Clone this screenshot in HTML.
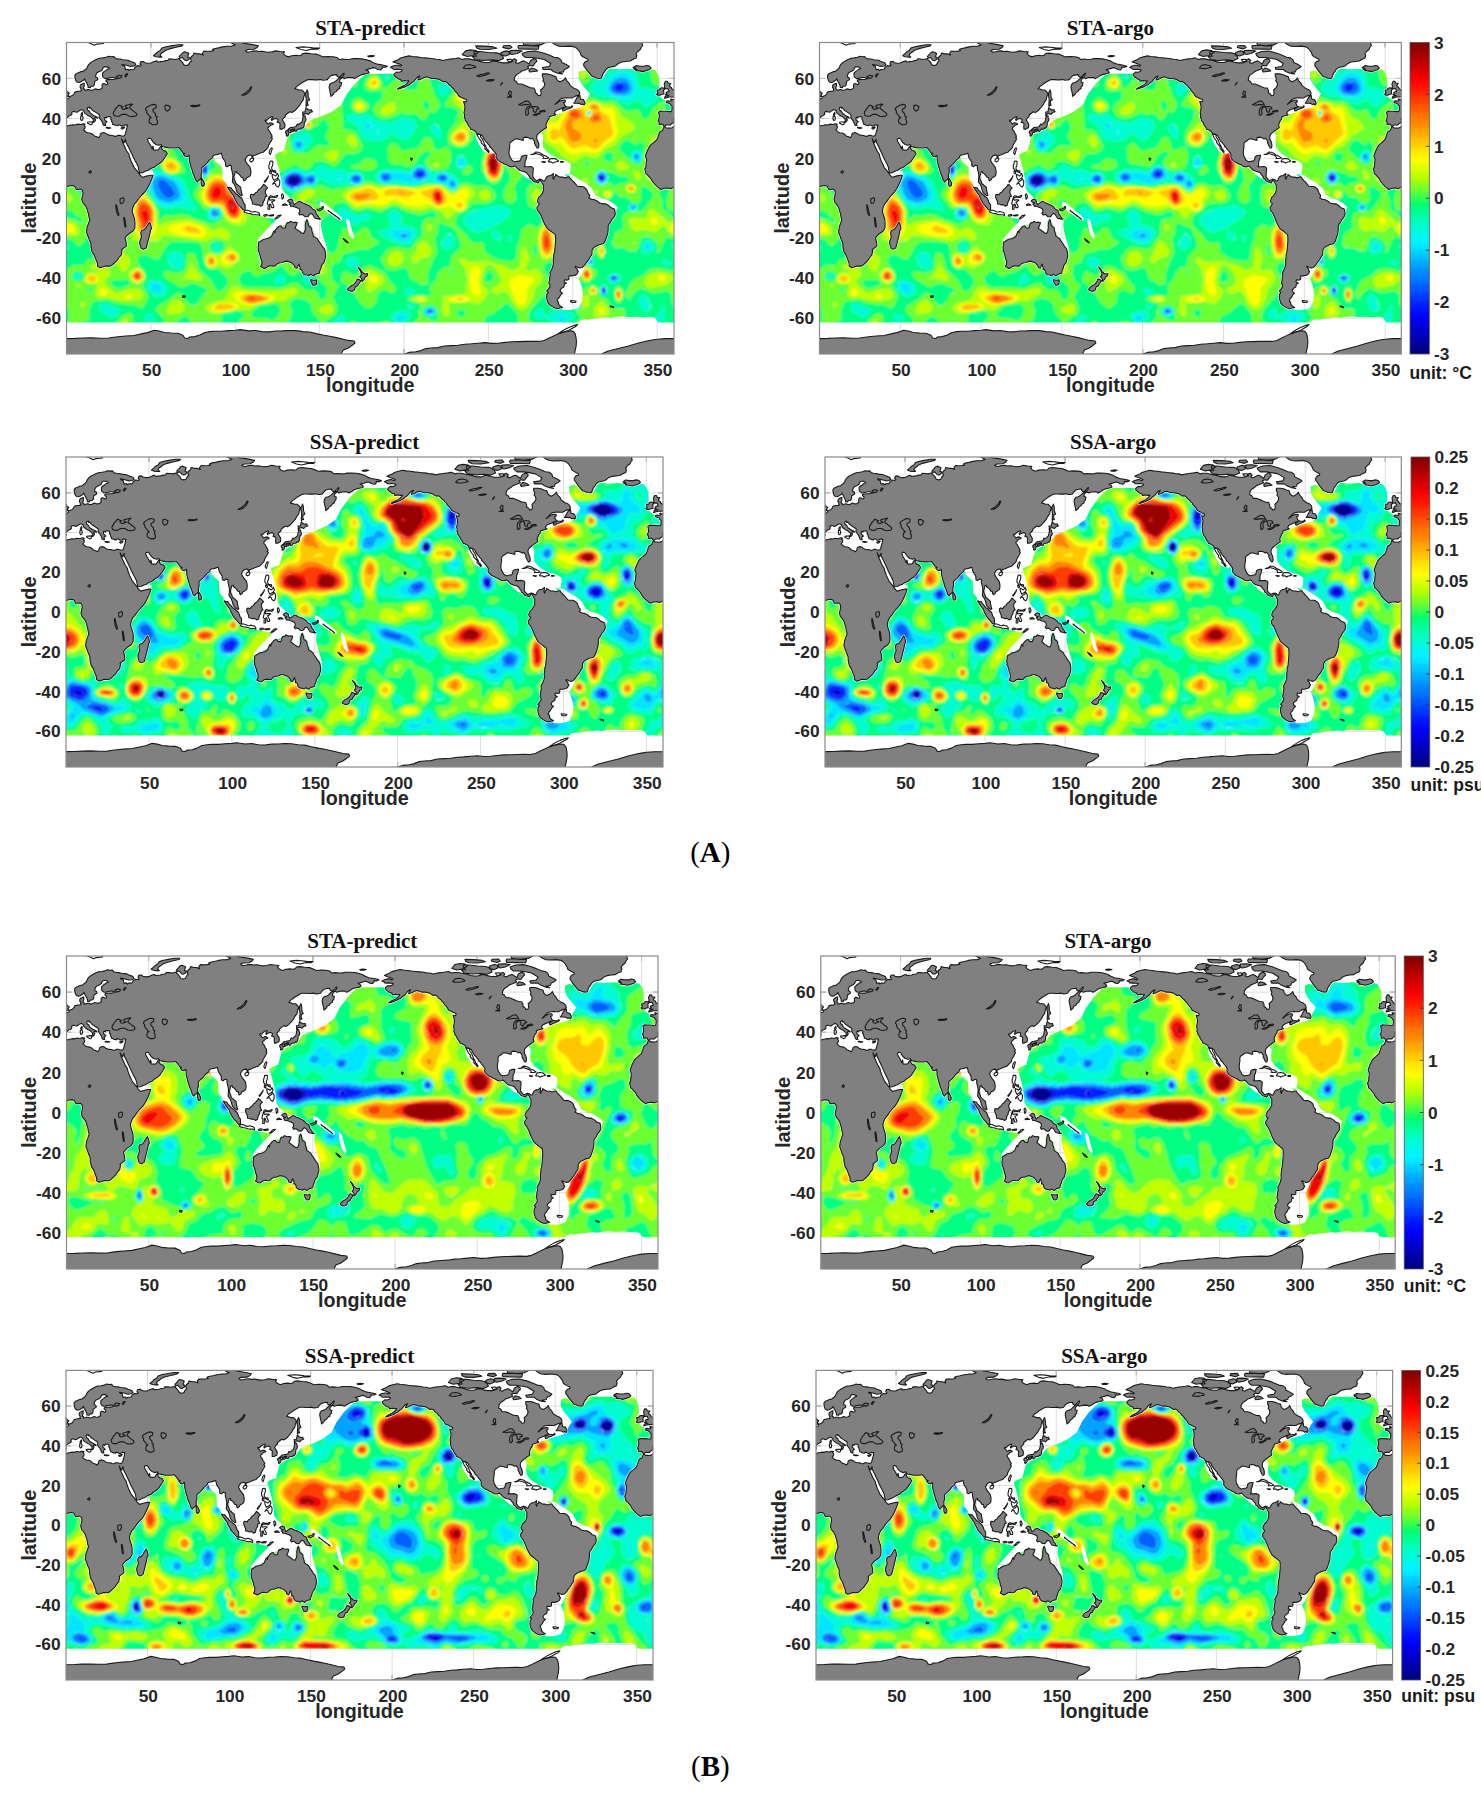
<!DOCTYPE html><html><head><meta charset="utf-8"><style>html,body{margin:0;padding:0;background:#fff;overflow:hidden;}svg{display:block}</style></head><body>
<svg width="1481" height="1800" viewBox="0 0 1481 1800">
<defs>
<clipPath id="cp"><rect x="0" y="-78" width="360" height="156"/></clipPath>
<path id="lp" vector-effect="non-scaling-stroke" d="M-5.9,-35.8L-6.8,-34L-8.5,-33.2L-9.6,-30.5L-10.2,-29.3L-12,-28L-13.5,-27L-14.5,-26L-15.8,-23.8L-16.5,-22.3L-17,-21L-16.2,-19.5L-16.5,-17.5L-16.7,-15.5L-17.4,-14.7L-16.8,-13.2L-16.7,-12.3L-15.5,-11.5L-14.7,-10.7L-13.5,-9.6L-12.8,-8.4L-11.3,-6.9L-9.8,-5.7L-7.7,-4.4L-5.8,-5L-3.5,-5.1L-2,-4.8L0,-5.6L1.6,-6.2L3.5,-6.4L4.8,-6L5.8,-4.4L7,-4.4L8.4,-4.6L9.5,-3.8L9.8,-2.5L9.4,-1L9,0.6L9.6,2.2L11.2,3.8L12,5L12.3,6L13,7.8L13.3,9.5L13.8,10.8L12.9,12.9L12.2,14.4L11.8,17L12.5,18.5L13.5,20.8L14.4,22.5L14.5,24.5L15.2,27L16.5,28.6L17.3,30.5L18.3,32.5L18.4,34L19.8,34.8L21.5,34.4L23,33.9L25.6,34L26.8,33.6L28.5,32.3L30,31.1L31,29.8L32.4,28.5L32.9,26.2L32.6,25.8L35.5,24L35.3,21.8L34.7,20L35.2,19.2L36.8,17.9L39.3,16.5L40.5,15L40.6,12.5L40.4,10.5L39.4,8L38.9,6.3L39.3,4.8L40.2,3L41.6,1.7L43,0L44.5,-1.5L46.5,-3.2L48,-5L49.5,-7.5L50.5,-9.5L51.3,-11.5L50,-11.5L48,-11.2L45,-10.5L43.5,-11.7L42.9,-12.6L41.5,-14L40,-15.5L39.2,-17L38.4,-18.3L37.4,-20.5L37,-22L35.6,-23.8L34.5,-25.8L33.5,-27.5L32.6,-29.8L33.3,-28.6L34.2,-27.8L34.5,-28.8L35,-29.5L35.2,-28L36.5,-26L37.5,-24.3L38.8,-22L39.3,-21L40.5,-19L41.5,-17.5L42.6,-15.6L42.8,-14.5L43.3,-12.7L45,-12.8L47,-13.6L48.5,-14L50,-14.9L52.2,-15.6L53.5,-16.6L55.3,-17.5L56.6,-18.4L57.8,-19.8L58.6,-20.8L59.8,-22.4L58.8,-23.6L57.5,-23.9L56.4,-24.8L56.3,-26.3L55.5,-25.6L54.5,-24.3L53,-24.1L51.6,-24.2L51.4,-25.5L51.2,-26.1L50.8,-24.8L50.2,-25.8L49.6,-26.8L48.5,-28.2L48,-29.5L48.6,-30L49.5,-30L50.3,-29.6L50.8,-28.7L51.5,-27.9L53,-26.9L54.6,-26.5L56,-26.9L57,-25.8L58.5,-25.6L61,-25.2L62.5,-25.2L64.5,-25.2L66.5,-25.4L67.3,-24.6L68.3,-23.6L68.8,-22.8L70,-22.5L69.2,-22.1L70.3,-21L71.5,-20.8L72.6,-21.5L72.8,-20.3L72.8,-18.9L73.3,-17.2L73.8,-15.6L74.4,-14.2L74.8,-12.8L75.6,-11.4L76.2,-10L76.6,-8.9L77.5,-8.1L78.2,-8.9L79,-9.3L79.9,-10.3L79.8,-11.8L80.3,-13.1L80.2,-15.3L81,-15.9L82.3,-16.8L83.5,-17.8L84.8,-19.2L86.5,-20.2L87,-21.4L88.2,-21.8L89,-21.8L90.5,-22.2L91.8,-22.5L92.2,-21.2L92.4,-20.3L93.3,-19.3L94.2,-18L94.3,-16.2L95.3,-15.8L96.5,-16.6L97.7,-16.3L97.7,-14.8L98.2,-13.2L98.6,-11.5L98.5,-10L98.3,-8.5L98.5,-7.9L99.6,-6.8L100.3,-5.2L100.7,-3.9L101.3,-2.8L102.5,-1.9L103.5,-1.3L104.2,-1.5L103.8,-2.6L103.4,-4.2L103.2,-5.5L102.2,-6.2L101.2,-6.9L100.4,-7.4L100,-8.5L99.3,-9.8L99.2,-10.8L99.6,-12L100,-13.3L100.9,-13.4L100.9,-12.7L102,-12.2L102.8,-11.5L103.6,-10.5L104.5,-10.4L104.8,-9.3L105.1,-8.7L106.2,-9.3L106.8,-10.3L107.8,-10.6L109,-11.4L109.3,-12.8L109.2,-14L108.8,-15.4L108,-16.3L107,-17.3L106.3,-18.3L105.8,-19.2L106.5,-20.4L107.5,-21.3L108.6,-21.6L109.7,-21.5L109.9,-20.5L110.4,-20.3L110.5,-21.2L111.5,-21.5L112.5,-21.8L113.5,-22.2L114.2,-22.4L115.5,-22.8L116.5,-23L117.5,-23.8L118.5,-24.6L119.4,-25.4L119.7,-26.5L120.3,-27.3L121,-28.3L121.6,-29.1L122,-30L121.3,-30.5L121.9,-31L121.5,-31.8L120.9,-32.5L120.4,-33.5L119.3,-34.6L119.4,-35.3L120.4,-36L121,-36.6L122.5,-37L122.3,-37.4L121.4,-37.7L120.5,-37.8L119.4,-37.2L118.9,-37.6L118.3,-38.3L117.6,-38.8L117.8,-39.2L118.8,-39.1L119.5,-39.8L120.8,-40.5L121.9,-40.9L122.2,-40.4L121.3,-39.5L121.6,-38.9L122.3,-39.4L123.3,-39.8L124.3,-39.9L125.2,-39.5L125.3,-38.7L124.8,-38.1L126,-37.8L126.6,-37.1L126.4,-36L126.5,-34.6L127.5,-34.6L128.5,-35L129.3,-35.3L129.5,-36.5L129.4,-37.2L128.6,-38.3L127.9,-39.3L128.5,-40L129.7,-40.9L129.7,-41.7L130.7,-42.3L131.5,-42.8L132.3,-43.3L133.5,-42.9L135.2,-43.8L136.8,-45.2L138.2,-46.6L139.1,-48L140.3,-49.3L140.6,-50.7L141.3,-52.4L140.6,-53.3L139.5,-54.2L137.6,-54.2L136.8,-54.6L135.3,-54.8L136.3,-55.9L137.9,-56.8L139.3,-57.7L141.2,-58.6L142.5,-59.2L143.5,-59.4L145.5,-59.4L147.2,-59.3L148.8,-59.3L150.5,-59.5L152,-59.1L153.3,-59.2L154.6,-59.4L155.2,-60.2L156.7,-61.4L158.5,-61.8L160.2,-61.9L160.3,-61.2L161.5,-60.4L163.2,-61.6L163.8,-62.3L164.6,-62.6L164.2,-61.5L163.5,-60.9L163.6,-60.5L162.6,-59.9L162,-59.3L161.8,-58.2L163.1,-57.8L162.8,-57.1L162.7,-56.3L161.8,-55.7L161.9,-55L160.5,-54.3L159.8,-53.4L158.6,-52.9L158.3,-52.2L156.7,-51L156.4,-52.5L156,-54L155.6,-55.5L155.9,-56.8L156.8,-57.7L158.3,-58L159.6,-58.7L161,-59.8L161.5,-60.1L162,-60.4L163.3,-60.7L164.5,-59.9L165.5,-60.2L166.5,-60.4L168,-60.5L169.8,-60.4L170.5,-59.9L171.5,-60.3L172.5,-60.8L173.8,-61.5L175,-61.9L176.8,-62.3L178.5,-62.5L179.3,-63L178.7,-63.8L177.4,-64.4L178.5,-64.6L180,-64.9L181.5,-65.4L182.8,-65.3L184.5,-64.5L186.2,-64.3L187.1,-65L187,-65.7L189,-65.6L190.2,-66.1L188.5,-66.5L186,-66.9L184,-67.2L181.5,-68L180,-68.8L177,-69.5L175,-69.8L172,-69.9L169.5,-69.9L168,-69.6L166,-69.5L163.5,-69.7L161.5,-69.5L160.3,-70.5L158,-70.9L155,-71L152,-70.8L150.5,-71.4L148,-72.2L145,-72.4L142,-72.7L140,-72.5L139,-71.6L137.5,-71.4L136,-71.6L133.5,-71.4L131.5,-70.8L129.5,-71.5L128.5,-72.5L129.2,-73.3L126.5,-73.5L124,-73.8L122,-73.3L119,-73.1L116,-73.6L113.5,-73.5L112.5,-73.8L110.5,-73.7L109,-73.4L107,-73.2L106,-73.9L107.5,-74.5L111,-74.6L113,-75.5L113.7,-76.3L111,-76.8L107.5,-77.3L104.5,-77.7L101,-79L95,-79L100,-76.8L98,-76.2L95,-76.1L92.5,-75.8L90,-75.3L87.5,-74.9L86.5,-74.5L87.2,-73.9L85.5,-73.7L83,-73.6L81.5,-73.7L80.5,-72.6L81,-71.7L79,-72.3L77.5,-72.3L75.5,-72.7L75,-71.5L74,-71L73.5,-69.8L74,-68.8L73.2,-68.2L72.3,-66.8L71,-66.5L69.5,-66.8L69,-67.7L68.2,-68.5L67.8,-68.9L66.9,-69.5L67.2,-70.4L66.8,-71L68,-72L69,-73L70,-73.4L71.5,-73L72.5,-72.5L72,-71.5L71.8,-70.7L73,-70.5L72.5,-69.5L71,-68.9L70,-69.2L68.6,-70.5L68,-70.4L66.2,-69.9L64.5,-69.5L62.5,-69.7L60.7,-69.8L60,-69L58.5,-68.9L57,-68.5L55.5,-68.4L54,-68.2L53.5,-68.8L52,-68.5L50,-67.7L48,-67.6L46.5,-67.9L45.5,-68.5L44,-68.4L43.5,-67.3L44.3,-66.6L43.8,-66.2L42,-66.4L40.5,-65.5L40,-64.6L38,-64.5L37,-64L36.5,-64.6L35,-64.4L34.7,-65.3L34.5,-66.2L33.2,-66.5L32.8,-67L35,-66.7L38,-66L40,-66.2L41.1,-66.8L40.5,-67.7L39.5,-68.1L38,-68.5L36.5,-69.1L33.5,-69.4L31.8,-69.7L30.5,-69.8L29,-70L28,-71L26.5,-70.9L25,-71.1L23.5,-70.6L21.5,-70.3L19.5,-70.1L18,-69.6L16.5,-69L15,-68.3L14,-67.7L13,-66.8L12.5,-66L12.2,-65.3L11.3,-64.5L10.5,-64.1L9.8,-63.5L8.5,-63.4L7,-62.8L5.8,-62.4L5,-61.7L5,-60.5L5.3,-59.5L5.6,-58.8L6.5,-58.1L7.5,-58L8.3,-58.2L9.5,-58.8L10.4,-59.3L10.6,-59.9L11,-59.2L11.3,-58.7L11.8,-58L12.5,-56.9L12.8,-56.2L12.8,-55.5L14.2,-55.4L14.4,-56.1L15.8,-56.1L16.5,-56.8L16.6,-57.6L16.7,-58.5L17.5,-58.9L18.6,-59.5L18.3,-60.4L17.3,-60.7L17.3,-61.6L17.8,-62.5L18.5,-63.1L20.2,-63.7L21.2,-64.3L21.5,-65L22.3,-65.8L23.9,-65.8L25.2,-65.4L25.4,-64.9L24.4,-64.7L23.2,-63.9L22.3,-63.4L21.3,-62.6L21.4,-61.6L21.5,-60.8L22.3,-60.3L22.9,-59.9L24,-60L25.5,-60.3L26.8,-60.5L28,-60.5L29,-60.2L30,-59.9L29,-59.9L28,-59.5L26.5,-59.5L24.5,-59.4L23.5,-59.2L23.4,-58.6L24,-58.2L24.4,-57.8L24.3,-57.1L23.5,-56.9L23,-57.2L21.9,-57.5L21.2,-57L21,-56.4L21.1,-55.8L21.2,-55.2L20.5,-54.9L19.8,-54.5L18.6,-54.4L17.2,-54.8L16,-54.3L14.5,-54L13.5,-54.4L12.5,-54.4L11.5,-54.1L10.8,-54L10.8,-54.6L10,-54.9L10.2,-55.6L10.6,-56.3L10.4,-56.8L10.6,-57.6L9.9,-57.5L9,-57.1L8.4,-56.8L8.1,-56.3L8.1,-55.5L8.6,-54.9L8.6,-54.3L8.9,-53.9L8.2,-53.6L7,-53.6L6,-53.4L5,-53.2L4.7,-52.6L4.2,-52L3.6,-51.5L3,-51.3L2.4,-51.05L1.6,-50.9L1.6,-50.3L1.2,-50L0.3,-49.7L0,-49.4L-1.1,-49.4L-1.3,-49.7L-1.9,-49.7L-1.6,-48.8L-2.5,-48.6L-3.5,-48.8L-4.6,-48.6L-4.3,-48.1L-4.5,-47.9L-3.5,-47.7L-2.6,-47.4L-2.1,-47.1L-1.9,-46.6L-1.2,-46.1L-1.2,-45.2L-1.2,-44.4L-1.5,-43.5L-2.5,-43.4L-3.8,-43.5L-5,-43.6L-6.5,-43.6L-8,-43.7L-9.2,-43.1L-8.9,-42.3L-8.8,-41.5L-8.7,-40.6L-9,-39.8L-9.4,-39.2L-9.5,-38.7L-8.9,-38.5L-8.8,-37.9L-8.9,-37L-7.9,-37L-7.4,-37.2L-6.5,-36.9L-6.2,-36.3L-5.6,-36L-5,-36.5L-4.4,-36.7L-3,-36.7L-2.1,-36.7L-1.3,-37.5L-0.7,-37.6L-0.3,-38.3L0.2,-38.7L-0.3,-39.4L0,-40L0.8,-40.7L1.5,-41.2L2.2,-41.4L3.2,-41.9L3.1,-43L4,-43.5L4.8,-43.4L5.5,-43.2L6.3,-43.1L7,-43.5L7.6,-43.8L8.5,-44.3L9.3,-44.3L10,-44L10.5,-43.3L10.6,-42.9L11.2,-42.4L11.8,-42L12.5,-41.6L13.2,-41.2L14,-41L14.6,-40.6L15.1,-40.2L15.7,-39.8L16,-39L15.7,-38.2L16.1,-38L16.6,-38.4L17.1,-38.9L17.2,-39.4L16.6,-39.7L16.9,-40.4L17.5,-40.3L18.5,-40.1L18.1,-40.6L17,-41.1L16,-41.5L15.3,-41.9L14.5,-42.3L13.9,-42.9L13.6,-43.6L12.5,-44.2L12.3,-45.2L12.9,-45.6L13.7,-45.7L13.6,-45.1L14.3,-45.2L14.9,-44.6L15.6,-43.9L16.5,-43.5L17.3,-43L18.5,-42.4L19.4,-41.9L19.5,-41.3L19.3,-40.4L20,-39.6L20.6,-39L21.1,-38.3L21.6,-37.3L21.7,-36.8L22.4,-36.4L23.2,-36.4L22.9,-37.5L23.5,-38L24,-38.2L23.2,-38.9L22.6,-39.3L22.6,-40.2L22.9,-40.6L23.7,-40.2L24,-40.8L25.3,-40.9L26.1,-40.7L26.4,-40.2L26.2,-39.5L26.8,-39L26.8,-38.4L27.3,-37.5L27.4,-37L28.3,-36.8L29.2,-36.4L30.4,-36.3L30.7,-36.8L31.6,-36.7L32.6,-36.1L33.6,-36.2L34.6,-36.8L35.6,-36.6L36.2,-36.6L35.8,-36.1L35.9,-35.3L35.5,-34.2L35.1,-33L34.8,-32.1L34.3,-31.3L33.5,-31.1L32.3,-31.3L31.6,-31.5L30.4,-31.5L29.5,-31L28.3,-31.1L27.3,-31.4L25.2,-31.6L24,-32L23.1,-32.6L22,-32.9L20.9,-32.7L20.1,-32.2L19.9,-31.3L19.1,-30.3L18,-30.8L16.5,-31.2L15.3,-32.2L14,-32.7L12.5,-32.8L11.5,-33.2L10.8,-33.7L10.1,-34.3L10.9,-35.1L11.1,-35.9L10.4,-36.7L11,-37.1L10.1,-37.3L9.3,-37.2L8.4,-36.9L6.4,-37.1L5.2,-36.7L3.5,-36.8L2.4,-36.6L1,-36.4L0,-35.9L-1.2,-35.3L-2.2,-35.1L-3.5,-35.2L-4.6,-35.2L-5.4,-35.9ZM354.1,-35.8L353.2,-34L351.5,-33.2L350.4,-30.5L349.8,-29.3L348,-28L346.5,-27L345.5,-26L344.2,-23.8L343.5,-22.3L343,-21L343.8,-19.5L343.5,-17.5L343.3,-15.5L342.6,-14.7L343.2,-13.2L343.3,-12.3L344.5,-11.5L345.3,-10.7L346.5,-9.6L347.2,-8.4L348.7,-6.9L350.2,-5.7L352.3,-4.4L354.2,-5L356.5,-5.1L358,-4.8L360,-5.6L361.6,-6.2L363.5,-6.4L364.8,-6L365.8,-4.4L367,-4.4L368.4,-4.6L369.5,-3.8L369.8,-2.5L369.4,-1L369,0.6L369.6,2.2L371.2,3.8L372,5L372.3,6L373,7.8L373.3,9.5L373.8,10.8L372.9,12.9L372.2,14.4L371.8,17L372.5,18.5L373.5,20.8L374.4,22.5L374.5,24.5L375.2,27L376.5,28.6L377.3,30.5L378.3,32.5L378.4,34L379.8,34.8L381.5,34.4L383,33.9L385.6,34L386.8,33.6L388.5,32.3L390,31.1L391,29.8L392.4,28.5L392.9,26.2L392.6,25.8L395.5,24L395.3,21.8L394.7,20L395.2,19.2L396.8,17.9L399.3,16.5L400.5,15L400.6,12.5L400.4,10.5L399.4,8L398.9,6.3L399.3,4.8L400.2,3L401.6,1.7L403,0L404.5,-1.5L406.5,-3.2L408,-5L409.5,-7.5L410.5,-9.5L411.3,-11.5L410,-11.5L408,-11.2L405,-10.5L403.5,-11.7L402.9,-12.6L401.5,-14L400,-15.5L399.2,-17L398.4,-18.3L397.4,-20.5L397,-22L395.6,-23.8L394.5,-25.8L393.5,-27.5L392.6,-29.8L393.3,-28.6L394.2,-27.8L394.5,-28.8L395,-29.5L395.2,-28L396.5,-26L397.5,-24.3L398.8,-22L399.3,-21L400.5,-19L401.5,-17.5L402.6,-15.6L402.8,-14.5L403.3,-12.7L405,-12.8L407,-13.6L408.5,-14L410,-14.9L412.2,-15.6L413.5,-16.6L415.3,-17.5L416.6,-18.4L417.8,-19.8L418.6,-20.8L419.8,-22.4L418.8,-23.6L417.5,-23.9L416.4,-24.8L416.3,-26.3L415.5,-25.6L414.5,-24.3L413,-24.1L411.6,-24.2L411.4,-25.5L411.2,-26.1L410.8,-24.8L410.2,-25.8L409.6,-26.8L408.5,-28.2L408,-29.5L408.6,-30L409.5,-30L410.3,-29.6L410.8,-28.7L411.5,-27.9L413,-26.9L414.6,-26.5L416,-26.9L417,-25.8L418.5,-25.6L421,-25.2L422.5,-25.2L424.5,-25.2L426.5,-25.4L427.3,-24.6L428.3,-23.6L428.8,-22.8L430,-22.5L429.2,-22.1L430.3,-21L431.5,-20.8L432.6,-21.5L432.8,-20.3L432.8,-18.9L433.3,-17.2L433.8,-15.6L434.4,-14.2L434.8,-12.8L435.6,-11.4L436.2,-10L436.6,-8.9L437.5,-8.1L438.2,-8.9L439,-9.3L439.9,-10.3L439.8,-11.8L440.3,-13.1L440.2,-15.3L441,-15.9L442.3,-16.8L443.5,-17.8L444.8,-19.2L446.5,-20.2L447,-21.4L448.2,-21.8L449,-21.8L450.5,-22.2L451.8,-22.5L452.2,-21.2L452.4,-20.3L453.3,-19.3L454.2,-18L454.3,-16.2L455.3,-15.8L456.5,-16.6L457.7,-16.3L457.7,-14.8L458.2,-13.2L458.6,-11.5L458.5,-10L458.3,-8.5L458.5,-7.9L459.6,-6.8L460.3,-5.2L460.7,-3.9L461.3,-2.8L462.5,-1.9L463.5,-1.3L464.2,-1.5L463.8,-2.6L463.4,-4.2L463.2,-5.5L462.2,-6.2L461.2,-6.9L460.4,-7.4L460,-8.5L459.3,-9.8L459.2,-10.8L459.6,-12L460,-13.3L460.9,-13.4L460.9,-12.7L462,-12.2L462.8,-11.5L463.6,-10.5L464.5,-10.4L464.8,-9.3L465.1,-8.7L466.2,-9.3L466.8,-10.3L467.8,-10.6L469,-11.4L469.3,-12.8L469.2,-14L468.8,-15.4L468,-16.3L467,-17.3L466.3,-18.3L465.8,-19.2L466.5,-20.4L467.5,-21.3L468.6,-21.6L469.7,-21.5L469.9,-20.5L470.4,-20.3L470.5,-21.2L471.5,-21.5L472.5,-21.8L473.5,-22.2L474.2,-22.4L475.5,-22.8L476.5,-23L477.5,-23.8L478.5,-24.6L479.4,-25.4L479.7,-26.5L480.3,-27.3L481,-28.3L481.6,-29.1L482,-30L481.3,-30.5L481.9,-31L481.5,-31.8L480.9,-32.5L480.4,-33.5L479.3,-34.6L479.4,-35.3L480.4,-36L481,-36.6L482.5,-37L482.3,-37.4L481.4,-37.7L480.5,-37.8L479.4,-37.2L478.9,-37.6L478.3,-38.3L477.6,-38.8L477.8,-39.2L478.8,-39.1L479.5,-39.8L480.8,-40.5L481.9,-40.9L482.2,-40.4L481.3,-39.5L481.6,-38.9L482.3,-39.4L483.3,-39.8L484.3,-39.9L485.2,-39.5L485.3,-38.7L484.8,-38.1L486,-37.8L486.6,-37.1L486.4,-36L486.5,-34.6L487.5,-34.6L488.5,-35L489.3,-35.3L489.5,-36.5L489.4,-37.2L488.6,-38.3L487.9,-39.3L488.5,-40L489.7,-40.9L489.7,-41.7L490.7,-42.3L491.5,-42.8L492.3,-43.3L493.5,-42.9L495.2,-43.8L496.8,-45.2L498.2,-46.6L499.1,-48L500.3,-49.3L500.6,-50.7L501.3,-52.4L500.6,-53.3L499.5,-54.2L497.6,-54.2L496.8,-54.6L495.3,-54.8L496.3,-55.9L497.9,-56.8L499.3,-57.7L501.2,-58.6L502.5,-59.2L503.5,-59.4L505.5,-59.4L507.2,-59.3L508.8,-59.3L510.5,-59.5L512,-59.1L513.3,-59.2L514.6,-59.4L515.2,-60.2L516.7,-61.4L518.5,-61.8L520.2,-61.9L520.3,-61.2L521.5,-60.4L523.2,-61.6L523.8,-62.3L524.6,-62.6L524.2,-61.5L523.5,-60.9L523.6,-60.5L522.6,-59.9L522,-59.3L521.8,-58.2L523.1,-57.8L522.8,-57.1L522.7,-56.3L521.8,-55.7L521.9,-55L520.5,-54.3L519.8,-53.4L518.6,-52.9L518.3,-52.2L516.7,-51L516.4,-52.5L516,-54L515.6,-55.5L515.9,-56.8L516.8,-57.7L518.3,-58L519.6,-58.7L521,-59.8L521.5,-60.1L522,-60.4L523.3,-60.7L524.5,-59.9L525.5,-60.2L526.5,-60.4L528,-60.5L529.8,-60.4L530.5,-59.9L531.5,-60.3L532.5,-60.8L533.8,-61.5L535,-61.9L536.8,-62.3L538.5,-62.5L539.3,-63L538.7,-63.8L537.4,-64.4L538.5,-64.6L540,-64.9L541.5,-65.4L542.8,-65.3L544.5,-64.5L546.2,-64.3L547.1,-65L547,-65.7L549,-65.6L550.2,-66.1L548.5,-66.5L546,-66.9L544,-67.2L541.5,-68L540,-68.8L537,-69.5L535,-69.8L532,-69.9L529.5,-69.9L528,-69.6L526,-69.5L523.5,-69.7L521.5,-69.5L520.3,-70.5L518,-70.9L515,-71L512,-70.8L510.5,-71.4L508,-72.2L505,-72.4L502,-72.7L500,-72.5L499,-71.6L497.5,-71.4L496,-71.6L493.5,-71.4L491.5,-70.8L489.5,-71.5L488.5,-72.5L489.2,-73.3L486.5,-73.5L484,-73.8L482,-73.3L479,-73.1L476,-73.6L473.5,-73.5L472.5,-73.8L470.5,-73.7L469,-73.4L467,-73.2L466,-73.9L467.5,-74.5L471,-74.6L473,-75.5L473.7,-76.3L471,-76.8L467.5,-77.3L464.5,-77.7L461,-79L455,-79L460,-76.8L458,-76.2L455,-76.1L452.5,-75.8L450,-75.3L447.5,-74.9L446.5,-74.5L447.2,-73.9L445.5,-73.7L443,-73.6L441.5,-73.7L440.5,-72.6L441,-71.7L439,-72.3L437.5,-72.3L435.5,-72.7L435,-71.5L434,-71L433.5,-69.8L434,-68.8L433.2,-68.2L432.3,-66.8L431,-66.5L429.5,-66.8L429,-67.7L428.2,-68.5L427.8,-68.9L426.9,-69.5L427.2,-70.4L426.8,-71L428,-72L429,-73L430,-73.4L431.5,-73L432.5,-72.5L432,-71.5L431.8,-70.7L433,-70.5L432.5,-69.5L431,-68.9L430,-69.2L428.6,-70.5L428,-70.4L426.2,-69.9L424.5,-69.5L422.5,-69.7L420.7,-69.8L420,-69L418.5,-68.9L417,-68.5L415.5,-68.4L414,-68.2L413.5,-68.8L412,-68.5L410,-67.7L408,-67.6L406.5,-67.9L405.5,-68.5L404,-68.4L403.5,-67.3L404.3,-66.6L403.8,-66.2L402,-66.4L400.5,-65.5L400,-64.6L398,-64.5L397,-64L396.5,-64.6L395,-64.4L394.7,-65.3L394.5,-66.2L393.2,-66.5L392.8,-67L395,-66.7L398,-66L400,-66.2L401.1,-66.8L400.5,-67.7L399.5,-68.1L398,-68.5L396.5,-69.1L393.5,-69.4L391.8,-69.7L390.5,-69.8L389,-70L388,-71L386.5,-70.9L385,-71.1L383.5,-70.6L381.5,-70.3L379.5,-70.1L378,-69.6L376.5,-69L375,-68.3L374,-67.7L373,-66.8L372.5,-66L372.2,-65.3L371.3,-64.5L370.5,-64.1L369.8,-63.5L368.5,-63.4L367,-62.8L365.8,-62.4L365,-61.7L365,-60.5L365.3,-59.5L365.6,-58.8L366.5,-58.1L367.5,-58L368.3,-58.2L369.5,-58.8L370.4,-59.3L370.6,-59.9L371,-59.2L371.3,-58.7L371.8,-58L372.5,-56.9L372.8,-56.2L372.8,-55.5L374.2,-55.4L374.4,-56.1L375.8,-56.1L376.5,-56.8L376.6,-57.6L376.7,-58.5L377.5,-58.9L378.6,-59.5L378.3,-60.4L377.3,-60.7L377.3,-61.6L377.8,-62.5L378.5,-63.1L380.2,-63.7L381.2,-64.3L381.5,-65L382.3,-65.8L383.9,-65.8L385.2,-65.4L385.4,-64.9L384.4,-64.7L383.2,-63.9L382.3,-63.4L381.3,-62.6L381.4,-61.6L381.5,-60.8L382.3,-60.3L382.9,-59.9L384,-60L385.5,-60.3L386.8,-60.5L388,-60.5L389,-60.2L390,-59.9L389,-59.9L388,-59.5L386.5,-59.5L384.5,-59.4L383.5,-59.2L383.4,-58.6L384,-58.2L384.4,-57.8L384.3,-57.1L383.5,-56.9L383,-57.2L381.9,-57.5L381.2,-57L381,-56.4L381.1,-55.8L381.2,-55.2L380.5,-54.9L379.8,-54.5L378.6,-54.4L377.2,-54.8L376,-54.3L374.5,-54L373.5,-54.4L372.5,-54.4L371.5,-54.1L370.8,-54L370.8,-54.6L370,-54.9L370.2,-55.6L370.6,-56.3L370.4,-56.8L370.6,-57.6L369.9,-57.5L369,-57.1L368.4,-56.8L368.1,-56.3L368.1,-55.5L368.6,-54.9L368.6,-54.3L368.9,-53.9L368.2,-53.6L367,-53.6L366,-53.4L365,-53.2L364.7,-52.6L364.2,-52L363.6,-51.5L363,-51.3L362.4,-51.05L361.6,-50.9L361.6,-50.3L361.2,-50L360.3,-49.7L360,-49.4L358.9,-49.4L358.7,-49.7L358.1,-49.7L358.4,-48.8L357.5,-48.6L356.5,-48.8L355.4,-48.6L355.7,-48.1L355.5,-47.9L356.5,-47.7L357.4,-47.4L357.9,-47.1L358.1,-46.6L358.8,-46.1L358.8,-45.2L358.8,-44.4L358.5,-43.5L357.5,-43.4L356.2,-43.5L355,-43.6L353.5,-43.6L352,-43.7L350.8,-43.1L351.1,-42.3L351.2,-41.5L351.3,-40.6L351,-39.8L350.6,-39.2L350.5,-38.7L351.1,-38.5L351.2,-37.9L351.1,-37L352.1,-37L352.6,-37.2L353.5,-36.9L353.8,-36.3L354.4,-36L355,-36.5L355.6,-36.7L357,-36.7L357.9,-36.7L358.7,-37.5L359.3,-37.6L359.7,-38.3L360.2,-38.7L359.7,-39.4L360,-40L360.8,-40.7L361.5,-41.2L362.2,-41.4L363.2,-41.9L363.1,-43L364,-43.5L364.8,-43.4L365.5,-43.2L366.3,-43.1L367,-43.5L367.6,-43.8L368.5,-44.3L369.3,-44.3L370,-44L370.5,-43.3L370.6,-42.9L371.2,-42.4L371.8,-42L372.5,-41.6L373.2,-41.2L374,-41L374.6,-40.6L375.1,-40.2L375.7,-39.8L376,-39L375.7,-38.2L376.1,-38L376.6,-38.4L377.1,-38.9L377.2,-39.4L376.6,-39.7L376.9,-40.4L377.5,-40.3L378.5,-40.1L378.1,-40.6L377,-41.1L376,-41.5L375.3,-41.9L374.5,-42.3L373.9,-42.9L373.6,-43.6L372.5,-44.2L372.3,-45.2L372.9,-45.6L373.7,-45.7L373.6,-45.1L374.3,-45.2L374.9,-44.6L375.6,-43.9L376.5,-43.5L377.3,-43L378.5,-42.4L379.4,-41.9L379.5,-41.3L379.3,-40.4L380,-39.6L380.6,-39L381.1,-38.3L381.6,-37.3L381.7,-36.8L382.4,-36.4L383.2,-36.4L382.9,-37.5L383.5,-38L384,-38.2L383.2,-38.9L382.6,-39.3L382.6,-40.2L382.9,-40.6L383.7,-40.2L384,-40.8L385.3,-40.9L386.1,-40.7L386.4,-40.2L386.2,-39.5L386.8,-39L386.8,-38.4L387.3,-37.5L387.4,-37L388.3,-36.8L389.2,-36.4L390.4,-36.3L390.7,-36.8L391.6,-36.7L392.6,-36.1L393.6,-36.2L394.6,-36.8L395.6,-36.6L396.2,-36.6L395.8,-36.1L395.9,-35.3L395.5,-34.2L395.1,-33L394.8,-32.1L394.3,-31.3L393.5,-31.1L392.3,-31.3L391.6,-31.5L390.4,-31.5L389.5,-31L388.3,-31.1L387.3,-31.4L385.2,-31.6L384,-32L383.1,-32.6L382,-32.9L380.9,-32.7L380.1,-32.2L379.9,-31.3L379.1,-30.3L378,-30.8L376.5,-31.2L375.3,-32.2L374,-32.7L372.5,-32.8L371.5,-33.2L370.8,-33.7L370.1,-34.3L370.9,-35.1L371.1,-35.9L370.4,-36.7L371,-37.1L370.1,-37.3L369.3,-37.2L368.4,-36.9L366.4,-37.1L365.2,-36.7L363.5,-36.8L362.4,-36.6L361,-36.4L360,-35.9L358.8,-35.3L357.8,-35.1L356.5,-35.2L355.4,-35.2L354.6,-35.9ZM192,-65.6L193.5,-66.2L195.5,-66.6L196.5,-66.6L198,-66.1L198.7,-66.6L197,-67.3L195.5,-67.7L193.5,-68.3L195,-68.9L196.8,-69.5L198,-70.2L200.5,-70.8L203,-71.3L205,-71L207.5,-70.8L210,-70.5L212.5,-70.3L215,-70.1L217.5,-69.9L219,-69.6L221,-69.5L223,-69L225,-69.4L226.5,-69.6L228.5,-69.8L230.5,-70L232.5,-70.3L234.5,-69.5L236,-69.8L238.5,-69.8L241,-69.3L243.5,-69L246,-68.3L248,-68L250.5,-68L252,-68.6L254,-68.8L256,-68.2L258.5,-67.8L261.5,-67.8L263.5,-68.3L264.5,-69.5L265.7,-69.8L266.8,-69L266,-68L267.5,-67.5L269.5,-68.4L271,-68.8L272.2,-68.3L274,-67.2L275,-69L277,-70L278.5,-69.3L278.7,-68.5L277.5,-67.5L276.5,-66.3L274.5,-66.5L273.2,-66L274,-65L272.5,-64.5L271,-64L269.5,-63.6L268.5,-62.8L266.5,-61.8L265.5,-60.5L265.3,-59L266.5,-58.6L267.5,-57.2L269.5,-57.2L271.5,-56.6L273.5,-55.8L275,-55.3L277,-55.2L277.8,-54L277.8,-52.8L279,-52.2L279.6,-51.4L280.8,-51.5L281.3,-52.5L281,-54.2L282.7,-55.5L283.4,-56.8L283.1,-58L282.3,-58.8L282.7,-60L282,-61L282,-62.3L284.5,-62.3L286.5,-62L288.5,-61.3L290,-61L290.5,-59.5L291.5,-58.7L292.5,-58.3L293.7,-58.8L295,-59.5L295.7,-60.3L296.5,-58.8L298,-57.5L298.5,-56.5L300,-55.5L301,-55L302.5,-54.5L303.8,-53.5L304.2,-52.4L303.5,-51.6L302.5,-51.4L301,-50.9L299.5,-50.2L298,-50.2L296.5,-50.3L295,-50.2L293.5,-50L292.2,-49.3L291,-48.3L289.5,-47L290.5,-47.5L292,-48.5L293.5,-49.1L295,-49.2L295.7,-48.8L295.4,-48.1L294.5,-47.8L295.1,-47L295.4,-46.3L296.5,-45.8L298,-45.7L299,-45.6L299.5,-46.3L300,-45.9L299,-45.3L297.5,-44.8L296.2,-44.5L295,-43.8L294.2,-43.7L293.8,-44.5L295,-45.3L295.7,-45.6L294,-45.3L293,-44.8L291.5,-44.3L290.3,-43.9L289.7,-43.5L289.3,-42.9L289,-42.3L290,-41.9L289.6,-41.6L288.5,-41.4L287.5,-41.2L286.1,-40.8L286,-40.4L285.9,-39.6L285.1,-38.9L284.9,-38.3L284.4,-37.6L284.1,-36.5L284.5,-35.4L283.7,-34.9L282.7,-34.4L282,-33.9L281,-33.4L280.1,-32.7L279.3,-32.1L278.7,-31.3L278.6,-30.2L278.9,-29.2L279.5,-28.3L279.9,-27L279.9,-25.9L279.6,-25.2L278.9,-25.2L278.3,-25.9L277.9,-26.7L277.3,-27.6L277.3,-28.6L276.7,-29.3L276,-30L275,-29.7L274.3,-30.1L273.5,-30.4L272,-30.6L270.7,-30.3L270.6,-29.5L270.8,-29.1L270,-29.1L269,-29.3L268,-29.6L266.5,-29.8L265.5,-29.5L264.7,-28.9L263.5,-28.3L262.8,-27.7L262.6,-26.8L262.7,-25.8L262.4,-24.5L262.2,-22.8L262.4,-21.7L262.8,-20.7L263.5,-19.8L264,-19L264.8,-18.6L265.5,-18.2L266.5,-18.4L267.5,-18.6L268.5,-18.6L269.2,-19.3L269.6,-20.8L270.5,-21.3L271.8,-21.5L272.9,-21.5L272.6,-20.4L272.4,-19.5L271.8,-18.5L271.7,-17.5L271.7,-16.4L271.2,-15.8L272.2,-15.8L273.6,-15.8L275,-15.9L276,-15.6L276.7,-15L276.5,-13.5L276.4,-12L276.3,-10.8L277,-10L277.7,-9.3L278.5,-8.8L279.5,-9.2L280.5,-9.6L281.7,-9.3L282.6,-8.7L283.2,-8.6L283.8,-9.4L284.4,-10.5L285.2,-11L285.8,-11.3L286.8,-11.3L287.8,-11.9L288.6,-12.4L288.4,-11L288.1,-10.4L288.7,-9.5L289,-10.6L289.8,-11.2L289.8,-11.9L290.5,-11.5L291.6,-10.9L292.5,-10.6L294,-10.6L295.5,-10.2L297,-10.7L298,-10.7L298.5,-9.9L299.2,-9.4L300,-8.5L300.5,-8.3L301.5,-7.3L302,-6.8L302.8,-6L304.2,-5.9L305.5,-5.9L306.5,-5.6L307.7,-4.9L308.4,-4.2L308.8,-3.2L309.4,-2L310,-1.7L310.1,-0.9L309.5,-0.2L310.5,0.2L311.5,0.6L312.5,0.6L313.5,1L314.7,1.5L315.5,2.2L316.5,2.5L318,2.8L319.5,2.8L320.5,3.3L321.5,3.8L322.7,4.8L324,5.1L324.8,5.5L325.1,7L325.2,8L324.8,9L324.2,9.7L323.1,10.8L322.3,12.2L321.5,13L321,14L321,15.5L320.8,17.3L320.3,18.8L319.8,20L319.1,21.6L318.1,22.8L316.8,23L315.5,23.3L314.5,23.8L313.5,24.1L312.2,25L311.5,25.9L311.4,27L311.3,28.4L310.4,29.3L309.7,30.4L309,31.3L308,32.2L307.3,33.2L306.5,34L305.5,34.7L304.2,34.9L303,34.5L301.6,34L301.5,34.6L302.7,35.4L302.7,36.3L303.3,36.6L302.5,37.9L301.5,38.5L299.5,38.9L297.8,38.9L297.7,39.9L297.7,40.7L296.5,41L295,40.8L294.9,42L295.7,42.3L296.3,42.6L295.1,43L294.7,44.5L293.5,45L292.5,46L292.8,46.8L294,47.5L293,48.2L292,49.7L291.1,50.4L290.8,51.4L291.6,52.4L291.5,53L292.5,54L294,54.7L292.5,55L291,55.3L289.5,55L288,54.4L286.5,53.5L285.4,52.5L284.8,51L284.5,49.5L284.7,48L285.5,47L284.5,46.5L285.5,45.5L286.4,44.5L286.5,43.5L285.8,42.5L286.2,41.2L286.3,39.8L286.7,38.5L286.4,37.3L287.2,36L287.8,35L288.3,33.8L288.5,32.5L288.4,31L288.7,29.5L288.7,28.2L289.2,27L289.4,25.5L289.6,23.5L289.8,21.5L289.8,19.5L289.6,18.2L288.6,17.6L287.5,16.8L286,15.9L284.5,14.8L283.7,13.5L282.8,12L282.2,10.8L281.2,8.8L280.4,7.4L279.2,6.2L278.8,5.5L278.8,4.5L279.7,3.5L280.2,2.5L279.4,2.3L279,1.3L279.5,0.3L279.9,-0.7L280.8,-1.2L281.3,-1.8L282,-2.6L282.6,-3.8L282.6,-5L282.7,-6.3L282.1,-7.2L281.5,-8.2L280.8,-9L280,-8.5L279.5,-7.6L278.5,-8L277.5,-8.2L276.5,-8.6L275.5,-9.7L274.7,-10L274.3,-11L273.5,-11.8L272.5,-12.9L271.5,-13.2L270.2,-13.5L268.7,-13.9L267.7,-14.5L266.5,-15.6L265.5,-16.2L264.7,-15.8L263.5,-15.7L262.2,-16L261.2,-16.6L259.5,-17.2L258.4,-17.7L257,-18.2L255.8,-19L254.7,-20L254.5,-20.8L254.7,-21.8L254.2,-22.6L253.5,-23.3L252.5,-24.3L251.7,-25.2L250.8,-25.8L250.5,-26.6L249.6,-27.4L249,-28L248,-28.9L247.2,-30L246.5,-31.2L245.3,-31.9L243.6,-32.2L242.9,-32.5L242.7,-33.2L241.8,-33.8L241.2,-34L240.4,-34.4L239.4,-34.6L239.2,-35.4L238.5,-36L238.1,-36.6L237.6,-37.2L237.5,-37.8L237,-38.2L236.3,-38.9L236.2,-39.8L235.7,-40.4L235.9,-41.5L235.7,-42.3L235.5,-43L235.9,-44L236,-45L236.1,-46L235.9,-46.8L235.4,-48L235.3,-48.4L236.7,-48.2L237.2,-49L236.5,-49.6L235.2,-50L234.2,-50.5L232.8,-50.9L232.2,-51.5L231.8,-52.3L230.8,-53.2L229.7,-54.2L229.5,-54.8L228.5,-55.3L227.8,-56.2L226.5,-57L225.5,-58L224.5,-58.5L223.2,-58.3L222.2,-58.8L221,-59.5L219.5,-59.8L218,-60L216.5,-60L215,-60.3L213.5,-60.8L212,-60.5L210.5,-59.8L209.2,-59.4L208.2,-59.2L208.5,-60L209.5,-61.2L208.2,-60.8L207.4,-60.1L206.5,-59.3L206,-58.6L204.5,-57.8L203.5,-57L202,-56.4L200.5,-55.7L199,-55.3L197.5,-54.8L196,-54.6L197,-55.2L198.5,-55.9L200,-56.4L201.4,-57.3L202.4,-58.1L202.8,-58.8L201.7,-58.7L200.5,-58.9L199.5,-58.8L198.3,-58.6L198,-59.5L196.5,-59.8L195.5,-60.5L194.7,-61L194,-61.6L194.2,-62.3L195,-62.8L195.5,-63.2L197,-63.1L198.5,-63.5L199,-64.3L197.5,-64.5L196.2,-64.6L194.8,-64.5L193.7,-64.6L193.3,-65.1L192.5,-65.3ZM287,-78.5L289.5,-77L291.5,-76.2L294,-76L298,-76.2L301,-75.8L302.5,-75L303.5,-74L304.5,-72.8L305,-71.5L306,-70.9L307.5,-70.2L309,-69.6L309,-68.8L307.5,-68.5L306.5,-67.3L306.5,-66.3L307.5,-65.3L308.5,-64L309.5,-63L310.5,-62L311.5,-61L312.5,-60.8L314.5,-60.1L316,-60L317,-60.2L317.5,-61.5L318,-62.5L319,-63.5L319.7,-64.5L321,-65.4L322.5,-65.7L324,-65.9L325.5,-66.4L327,-67.5L329,-68.2L331.5,-68.5L334,-68.7L335.5,-69.5L337.5,-70.2L338,-71.5L337.5,-72.5L338.5,-73.5L340,-74.5L340.5,-75.5L341.5,-76.5L341,-77.5L341.5,-78.5ZM113.7,22.5L114.2,21.8L114.6,21.8L116.5,20.7L118.5,20.3L120,19.9L121.5,19L122.3,17.5L122.9,16.4L123.6,17.2L123.6,16.2L124.4,15.3L125.2,14.5L126,14L127,13.8L128,14.9L129,14.9L129.6,14.9L130,13.6L130.3,12.8L131,12.2L132,12.3L132.6,11.5L133.5,11.9L134.5,12.1L135.7,12L136.7,12.2L136.4,13.2L135.9,14.1L135.4,15L136.4,15.6L137.5,16.3L138.5,16.8L139.3,17.4L140.5,17.6L141.2,16.6L141.6,15L141.5,13.6L141.7,12.3L142.2,11L142.5,10.7L142.9,11.4L143.2,12.5L143.5,13.8L144.5,14.3L145.3,15L145.4,16.3L146,17.7L146.3,19L147.5,19.6L148.7,20.3L149.5,21.5L150.3,22.4L150.8,23L151.5,24L152.8,25.3L153.2,26.3L153.6,28.2L153.5,29.5L153,31L152.6,32.2L151.6,33.1L151,34.2L150.7,35.3L150.1,36.3L149.9,37.5L148.4,37.8L147.3,38.2L146.4,38.9L145.4,38.5L144.7,38.1L143.5,38.8L142.5,38.4L141.3,38.3L140.5,37.9L139.8,37.3L139.6,36.2L139,35.6L138.3,35.6L138.5,34.8L138.1,34.1L137.8,33L137.3,33.6L137,34.4L136.6,35L135.6,34.8L135.2,34.5L135.3,33.9L134.5,33.2L134,32.8L133.3,32.2L132,32L131.2,31.5L129.5,31.6L128,32.2L126.5,32.3L125,32.8L123.8,33.9L122.5,34L121,33.8L119.8,34L118.5,34.7L117.8,35.1L116.6,35L115.6,34.4L115,34.3L115.3,33.6L115.7,33.3L115.8,32L115.6,31L115,30L114.9,29L114.5,28.2L114.1,27L113.5,26.5L113.8,25.8L113.5,25L113.6,24.2L113.8,23.5ZM144.7,40.7L146.5,41.1L148.3,40.9L148.3,42.2L147.9,43.2L146.9,43.6L146,43.5L145.2,42.3L144.7,41.3ZM172.7,34.4L173.5,35L174.4,35.8L174.8,36.8L175.5,37L175.9,37.5L177,37.9L178.5,37.7L178.3,38.6L177.9,39.1L177,39.4L176.8,40L176.2,40.8L175.3,41.6L174.7,41.3L175.1,40.6L174.6,39.9L173.8,39.3L174.6,38.6L174.7,37.8L174.3,36.6L173.5,35.5ZM172.7,40.5L173.9,40.9L174.3,41.7L173.7,42.3L172.8,43.3L172.7,43.8L171.3,44.3L170.8,45.2L170.7,45.9L169.7,46.5L168.4,46.6L167.2,46.2L166.5,45.7L166.9,45.1L168.2,44.1L169.6,43.5L170.6,42.9L171.4,42L171.9,41.3L172.1,40.7ZM49.3,12L50,13.5L50.4,15.3L49.8,16L49.5,17.5L48.8,19.8L48,22.5L47.2,24.9L45.5,25.6L44.2,25L43.6,23.5L43.3,22L43.8,20.7L44.4,19.5L44,17.5L44.4,16.2L46.2,15.7L47.3,14.5L48,13.5L48.8,12.4ZM109,-1.6L109.7,-2L111,-1.7L111.8,-2.6L113,-3.2L113.9,-4.4L114.9,-4.9L115.5,-5.5L116.2,-6.2L116.8,-7L117.7,-6.4L118.5,-5.7L119.2,-5.2L118.3,-4.5L117.8,-3.5L117.9,-2.5L118.8,-1L117.9,-0.8L117.5,0L117.4,0.8L116.8,1.5L116.4,2.5L116.2,3.5L115,4L114.5,3.6L113.5,3.2L112.5,3.4L111.5,3L110.2,2.9L110.1,1.7L109.5,0.5L109,-0.5ZM95.3,-5.6L96.5,-5.3L97.5,-5.2L98.3,-4.2L99.5,-3.2L100.4,-2.2L101.3,-1.8L102.3,-1L103.1,-0.5L103.8,0L104.4,1L104.9,2.3L105.8,3.2L105.9,4.5L105.8,5.8L104.7,5.9L104,5.2L103,4.2L102,3.4L101.1,2.5L100.3,1.2L99.5,0L98.8,-1.6L98,-2.3L97.2,-3.3L96.4,-4.2ZM131,1.3L131.8,0.7L132.8,0.4L134,0.9L134.2,2L135,3.3L135.8,2.6L136.6,2.2L137.8,1.5L138.8,1.8L140,2.4L141,2.6L142.5,3.2L144,3.8L145,4.5L145.8,5.4L147.5,6.1L147.8,7L148.3,8.1L149.2,9L150,10.2L150.8,10.4L149.8,10.5L148.5,10.2L147.3,10L146.4,8.9L145.8,8L144.7,7.6L143.8,8.2L143.3,9L142.6,9.3L141.2,9.2L140.2,8.3L139.2,8.1L138.3,8.4L137.6,7.6L138.3,6.8L138,5.4L136.5,4.7L135.3,4.4L133.8,3.9L133,4.1L132.6,3.3L132,2.9L133.2,2.4L132.2,2.1L131.3,1.6ZM130.9,-34L131.6,-34.7L132.6,-35.4L133.5,-35.5L135,-35.7L136,-35.9L136.8,-37.2L137.3,-36.8L138.3,-37.4L139.4,-38.2L139.8,-39L140,-40.2L140.3,-41.2L141.4,-41.3L141.5,-40.5L142,-39.5L141.6,-38.5L141,-38.2L140.9,-37L140.7,-35.9L140,-35.1L139.4,-35.3L139.1,-34.8L138.3,-34.6L137.2,-34.6L136.8,-34.3L136.3,-33.6L135.5,-33.5L135.1,-34.2L135.3,-34.7L134.3,-34.7L133.3,-34.4L132.3,-34.2L131.2,-33.9ZM129.8,-33.4L130.5,-33.9L131.2,-33.8L131.9,-33L131.7,-32L131.2,-31.3L130.6,-31.1L130.2,-31.5L130.5,-32.3L129.8,-32.7ZM132.5,-33L132.7,-33.8L133.5,-34.3L134.6,-34.2L134.7,-33.8L134.1,-33.3L133.2,-33.3L132.9,-32.8ZM140,-41.5L140.1,-42.5L139.9,-43.2L141.3,-43.3L141.6,-44.4L141.9,-45.4L142.8,-44.7L143.8,-44.2L145.3,-44.3L145.3,-43.6L145.8,-43.3L144.3,-42.9L143.3,-42L142,-42.5L141,-42.3L140.5,-41.8ZM142,-46L142.5,-46.5L143.3,-46.6L142.8,-47.5L143,-49L144.1,-49.2L143.2,-51L143.2,-52.5L143,-53.5L142.6,-54.3L142.3,-53.6L141.8,-52.8L141.7,-51.5L142.1,-49.5L142,-48L141.9,-47ZM-5.7,-50.1L-4.2,-50.4L-3,-50.7L-1.5,-50.7L0.3,-50.8L1.4,-51.2L0.8,-51.6L1.7,-52.6L1,-53L0.3,-53.5L-0.2,-54.2L-1.2,-54.7L-1.6,-55.5L-2.5,-56L-2.8,-56.4L-1.9,-57.5L-3.5,-57.7L-4,-58.6L-5,-58.6L-5.5,-57.9L-5.8,-57L-5.5,-56.3L-5.6,-55.3L-4.8,-54.8L-3.6,-54.9L-3.2,-54.2L-2.9,-53.4L-4.2,-53.2L-4.7,-52.8L-4.1,-52.3L-5.2,-51.8L-4.2,-51.6L-3.1,-51.4L-4.3,-51.2L-5.3,-50.9ZM354.3,-50.1L355.8,-50.4L357,-50.7L358.5,-50.7L360.3,-50.8L361.4,-51.2L360.8,-51.6L361.7,-52.6L361,-53L360.3,-53.5L359.8,-54.2L358.8,-54.7L358.4,-55.5L357.5,-56L357.2,-56.4L358.1,-57.5L356.5,-57.7L356,-58.6L355,-58.6L354.5,-57.9L354.2,-57L354.5,-56.3L354.4,-55.3L355.2,-54.8L356.4,-54.9L356.8,-54.2L357.1,-53.4L355.8,-53.2L355.3,-52.8L355.9,-52.3L354.8,-51.8L355.8,-51.6L356.9,-51.4L355.7,-51.2L354.7,-50.9ZM354,-52.2L353.9,-53.3L353.8,-54L354.5,-54.6L353.8,-55.2L352.7,-55.3L351.7,-55L351.4,-54.3L350,-54.2L350.1,-53.4L350.5,-52.7L349.7,-52.1L350.4,-51.6L351.6,-51.6L353,-52.1ZM270,-72.5L273.5,-73.5L278,-73.7L283,-72.6L286,-71.7L289,-70.6L291.5,-70.3L293,-69.3L293.5,-68L296.5,-66.8L298,-66L296.5,-65L295,-64.5L294.5,-63.3L292,-63L294,-62.2L291.5,-62.5L288.5,-63.5L287,-64.5L285.5,-64.5L282.5,-64.5L282,-65.5L286,-66L287,-67.5L285,-68.5L283,-69.5L280,-70L276,-70.5L272,-70.5L270.5,-71.5ZM241.5,-73.5L245,-73.5L250,-73L255,-72.8L258,-72L259,-70L256,-68.9L252,-69.3L247,-69L242,-69.5L240.5,-71L243,-71.2L241.5,-72.5ZM234.5,-71.9L236.5,-73.8L239.5,-74.3L242.5,-74L244,-73L241,-71.5L237.5,-71ZM268,-76.5L274,-76.5L280,-76.3L279.5,-74.6L274,-74.7L268,-74.8L267.5,-75.8ZM270,-79L271,-76.8L276,-76.3L281,-76.8L285,-78.5L288,-79ZM263,-74L266.5,-74.1L270,-73.7L267,-72.5L264,-72L262.2,-72.8ZM257.5,-73L260.5,-73.8L263,-73.3L262.5,-72L260,-71.2L257.2,-71.8ZM242.5,-76.3L248,-76.2L253,-75.8L255,-75.1L250,-74.5L245,-74.6L243,-75.3ZM259,-76.4L263,-76.5L264,-75.5L262,-74.8L258.5,-75.5ZM51.5,-71.4L53,-72.5L54,-73.3L55.5,-74L56.5,-75.2L59,-75.9L62,-76.3L66,-76.9L69,-76.9L68.5,-76.3L65,-75.6L61,-74.8L58.5,-74L57.5,-73.2L56,-72.5L55.5,-71.5L56.5,-70.7L54.5,-70.7L53,-70.9ZM-1,70.3L5,70.2L10,70L15,69.9L20,70.1L25,70L28,69.6L32,69.2L35,69L40,68.7L45,67.8L48,67.3L52,66.1L55,66.5L58,67.2L62,67.5L66,67.6L69,68.6L70,70L72,70.2L73,69.5L76,69.3L79,68.5L82,67.2L85,66.8L88,66.6L92,66.6L96,66.3L100,66.1L103,65.8L108,66.4L112,66.2L116,66.8L120,66.9L124,66.5L128,66.4L132,66.2L136,66.3L140,66.8L144,67L148,67.8L152,68.5L156,69.1L160,69.8L164,70.6L167,71.2L170.5,71.5L171,72.5L169.5,73.5L167,75L164,76L163,77.5L164,80L199,80L200,78L203,77.2L207,76.9L210,76.3L213,75.3L216,75L220,74.8L224,74L228,73.8L232,73.6L236,73.1L240,72.9L244,72.6L248,72.3L252,72.7L256,72.6L260,72.2L264,71.9L268,71.8L272,71.7L276,71.6L280,71.7L283,71.2L286,70L289,68.8L291.5,67.8L294,67.2L297,66.6L299,66.4L300.5,66.8L301.5,68L302,70L302.2,72L302,74L301.5,76L301,78L301,80L315,80L317,78L321,76.5L327,75.2L333,74L339,72.5L344,71.5L347,71L350,70.6L355,70.3L359,70.3L361,70.3L361,90L-1,90ZM274,-64L275.5,-65.2L278,-64.6L279.2,-63.8L277,-63.5L274.5,-63.2ZM300.6,-47.6L301.4,-48.6L301.9,-49.4L302.7,-50.6L304.2,-51.6L304.4,-50.5L304.5,-49.7L306.2,-49.4L307,-48.4L307.3,-47.5L306.7,-46.7L306,-47.2L305,-46.9L304,-47.5L302.5,-47.6ZM79.9,-9.6L80.3,-9.8L81.2,-8.5L81.8,-7.4L81.6,-6.4L80.6,-5.9L80,-6.4L79.8,-7.6L79.8,-8.6ZM335.8,-65.5L337.5,-66.4L340,-66.1L342,-66.1L344,-66.5L345.4,-66.2L346.4,-65.2L345.5,-64.5L343.5,-63.9L341.3,-63.4L339.5,-63.8L337.3,-63.9L338,-64.3L336.2,-64.8L337.5,-65.1Z"/>
<g id="land">
<use href="#lp" fill="#fff" stroke="#fff" stroke-width="2.2" stroke-linejoin="round" vector-effect="non-scaling-stroke"/>
<use href="#lp" fill="#808080" stroke="#1a1a1a" stroke-width="1.1" stroke-linejoin="round" vector-effect="non-scaling-stroke"/>
<path d="M28.1,-41.6L27.7,-42.6L28,-43.4L28.6,-43.9L29,-44.8L29.7,-45.3L30.4,-46L30.8,-46.5L31.7,-46.6L32.6,-46.1L33.5,-45.9L32.5,-45.4L33.4,-44.6L34.3,-44.5L35.3,-44.9L36.4,-45.1L35.6,-45.4L35,-45.7L34.8,-46.2L35.2,-46.5L36.8,-46.8L38.4,-47.2L39.2,-47.1L38.3,-46.6L37.8,-46L37.3,-45.3L37.9,-44.7L38.8,-44.3L39.8,-43.5L40.8,-43L41.6,-42.3L41.6,-41.6L40.8,-41.1L39.7,-41L38.5,-40.9L37.3,-41.1L36.2,-41.6L35.3,-42L34.2,-42L33,-42L32,-41.6L31.1,-41.1L29.8,-41.1L28.9,-41.2ZM47,-45L47.6,-45.6L48.7,-46.1L49.5,-46.5L51,-47L52.3,-46.9L53.2,-46.6L53,-45.3L51.3,-44.6L51.2,-43.8L51.7,-43.2L52.7,-42.4L52.8,-41.2L53.8,-40.8L53.3,-40L53.5,-39.3L53.9,-38.8L53.9,-37.3L52.5,-36.8L51,-36.8L50,-37.4L49.1,-37.8L48.9,-38.4L49,-39.2L49.4,-40.2L50.3,-40.3L49.6,-40.7L49,-41.4L48.2,-42.1L47.5,-42.9L47.6,-43.8L46.8,-44.4ZM58.5,-46.5L60,-46.6L61.5,-45.8L61,-44.3L59.5,-43.6L58.5,-44.5L58.3,-45.5ZM73.5,-46.3L75,-46.5L77,-46.4L79,-46.8L78.8,-46.3L76.5,-45.9L74.5,-45.9ZM103.8,-51.6L105.5,-51.7L107.2,-52.5L108.8,-53.8L109.8,-55.6L109.2,-55.8L108.2,-54.3L106.5,-53L104.5,-52ZM29.5,-61L31,-61.6L32.8,-61.3L32.5,-60.5L31,-60L30,-60.5ZM34.5,-61.3L35.5,-62.3L36.3,-62.3L35.5,-61.2L35,-60.8ZM31.8,0.2L33.5,-0.3L34.1,0.3L33.9,1.6L33.2,2.5L32,2.6L31.7,1.5ZM29.2,3.3L29.6,3.4L30.3,6L31.1,8.4L30.6,8.7L29.7,7L29.3,5ZM34,9.6L34.5,9.9L34.9,12L35.2,14.4L34.6,14.3L34.3,12.5L34,11ZM267.9,-46.8L270,-46.6L272,-47L275,-46.7L275.4,-46.5L274.5,-47.8L273.5,-48.7L271.5,-48.5L270.5,-47.9ZM272.2,-41.7L272.1,-43.5L272.4,-44.8L273.6,-45.9L275,-45.8L273.5,-44.5L273.8,-42.3L273,-41.6ZM275.3,-45.8L276.8,-45.9L278.5,-45.9L279.5,-45.5L280,-44.8L278.5,-44.5L278.3,-43.3L277.5,-43L276.5,-43.9L276.7,-44.8L275.8,-45.5ZM276.5,-41.7L278.5,-41.5L281,-42.7L279.7,-42.6L277.5,-42ZM280.2,-43.3L283,-43.3L283.8,-43.6L283.1,-44.1L280.7,-43.7ZM235,-65.2L236.5,-66.6L239,-66.9L241.5,-66.4L242.5,-65.6L240.5,-65.2L238.5,-64.9L236.5,-65ZM243,-61.2L245,-61.9L247.5,-62.2L249.5,-62.8L250.8,-62.6L249,-61.9L246.5,-61.3L244.5,-60.9ZM248.8,-58.9L251,-59.4L253.5,-59.3L252.5,-58.9L250.5,-58.6ZM257.2,-56.6L258.2,-57.5L258.4,-58L257.7,-57.4ZM261.2,-50.6L263,-51.2L261.8,-52.4L262.5,-53.7L263.5,-53.5L263.4,-51.4L263.7,-50.6ZM13.2,-13L14.2,-13.9L14.8,-13.2L14.2,-12.5ZM275.1,-21.9L276.7,-22.2L278,-23.1L279.5,-23L281,-22.5L282.5,-21.7L284,-21.2L285.8,-20.2L284.5,-19.9L282.5,-19.9L282.8,-20.6L281.5,-21.5L279.5,-22L278,-22.4L276.5,-21.9ZM285.6,-18.5L286.5,-19.7L288,-19.9L290,-19.7L291.6,-18.6L290.5,-18.3L289,-18L288.4,-17.6L287.2,-18.2L285.7,-18.2ZM281.7,-18.4L283.8,-18.2L283.2,-17.9L282,-18.1ZM292.8,-18.4L294.4,-18.4L294.3,-18L292.8,-18ZM120.1,-23L120.7,-24.5L121.5,-25.3L122,-25L121.6,-24L121.2,-22.8L120.8,-21.9L120.3,-22.5ZM108.6,-19.2L109.5,-20L110.6,-20.1L111,-19.6L110.4,-18.6L109.5,-18.2L108.7,-18.5ZM119.9,-16.2L120.4,-17.6L120.6,-18.5L121.5,-18.6L122.2,-18.5L122.3,-17.3L122,-16.2L121.6,-15.6L121.6,-14.6L122.2,-14L123,-13.7L123.9,-13.8L124.1,-12.6L123.3,-13L122.6,-13.3L121.8,-13.8L120.9,-13.7L120.6,-14.5L120,-14.8ZM122,-7L123,-8L123.8,-8.5L124.7,-8.9L125.5,-9.8L126.4,-8.6L126.3,-7L126,-6.2L125.3,-5.6L124.2,-6.3L123.7,-7.3L122.8,-7.5ZM121.9,-11.9L123,-11.6L123.8,-11.1L124.5,-11.6L125,-12.5L125.7,-11.2L125,-10.1L124.3,-9.7L123.5,-9.3L123,-9L122.4,-9.8L122,-10.6ZM117.2,-8.4L118.2,-9.3L119.2,-10.4L119.7,-11.2L119.3,-10.2L118.3,-8.8L117.5,-8ZM120.4,-13.5L121.2,-13.4L121.5,-12.6L121.1,-12.2L120.4,-12.6ZM105.2,6.8L106,5.9L107,6L108.3,6.3L109.5,6.8L110.5,6.9L111.5,6.6L112.6,6.9L113.5,7L114.4,7.7L114.5,8.7L113.5,8.3L112,8.3L110.5,8.1L109,7.7L107.5,7.5L106.4,7.3L105.5,7ZM119.4,5.5L119.5,4L119.6,3.3L118.9,2.8L119.3,1.5L119.8,0.1L120.1,-0.8L120.9,-1.3L122,-1L123.3,-0.9L124.3,-1.2L125.2,-1.5L124.9,-0.9L124.3,-0.4L123.2,-0.5L121.9,-0.5L120.5,-0.4L120.1,0.4L120.5,1L121.6,0.8L123.1,0.8L123.4,1L122.3,1.7L121.5,1.9L122.3,3L122.9,4.2L122.7,4.7L121.5,4.7L121,3L120.4,2.9L120.4,4.2L120.4,5.5ZM148.4,5.5L149.5,5.5L150.5,5.1L151.3,4.9L151.6,4.2L152.3,4.3L152,5.3L151.2,5.7L150.1,6.3L149,6.1ZM123.5,10.3L124.5,9.5L125.5,8.6L127.2,8.4L126,9.3L124.5,10.2ZM119.8,8.6L121,8.4L122.8,8.3L122.6,8.8L121,8.9L119.9,8.8ZM116.8,8.5L118,8.1L119.1,8.3L118.8,8.8L117.2,9ZM127.4,-1.8L128,-2.2L128.7,-1L128.5,-0.3L127.9,0.5L127.6,-0.5ZM128,3.2L129.5,2.8L130.9,3.5L129.5,3.5L128.2,3.6ZM155,6L156,6.8L157.5,7.8L159,8.5L160.5,9.5L161.5,10.3L162,10.6L161,9.7L159.5,9L158,8L156.5,7L155.2,6.4ZM164,20.2L165.5,21L167,22.3L166.5,22.3L165,21.4ZM204,-20.2L205,-19.8L204.4,-18.9L204,-19.5ZM11,-78.5L14,-77.6L16.5,-76.6L18,-77.2L22,-77.5L21,-78.3L28,-78.6ZM136,-75.5L140,-75.8L143,-75.6L146,-75.3L150,-75.2L149,-74.7L146,-74.8L142,-74L139,-74.5ZM178.5,-71.2L180.5,-71.5L182.5,-71.3L181,-70.9L179,-70.9ZM298.7,51.2L300.5,51.3L302,51.6L301.5,52.2L299.5,52.2L298.8,51.8ZM322,54L324,54.2L324.2,54.8L322.5,54.3ZM68.8,48.8L70.5,49L70,49.7L68.8,49.5ZM291.5,67.8L293.5,66.6L295.5,65.6L298,64.6L300.5,63.8L302.9,63.3L301.8,64.2L299.5,65.2L297.5,66.2ZM245.3,-31.7L245.4,-30.8L246.5,-29.5L247.1,-28.3L247.7,-27L248.5,-26L249,-24.8L249.7,-24.2L250.5,-23.2L250,-22.9L249.2,-23.8L247.9,-24.8L247.9,-26L246.8,-26.8L245.7,-27.8L245.9,-28.5L245,-29.3L244.2,-30.3L243.6,-31.3L243.2,-32.1L245,-32ZM32.3,-35.1L33,-35.4L34.5,-35.7L34,-35L33,-34.6ZM23.5,-35.5L25,-35.4L26.3,-35.2L25,-35L23.6,-35.2ZM12.4,-38.1L13.5,-38.2L15.6,-38.3L15.1,-37L14.3,-36.8L12.5,-37.6ZM8.4,-41L9.3,-41.2L9.8,-40.5L9.6,-39.2L8.8,-38.9L8.4,-39.5ZM8.6,-42L9.4,-43L9.6,-42.2L9.2,-41.4L8.8,-41.6ZM261,-69.5L263.5,-69.6L264.5,-68.6L262,-68.3Z" fill="none" stroke="#1a1a1a" stroke-width="1.1" stroke-linejoin="round" vector-effect="non-scaling-stroke"/>
</g>
<mask id="dm" maskUnits="userSpaceOnUse" x="-10" y="-90" width="380" height="180"><rect x="-10" y="-90" width="380" height="180" fill="#fff"/><path d="M-1,62.2L361,62.2L361,90L-1,90ZM303.5,62.3L304.5,61.2L307,60.6L309,60.9L312,60.3L316,60L320,59.6L323,59.9L326,59.4L330,59.2L334,59.5L338,59.3L342,59.6L346,59.4L349,60L350,61.5L351,62.3ZM304,31.5L307,33.5L306.5,36L303.5,40.5L305.3,44L306,48L305.5,51.5L303.5,54.8L299.5,55.8L294,56L292,52L291,45L292,38L300,32ZM295,-12L299.5,-11.8L303.5,-9.5L307.5,-7.8L311.3,-5L313.3,-1.8L316.5,-0.3L320.5,0.8L324,2.5L326.8,4.6L325.5,6.8L321,4L316,3L311,1.5L309,-1L306,-4L302,-6.5L298,-9.5ZM-98,-90L-98,-50L-82,-36L-80.2,-31.5L-78.8,-34L-77,-37.2L-75,-40.3L-72,-41.3L-68,-42.3L-63,-43.8L-59,-44.8L-55.2,-45.6L-52.5,-48.5L-49.7,-52.3L-52.5,-55L-55,-57.5L-56.5,-60L-56.5,-63.3L-54,-64L-48,-63L-42,-60.3L-40,-63.5L-38,-65L-32,-64.6L-27,-64.9L-22,-64.3L-17,-64.8L-11.5,-64.3L-9.5,-62L-8.8,-60.2L-8.6,-57L-9.2,-53.5L-8.5,-51L-6.5,-49.6L-4.5,-48.7L-2,-48.6L1,-48.8L1,-90ZM262,-90L262,-50L278,-36L279.8,-31.5L281.2,-34L283,-37.2L285,-40.3L288,-41.3L292,-42.3L297,-43.8L301,-44.8L304.8,-45.6L307.5,-48.5L310.3,-52.3L307.5,-55L305,-57.5L303.5,-60L303.5,-63.3L306,-64L312,-63L318,-60.3L320,-63.5L322,-65L328,-64.6L333,-64.9L338,-64.3L343,-64.8L348.5,-64.3L350.5,-62L351.2,-60.2L351.4,-57L350.8,-53.5L351.5,-51L353.5,-49.6L355.5,-48.7L358,-48.6L361,-48.8L361,-90ZM-1,-90L-1,-48.8L3,-49L20,-50L45,-55L100,-55L130,-50L140,-58L150,-62L176.3,-62.4L196,-62.4L205,-63L215,-63L262,-63L262,-90ZM359,-90L359,-48.8L363,-49L380,-50L405,-55L460,-55L490,-50L500,-58L510,-62L536.3,-62.4L556,-62.4L565,-63L575,-63L622,-63L622,-90ZM-5.6,-35.6L-5.6,-30L37,-30L37,-47L-1,-47L-1,-42L-5,-42L-5.6,-37ZM354.4,-35.6L354.4,-30L397,-30L397,-47L359,-47L359,-42L355,-42L354.4,-37ZM42.5,-15L44,-10.8L48,-11L51.5,-11.5L51.5,-13.5L48,-14.5L44,-13.5ZM32,-31L36,-27L39,-22L42,-17L43.5,-12.6L44.5,-11.5L43,-11L41,-14L37.5,-19.5L34.5,-25L32,-28ZM47.5,-30.5L57,-27.5L56.7,-25L54,-23.8L51,-23.5L48.5,-27L47.5,-29.5ZM100,-55L130,-50L140,-58L150,-62L176.3,-62.4L176.2,-61.5L171,-57.5L166,-52L162.8,-46.7L157.5,-43.5L152.6,-41.6L147,-39.8L143.8,-38.7L141.5,-36L139.5,-34.5L136,-33.2L133,-32L131.2,-31L129.5,-26L128.8,-23.8L125.5,-22.8L123.4,-21.6L124.8,-18L126.1,-14L127.4,-8L127.6,-5L129.5,-2.5L131.4,-1.3L133,0.4L135.5,2L138,1.6L141,2.5L144,3.7L145.8,5.2L147.6,6L148.5,8.5L150.5,10.2L151,11.5L150.8,14L151.5,17L152.5,20L154,24L154.3,28.5L153,29.5L150,24L146.5,17L143.5,11.5L141,11L140.5,17.2L137,16.2L134,12.5L130,13L126.5,14L124,16.5L121,18.5L117.5,20L114,21.7L113,21L116,18L120,14.5L124.5,10.7L121,10L117,9.3L114,8.8L110,8.3L106,7.6L105.6,6.3L104.5,5L102.5,3.8L101,2L99.5,0L98.2,-2L96.5,-3.8L95.2,-5.5L95,-7L92.6,-9.6L92.2,-15.5L88,-18.7L87,-22L95,-30L100,-40ZM150,1.5L153,2.5L156,4.8L159.5,7L163,9.5L163.5,11L161.5,11L158,9L154.5,7L151.5,5L150,3.5ZM166,10L167.5,11L168.5,14L169.5,17L170.5,19.5L169.5,20.5L167.5,18L166.5,15L165.8,12ZM262,-32L262,-17L266,-15L272,-10.5L277,-8.5L283,-8L288,-10L293,-10L297.5,-10.5L298.3,-12.5L298.8,-15.5L298.6,-17.3L296,-18.8L292,-19.6L289,-20.6L287,-21.8L284.5,-23.3L282.5,-25.5L282.2,-28L282.5,-31.5L280,-34ZM243.2,-32.5L246,-32.3L249.5,-31.8L251.2,-28.5L253,-25L254.5,-23L252,-22.3L249.5,-22.6L247,-23.5L245.5,-25.5L244,-27.5L242.6,-30ZM262,-51L283,-51L285,-57L290,-60L262,-63Z" fill="#000"/></mask>
<path id="grid" d="M50,-78V78M100,-78V78M150,-78V78M200,-78V78M250,-78V78M300,-78V78M350,-78V78M0,60H360M0,40H360M0,20H360M0,0H360M0,-20H360M0,-40H360M0,-60H360" fill="none" stroke="#d9d9d9" stroke-width="0.9" vector-effect="non-scaling-stroke"/>
<g id="f0"><g filter="url(#blur0)"><g transform="scale(0.5)"><path fill="#00008f" fill-rule="evenodd" d="M267-14l4 0 3-1 2-2 0-3-5-2-6 1-2 2 0 2 1 2z"/><path fill="#0000d4" fill-rule="evenodd" d="M265-13l5 1 5-2 3-3-1-3-1-2-4-1-4 0-4 1-2 2-1 3 1 2zM266-14l-3-3 0-2 2-2 6-1 5 2 0 3-2 2-4 1zM634-18l2-1 1-2-3-2-2 1 0 2z"/><path fill="#001aff" fill-rule="evenodd" d="M637 95l2-2-1-2-1-1-2 1 0 2zM267-11l6-1 4-2 3-4-1-3-4-3-4-1-5 1-4 2-2 3 0 4 3 3zM264-13l-2-2-1-2 1-3 2-2 4-1 4 0 4 1 1 2 1 3-3 3-5 2zM633-17l3 0 2-2 0-3-2-2-3 0-3 2 0 3zM634-18l-2-1 0-2 1-2 2 0 1 1 1 2-1 1zM416-22l3 1 3-1 1-1 1-2-3-2-5 0-1 1-1 2zM163-26l2 0 1-2 0-2-2-2-2 2zM651-108l3 1 4-1 3-2 0-2-3-3-5 0-3 3 0 2z"/><path fill="#005fff" fill-rule="evenodd" d="M429 115l4 0 1-2-2-1-3 0-1 2zM636 96l2 0 1-3 0-2-2-2-2 1-1 2 0 2zM636 95l-1-1 0-2 2-2 1 1 1 2-1 1zM648 82l4-1 0-2-3-1-3 1 0 2zM174 16l2 1 2-2-1-1-3 0-1 1zM670 9l2 0-1-1zM119 0l4 0 4-2 2-2-1-3-2-3-8-7-4-2-3 0-3 3 0 4 6 9zM267-10l7-1 5-3 3-4-3-4-4-3-5-1-6 2-4 2-2 3 1 4 3 3zM267-11l-4-1-3-3 0-4 2-3 4-2 5-1 4 1 4 3 1 3-3 4-5 3zM287-16l3 1 2-1 2-2-1-3-4-1-4 2-1 2zM342-16l3 0 2-1 1-3-1-2-4-1-4 2 0 3zM633-16l4-1 2-2 0-3-3-3-4 0-3 3 1 4zM632-17l-2-2 0-3 3-2 3 0 2 2 0 3-2 2zM377-18l5-1 1-2-1-2-3-1-4 1-1 3zM444-18l4 0 2-1 0-2-3-2-4 1-2 2zM417-20l4 0 4-2 1-2-1-3-3-2-3 0-5 1-2 3 0 2 2 2zM416-22l-2-3 2-2 5 0 3 2-1 2-1 1-3 1zM163-24l3-1 1-3 0-4-3-2-2 1-1 3 0 3zM163-27l-1-4 1-1 2 0 1 4-2 2zM652-105l6 0 6-2 3-3-1-3-3-3-4-1-5 0-4 1-3 3-1 3 2 3zM651-108l-1-2 0-2 3-3 5 0 3 3 0 2-3 2-4 1z"/><path fill="#00a3ff" fill-rule="evenodd" d="M430 117l5-1 1-2 0-2-5-2-5 2 0 3zM428 115l0-2 1-1 3 0 2 1 0 2-2 1zM602 109l4 0 1-1 0-2-2-1-3 1-1 1zM635 96l3 1 2-3-1-4-2-2-2 1-1 2 0 3zM636 96l-2-2 0-2 1-2 2-1 2 2 0 2-1 3zM647 83l3 0 3-1 1-3-4-2-5 1-1 3zM647 82l-1-1 0-2 3-1 3 1 0 2-1 1zM621 66l2-1 1-1-1-2-3 0 0 2zM399 40l5-1 1-1-1-2-4-1-4 1-1 2zM173 18l3 1 3-1 2-2-1-3-4-2-4 1-1 2 0 2zM173 16l1-2 3 0 1 1-2 2zM670 11l4 0 1-3-3-1-3 0-1 2zM670 9l1-1 1 1zM118 4l6 0 8-3 3-3-1-5-3-6-4-4-13-5-6 0-4 3-2 3 0 4 2 6 2 4 3 3zM119 0l-5-3-6-9 0-4 3-3 3 0 4 2 8 7 2 3 1 3-2 2-4 2zM266-9l8-1 9-5 6 1 3 0 3-3 0-4-2-2-3-1-7 3-6-4-5-1-9 1-5 4-1 5 3 5zM266-10l-5-2-2-3-1-4 3-4 5-2 5 0 5 1 4 3 2 3-4 5-6 3zM286-16l-2-2 2-3 4-1 3 1 1 3-2 2-3 1zM456-11l3 0 2-1 0-3-1-2-3-1-3 1 0 4zM341-15l4 0 3-1 2-3-1-3-5-2-3 0-3 2-1 2 0 2 1 2zM341-16l-1-1-1-2 1-3 4-1 4 2 0 2-1 2-3 1zM633-15l4-1 3-3 0-4-4-3-4 0-3 4 0 4zM632-16l-3-3 1-4 3-2 4 1 2 2-1 4-2 2zM446-16l4-1 2-1 0-3-1-2-5-2-6 2-1 2 0 2 3 2zM444-18l-3-2 2-2 4-1 3 2 0 2-2 1zM375-17l4 1 4-1 3-3-1-3-2-2-3-1-6 1-2 2 0 3 1 2zM377-18l-3-2 1-3 4-1 3 1 1 2-1 2zM413-19l6 1 6-2 3-3-1-3-2-3-3-1-4-1-3 1-3 3-2 3 0 3zM416-20l-3-2-1-2 1-2 2-2 6-1 5 3 0 3-2 2-4 1zM164-23l3-2 1-4-1-5-3-1-3 1-1 5 1 4zM162-25l-1-3 0-4 2-2 2 0 2 3 0 4-2 3zM466-36l2 0 0-1-2 0zM674-39l2 1 2-1 1-3-1-2-3-1-2 1-1 3zM273-51l3 1 2-1 1-3-1-2-3-1-3 1-1 2zM618-85l2 0 0-1-1-1zM652-103l10 0 6-3 2-2 0-3-2-5-4-4-5-1-5 0-7 4-3 4-1 4 4 4zM651-105l-3-2-2-3 1-3 3-3 4-1 5 0 4 1 3 3 1 3-3 3-7 2z"/><path fill="#00e5ff" fill-rule="evenodd" d="M392 123l6 0 2-2 0-3-3-2-5 1-2 3zM584 123l6 0 1-2 2-3-4-1-6 2-1 2zM427 117l3 1 4-1 3-1 0-3-3-3-6 0-4 3 1 2zM430 117l-4-2 0-3 5-2 5 2 0 2-1 2zM602 110l3 0 2-1 1-2-1-2-3-1-3 1-1 3zM602 109l-1-2 1-1 3-1 2 1 0 2-1 1-2 1zM635 97l3 0 3-3-1-4-3-3-2 1-2 3 0 4zM635 96l-2-3 1-3 2-2 2 0 2 3 0 4-3 2zM107 94l3 0 3-2 1-2-1-2-3-2-4-2-3 1-3 1-1 2 1 3 3 2zM648 84l4 0 3-2 0-2 0-2-6-2-5 2-1 2 0 2zM647 83l-3-2 1-3 5-1 4 2-1 3-3 1zM620 66l3 0 2-1 0-2-1-2-3-1-2 2-1 2zM620 65l0-3 2-1 1 1 0 3-1 1zM686 51l2 1 3-1 1-3-1-2-3-1-2 1-1 3zM397 43l6 0 4-1 3-4 0-4-3-2-6-1-9 0-5 1-2 4 2 3 3 2zM398 40l-3-2 0-1 2-2 5 0 3 2-1 2-1 1zM174 20l5-1 3-2 0-3-2-3-6-1-4 3-1 4 2 2zM172 18l-1-3 2-3 4-1 3 2 1 3-2 2-4 1zM670 12l5-1 1-2-1-2-4-1-4 1 0 3zM669 11l-1-2 1-2 3 0 3 1-1 2-1 1zM119 7l5 0 14-4 2-3-1-6-5-9-4-4-18-6-5 0-4 3-4 6-1 3 2 5 3 6 4 5 5 2zM118 4l-9-3-3-3-2-4-2-6 0-4 2-3 4-3 6 0 13 5 4 4 3 6 1 5-3 3-8 3zM266-8l8-1 9-5 6 1 4 0 3-4 0-5-4-3-9 2-6-3-5-2-5 1-5 1-6 5-1 5 4 5zM266-9l-6-2-3-5 1-5 5-4 9-1 5 1 6 4 7-3 3 1 2 2 0 4-3 3-3 0-6-1-9 5zM456-9l3 0 3-2 1-4-2-3-5-2-4-4-4-2-6 1-5 3-1 3 3 2 5 2 7 0zM456-11l-2-3 0-3 4-1 3 2 0 3-1 2-2 1zM446-16l-4-1-3-2 0-2 1-2 3-1 4-1 3 1 2 2 1 3-1 1zM341-14l5 0 4-2 1-4-2-4-3-1-4 0-6 3-2 3 1 2zM340-15l-3-2 0-2 2-4 6-1 4 2 1 3-2 3-3 1zM377-15l6-1 6-3 17 4 8 0 14-4 2-2 1-2-4-6-7-3-6 1-7 7-2 0-9-2-8 1-7-2-4 0-5 2-2 4 2 4zM374-17l-2-2 0-2 0-2 2-2 6-1 3 1 2 2 1 3-4 3-4 1zM412-19l-2-2 0-3 2-3 3-3 3-1 4 1 3 1 2 3 0 4-3 3-6 1zM631-15l5 1 4-4 1-4-3-4-5-1-4 3-1 5zM633-15l-4-3 0-4 3-4 4 0 4 3 0 4-3 3zM322-19l4-1 0-2-3-1-3 1-1 2zM163-22l2 0 2-2 2-5-1-5-2-2-2-1-3 2-2 5 1 5zM163-23l-3-3 0-4 1-4 3-1 3 1 1 5-1 4-2 2zM465-32l4 0 3-2 0-3-2-3-4 0-2 2-1 4zM466-36l1-1 1 0-1 2zM674-37l4 0 2-2 1-4-3-3-4 0-3 2 0 4zM674-39l-2-2 1-3 2-1 3 1 1 2-1 3-2 1zM272-49l4 1 4-2 2-4-1-3-5-2-5 1-2 2 0 3 1 3zM273-51l-2-3 1-2 3-1 3 1 1 2-1 3-2 1zM368-66l3 0 1-1-4-1-1 1zM356-69l3 0 3-1-1-4-3-2-2 0-2 2 0 3zM618-84l2 0 1-1-1-2-2 0-1 1zM618-85l1-2 1 1-1 2zM654-101l12 0 4-2 3-3 1-4-1-5-2-5-3-3-7-3-5 0-10 5-5 6-2 4 2 4 5 4zM652-103l-5-2-4-4 1-4 3-4 7-4 5 0 5 1 4 4 2 5 0 3-2 2-7 3z"/><path fill="#00fcd0" fill-rule="evenodd" d="M393 125l9-1 6-5 1-2-3-3-6-2-5 0-5 2-5 3 0 2 2 4zM392 123l-2-3 2-3 5-1 3 2 0 3-2 2zM581 125l11 0 4-1 5-3 1-3-6-5-10-1-12-3 5 4-9 4-2 1-1-1-2-5-2-2-5 2-3 3 0 3 3 3 4 0 6-1 6 3zM583 123l-1-2 1-2 6-2 4 1-2 3-1 2zM703 125l3 0 3-2-1-7 1-6-1-3-2 1-1 5-8 6 3 4zM-11 124l0-1-1-7 1-6-1-3 0 17zM318 124l5 1 5-1 2-1 0-4-3-2-3 1-6 4-1 1zM93 123l4 1 5-1 2-1 0-2-3-4-5 0-3 1-1 2 0 2zM52 119l3 1 4-2 4-4 0-3-16-6-4 0-4 2 0 3 1 3zM193 118l4 0 2-1-4-1-3 1zM427 118l5 1 4-1 3-3 0-3-3-2-3-1-7 1-3 2 0 2 1 2zM427 117l-2-2-1-2 4-3 6 0 3 3 0 3-3 1-4 1zM242 115l2 0-1-1-1 1zM686 114l3-1 3-2 0-5-4-7-3-2-3-1-3 3-1 6 3 6 3 3zM602 111l4 0 3-2 0-3-2-2-5-1-3 3 0 3zM602 110l-2-2 1-3 3-1 3 1 1 2-1 2-3 2zM406 110l4 1 2-2 1-2-3-1-5 0 0 2zM324 101l2 0-1-2-1 0-1 1zM105 98l6 1 6-3 4-4-1-4-5-4-8-3-5 0-5 3-3 3 1 3 4 5zM106 94l-4-2-3-2 0-2 1-2 3-1 3-1 4 2 3 2 1 2-1 2-3 2zM635 98l4 0 3-4-1-4-3-4-3 1-3 3 0 5zM635 97l-2-3 0-4 2-2 3 0 3 3-1 4-2 2zM404 97l8-1 1-1 0-2-4-3-6 0-2 2 0 2 1 2zM250 86l5 0 3-2 1-3-2-3-3-2-2 1-5 3-1 2 0 2zM285 86l4 0 3-2 1-3-1-3-7-2-3 1-1 6 1 2zM645 85l3 1 5-1 4-3 0-3-2-3-3-1-8 1-2 2-1 2 1 3zM648 84l-5-2 0-2 1-2 5-2 6 2 0 2 0 2-3 2zM12 81l5-1 1-2 0-1-4-2-4 1-1 3zM732 81l0-6-2 1-1 2 1 2zM129 71l5 0 4-2 1-4-1-6-2-4-2-1-10 0-4 3 0 5 4 6zM338 70l4 0 3-2 2-3 0-3-4-2-5-1-3 0-3 2-1 2 1 3 2 2zM-9 67l4 0 1-1 0-2-3-2-5 0 0 4zM620 67l3 1 3-3 0-3-2-2-4 0-2 2-1 3zM620 66l-2-2 1-2 2-2 3 1 1 2-1 3-2 1zM711 67l3 0 2-1 0-2-1-1-6-1-4 1 1 2zM683 55l6 1 5-2 3-4 0-3-2-2-2-2-4-1-5 1-3 3 0 4 0 3zM686 51l-1-3 1-2 3-1 3 2 0 2-1 2-3 1zM177 53l3 0 3-2 0-3-1-2-5-1-3 2-1 2 1 2zM448 51l6 0 5-5 1-3-1-3-4-4-3 0-2 1-5 7 0 4zM0 50l2 0 0-1 0-2-2-1-2 2zM720 50l2 0 0-1 0-2-2-1-2 2zM28 50l1-1-1-1zM310 46l1 0 0-1-1-1-1 1zM398 46l6 1 5-3 6-6 1-5-2-2-3-2-13-3-1-2 0-5-2-4-4-3-5 0-3 2-2 3 0 3 3 6-1 2-4 3-8 1-2 2 2 2 14 7zM397 43l-7-2-3-2-2-3 2-4 5-1 9 0 6 1 3 2 0 4-3 4-4 1zM510 42l5-1 0-3-5-5-4-1-2 3 1 3 2 3zM525 42l2 0 1-1 0-2-1-2-2 0-2 2 0 2zM484 34l5 0 17-5 18-11 3-3 0-2-4-3-10-3-23 3-11 4-7 4-1 2-1 3 3 4zM340 27l4 0 7-5 8 0 2-3-1-3-4-1-8 2-3 0-6-2-9-6-4 0-3 2-2 3 3 7 10 2zM171 21l6 1 5-3 2-3-1-4-3-2-3-1-4 0-4 2-1 2-1 3 1 3zM174 20l-5-3 0-3 1-2 6-2 5 2 1 3-1 3-3 2zM671 13l4-1 2-2 0-2-2-2-5-1-4 2-1 2 1 2zM670 12l-3-2 0-3 4-1 4 1 1 2-1 2-3 1zM149 12l4 0 0-3-6-8-5-13-4-6-4-3-13-2-13-6-5 2-9 11-1 3 1 2 10 14 7 6 9 2 13-2zM118 7l-6-2-5-2-4-5-4-7-1-5 1-3 5-7 3-1 5 0 18 6 4 4 5 10 1 5-2 3-14 4zM263-7l5 1 5-1 11-5 6 0 3 0 4-3 3-5 15 7 19-1 9 1 4 0 4-2 2-3 0-3-2-3-4-2-4-1-8 2-9-4-12 1-7-4-4-1-4 1-5 5-9 1-11-3-7 0-9 4-6 7 1 3 2 3zM266-8l-7-3-4-5 0-3 2-3 6-4 5-1 5 0 10 4 9-2 3 2 1 2 0 4-3 4-4 0-6-1-9 5zM340-14l-4-2-1-2-1-2 2-2 3-2 4-1 4 0 3 2 1 4-1 3-4 2zM321-19l-2-1 2-2 3-1 2 2-1 2zM455-8l5 0 4-4 1-6-4-4-7-4-6-1-14 2-8-6-5-2-6 0-7 5-3 1-10-2-18 0-7 2-5 4 1 3 2 3 7 3 13-1 23 2 16-3 8 0 15 3zM456-9l-5-6-7 0-5-2-3-2 1-3 5-3 6-1 4 2 4 4 5 2 2 3-1 4-3 2zM377-15l-5-2-2-4 2-4 5-2 4 0 7 2 8-1 9 2 2 0 7-7 6-1 7 3 4 6-1 2-2 2-14 4-8 0-17-4-7 3zM631-14l6 0 5-4 0-4-3-4-6-2-3 2-2 2-1 3 0 3 1 2zM631-15l-3-4 0-3 1-2 2-2 3-1 5 2 2 4-1 4-4 3zM162-21l2 0 3-1 2-4 1-3-1-6-2-2-3-1-4 2-2 6 1 5zM163-22l-3-3-1-5 2-5 3-2 2 1 2 2 1 5-2 5-2 2zM464-30l3 1 3-1 4-4 1-3-1-2-4-3-5 0-4 3 0 5 1 3zM464-32l-1-3 1-4 4-1 3 1 1 3-1 3-3 2zM676-35l5-2 1-5 0-3-2-2-4-1-5 1-2 2 0 3 2 5zM674-37l-3-3 0-4 3-2 4 0 3 3-1 4-3 2zM273-47l7-1 9-6 3-4-2-4-4-3-7-3-4 1-3 2-1 3-3 4-1 4 1 4zM272-49l-3-4 0-3 2-2 5-1 5 2 1 3-2 4-4 2zM364-57l6 0 5-1 5-2 6-5 12 7 4 0 4-2 8-9 1-2 0-3-2-3-2-2-11-2-5 1-9 5-3 0-14-2-12-7-11 1-10-2-3 3 0 3 1 2 10 4 5 10 4 4zM368-66l-1-1 1-1 4 1-2 2zM356-69l-2-3 1-3 1-1 3 0 3 3 0 3-3 1zM441-59l2-1 2-2 0-3-2-4-5-5-3-1-2 1-2 2 0 3zM619-83l2-2 0-2-2-1-1 1-1 2zM618-84l0-3 2 0 1 1-1 2zM686-92l4 0 8-6 3-4 0-3-3-3-5-2-5-1-6 1-2-1-2-4-2-9-3-3-3-1-12-2-16 3-9 7-8 4-4 5 0 3 2 2 6 3 16 2 19 7 3 0 8-4 3 0zM653-101l-7-2-5-4-2-4 2-4 5-6 10-5 5 0 7 3 3 3 2 5 1 5-1 4-3 3-4 2zM444-103l4 0 4-2 4-5-2-3-5-2-8 3-1 2 0 3zM377-119l3 0 2-4-4-1-4 1z"/><path fill="#00ff82" fill-rule="evenodd" d="M-11 132l91 0 0-4 35 0 1-1 0-6-8-7-2-2 1-2 2-2 12-6 8-6 5-1 3 1 4 6 4 4 3 1 4 0 5-3 5-8 6-3-3-3-15-5-4 1-8 3-3 0-16-8-3-3-1-3 2-2 14 2 8-2 3-4 1-12 1-2 2-1 3 1 4 2 4 14 13 10 8 12 5 0 5-3 3-4 0-5-3-4-8-6-10 0-4-2-3-5-2-16-3-3-5-1-19-1-11 1-4 3-10 14-4 0-11-5-6 1-3 3-1 3 1 3 7 6 2 5 0 4-4 5 0 2 6 9 1 2-6 10-4 1-6-3-7 0-15-2-10-3-16 1-3 2-4 9 1 6-1 2-9 3-3 3-15 0 0-1 3-2 1-3 0-9-5-8-2-10-2-2-6 0 0 14 1 3-1 6 1 7-1 1 0 8zM59 127l0-2 2-3 7-5 6-2 2 0 2 2 1 5-2 6-17 0zM93 123l-1-4 1-2 3-1 5 0 3 4 0 2-2 1-5 1zM52 119l-12-6-1-3 0-3 4-2 4 0 16 6 0 3-4 4-4 2zM104 98l-6-4-3-4 0-4 3-3 5-2 5 1 8 3 4 4 0 4-4 4-6 2zM129 71l-4-2-3-3-2-4 0-4 1-2 3-2 10 0 2 1 2 4 1 5-1 4-3 3zM171 132l89 0 5-4 37 0 1-3-11-10-3-10-8-4-6-1-6 1-4 3-1 3 3 6-1 5-3 5-5 2-7 2-13 0-32-2-2-2 6-4 0-2-2-3-7-1-12 2-6 2 1 5-3 6-16 0 4 3 2 0zM193 118l-1-1 3-1 4 1-2 1zM337 132l99 0 18-4-37 0-7-1-1-1 8-6 1-2-1-4 4-7-1-1-13-3-3-2 3-2 11-2 12 1 2-1-1-10 7-5 3-8 3-3 4-2 6 0 2-10 12-11-1-4-6-13-3-2-8-2-7-3-2 0-1 10-4 7 3 12-1 3-5 8-5 12 0 10-6 1-14-6-1-2-2-7-3-3-14 3-9-1-4-5-2-6 1-2 7-7 4-2 7 0 12 2 5-1 6-7 7-6 0-3-1-6 2-5 4-3 11 0 1-3-2-3-3-1-3 0-8 3-4 1-17-4-9-4-4-1-4 0-13 6-15-4-13 3-5-2-7-6-3-1-4 0-8 2-4 8-15 10 0 6 2 4 0 3 10 17 6 1 4-3 2-3 1-9 4-8 2-2 4 1 9 6 9-7 5 0 2 2 4 8 7 3 1 2-13 6-11 0-6 2-11 2-2 2-4 7-8 2-1 2-1 5 2 9 2 2 5 2 1 1-8 12 5 8 1 5-2 4-11 6-2 3 2 3 27 0zM336 127l1-3 3-1 3 1 2 3-1 1-7 0zM353 127l6-2 11 0 9-2 4 1 3 3-3 1-26 0-3 0zM392 125l-5-2-2-4 0-2 5-3 5-2 5 0 6 2 3 3-1 2-6 5-5 1zM318 124l-1-1 1-1 6-4 3-1 3 2 0 4-2 1-5 1zM356 110l-8-5-5-7-5-5-3-5-9-4 0-6 2-4 3-1 8 4 4 0 3-2 8-7 5-1 18 7 6 9 6 5 1 3-1 3-3 1-8-3-5 0-2 2-3 3 0 7-8 6zM406 110l-2-3 1-1 5 0 3 1-1 2-2 2-3 0zM323 101l1-2 2 1-1 1zM404 97l-2-1-1-2 0-2 2-2 6 0 4 3 0 2-1 1zM338 70l-4-2-2-2-1-3 1-2 3-2 3 0 5 1 4 2 0 3-2 3-3 2zM448 51l-3-3-1-2 1-3 6-7 2-1 3 1 4 5-1 5-5 5-3 0zM310 46l-1-1 1-1 1 1 0 1zM397 46l-12-3-14-7-2-2 2-2 8-1 4-3 1-2-3-6 0-3 2-3 3-2 5 0 4 3 2 4 0 5 1 2 13 3 3 2 2 2-1 5-7 7-5 2zM340 27l-6-4-10-2-3-7 2-3 3-2 4 0 9 6 6 2 3 0 8-2 4 1 1 3-2 3-8 0-7 5zM580 131l4 1 54 0 12-3 7-4 17 7 58 0 0-4-13 0 0-1 2-1 2-3 0-8-1-3-4-7-1-9-2-2-5-1-16 2-10-4-4-1-8 5-5 7-2-2-2-4 5-10 2-3 3-2 9-3 10-7 10-1 16 3 9-5 5-1 0-21-4-4-2-1-15-2-2 2-6 12-2 2-1-1 2-5-3-5-6-4-7-2-3 1-2 1-4 11-2 2-7 0-9-4-8 1-3-2-1-4 3-9 2-1 7-3 1-3-1-8 1-3 5-3 7 0 10-1 13-14 1-3-1-2-9-6-3 0-2 2-1 3 1 8-3 4-9-2-5-4-8 0-7-7-1 0 0 5-3 3-5 1-5-2 0 5 11 4 2 2 2 6 0 3-2 2-4 3-3 0-2 2 0 2-1 1-16-7-13 1-46-18-6 5-6-1-4-3-1-10 0-6 3-3 10-2 8 2 1-1 42 0-9-4-2-2-2-6-2-2-1 2-2 0-44-10-8-3-15-8-1 11 8 2 6 4 3 5-3 5-7 7 0 4 2 8-1 3-5 3-3 0-3-2-3-4 0-4 2-5 5-7 1-3-1-5-4-7-1-1-1 1-5 14-3 2-4 2-4-1-3-2-8-12 1-10 3-8 0-3-3-4 3-3 7-4 7-1 6 3 6 5 2-5 2-11-2-11-5-12-7-12-20 9-16 6-1 1 0 6 1 4 4 5 7 6 1 2-6 4-3 6-3 2-5 3-7 0-9-2-2-2-1-5 2-8 5-5 4-7 1-5 0-3-4-3-10-1-2-2 10-12 5-4-10-9-8-2-4-2-3 0-1-1-4 0-3 6 6 14 6 9 0 3-4 5-3 1-5-1-3 6-3 2-3 0-7-6-9 1-7-2-3 1-9 4-10 1-5-1-4-2-2-3-2-4 2-4 6-3 3-3 1-4-1-4-13 1-5-1-2-2-1-4 1-3 2-3 8-5 3 1 6 6 2 8 1 1 5-3 7-6 4-1 5 3 5 7 2 1 4 0 5 0 3-3 4-13-4 0-3 1-5 4-2 0-9-3-10-6-33 0-4 2-6 5 1 3-1 6-3 0-4-2-10 10-36-18-8-5-2 0 0-1-2 0 0-1-2 0 0-1-5-2 0-1-2 0 0-1-4-1 0-1-3-1 0-1-4-1 0-1-271 0 0 43 1 2 0 7 3 2 5 0 3-2 0-1 14 5 18 11 20 17-1 2-6 10-15 10-3 7-1 9 1 5 2 5 13 5 1 6 1 1 17 5 6-8 7-7 6-3 5 0 9 2 11 13 4 7 0 7 2 2 6-5 9 1 8-2 10 1 9 4 9 2 9 3 4-1 8-3 2-2 0-4-1-4-2-2-7-2-11 3-11-11-2-3 1-4 4-4 2-3 0-4-2-3 1 0 4 2 3 0 4-3 5-7 6-1 4 2 1-1-1-1-4 0-1-1-7-11 2-1-2-5-4-5-4-2-5 1 1-4 2-1 15 1 11 2 14 4 12 5 1 1 0 1-9 8-3 8 1 7 8 9 4 4 3 1 30-1 11 5 5 5 3 2 2-2-1-4 1-1 15-7 8 1 8-3 15 5 9-2 22-2 11-5 12 3 6 1 12 0 25 2 16-3 10 0 11 2 5 5 4 1 4-2 5-6 3-1 6 0 10 3 12-1 5 3 5 5 0 4-2 3-7 3-12 0-7 1-6 6-11 5-2 4 0 4 1 3 11 8 6 7 4 2 10-1 2 2 0 5 1 3 12 6 6 2 15 1 2-1 2-3 1-10 4-8 1-7 1-3 5-3 4-2 3 1 6 3 6-6 3-7 4-1 4 0 5 4 4 6 5 17 5 0 1 1 3 15 7 15 1 1 2-5 3-3 6 0 7 4 4 1 1 1 0 3-9 8-4 1-10-2-1 2 3 8 1 1 5-4 8-3 4 0 4 3 1 5 1 3 3 2 5 1 6 8 4 2 9-1 3 2 0 5-5 5-5 0-1 1-6 0-1-1-1 1-9 0-1 1-10 0-2 1-8 0-9 2-1-1 7-6-1-2-4-4 0-1 4-3 1-2-3-7 1-2-5 0-5 2-3 4-1 3-5-1-5-4-2 0-2 2-3 1-4-2-2-2-2-4 0-6-1 0-3 6-15 13-2 5-1 4 2 3 5 3 4 1 12 0 0 1 1 1zM581 125l-7-2-6-3-6 1-4 0-3-3 0-3 3-3 5-2 2 2 2 5 1 1 2-1 9-4-5-4 12 3 10 1 6 5-1 3-5 3-4 1zM703 125l-3-2-3-4 8-6 1-5 2-1 1 3-1 6 1 7-3 2zM685 114l-4-3-3-7 1-5 3-3 3 1 3 2 3 4 2 4 0 3-2 2-3 2zM601 111l-2-3 1-3 4-2 4 1 1 3-1 3-4 2zM652 104l-2-5-1-5 3-5 3-1 5 4 1 4-1 4-3 4-2 1zM635 98l-3-3 0-5 3-3 3-1 3 4 0 5-3 3zM645 85l-3-2-1-3 1-2 2-2 8-1 3 1 2 3 0 3-4 3-5 1zM619 67l-2-2 1-4 3-2 3 1 2 3-1 3-2 2zM711 67l-5-2-1-2 4-1 6 1 1 1 0 2-2 1zM632 60l-3-3-1-4-2 3-3 1-3-1 0-3 2-4 3-2 3 6 3-6 3-2 4 4 1 6-3 5-2 1zM683 55l-2-2 0-4 1-4 2-2 5-1 4 1 2 2 2 2 0 3-3 4-6 2zM719 50l-1-2 0-1 3-1 1 2 0 2-1 1zM510 42l-3-1-2-3-1-3 2-3 5 2 5 5-2 3zM524 42l-1-3 2-2 2 0 1 2 0 2-1 1zM483 34l-10-7-3-4 1-3 1-2 8-5 11-3 22-3 10 3 4 3 0 2-3 3-18 11-17 5zM170 21l-2-2-1-3 1-3 1-2 4-2 4 0 3 1 3 2 1 4-3 4-5 2zM670 13l-4-2-1-2 1-2 4-2 5 1 2 2 0 3-3 2zM149 12l-16-3-13 2-9-2-7-6-10-14-1-2 1-3 9-11 5-2 13 6 13 2 4 3 4 6 5 13 6 8 0 3zM263-7l-8-5-2-3-1-3 6-7 9-4 7 0 11 3 9-1 5-5 4-1 4 1 7 4 12-1 9 4 8-2 4 1 4 2 2 3 0 3-2 3-4 2-4 0-9-1-19 1-15-7-3 5-4 3-3 0-6 0-11 5-5 1zM455-8l-5-5-15-3-8 0-16 3-23-2-13 1-7-3-2-3-1-3 5-4 7-2 18 0 10 2 3-1 7-5 6 0 5 2 8 6 14-2 6 1 7 4 4 4-1 6-4 4-3 1zM162-21l-3-4-1-7 3-5 4-1 2 1 2 3 1 7-1 3-3 3zM123-24l-6-2-7-7-5-1 0-1 2-2 2-6 3-3 0-6 3-2 6 0 0 1 4 4 4 7 7 7 4 6 0 3-2 1-9 1zM472-24l-3-1 0-1 1-1 7-6 2 1 2 3 0 2-5 3zM252-27l-6-7-1-3 0-5-4-2-1-1 15-7 4-10 3-3 2 5 1 7 1 3 3 4 4 1 14 0 7-6 4-2 10 1 3-1 1-3-5-5 0-2 4-6 0-3-2-4-3-4-2 0-5 6-11 5-3 0-3-2-2-2 0-3 2-3 3-1 5-1 18-6 6 0 3-1 3-3 2-5 4-5 1 2-1 7 2 23 2 1 8 0 4 2 8 12 1 3-2 3-6 3-13 1-3 3-6 7-3 2-4-1-8-4-8 0-5 1-4 5-3 2-4 0-11-5-13 5-4 3zM352-28l-6-2-8 0-1-1 1-2 9-1 6-5 3-1 9 2 3 3 0 3-5 3-6 1zM434-28l-4-2-5-5 0-2 7-7 0-2-1-1-5 0-5 2-3 3-5 7-4 3-4 1-9-3-9 0-4-2-2-4 0-11 3-3 4-1 3 1 6 6 3 1 7-2 9-1 2-2 6-8 3-1 3 0 3 3 3 9 5 1 8-3 3 0 2 2 2 5-1 8-3 5-13 3zM463-30l-2-4 1-6 4-3 3 0 3 2 3 4-2 5-5 3zM273-47l-5-3-1-4 1-4 3-4 1-3 3-2 4-1 7 3 4 3 2 4-3 4-9 6-4 1zM364-57l-11-2-4-4-5-10-10-4-1-2 0-3 3-3 10 2 11-1 12 7 14 2 3 0 9-5 5-1 11 2 2 2 2 3 0 3-1 2-8 9-4 2-4 0-12-7-6 5-5 2-5 1zM440-60l-9-9 0-3 3-2 2-1 3 1 3 3 2 4 1 3-1 3-2 2zM344-86l-5-3-2-4 2-4 4-3 4-1 7 4 4 3 0 2 0 2-4 3-5 1zM444-103l-2-2-2-3 0-3 2-2 7-2 3 1 3 2 1 2-5 5-4 2zM377-119l-3-4 4-1 4 1 0 2-2 2-2 1zM125 128l26 0 1-1-4-2-3-5-4-2-6 2-7 6-3 1zM494 128l39 0 2-4 1-5-3-5-9-8-3-1-14 10-9 3-3 4zM162 124l1 1 2-1 0-3-1-1-2 1zM435 123l3 0 2-2 1-7-2-4-4-3-4 0-5 1-4 2-2 3 2 4 4 3zM427 118l-3-2-1-2 0-2 3-2 7-1 3 1 3 2 0 3-3 3-5 1zM241 122l3 1 3-1 5-5 1-3 0-4-1-2-3-2-5 0-15 2-8 5-2 3 0 2 4 2 11 0zM242 115l1-1 1 1-1 1zM466 119l3 1 2-2 2-3-1-3-6-1-2 1-1 4zM299 101l5 1 4-3 1-7-1-4-7-5-6-8-13-4-3 0-2 2-5 3-5 1-5-3-5-6-2-1-11 6-10 2-7 3-4 0-5-6-2 0-7 2-5 5 0 3 2 4 3 2 4 1 14 0 25 1 6-1 10-4 5 0 10 7 9 0 3 1 3 3zM249 86l-2-1-1-2 4-5 4-2 4 3 1 3-2 3-3 1zM284 86l-3-3 1-6 3-1 7 2 1 3-1 3-4 2zM28 95l2-2 1-3-1-1-3 0-1 1 0 3zM59 90l5 0 13-4-5-5-6 1-10 0-3 1-1 2 3 3zM499 85l5-2 3-4-2-4-4-3-3 2-2 5 0 4zM12 83l4 0 3-1 2-4-1-3-2-2-4 0-4 0-3 2-1 2 0 3 2 2zM11 81l-2-2 0-2 1-1 5-1 3 2 0 2-1 1zM732 83l0-2-2-1-1-2 1-2 2-1 0-2-5 2-1 3 2 4zM571 80l1 0 2-2 5-8 1-4-2-2-6 0-4 1-2 2 0 5zM455 78l1 0 2-4 0-2-2-2-1 2zM-7 72l7 0 8-5 12 0 7-6 4-1 2 0 6 4 2 1 4-3 1-3 1-10-2-7-6-4-11-3 0 1-9 9-4 3-3-2-4-4-2-1-15-2-3 4 0 19 7 1 1 2-2 2-6-1 0 5zM-1 50l-1-2 0-1 3-1 1 2 0 2-1 1zM28 49l0-1 1 1-1 1zM256 65l2-1 4-3-4-1-4 1zM232 63l2 0 0-3-3-7-1-7-2 1-1 2 0 10 2 3zM556 58l2-1 0-3-1-7-1-2-1 0-2 3 0 3 1 5zM176 55l5 0 5-3 2-5-2-3-4-2-4 0-4 1-3 2-2 3 1 3 1 2zM177 53l-4-3 1-3 3-2 5 1 1 2 0 3-3 2zM290 33l3-1-2-3-1-5-4-3-4 0-3 3 0 3 5 5 4-1zM244 27l2 0 3-3-1-5-6-3-4 0-1 2 1 3 4 5zM16 24l3 0 1-2 0-1-7-3-5-4-4-2-10-1-2-5-1-4 4-12-7 0 0 23 5 1 5 5 11 2zM731 21l1 1 0-5-4-3-5-2-8 0-2-2-2-8 4-12-5 0-6 1-2 3 0 2 4 6 0 8 1 2 6 2 3 4 3 2zM290 8l2-1-2 0zM297 7l4 0 5-3 0-1-3-2-5 1-5 4zM17-3l5-3 0-2-4-4-5-1-6-3-5 2-1 1 10 4zM732-8l0-7-6-1-5 3 7 2zM630-13l6 1 7-4 6 4 2 0 6-3 8-1 1-1 1-2-1-2-2-1-8 0-9-4-4 0-6-3-5 0-5 3-2 5 1 5zM631-14l-3-2-1-3 1-6 5-3 3 0 3 2 3 4 1 2-2 3-5 4zM615-33l2 1 2-1 1-1 0-2-3-1-2 0-1 2zM673-34l5 1 5-4 1-4 0-7 1-3-1-3-3-3-2 0-4 4-8-5-4 0-3 1-4 4-1 3 1 3zM676-35l-5-2-2-3 0-3 2-4 5-1 4 1 2 2 0 3-1 5zM641-36l4 0 3-4 0-4-3-2-5 0-3 3 0 4zM578-39l1-1-1-1-3-4-3-1-3 1 3 3zM685-79l4-1 5-8 3-3 10-6 2 1 0 8 1 1 7 1 3-2 0-1 12 4 0-55-231 0 8 16 5 13 1 1 20-2 16-1 17 1 19 3 29 8 6 0 13 4 13 0 5 2 7 6 4 2 4 0 8-2 3 2 3 6zM686-92l-8-6-3 0-8 4-3 0-19-7-16-2-6-3-2-2 0-3 4-5 8-4 9-7 16-3 12 2 3 1 3 3 2 9 2 4 2 1 6-1 5 1 5 2 3 3 0 3-3 4-8 6zM700-113l-4-2-2-3-2-10 1-2 5 0 3 3 2 3 1 4-1 4-1 3zM612-115l-6-6-1-5 3-4 3-1 3 0 5 3 4 6-7 7-2 0zM618-83l2 0 2-2-1-2-1-1-2 0-2 2 1 2zM619-83l-2-2 1-2 1-1 2 1 0 2zM427-88l2 1 1-1 0-6-1-3-3-1-3 1-1 4 2 3z"/><path fill="#6cff30" fill-rule="evenodd" d="M80 132l93 0-4-1-4-3 16 0 3-6-1-5 6-2 13-2 6 1 2 3 0 2-6 4 1 2 29 2 19 0 8-3 4-4 2-6-3-7 1-3 4-3 7-1 5 1 8 4 3 10 10 9 0 4-37 0-3 3-4 1 79 0-1-1-1-3-27 0-2-3 2-3 11-6 2-4-1-5-5-8 8-12-1-1-5-2-2-2-2-9 1-5 1-2 8-2 4-7 2-2 11-2 6-2 11 0 13-6-1-2-7-3-4-8-2-2-5 0-9 7-9-6-4-1-2 2-4 8-1 9-2 3-4 3-6-1-10-17 0-3-2-4 0-6 15-10 4-8 10-2 4 0 8 7 5 2 13-3 15 4 13-6 4 0 4 1 9 4 17 4 4-1 8-3 3 0 3 1 2 3-1 3-11 0-4 3-2 5 1 6 0 3-7 6-6 7-5 1-12-2-7 0-4 2-7 7-1 2 2 6 4 5 9 1 14-3 3 3 2 7 1 2 14 6 6-1 0-10 5-12 5-8 1-3-3-12 4-7 1-10 2 0 7 3 8 2 3 2 6 13 1 4-12 11-2 10-6 0-4 2-3 3-3 8-7 5 1 10-2 1-12-1-11 2-3 2 3 2 13 3 1 1-4 7 1 4-1 2-8 6 1 1 7 1 37 0-9 3-10 1 149 0-13-3-1-1 0-1-12 0-4-1-4-2-2-3-1-4 3-6 4-4 11-9 3-6 1 0 0 6 2 4 2 2 4 2 3-1 2-2 2 0 5 4 5 1 1-3 3-4 5-2 5 0-1 2 3 7-1 2-4 3 0 1 4 4 1 2-7 6 1 1 9-2 8 0 2-1 10 0 1-1 9 0 1-1 1 1 6 0 1-1 5 0 4-4 1-4 0-2-2-1-10 0-4-2-6-8-5-1-3-2-1-3-1-5-4-3-4 0-8 3-5 4-1-1-3-8 1-2 10 2 4-1 9-8 0-3-1-1-4-1-7-4-6 0-3 3-2 5-1-1-7-15-3-15-1-1-5 0-5-17-4-6-5-4-4 0-4 1-3 7-6 6-6-3-3-1-4 2-5 3-1 3-1 7-4 8-1 10-2 3-2 1-15-1-6-2-12-6-1-3 0-5-2-2-10 1-4-2-6-7-11-8-1-3 0-4 2-4 11-5 6-6 7-1 12 0 7-3 2-4-1-4-4-4-6-3-11 1-10-3-7 0-2 1-5 6-4 2-4-1-5-5-11-2-10 0-16 3-25-2-12 0-6-1-12-3-11 5-22 2-9 2-15-5-8 3-8-1-15 7-1 1 1 4-2 2-3-2-5-5-11-5-30 1-3-1-4-4-8-9-1-7 3-8 9-8 0-1-1-1-12-5-14-4-11-2-15-1-2 1-1 4 5-1 4 2 4 5 2 5-2 1 7 11 1 1 4 0 1 1-1 1-4-2-6 1-5 7-4 3-3 0-4-2-1 0 2 3 0 4-2 3-4 4-1 4 2 3 11 11 11-3 7 2 2 2 1 4 0 4-2 2-8 3-4 1-9-3-9-2-9-4-10-1-8 2-9-1-6 5-2-2 0-7-4-7-11-13-9-2-5 0-6 3-7 7-6 8-3 0-15-6-1-6-2-1-10-3-2-3-2-8 1-9 3-7 15-10 6-10 1-2-20-17-18-11-14-5 0 1-3 2-7-1-1-1 0-7-1-2 0 87 5-1 2 1 0 1-4 8 1 7 2 5 12 2 14 9-1 2-2 1-8-4-10-1-3-2-3-4-5-1 0 7 3 4 2 0 10-1 5 1 5 4 2 5 0 2-3 2-12 0-6-3-4-7-2 0 0 16 2-3 2-1 11 1 5 2 5 5 3 0 3-2 9-9 0-1 8 1 7 4 3 3 1 5-1 12-2 3-3 2-2-1-6-4-2 0-4 1-8 6-11 0-10 6-10-2 0 3 8 3 3 3-5 5-6 3 0 5 6 0 2 2 2 10 5 8 0 9-1 3-3 2 0 1 15 0 3-3 9-3 1-2-1-6 4-9 3-2 16-1 10 3 15 2 7 0 6 3 4-1 6-10-1-2-6-9 0-2 4-5 0-4-2-5-7-6-1-3 1-3 3-3 6-1 11 5 4 0 10-14 4-3 11-1 19 1 5 1 3 3 2 16 3 5 4 2 10 0 8 6 3 3 0 5-2 5-6 3-5 0-8-12-13-10-4-14-4-2-4-1-2 3-1 11-2 4-3 2-5 1-15-2-2 2 1 3 3 3 16 8 3 0 8-3 4-1 15 5 2 2 0 2-6 3-5 8-6 3-3-1-4-3-7-9-2 0-4 1-9 6-10 5-4 3-1 2 2 2 8 7 0 6-1 1-35 0zM125 127l3-1 7-6 6-2 4 2 3 5 4 2-1 1-5 0-21 0zM494 127l1-6 3-3 9-3 14-10 3 1 9 8 3 5-1 5-2 4-38 0zM162 124l0-3 2-1 1 1 0 3-2 1zM435 123l-9-3-4-3-2-4 2-3 4-2 5-1 4 0 4 3 2 4-1 7-2 2zM240 122l-6-2-11 0-4-2 0-2 2-3 8-5 15-2 5 0 3 2 1 2 0 4-1 3-3 3-3 2zM465 119l-2-3 1-4 2-1 6 1 1 3-2 3-3 2zM626 119l-1-7 2-4 6-4 3 0 3 3 4 6 0 2-1 2-9 3zM448 117l-2-2-1-3 2-7-1-4 2-3 23-2 2 0 1-1-1-4 2-8-1-6-2-8-6-6 0-2 1-1 3 0 7 4 22-1 6 2 14 3 7 4 4 0 4-1 4-3 1-15 1-3 2-1 3 3 3 8-1 4-3 5 1 2 2 2 2 0 7-2 3 1 4 5 1 3-1 2-8 9-2 8-2 4-6 7-2 1-3 1-5-2-4-3-5-9-4-4-4-1-8 3-7-3 4-4 7-2 1-3 0-4-2-5-7-7-3-2-4 0-4 4-3 11 1 6 7 7-6 8-4 3-4 1-7-2-25 1-2 2 2 7-1 3-2 1zM123 116l-4-2 0-2 4-6 5-3 3-1 3 1 4 3 2 3-1 3-3 2-8 2zM307 116l-6-2-1-2 0-2 10-4 4 1 2 4-1 3-3 2zM171 115l-6-4-1-1 2-2 6-3 16-3 4-8 4-4 3-2 3 1 9 3 20 1 20 0 18-3 3 1 2 1 0 2-1 1-16 8-10 0-22 4-9 5-9-1-31 5zM612 110l-1-6 1-5 1-1 4-1 2 1 0 2 0 7-3 3-3 1zM17 109l0-2 1-2 3-1 1 2-1 2-2 1zM417 104l-7-2-1-1 3-2 10-1 4 1 2 2 0 1-3 2zM67 103l-15-3-14 0-2-2-1-2 0-4 3-5-1-1-10 0-6-2 1-5 3-4 5-1 6 1 1-1-1-2-5-1-2-1 1-3 4-1 5 3 8-1 3 2 1 2 0 5-2 2-6 4 4 4 10 8 5 0 9-3 6-1 8 0 4 2 2 4-1 2-2 2-13 2zM299 101l-1-5-3-3-3-1-9 0-10-7-5 0-10 4-6 1-25-1-13 0-4-1-3-1-3-4 0-3 3-4 8-4 2 0 5 5 4 2 8-4 10-2 11-6 2 1 5 6 5 3 5-1 5-3 2-2 2-1 14 5 6 8 7 5 1 5-1 5-1 2-4 2zM621 97l-2-2 1-4 3-3 3 1 3 3-1 3-3 2zM28 95l-2-2 0-3 1-1 3 0 0 4-1 2zM58 90l-3-2-3-3 1-2 3-1 10 0 6-1 5 5-13 4zM13 88l0-1 1-1 3 0 0 1-1 2zM80 85l-3-2-2-4-1-3 1-3 4-2 3-1 4 0 3 2 2 2 2 3-2 5-5 4zM498 85l-2-3 0-5 3-4 3 0 4 3 0 4-3 4-3 1zM11 83l-3-1-2-2 0-3 1-2 3-2 4 0 4 0 2 2 1 3-2 4-3 1zM615 83l-5-4 0-4 3-5 4-1 3 1 2 2 1 3 0 3-3 4-3 1zM137 82l-1-1 4-2 5-7 3-8 1 1 3 6 7 7 1 3-3 2-15-3zM570 79l-4-7 0-5 2-2 4-1 4 0 3 1 1 2-1 3-4 7-3 3zM455 77l0-6 1-1 2 2 0 2-2 4zM301 75l-1-1 0-6-8-3-3-3 0-3 1-2 4-3 6-1 5 1 0 10 2 5 0 4-2 3zM66 73l-7-9 2-6 4-5 8 5 2 5-1 4-2 4-3 2zM168 69l-3-3-1-4 1-4 3-3 4 0 8 3 5-3 8-7 9 6 3 3 0 4-2 3-10 5-5 1-8-3-7 3zM389 68l-4-1-3-2-1-3 1-3 3-4 3-1 4-1 3 1 4 4 0 4-4 4zM413 65l-3-2-1-3 6-7 2-7 4-3 5 1 6 7 0 4-3 3-9 2-5 4zM255 64l-1-3 4-1 4 1-4 3zM232 63l-4-1-1-4 0-9 1-2 2-1 1 7 3 7 0 3zM565 61l-2-2-2-6-2-15 1-5 3-4 4-4 3 0 4 2 2 4 3 11 0 7-1 7-2 3-6 2zM555 57l-2-3 0-4 1-4 2-1 2 7 0 4-1 2zM175 55l-4-2-2-3 0-3 3-3 3-2 4 0 5 1 3 2 0 4-3 5-5 2zM90 43l-11-1-2-4 3-9-2-15 1-6 4-9 4-3 3-1 3 0 2 2 10 12 2 4 0 11 2 3 3 0 7-3 25-3 19 5 11 7 7-3 5 0 6 4 2 3-1 3-2 2-15-4-11 5-49-6-3 1-4 4-2 1zM289 32l-1-1-4 1-5-5 0-3 3-3 4 0 4 3 1 5 2 3-3 1zM429 32l-2-2 0-2 3-2 2 1 1 2-1 2-1 1zM243 27l-5-7-1-3 1-1 4 0 6 3 1 5-3 3zM199 26l-5-1-4-3-3-4-2-6-2-3-6-1-11 0-3-2-5-6-1-4 6-11 9-9 4 0 11 0 5 2 7 6 8 14 3 5 1 10 2 2 3 2-1 1-5 8-3 1zM451 20l-6-7-13-4-11 3-7 0-11-2-10-4-4-1-15 5-18-2-13 2-4-2-9-8-2-2-1-2 11-6 8-1 11-3 14 3 17-1 24 2 16-3 12 0 8 2 6 5 4 1 4-1 6-6 7 0 6 3 3 4-2 3-6 5-2 7-5 3-10 1-6 6zM290 8l0-1 2 0zM297 7l-4-1 5-4 5-1 3 2 0 1-5 3zM2 3l-2-2 0-3 1-2 2 0 3 2 0 4-2 2zM276 3l-1-1 0-5 6-4 5-2 7 1 2 1-1 2-3 3-7 3-4 3zM493 1l-4-4 0-2 2-2 6-1 5 3 0 3-2 3-3 1zM17-3l-6-6-10-4 1-1 5-2 6 3 5 1 4 4 0 2zM635 132l40 0-18-7-10 5zM60 128l17 0 2-6-1-5-2-2-3 0-7 3-7 6 0 2zM66 124l-1-1 4-2 2 0 2 2-3 1zM336 128l8 0 1-1-2-3-4-1-3 2zM354 128l29 0 3-1-3-3-4-1-9 2-12 0-5 2zM719 128l13 0 0-45-4-1-2-4 1-3 5-2 0-6-5 1-9 5-15-3-10 1-11 7-9 3-3 2-7 13 3 6 2-1 2-4 3-3 7-4 4 1 10 4 17-2 5 1 1 3 1 8 4 7 1 3 0 8-2 3-2 1zM692 90l-4-2-3-4 2-4 6-4 8-2 5 0 8 2 5 3-1 3-8 5zM356 110l4 0 8-6 0-7 4-4 5-1 9 3 3-1 1-3-1-3-6-5-6-9-18-7-5 1-8 7-3 2-4 0-8-4-3 1-2 4 0 6 9 4 3 5 5 5 5 7zM357 93l-2-4-2-9 0-4 2-3 3-1 4 0 9 4 4 3 1 4-2 3-13 7-3 1zM653 105l3 0 2-2 3-7-1-4-5-4-4 2-2 5 1 6zM653 103l-2-3-1-5 2-4 3-1 3 3 0 5-2 5zM632 60l3 1 3-4 1-5-1-4-5-3-3 3-2 5-2-5-2-1-3 4-1 5 2 1 3 0 3-4 1 4zM633 59l-2-3-1-4 1-3 3-2 3 2 1 5-2 4zM701 55l2-2 6-12 2-2 15 2 2 1 4 4 0-9-8 0-7-1-4-3-3-6-4 1-9 6-11-3-12 2-5-4-2-6 2-3 3-1 13 2 2-2 4-7 4-1 13 9 4 4 13-1 4 2 3 2 0-5-4-2-9 0-3-2-3-4-6-2-1-2 0-8-4-6 0-2 2-3 7-2 4 1-4 12 2 8 2 2 11 1 6 4 0-25-4-3-7-2 5-3 6 1 0-70-12-4 0 1-3 2-7-1-1-1 0-7-1-2-11 6-3 3-5 8-4 1-3-2-3-6-3-2-8 2-4 0-4-2-7-6-5-2-13 0-13-4-6 0-29-8-19-3-17-1-16 1-20 2-1-1-5-13-8-16-244 0 6 2 0 1 3 1 0 1 4 1 0 1 2 0 0 1 5 2 0 1 2 0 0 1 2 0 0 1 2 0 0 1 11 6 33 16 10-10 4 2 3 0 1-6-1-3 6-5 4-2 33 0 10 6 9 3 2 0 5-4 3-1 4 0-4 13-3 3-5 0-4 0-2-1-5-7-5-3-4 1-7 6-5 3-1-1-2-8-6-6-3-1-8 5-2 3-1 3 1 4 2 2 5 1 13-1 1 4-1 4-3 3-6 3-2 4 2 4 2 3 4 2 4 1 11-1 9-4 3-1 7 2 9-1 8 6 3 0 3-3 2-5 5 1 3-1 2-3 2-4 0-2-6-8-5-11-1-3 0-2 3-4 2 0 6 1 7 3 3 0 7 5 5 5-5 4-10 12 2 2 10 1 4 3 0 3-1 5-4 7-5 5-2 7 1 5 2 3 7 2 7 0 6-2 4-3 3-6 6-4-1-2-7-6-4-5-1-4 0-6 1-1 16-6 20-9 7 12 5 12 2 11-2 11-2 5-6-5-6-3-7 1-7 4-3 3 3 4 0 3-3 8-1 10 8 12 3 2 4 1 4-2 3-2 5-14 1-1 1 1 4 7 1 5-1 3-5 7-2 5 0 4 2 4 6 2 3-1 3-2 1-3-2-8 0-4 7-7 3-5-3-5-6-4-8-2 1-11 15 8 8 3 44 10 2 0 1-2 1 1 2 3 1 4 2 2 9 4-42 0-1 1-8-2-9 2-3 2-1 3 1 14 4 3 5 1 7-5 47 18 12-1 16 7 1-1 0-2 2-2 3 0 4-3 2-2 0-3-2-6-2-2-11-4 0-5 5 2 5-1 3-3 0-5 1 0 7 7 8 0 5 4 9 2 3-4-1-8 1-3 2-2 3 0 9 6 1 2-1 3-13 14-10 1-7 0-5 3-1 3 1 8-1 3-7 3-2 1-2 6-1 6 1 1 2 1 9 0 8 3 7 1 3-2 4-11 3-2 4 0 7 3 5 4 2 4-2 5zM672 46l0-2 1-1 1 2-1 1zM555 3l-3-4 1-5 2-2 3-1 5 2-1 3-4 8zM722 3l-2-2 0-3 1-2 2 0 3 2 0 4-2 2zM639-1l-3-3 2-3 4-1 4 2 0 2-1 2-3 2zM629-4l-2-1-1-3 3 0 1 2zM666-6l-3-3 0-2 2-2 6-1 4 2 0 3-2 3-4 1zM630-13l-5-4 0-5 2-4 5-3 5 0 6 3 4 0 9 4 8 0 2 1 1 2-1 2-1 1-8 1-6 3-2 0-6-4-7 4zM619-14l-7-4-1-1 3-1 3 0zM694-15l-6-5-1-4 6 2 5 4 0 2-1 1zM503-17l-4-3-3-5-1-5-1-6 5-13 4-3 4-1 4 2 3 4 3 8 0 6-1 8-3 5-5 3zM675-19l-3-9 5 1 4 4 0 2-2 2-2 1zM654-29l-2-2 0-2 2-3 3-1 4 1 5 5 0 1-7 2zM615-33l-1-2 1-2 2 0 3 1 0 2-1 1zM673-34l-17-13-1-3 1-3 4-4 3-1 4 0 8 5 4-4 2 0 3 3 1 3-1 3 0 7-1 4-5 4zM640-36l-3-3 0-4 3-3 5 0 3 3 0 3-4 4zM598-37l-12-6-6-7-10-5-4-3 0-8-2-6 2-5 6-8 10-7 11-4 13-2 9 1 10 0 12 3 10 0 5 3 6 9 10 5 5 5 0 2-2 2-12 5-10 10-11 4-9 8-3 1-9-3-4 0-4 2-7 5zM578-39l-6-3-3-3 3-1 4 2 3 4 0 1zM461-53l-3-2-2-2-1-3 1-3 2-3 7-5 4-4 3 0 4 3 2 3 0 6-1 5-3 3-4 2-4 1zM692-56l-1-3 2-3 3 0 4 1-1 2-3 3-3 1zM375-84l-2-1-1-2 1-3 9-5 4-1 3 0 1 6-3 4-6 2zM427-88l-3-2-2-3 1-4 3-1 3 1 1 3 0 6-1 1zM469-89l-11-9 0-4 3-3 3 0 5 3 4 3 0 3-1 5-1 2zM392-99l0-2 1 0 1 1zM360-110l-3-2-1-2 0-3 2-2 6-3 3 0 3 2 2 5-1 3-5 3zM123-24l6 0 9-1 2-1 0-3-4-6-7-7-4-7-4-4 0-1-6 0-3 2 0 6-3 3-2 6-2 2 0 1 5 1 7 7zM123-25l-6-2-4-5 0-4 5-5 4 0 6 2 4 3 3 4 0 3-2 3-5 1zM472-24l4 0 5-3 0-2-2-3-2-1-7 6-1 1 0 1zM253-26l18-8 11 5 4 0 3-2 4-5 4-1 8 0 9 4 4 1 3-2 6-7 3-3 13-1 6-3 2-3-1-3-8-12-4-2-8 0-2-1-2-23 1-7-1-2-4 5-2 5-3 3-3 1-6 0-18 6-5 1-3 1-2 3 0 3 2 2 3 2 3 0 11-5 5-6 2 0 3 4 2 4 0 3-4 6 0 2 5 5-1 3-3 1-10-1-4 2-7 6-14 0-4-1-3-4-1-3-1-7-2-5-3 3-4 10-15 7 1 1 4 2 0 5 1 3zM314-37l-6-4-2-3 9-4 5 0 2 3-1 4-3 4zM257-45l-1-1 3-3 2 2 0 2-2 1zM340-51l-4-2-4-4 1-3 3-3 3 0 2 1 3 5 0 4zM285-70l-2-2-1-3 3-3 4 0 2 3 0 3-3 2zM352-28l6 0 7-2 3-2 0-3-3-3-9-2-3 1-6 5-9 1-1 2 1 1 8 0zM435-28l14-1 4-2 2-6 1-8-2-4-2-2-3 0-8 3-5-1-3-9-3-3-3 0-3 1-6 8-2 2-9 1-7 2-3-1-6-6-3-1-4 1-3 3 0 11 2 4 4 2 9 0 9 3 4-1 4-3 5-7 3-3 5-2 5 0 1 1 0 2-7 7 0 2 6 5zM435-32l0-2 2-1 3 0 2 2-3 2zM576-81l4 1 3-3-1-1-4 1-2 1zM618-82l3-1 1-2 0-2-2-1-2 0-2 2 0 2zM618-83l-2-2 1-2 2-1 2 1 1 1-1 2-1 1zM344-86l4 1 5-2 4-2 1-3-1-3-3-2-8-5-6 4-3 4 2 5zM346-87l-4-2-2-4 3-4 6 0 4 2 2 2 0 2-3 3zM701-113l2-1 1-3-1-7-2-3-3-3-5 0-1 2 2 10 2 3zM612-115l4 0 7-7-4-6-5-3-3 0-3 1-3 4 1 5zM610-121l-2-3 2-3 3 0 3 1 0 2-2 3z"/><path fill="#c0ff00" fill-rule="evenodd" d="M67 124l4 0 2-1-2-2-2 0-4 2zM627 119l4 1 6-1 3-1 3-2-1-4-4-6-5-2-3 2-4 3-1 4 1 6zM632 115l-1-2 1-2 2-1 2 1 1 2-1 2-2 1zM449 117l3 1 1-1 1-3-2-7 2-2 25-1 7 2 4-1 4-3 6-8-7-7-1-6 3-11 4-4 4 0 3 2 7 7 2 5 0 4-1 3-7 2-4 4 7 3 8-3 4 1 4 4 5 9 4 3 5 2 3-1 2-1 6-7 2-4 2-8 8-9 1-2-1-3-4-5-3-1-7 2-2 0-2-2-1-2 3-5 1-4-3-8-3-3-2 1-1 3-1 15-4 3-4 1-4 0-7-4-14-3-6-2-22 1-7-4-3 0-1 1 0 2 6 6 2 8 1 6-2 8 1 4-2 1-22 2-3 1-1 2 1 4-2 7 1 3zM538 107l-4-2-2-3-6-14-1-3 1-3 11-5 16 3 1 1-1 2-8 8 0 9-1 4-3 3zM456 103l-3-2 5-2 12-1 8 2-1 2-7 2zM486 98l-3-2-3-4-2-16 2-5 5-3 3 1 2 3-2 13 3 10-2 2zM124 116l5 0 9-3 2-2 0-3-3-3-4-2-3-1-4 2-4 3-3 6 1 2zM307 116l5 0 3-2 1-3-2-4-4-1-10 4 0 2 1 2zM172 115l4 1 30-5 10 1 9-5 22-4 10 0 16-8 1-1 0-2-2-1-3-1-18 3-20 0-20-1-9-3-3-1-3 2-4 4-4 8-16 3-6 3-2 2 1 1zM175 113l-3-2-1-2 4-2 6-2 16 0 4 1 3 2-1 2-8 2-12 2zM214 107l-9-3-5-3-2-4 1-2 2-1 33 2 9 1 4 2-1 2-8 3-20 3zM612 110l4 0 3-3 0-7 0-2-2-1-4 1-1 1-1 5zM18 109l3-1 1-2-1-2-2 0-2 2 0 2zM418 104l7 0 3-2 0-1-2-2-4-1-10 1-3 2 1 1zM416 102l0-2 3-1 4 1 1 1 0 1-3 1zM67 103l8 0 13-2 2-2 1-2-2-4-4-2-8 0-6 1-9 3-5 0-10-8-4-4 6-4 2-2 0-5-1-2-3-2-8 1-5-3-4 1-1 3 2 1 5 1 1 2-1 1-6-1-5 1-3 4-1 5 6 2 10 0 1 1-3 5 0 4 1 2 2 2 14 0zM70 100l-1-1 2-2 3-1 3 1 0 1-2 2zM40 97l-1-3 2-3 4 0 3 3 0 2-2 1zM27 85l-2-1-2-2 0-2 2-3 6-1 3 1 3 2 0 3-1 2-4 1zM653 103l3 0 2-5 0-5-3-3-3 1-2 4 1 5zM653 102l-2-3 0-4 1-3 3-1 2 3 1 4-2 4-2 1zM622 97l4 0 2-3 0-3-2-2-4 0-3 3 0 3zM622 96l-2-2 1-3 2-2 3 1 2 2-1 3-2 1zM357 93l4 0 13-7 2-3-1-4-4-3-9-4-4 0-3 1-2 3 0 4 2 10zM362 85l-2-2-1-3 1-2 2-1 6 2 1 3-3 3zM693 90l17-3 8-5 1-3-5-3-8-2-5 0-8 2-6 4-2 4 3 4zM704 83l-3-2 1-3 5-1 3 2 0 2-1 1-3 1zM-12 88l6-3 5-5-3-3-8-3 0 3 3 3-3 3zM13 88l3 1 1-2 0-1-3 0-1 1zM81 85l6 0 4-2 1-3 1-3-2-3-4-3-7-1-3 2-2 2-1 3 1 3 2 3zM81 84l-4-4 0-5 4-4 4 0 3 1 3 4 0 5-5 3zM615 83l3 0 2-1 3-5-1-5-2-2-3-1-4 1-2 2-1 4 1 4zM615 82l-3-3 0-5 2-4 4 0 3 3 1 5-3 4zM137 82l5-2 15 3 3-2-1-3-7-7-3-6-1-1-3 8-5 7-4 2zM302 75l3 1 2-3 0-4-2-5 0-10-5-1-6 1-4 3-1 2 0 3 3 3 8 3 0 6zM66 73l3 0 3-2 2-4 1-5-3-5-7-4-4 5-2 6 4 7zM169 70l5 0 6-3 8 3 5-1 10-5 2-3 0-4-3-3-9-6-8 7-5 3-8-3-4 0-3 3-1 5 2 4zM169 68l-3-4 0-3 1-3 4-1 5 2 2 3-1 4-4 3zM186 65l-2-2 0-3 2-3 5-4 7 1 3 1 2 2 0 4-3 3-10 2zM389 68l6-2 4-5 0-4-4-3-4-1-4 1-3 2-3 4 0 3 1 2 3 2zM413 65l7-5 9-2 3-3 0-4-6-7-5-1-4 3-2 7-6 7 1 3zM566 61l4 0 6-2 2-4 1-7 0-6-3-11-2-4-4-2-3 0-4 4-3 4-1 5 0 9 2 8 2 4zM567 59l-3-2-2-4-2-13 3-8 3-4 3-1 3 1 3 5 2 9 1 6-1 5-3 4-3 2zM633 59l3-1 2-4-1-5-3-2-3 2-1 3 1 4zM634 58l-2-2-1-3 1-4 2-1 2 1 1 4-1 4zM672 46l1 0 1-1-1-2-1 1zM91 43l17-1 5-4 3-1 49 6 11-5 15 4 2-2 1-3-2-3-6-4-5 0-7 3-11-7-19-5-25 3-7 3-3 0-2-3 0-11-2-4-10-12-2-2-3 0-3 1-4 3-4 9-1 6 2 15-3 9 2 4zM88 39l-3-1-2-3-3-23 1-6 3-5 3-3 4-1 8 6 5 7 1 4 1 17-2 4-4 3-6 2zM145 38l-18-3-4-2-3-3 2-2 3-1 18-3 17 4 3 2 2 2 0 3-2 2-6 2zM1 37l8 0 5-1 1-3-2-5-3-3-4-2-5 0-9 1-4-4 0 7 2 0 6 8zM2 35l-4-1-2-3 0-3 2-2 7 0 3 2 2 2 0 2-1 2zM721 37l11 0 0-10-3-2-4-2-13 1-16-13-2 0-3 1-4 7-2 2-12-2-4 1-1 2 0 3 1 3 2 3 3 2 12-2 11 3 9-6 4-1 5 8zM722 35l-4-1-2-3 0-3 2-2 7 0 3 2 2 2 0 2-1 2zM696 26l-2-1-1-3 1-2 2-1 3 1 2 3-2 3zM429 32l3-1 1-2-1-2-2-1-3 2 0 2zM199 26l8 1 3-1 5-8 1-1-3-2-2-2-1-10-3-5-8-14-7-6-5-2-11 0-4 0-9 9-6 11 1 4 5 6 3 2 11 0 6 1 2 3 2 6 3 4 4 3zM196 23l-6-4-6-10-5-2-11 0-3-2-3-4-1-4 1-5 5-8 4-4 7-2 12 2 6 5 10 15 2 5 1 8-1 6-4 4-4 1zM451 20l2 0 6-6 10-1 5-3 2-7 6-5 2-3-3-4-6-3-7 0-6 6-4 1-4-1-6-5-8-2-12 0-16 3-24-2-17 1-14-3-11 3-8 1-11 6 1 2 2 2 9 8 4 2 13-2 18 2 15-5 4 1 10 4 11 2 7 0 11-3 13 4zM463 12l-7-4-16 2-10-5-10 3-13-1-6-1-11-5-3 0-7 4-5 2-20-2-11 2-7-4-4-3 0-2 2-3 4-2 18-5 14 3 11-2 10 0 24 2 24-3 6 2 7 5 4 2 5-2 6-4 4 0 3 1 2 2-1 3-4 5 1 6-1 2-3 2zM2 3l3 1 1-3-1-4-2-1-2 0-1 2 0 3zM276 3l4 1 4-3 7-3 3-3 1-2-2-1-7-1-5 2-6 4 0 5zM555 3l3 1 4-8 1-3-5-2-3 1-2 2-1 5zM722 3l3 1 1-3-1-4-2-1-2 0-1 2 0 3zM493 1l4 1 4-2 1-3-1-3-3-2-3 0-5 2-1 2 0 2zM639-1l3 1 3-2 1-2 0-2-4-2-4 1-2 3 1 2zM639-2l-2-2 2-2 3-1 3 2-1 3-3 1zM629-4l1-2-1-2-3 0 1 3zM666-6l4 1 3-1 2-3 0-3-4-2-6 1-2 2 0 2zM666-7l-2-3 2-3 5 0 3 2 0 2-2 2-3 1zM619-14l-2-6-3 0-3 1 1 1zM694-15l3 0 1-1 0-2-5-4-6-2 1 4zM504-17l5 0 4-3 3-6 2-9-1-7-3-5-3-4-4-2-4 1-4 3-5 13 1 6 2 6 3 5zM504-18l-3-2-3-4-2-5-1-6 2-6 3-7 3-2 3-1 4 1 4 4 2 5 0 6 0 7-3 6-4 4zM676-19l2 1 2-2 1-2 0-2-4-3-5-1 2 7zM123-25l5 0 5-1 2-3 0-3-3-4-4-3-6-2-4 0-5 5 0 4 4 5zM123-26l-5-2-3-4 1-4 5-3 4 1 4 1 3 3 1 3 0 2-2 2-4 1zM654-29l5 1 7-2 0-1-5-5-5-1-3 2-1 2 0 2zM436-32l4 1 2-2-2-2-3 0-3 2zM314-37l4 0 3-4 1-4-2-3-5 0-9 4 2 3zM598-37l4 1 7-5 4-2 4 0 9 3 3-1 9-8 11-4 10-10 12-5 2-2 0-2-5-5-10-5-6-9-5-3-10 0-12-3-10 0-9-1-13 2-11 4-10 7-6 8-2 5 2 6 0 8 4 3 10 5 6 7zM597-45l-4-2-7-8-2-1-7 1-5-3-2-5 0-10 1-2 10 0 8-10-1-3 1-1 10-4 7 0 7 0 8-2 5-1 5 1 5 5 9 0 3 1 2 4 1 10 2 8-1 4-3 4-12 7-7 6-3 1-13-2-13 3zM576-81l3-2 4 0-3 3zM258-44l2 0 1-1 0-2-2-2-3 3zM340-51l4-2 0-4-3-5-2-1-3 0-3 3-1 3 4 4zM462-53l5 1 4-1 4-3 2-3 1-5 0-5-2-3-4-3-3 0-4 4-7 5-2 3-1 3 1 3 2 2zM463-54l-3-1-3-3 0-3 1-3 3-2 5-3 4 0 3 1 3 4 0 3-1 3-5 4zM692-56l2 1 3-2 3-4-5-1-3 1-1 2zM285-70l3 0 3-2 0-3-2-3-4 0-3 3 1 3zM284-71l-1-2 1-3 2-1 3 0 1 3 0 2-3 2zM619-82l2-1 2-3-2-2-2-1-2 1-1 3 1 2zM617-83l-1-2 0-2 3-2 2 1 1 2 0 2-2 2zM376-84l7 0 5-3 2-4-1-5-3 0-4 1-9 5-1 2 0 2zM347-87l5-1 2-2 1-2-1-2-2-2-6-2-4 2-2 4 2 3zM347-89l-4-2 0-3 3-2 4 1 2 2-1 2zM470-88l1-1 1-3 1-7-4-3-5-3-3 0-3 3 0 4zM469-95l-6-4 0-4 3 1 4 3 1 4-1 0zM392-99l2-1-1-1-1 0zM360-110l6 1 5-3 1-4-2-4-3-2-3 0-6 3-2 2 0 3 1 2zM362-111l-3-2 0-4 3-3 5 0 3 3 0 3-3 3zM610-121l3 0 2-1 2-3-1-1-4-1-3 1-1 3z"/><path fill="#ffff00" fill-rule="evenodd" d="M633 115l2 0 1-1 1-2-2-2-2 0-2 2 0 2zM176 113l8 1 11-2 8-2 1-2-3-2-4-1-16 0-6 2-4 2 1 2zM178 112l-2-1-1-2 3-2 4-1 11 0 6 2 0 1-2 1-3 1-10 1zM214 107l4 0 20-3 8-3 1-2-4-2-9-1-33-2-2 1-1 2 2 4 5 3zM213 105l-6-3-2-2 2-2 5-2 8 0 11 1 7 1 3 2-2 2-7 2-13 2zM538 107l3 0 3-3 1-4 0-9 8-8 1-2-1-1-16-3-11 5-1 3 1 3 6 14 2 3zM457 103l13 1 7-2 1-2-8-2-12 1-5 2 0 1zM463 102l-1-1 4-1 5 0 1 1-3 1zM417 102l5 1 2-2-2-1-4 0-2 0 0 1zM653 102l3 0 2-5-1-4-3-2-2 1-1 4 0 4zM653 101l-2-3 0-3 2-3 2 0 2 2 0 4-2 3zM71 100l5-1 1-2-3-1-4 1-1 2zM487 98l3-1 1-2-3-10 2-13-2-3-3-1-4 2-2 3 0 17 1 3 2 3 3 2zM41 97l6-1 1-1 0-2-4-2-3 0-2 2 0 2zM623 96l3 0 2-2-1-3-2-2-3 1-2 2 1 3zM622 95l-1-2 1-2 2-1 2 1 1 2-1 2-2 1zM28 85l4 0 4-1 1-2 0-3-3-2-3-1-6 1-2 3 0 2 2 2zM29 84l-4-2 0-2 2-2 5 0 3 2 0 2-1 1zM363 85l5-1 1-3-3-3-5-1-1 1 0 3 1 3zM81 84l5 0 5-3 0-5-3-4-3-1-4 0-4 4 0 5zM81 83l-4-4 1-4 2-2 3-1 5 1 3 4-1 4-4 2zM-12 83l3-3-3-3zM704 83l5-1 1-1 0-2-3-2-5 1-1 3zM615 82l4 0 2-2 1-3-1-5-4-2-4 1-2 4 1 4zM615 81l-3-3 0-4 3-3 3 0 3 3 0 4-3 3zM169 68l5 0 4-3 0-4-5-4-4 0-3 3 0 5zM169 67l-2-3 0-4 3-2 4 1 2 3 0 3-3 2zM187 65l4 1 10-3 2-3 0-3-2-2-3-1-5-1-3 1-6 6 0 3zM193 63l-3-1-1-2 0-2 2-2 6-1 4 2 1 3-2 3-3 1zM568 59l4-1 3-2 2-3 1-6-1-6-2-9-3-4-3-1-3 1-3 4-3 8 1 7 2 7 2 4zM568 57l-3-2-2-3-1-11 2-8 2-3 3-1 3 2 2 3 2 7 0 6-1 5-2 3-2 2zM634 58l2-1 1-4-1-4-2-1-2 1-1 4 1 4zM633 56l-1-4 1-2 2 0 1 2 0 3-2 2zM89 39l6 1 5-2 4-3 2-4-1-17-1-4-5-7-8-6-4 1-4 4-2 5-1 6 3 22 2 3zM91 37l-4-2-2-2-4-19 2-10 4-4 3-1 4 1 6 6 3 4 1 5-1 14-1 4-5 4zM146 38l12 1 6-2 1-2 0-3-2-2-3-2-17-4-18 3-3 1-2 2 3 3 4 2zM148 35l-7-2-2-2 1-2 4-2 4 1 7 2 4 3-1 2-2 0zM3 35l6-1 1-2-1-3-2-2-3-1-4 0-3 1-1 2 0 3 3 2zM723 35l6-1 1-2-1-3-2-2-3-1-4 0-3 1-1 2 0 3 3 2zM696 26l4-1 1-2-2-3-3-1-2 1-1 2 1 3zM196 23l4 1 4-1 4-4 1-6-1-8-2-5-10-15-6-5-12-2-7 2-4 4-5 8-1 5 1 4 3 4 3 2 11 0 5 2 6 10zM195 21l-5-4-5-9-4-2-11 0-3-2-2-3-1-4 1-5 3-7 4-3 3-2 5 0 6 1 4 2 4 3 11 15 2 4 1 6-2 7-4 3-4 1zM464 12l6-1 3-3-1-6 4-5 1-3-2-2-3-1-4 0-6 4-5 2-4-2-7-5-6-2-24 3-24-2-10 0-11 2-14-3-18 5-4 2-2 3 0 2 4 3 7 4 11-2 20 2 5-2 7-4 3 0 11 5 6 1 13 1 10-3 10 5 16-2zM464 10l-2-2 1-3 4-1 3 2 0 1-2 2-2 1zM439 8l-4-2-5-6-6-2-5-4 6-2 13-3 4 0 3 2 5 6 1 5-1 2-5 3zM343 4l-3-1-3-2-1-3 1-2 4-2 9-2 7-2 4 0 4 2 3 3 2 5-6 3zM398-1l-11-2-10 1-1-3 2-3 4-1 12-1 8 1 12 3 0 1-9 4zM639-2l2 1 3-1 1-3-3-2-3 1-2 2zM640-3l-1-1 1-1 3 0 0 2zM666-7l3 1 3-1 2-2 0-2-3-2-5 0-2 3zM668-7l-3-2 1-2 2-1 4 0 1 2-1 2zM505-18l4 0 4-4 3-6 0-7 0-6-2-5-4-4-4-1-3 1-3 2-3 7-2 6 1 6 2 5 3 4zM505-19l-4-2-3-4-1-5-1-5 1-6 4-6 2-2 3-1 4 1 3 4 2 5 1 6-2 7-2 5-3 3zM123-26l4 0 4-1 2-2 0-2-1-3-3-3-4-1-4-1-5 3-1 4 3 4zM121-28l-3-2-1-2 1-3 2-1 3-1 4 1 4 4 0 2-2 2-4 1zM597-45l4 1 13-3 13 2 3-1 7-6 12-7 3-4 1-4-2-8-1-10-2-4-3-1-9 0-5-5-5-1-5 1-8 2-7 0-7 0-10 4-1 1 1 3-8 10-10 0-1 2 0 10 2 5 5 3 7-1 2 1 7 8zM623-49l-8-4-13 3-4 0-12-12-6 4-5 0-2-3 0-5 1-2 2-2 8 2 4-10 8-11 7-2 12 2 0 5 2 2 2 1 3-2 1-3-1-2-3-2 0-2 4-3 5 0 4 3 0 4 11 6 5 16-2 4-9 6-7 6-3 1zM619-82l-2-1-1-3 1-2 3-1 2 2 1 2-2 2zM464-54l7-1 4-4 0-6-3-4-3 0-4 1-5 2-2 3-1 3 1 3 2 2zM462-56l-2-2-1-2 1-3 2-2 6-2 3 0 2 2 1 4-2 4-5 2zM285-71l3 1 2-2 0-2-1-3-3 0-2 1-1 3zM286-71l-2-2 0-2 2-1 2 0 1 1 0 2-1 2zM347-89l3-1 2-3-2-2-4-1-3 2-1 2 2 2zM469-95l2 0-1-4-4-3-3-1 0 4zM363-111l5-1 2-2 0-3-3-3-5 0-3 3 0 4zM363-113l-2-2 1-2 2-1 2 0 2 2-1 2-2 1z"/><path fill="#ffc700" fill-rule="evenodd" d="M178 112l6 0 10-1 3-1 2-1 0-1-6-2-11 0-4 1-3 2 1 2zM182 110l-1-1 2-1 3 1zM213 105l6 1 14-2 6-2 2-2-3-2-7-1-11-1-8 0-5 2-2 2 3 3zM215 104l-4-2-1-2 5-3 12 0 9 3-2 2-10 2zM464 102l5 0 3-1-2-1-5 0-3 1zM653 101l2 0 1 0 1-4-1-4-2-1-2 1-1 3 0 3zM653 100l-1-4 2-3 2 1 0 3-1 3zM623 95l2 0 2-1 0-2-2-2-2 0-2 2 0 2zM623 94l0-3 2 0 1 2-1 1zM29 84l5-1 1-2 0-2-5-2-5 2 0 3zM81 83l5 0 4-2 1-4-3-4-5-1-3 1-2 2-1 4zM81 82l-2-3 0-4 5-2 4 2 1 3-1 3-3 2zM615 81l4 0 2-3 0-4-3-3-3 0-3 3 0 4zM615 80l-2-3 0-3 2-2 3 0 2 2 0 4-2 2zM170 67l4 0 2-3-1-4-3-2-3 0-2 3 0 4zM170 65l-1-2 0-2 2-1 2 0 2 2-1 3-2 1zM193 63l4 1 4-2 1-2-1-3-4-2-6 1-2 2 0 2 1 2zM193 61l-1-2 2-2 3-1 2 2 0 2-1 1-2 1zM568 57l3 0 3-3 2-3 0-5-2-12-2-3-3-2-3 1-2 3-2 8 1 11 2 3zM567 54l-3-5-1-9 2-6 2-2 2 0 2 1 2 3 2 11-1 4-2 3-3 1zM633 56l2 0 1-2 0-3-2-2-2 3zM91 37l7-1 4-4 1-4 1-14-2-5-3-4-6-5-4-1-3 2-3 4-2 10 4 18 2 2zM90 34l-3-4-4-16 2-9 2-2 3-1 4 1 5 4 3 4 0 5 0 11-2 4-4 3zM148 35l8 0 2 0 1-2-4-3-7-2-4-1-4 2-1 2 2 2zM195 21l7 0 4-3 2-7-1-6-2-4-11-15-4-3-4-2-6-1-5 0-3 2-4 3-3 7-1 5 1 4 2 3 3 2 11 0 4 2 5 9zM197 20l-5-3-5-10-2-2-13 0-4-4-2-4 1-4 3-6 3-3 6-2 9 2 3 3 4 7 8 6 3 8 0 7-4 4zM464 10l4-1 2-2 0-1-3-2-4 1-1 3zM439 8l6-1 5-3 1-2-1-5-5-6-3-2-4 0-13 3-6 2 5 4 6 2 5 6zM437 6l-3-4-2-7 4-4 5-1 3 2 2 2 1 7-1 3-2 2-3 1zM344 4l21-2 4-1 1-2-2-4-3-3-5-2-4 0-6 2-10 2-4 3 0 2 1 2 3 2zM341 1l-1-1 0-2 3-2 14-1 3 1-1 3-4 1-9 2zM399-1l6 0 9-4 0-1-12-3-8-1-12 1-4 1-2 3 1 3 10-1zM393-5l-1-1 4-1 4 1 1 1-3 1zM640-3l3 0 0-2-3 0-1 1zM669-7l2 0 2-2 0-2-2-1-4 0-2 2 1 2zM668-9l0-2 3 1-1 1zM506-19l4-1 3-3 2-6 1-7-1-5-3-5-3-3-3-1-3 1-2 2-4 7-1 6 1 5 2 5 3 4zM503-21l-3-3-2-4-1-9 2-5 3-5 2-1 3 0 4 2 2 4 2 5-1 6-1 6-2 3-4 2zM121-28l4 1 4-1 2-2 0-2-4-4-4-1-3 1-2 1-1 3 1 2zM123-31l-2-2 1-1 3 0 2 2-1 1zM624-49l3 0 3-1 7-6 9-6 2-4-5-16-11-6 0-4-4-3-5 0-4 3 0 2 3 2 1 2-1 3-3 2-2-1-2-2 0-5-12-2-7 2-8 11-4 10-8-2-2 2-1 2 0 5 2 3 5 0 6-4 12 12 4 0 13-3zM600-56l-3-2-2-4-4-12 4-6 0-4 1-3 3-2 5-1 6 3 2 4-2 3-10 3 0 5 2 3 8 4 1 3-1 3-3 2-3 1zM625-56l0-2 1-2 3 1 0 2-1 1-2 1zM626-75l-5-2-2-3 6-6 4 0 4 2 2 3 0 3-4 3zM623-89l-2-2 2-2 3-1 3 2 0 2-1 1zM463-56l5 1 5-3 1-4-2-4-5-1-6 3-2 2 0 3zM465-58l-3-3 2-3 4-1 3 1 1 2-1 3-3 1zM286-71l2 0 1-2 0-2-1-1-2 0-2 1 0 2zM286-72l-1-1 0-1 1-1 2 0 0 2zM363-113l4-1 1-2-2-2-3 0-2 2 0 2z"/><path fill="#ff8500" fill-rule="evenodd" d="M182 110l4-1-3-1-2 1zM215 104l5 1 9-2 5-1 2-2-9-3-12 0-5 3 1 2zM216 102l-1-2 2-1 5 0 3 1-4 2zM654 100l2-1 0-2 0-3-2-1-2 1 0 3zM623 94l2 0 1-1-1-2-2 1zM82 82l4 0 3-2 0-3-2-3-4-1-4 3 0 3zM84 81l-3-1-1-2 1-2 3-1 3 1 1 2-1 2zM615 80l3 0 2-2 0-4-2-2-3 0-2 2 0 3zM615 78l-1-2 1-2 1-1 2 1 1 2-1 2-1 1zM170 65l3 1 2-2 0-2-2-2-2 0-2 1 0 2zM194 61l2 1 3-1 1-2-2-2-2-1-3 1 0 3zM567 54l3 1 2-1 2-3 1-4-2-11-2-3-2-1-2 0-2 2-2 6 1 9zM568 51l-2-3-1-7 2-4 2-1 2 2 2 8-2 4zM91 34l5 0 4-3 2-5 0-11 0-4-3-4-5-4-4-1-3 1-2 2-2 9 4 16 2 3zM93 31l-4-4-4-11 1-7 2-3 2-1 3 1 4 2 2 3 1 4 0 8-1 5-3 3zM197 20l6-1 3-4 0-7-3-8-8-6-4-7-3-3-9-2-6 2-3 3-3 6-1 4 2 4 4 4 13 0 2 2 5 10zM197 18l-5-3-6-13-11 1-3-1-2-2-1-3 0-4 2-4 3-3 5-1 6 1 3 3 2 7 9 4 3 3 3 6-1 5-3 4zM438 6l3 1 3-1 2-2 1-3-1-7-2-2-3-2-5 1-4 4 2 7zM439 5l-3-3-2-5 2-4 4-1 4 2 2 6-1 3-2 2zM342 1l5 1 9-2 4-2 0-2-3-1-14 1-2 1-1 2zM394-5l4 1 3-1-1-1-5-1-3 1zM668-9l2 0 1-1-3-1-1 1zM504-21l4 1 3-2 3-5 1-6-1-6-2-5-2-3-4-2-3 1-2 2-3 5-1 5 0 5 2 5 2 3zM504-22l-2-2-2-3-2-4 0-5 1-4 3-5 2-1 3-1 3 2 2 3 1 4 1 6-3 8-3 2zM123-31l3 0 1-1-2-2-3 0-1 2zM601-56l6-1 3-2 1-3-2-4-7-3-2-2 0-6 10-3 2-3-2-4-3-2-4-1-4 1-3 2-1 3 0 4-4 6 1 5 3 8 3 4zM599-81l-1-1-1-2 2-3 5-1 4 2 0 2-1 2-4 1zM625-56l1 1 2-1 1-1 0-2-2-1-2 1zM465-58l3 0 3-1 1-3-1-2-3-1-4 1-2 3zM286-72l2-1 0-2-2 0-1 1 0 1zM627-75l6-1 2-4-2-4-3-2-4 0-2 1-2 3-3 2 3 4zM625-79l-1-2 2-2 3 0 2 2-1 2-1 1zM624-89l4 0 1-1 0-2-3-2-3 1-2 2z"/><path fill="#ff3d00" fill-rule="evenodd" d="M216 102l5 0 4-2-3-1-5 0-2 1zM84 81l3-1 0-3-1-2-3 0-2 1-1 2 1 2zM615 78l2 1 1-1 1-2-1-2-2-1-1 1-1 2zM569 51l3-2 1-4-2-7-2-2-2 1-2 5 1 6 1 2zM93 31l3 0 3-3 1-5 0-8-1-4-2-3-4-2-3-1-2 1-2 3-1 7 5 12zM93 24l-4-8 0-3 2-1 4 0 2 4 0 4-1 4-2 1zM197 18l4 0 3-4 1-5-3-6-3-3-9-4-2-7-3-3-6-1-5 1-3 3-2 4 0 4 1 3 2 2 3 1 11-1 6 13zM195 15l-3-4-1-6 0-3 3-2 3 1 3 3 3 6-1 3-1 2-3 1zM175 0l-2-1-1-3 2-5 3-3 5 1 2 3-1 5-4 3zM439 5l4 0 2-2 1-3-2-6-4-2-4 1-2 4 2 5zM439 3l-2-2-1-4 2-3 2-1 3 2 1 5-2 3zM505-22l3 0 3-2 2-4 1-5-1-5-1-5-3-3-3-1-3 1-3 4-2 7 1 5 1 4 2 2zM504-24l-4-5-1-7 3-6 3-3 2 0 3 2 2 3 0 9-1 4-2 3-2 0zM625-79l4 1 1-1 1-2-2-2-3 0-2 2zM600-81l4 0 3-1 1-2 0-2-4-2-5 1-2 2 0 2zM601-84l3-1 0 1z"/><path fill="#f50000" fill-rule="evenodd" d="M93 24l2 1 1-1 1-4 0-4-2-4-4 0-2 1 0 3zM195 15l3 1 3-1 1-2 1-3-3-6-3-3-3-1-3 2 0 3 1 6zM195 10l-1-3 1-2 2 1 1 3-1 2zM439 3l3 0 2-3-1-5-3-2-2 1-2 3 1 4zM175 0l4 0 4-3 1-5-2-3-5-1-3 3-2 5 1 3zM505-24l3 0 2-1 2-7-1-9-2-3-2-1-2 0-3 3-3 6 2 8 2 3zM505-27l-3-3-1-6 2-4 4-1 3 3 0 7-2 4zM602-84l2 0 0-1-2 1z"/><path fill="#990000" fill-rule="evenodd" d="M196 11l1-1 0-2 0-2-2-1-1 2zM505-27l3 0 2-4 0-7-3-3-4 1-2 4 1 6z"/></g></g></g>
<filter id="blur0" x="-0.05" y="-0.05" width="1.1" height="1.1"><feGaussianBlur stdDeviation="0.6"/></filter>
<g id="f1"><g filter="url(#blur1)"><g transform="scale(0.5)"><path fill="#00008f" fill-rule="evenodd" d="M112 85l3 1 2-1 1-2 0-2-4-1-3 1-1 2zM609-26l1 1 0-2-1 0zM433-62l3 0 2-2 0-3-2-2-3 0-2 2 0 3zM642-98l4 1 7-1 5-2 1-3-3-3-4-2-6 0-5 1-4 2-1 2 1 2z"/><path fill="#0000d4" fill-rule="evenodd" d="M112 86l3 1 3-2 1-3-1-2-4-1-4 1-1 2 0 2zM111 85l-1-3 2-2 4 0 2 2 0 1-1 2-3 1zM13 84l6 0 2-3-2-2-9-1-1 1 0 2zM731 83l1 1 0-6-2 0-1 2zM195 37l5-1 1-1 0-2-6 1-1 2zM636-17l4 1 3-1 2-2-1-3-3-2-6 1-1 2-1 2zM608-23l3 0 2-2-1-3-2-1-3 0-1 2 0 2zM609-26l0-1 1 0 0 2zM507-26l3 0 2-3-1-3-2-2-3 1-1 2 0 3zM677-33l2-2 0-2-4-2-1 1 0 3zM433-61l3 0 3-3-1-4-2-2-4 1-2 2 0 3zM433-62l-2-2 0-3 2-2 3 0 2 2 0 3-2 2zM466-92l2-1 1-4-1-3-3-1-2 1-1 4 1 3zM642-97l6 1 8-2 5-2 1-3-3-3-6-3-6 0-7 1-4 2-2 3 2 2zM641-98l-4-3-1-2 1-2 4-2 5-1 6 0 4 2 3 3-1 3-5 2-7 1z"/><path fill="#001aff" fill-rule="evenodd" d="M39 100l4 0 2-1 0-1-1-2-6-2-4 0-2 1 0 1 2 2zM291 100l4 0 0-2-1-1-2 0-2 2zM608 90l2-1-1-2-2 0 0 1zM12 87l6 1 4-2 4-4-1-4-3-2-10-2-6 1-2 3 0 4 2 3zM12 84l-3-3 1-3 9 1 2 2-1 2-2 1zM111 87l4 0 4-1 1-2 0-3-4-3-6 1-2 2 0 2 0 2zM111 86l-2-3 1-3 5-1 4 2 0 3-2 2-3 1zM732 87l0-3-3-2 0-2 1-2 2 0 0-4-4 0-4 3 0 5 2 3zM645 85l5 0 1-1 0-2-2-2-3 0-2 3zM533 50l2 0 1-2 0-1-2-1-3 1 0 2zM193 39l5 1 4-2 3-4 0-4-2-1-3-1-8 3-2 2 0 2 0 2zM195 37l-1-1 1-2 6-1 0 2-1 1zM677 16l2-1-1-2-3 1zM142-14l3 0 2-2 0-3-2-2-3 0-3 2 0 3zM637-15l6 0 4-3 0-4-3-3-2-1-4 0-6 3-1 2 0 3 3 2zM636-17l-2-1-1-2 3-3 5-1 3 2 1 3-2 2-4 1zM607-22l4 0 3-2-1-4-2-2-4 0-2 2-1 3zM608-23l-2-2 0-3 2-1 3 0 1 2 0 3-2 1zM422-23l4-1 1-2-2-1-4 1-1 2zM506-25l4 1 3-3 0-5-3-3-4 0-3 3 0 4zM507-26l-2-2 0-3 1-2 3-1 3 3 0 3-2 2zM675-32l4 0 2-4-1-4-4-2-3 1-1 3 1 4zM677-33l-3-2 0-3 1-1 4 2 0 3zM113-34l3-1 0-3-2 0-2 1 0 2zM169-34l1 0 0-2-2 1zM432-61l4 1 3-3 1-4-3-3-4-1-3 3-1 4zM433-61l-3-3 0-3 2-2 4-1 2 2 1 4-3 3zM464-87l2 0 3-2 2-6-2-5-5-3-3 2-1 5 1 6zM465-92l-2-1-1-4 1-3 2-1 3 1 1 4-1 3-1 1zM642-96l6 1 10-2 6-3 1-3-1-2-3-2-8-3-7 0-8 2-4 2-2 3 2 2zM642-97l-6-4-2-2 2-3 4-2 7-1 6 0 6 3 3 3-1 3-6 3-9 1z"/><path fill="#005fff" fill-rule="evenodd" d="M477 115l4 0 1-2-3-2-3 1-1 2zM37 102l5 1 5-1 5-3 0-3-3-2-9-2-7-1-6 2-2 1 0 2zM38 100l-5-3-1-2 2-1 4 0 6 2 1 2-1 2zM291 101l4 0 2-1 0-2-3-2-3 0-2 3zM291 100l-1-2 2-1 2 0 1 1 0 2-1 1zM607 91l2 1 3-2 0-2-1-2-3-1-2 1-1 3zM607 90l0-3 3 0 0 3zM16 90l6 0 4-4 2-3 0-5-4-3-11-3-4 0-4 1-3 3-1 3-1 3 1 2 6 4zM11 87l-5-2-2-3 0-4 3-3 3-1 4 0 9 3 3 2-1 4-4 4-4 1zM731 89l1 0 0-2-6-2-3-4 1-3 2-3 3-1 3 0 0-2-4 0-5 3-2 4-1 3 3 4zM111 88l5 0 4-2 2-3-2-3-3-2-3-1-3 1-3 2-2 2 0 3zM111 87l-3-2 0-2 0-2 2-2 6-1 4 3 0 3-2 2-4 2zM644 87l5 0 3-1 1-3-1-3-5-3-5 2-2 2 0 3zM645 85l-1-2 2-3 3 0 2 2 0 2-1 1zM531 53l4 1 4-2 3-3-1-3-3-3-3-1-5 2-2 2 0 3 1 3zM533 50l-2-1 0-2 3-1 2 1 0 2zM194 41l6 0 5-4 3-5-2-4-3-2-4 0-6 2-4 2-2 4 1 3 2 3zM193 39l-3-2 0-2 0-2 2-2 8-3 3 1 2 1 0 4-3 4-4 2zM397 28l5 0 3-1 1-2-2-2-16-4-4 0-2 1 0 2 3 3zM98 27l3 1 3-2 1-3-1-3-2-4-3-3-4-1-3 1-3 2 0 4zM683 24l2-1 0-1-3-10-4-3-4 1-2 4 1 4 3 3zM677 16l-2-2 1-1 2 0 1 2zM140-13l4 1 4-3 1-3-1-3-2-1-3-1-5 3-1 3zM142-14l-3-2 0-3 3-2 4 1 1 2 0 2-3 2zM636-14l7 0 5-3 1-4-4-5-4-1-4 0-4 1-3 3-1 3 1 3 3 2zM636-15l-2-1-3-2 0-3 1-2 3-2 4-1 3 0 3 2 2 3-1 4-4 2zM421-20l4 0 4-3 2-2 0-3-2-2-3 0-8 2-2 2 1 3 1 2zM421-23l-1-2 1-1 4-1 2 1-2 3zM607-21l5 0 3-3 0-4-4-3-5 0-2 3 0 4zM607-22l-3-3 1-3 2-2 4 0 3 3-1 4-3 2zM508-23l5-2 1-4-1-5-5-2-4 1-2 2 0 3 2 5zM505-25l-2-3 0-4 3-3 4 0 3 3 0 5-3 3zM676-30l4-1 2-5-1-5-2-2-3-1-4 2-1 5 2 5zM674-32l-2-3 0-4 2-3 3 0 3 2 1 5-1 2-2 2zM169-32l3-1 1-2-1-2-2-1-2 0-1 2 0 3zM168-34l0-1 1-1 2 1-1 1zM113-33l2 0 2-2 1-2-2-2-3 0-2 2 0 3zM113-34l-1-1 0-2 2-1 2 0 0 3zM579-56l2 0 1-2 1-2-1-2-3 0-2 2 0 3zM432-60l4 0 4-3 0-5-3-3-5 0-3 3 0 5zM431-61l-2-4 1-4 3-2 4 1 3 3-1 4-4 3zM363-67l3-1 1-2-1-1-3 0-1 3zM464-84l3 0 2-3 2-3 1-5-1-4-2-3-3-2-3 0-3 3-1 7 2 7zM463-87l-2-3-1-6 1-5 3-2 5 3 2 5-1 4-2 3-2 1zM644-94l9-1 9-2 5-3 1-2-1-2-5-4-10-3-8 0-10 3-4 3 0 3zM642-96l-8-5-2-2 2-3 5-3 8-1 7 1 7 2 4 4-1 3-7 3-10 2zM426-116l3-1-1-1-4-1-3 1 0 1z"/><path fill="#00a3ff" fill-rule="evenodd" d="M477 119l4 0 4-3 1-3-1-2-3-2-4 0-6 1-3 2-1 1 2 2zM476 115l-1-2 1-1 3-1 3 2-2 2zM584 118l4 0 5-1 2-2 0-2-9-3-6 1-1 4 2 2zM6 107l2 0 1-1 1-2 0-2-2 0-1 1-1 2zM240 107l5-1 3-2 1-2-1-6-4-3-5 1-5 6 0 2 1 3zM726 107l2 0 1-1 1-2 0-2-2 0-1 1-1 2zM37 104l7 1 9-4 5-3-2-3-6-3-20-4 1-10-1-2-3-2-18-4-4 1-4 3-4 8 0 2 2 2 16 7 5 5zM36 102l-11-6 0-2 3-2 7-1 7 1 8 2 3 3-3 3-4 2-5 1zM16 90l-9-2-6-4-1-2 1-3 1-3 3-3 4-1 4 0 11 3 4 3 0 5-3 4-4 3zM292 102l3 0 3-2 0-2-2-2-4-1-3 2-1 3zM291 101l-2-2 2-3 3 0 3 2 0 2-2 1zM607 92l3 0 3-2 0-3-2-2-3-1-3 2 0 4zM606 91l-1-2 1-3 2-1 3 1 1 2-1 3-2 1zM701 91l4 0 2-4-3-4-4-1-2 1-1 3 1 3zM730 91l2 1 0-3-9-3-3-4 1-4 3-4 4-2 4 0 0-1-5-1-3 1-3 3-3 5-1 4 1 2 2 2zM108 89l5 1 5-1 5-3 1-3-2-3-4-2-4-1-4 1-4 2-3 4 1 3zM110 88l-3-2-1-2 1-3 2-2 3-1 4 0 3 1 2 2 1 3-3 3-4 1zM643 88l6 1 4-2 2-3-1-4-2-2-4-2-4 0-4 2-3 3 0 3 2 2zM644 87l-4-3 0-3 2-2 5-2 5 3 1 3-1 3-3 1zM513 63l3 0 3-1 1-2 0-2-5-2-5 1-1 3zM529 56l9 0 4-2 3-5 0-5-3-2-5-2-4 0-4 2-4 4 0 5 1 4zM531 53l-3-2 0-3 1-3 2-2 5 0 5 3 1 3-3 3-4 2zM704 52l1-1-2-1-3 0-1 1zM191 42l8 0 6-3 4-4 1-3-1-3-1-2-4-2-5-1-7 2-4 3-3 4 0 4 2 3zM194 41l-4-1-2-3-1-3 2-4 4-2 6-2 4 0 3 2 2 4-3 5-5 4zM414 34l5 1 2-2-1-2-5-5-8-4-21-6-6 1-3 2 2 5 5 3zM396 28l-11-3-3-3 0-2 2-1 4 0 16 4 2 2-1 2-3 1zM100 32l11-1 2-1-3-3-4-9-4-5-5-3-6 0-3 2-2 3-1 3 0 3 2 3 6 5zM97 27l-9-9 2-4 3-2 3 0 4 2 4 7 1 3-2 3-3 1zM679 31l4 1 6-3 2-2 1-4-1-4-9-10-3-2-3-1-4 3-4 7-5 5 2 3zM683 24l-8-4-2-2-1-4 2-4 4-1 4 3 3 10 0 1zM142-11l5-1 4-4-1-5-4-3-6 1-5 4 0 2 1 3 3 2zM140-13l-3-4 1-3 5-3 3 1 2 1 1 4-2 3-3 2zM113-12l3 0 3-1 1-3-1-2-4-1-4 1-1 2 0 2zM635-13l8 0 6-2 1-2 0-3-3-6-4-2-5 0-5 1-4 3-2 3 1 4 3 3zM635-14l-3-1-3-3 0-3 2-3 3-2 5-1 4 0 3 2 3 5-2 4-5 2zM419-17l6-1 7-4 2-4-1-4-3-1-5-1-6 2-4 2-2 3-1 4 3 3zM420-20l-2-1-2-3 0-2 2-2 8-2 3 0 2 2 0 3-3 3-4 2zM607-20l5 0 4-4-1-5-4-3-3-1-3 1-3 4 1 5zM607-21l-4-4 1-4 4-3 4 1 3 4-1 4-3 2zM507-22l3 0 3-1 2-5-1-6-2-2-3-1-3 0-3 1-2 5 1 6zM507-23l-4-3-1-5 2-4 5-1 4 2 1 6-2 4zM675-29l3 0 3-1 2-3 0-3-2-6-2-2-3-1-4 2-2 5 2 6zM676-30l-4-3-1-5 1-4 4-2 3 1 2 2 1 5-2 5zM168-31l4-1 2-2-1-4-3-2-3 1-2 3 1 3zM169-32l-2-1 0-3 1-2 2 0 2 1 1 2-1 2zM113-32l3 0 2-3 0-3-2-2-4 0-2 3 0 3zM112-33l-1-2 0-3 3-1 2 0 2 2-1 3-2 1zM578-54l4 0 3-3 0-4-2-3-5 0-3 3 0 4zM579-56l-2-2 0-3 2-1 3 0 1 2-1 2-1 2zM433-59l5-1 3-4-1-5-4-3-5 1-3 4 0 5zM432-60l-3-3 0-5 3-3 5 0 3 3 0 5-4 3zM361-64l4 0 4-1 3-3 3-6 8-1 2-1 0-1-5-5-4 0-3 1-2 4-10 2-2 2-1 4 0 3zM362-67l0-2 1-2 3 0 0 3-1 1zM652-63l5-1 3-4-4-1-4 2-1 2zM670-65l5 1 5-3-5-3-6 0-2 1-1 1zM463-82l4 0 3-3 2-4 1-5-1-5-2-3-3-2-4-2-2 1-2 3-1 7 1 9zM463-84l-3-4-1-8 2-6 1-2 2 0 3 1 3 3 2 6-1 4-2 4-3 2zM321-85l4-1 1-3-3-4-4-1-3 2-1 2 1 2zM643-93l3 1 8-1 12-4 5-3 1-4-5-3-15-5-8 1-13 3-4 3 0 2 0 2 9 3zM644-94l-14-8 0-3 4-3 10-3 8 0 10 3 5 4 1 2-1 2-5 3-9 2zM423-115l7 0 2-2-1-1-3-2-7 0-2 1-1 2zM426-116l-5-1 0-1 3-1 4 1 1 1z"/><path fill="#00e5ff" fill-rule="evenodd" d="M334 123l4 0-2-1-2 0-1 1zM474 121l4 1 4-1 11-7 0-1-8-6-4-1-6 1-10 3-3 2 0 2zM476 119l-7-5 0-2 1-1 5-2 5 0 3 0 3 3 0 2-2 3-4 2zM587 121l9-1 8-2 2-1 1-2-1-2-6-3-15-2-7 2-2 1 0 2 1 4 5 3zM583 118l-4-3 0-2 1-2 6-1 9 3 0 2-2 2-5 1zM92 120l4 1 15-2 2-2 0-4-1-2-3 0-16 3-4 3 0 1zM416 118l7 1 8-6 10 0 2-1 1-1-6-6-2-1-3 5-2 3-11-1-5 1-2 2 0 2zM499 116l13 0 12-3 13 3 5-2 3-3-3-4-5-1-19 4-14-1-10 4 0 1zM2 112l3 1 4-2 7-8 2-1 8 0 13 5 4 0 16-6 10-3 1-1 1-2-2-1-8 0-25-6-2-2-1-2-1-3 0-5-2-3-20-4-5 0-5 3-7 10-2 1-3-1 0 12 4-5 3-1 7 2 6 4 0 2-4 5-3 5 0 4zM6 107l0-2 1-2 1-1 2 0 0 2-1 2-1 1zM37 104l-17-6-5-5-16-7-2-2 0-2 4-8 4-3 4-1 18 4 3 2 1 2-1 10 20 4 6 3 2 3-7 4-8 3zM722 112l5 0 5-4 0-16-13-6-2-2 0-2 2-5 3-4 4-2 6 0 0-2-2 0-5 0-3 1-10 13-3 0-8-4-4 1-3 2-4 6-4 2-2 2 0 3 3 2 15 1 4-2 6-7 2-1 4 0 6 3 3 2 1 2-6 10-1 5zM726 107l0-2 1-2 1-1 2 0 0 2-1 2-1 1zM700 91l-3-3 0-3 1-2 3-1 4 2 2 4-3 3zM237 109l5 1 5-2 6-3 1-3 1-4-2-3-10-7-3 1-8 6-8 1-3 2 1 2 5 1 6 6zM240 107l-5-2-1-3 0-2 2-3 4-3 3-1 2 0 4 4-1 6-3 3zM290 102l4 1 3-1 2-2-1-3-4-3-4 0-2 2-1 3zM291 102l-3-2 0-2 1-2 4-1 4 2 1 2-1 2-3 1zM357 100l2 0 1-3 0-3-1-2-2 0-2 2zM607 93l4 0 3-3 0-3-3-3-4 0-3 2 0 4zM606 92l-2-3 1-3 3-2 3 1 2 3-1 3-3 2zM107 91l6 1 14-5 2-2 0-2-2-2-9-4-5-1-4 1-8 4-2 4 1 3zM108 89l-4-2-1-3 3-4 4-2 4-1 4 1 4 2 2 3-1 3-5 3-5 1zM642 89l7 1 5-2 3-4-1-4-3-3-4-2-5 0-5 2-3 3-1 4 3 3zM643 88l-4-2-2-2 0-3 3-3 4-2 4 0 4 2 2 2 1 4-2 3-5 2zM158 79l1 0 1-1-2-1zM516 68l5-1 9-7 13-2 5-10 1-3-2-3-6-4-9 1-7 4-6 8-9 1-4 2-2 3 1 4 5 5zM512 63l-3-3 1-3 5-1 5 2 0 2-2 3-3 0zM528 56l-3-2 0-4 1-5 3-3 4-2 4 0 5 2 3 2 0 5-3 5-4 2zM227 67l3 0 2-5-2-6-3-4-5 3-1 5 1 4zM-12 56l2-1 2-2-1-3-3-2zM702 56l6 0 3-2 0-3-4-3-5-2-4 1-5 2-2 2 0 2 1 1zM704 52l-5-1 1-1 3 0 2 1 0 1zM188 44l10 0 7-3 4-4 2-4 1-3-2-3-4-3-5-1-7 1-7 3-3 4-1 4 2 6zM190 42l-4-3-1-4 1-4 3-3 5-3 6-1 5 1 4 3 1 3-1 3-5 6-6 3zM101 42l3-1 6-4 8-3 15 0 4-3 2-3-2-2-10 0-14-4-3-2-6-8-3-2-5-2-5 0-4 2-3 4-2 4 1 3 2 4 8 9 4 6zM100 32l-7-3-6-5-2-3 0-3 1-3 2-3 3-2 6 0 5 3 4 5 4 9 3 3-2 1zM437 41l2 0-2-1zM416 38l9 0 3-1 0-1-4-7-11-8-28-6-11-1-3 2 2 4 9 9 17 4zM414 34l-30-7-5-3-2-5 3-2 6-1 21 6 8 4 5 5 1 2-2 2zM679 36l3 0 13-4 1-3 0-6-1-3-2-3-6-5-6-6-4-2-5 3-6 6-12 4-2 2 2 3 3 3 14 6zM679 31l-14-7-2-3 5-5 4-7 5-3 3 1 2 2 9 10 1 4-1 4-2 2-6 3zM262 11l15 0 8-2-4-3-10-2-17 3-1 1 1 1zM265-4l2 0 0-2-1-2-1-1-1 2zM112-10l4 0 4-2 2-3 0-3-3-2-3-1-4 1-3 1-1 2 0 3 2 3zM112-12l-2-3 1-3 5-1 3 2 1 2-2 3-3 1zM140-10l4 0 3-1 5-4 1-2-1-3-4-5-3 0-4 1-6 3-3 3 2 5zM142-11l-3-1-3-2-1-3 0-2 5-4 6-1 4 3 1 5-4 4zM634-12l15 0 4-1 0-2-1-5-5-7-4-2-6 0-6 2-4 3-2 3 1 4 3 3zM635-13l-5-2-2-3-1-3 2-3 4-3 5-1 5 0 4 2 3 6 0 3-1 2-6 2zM350-13l2 1 1-2 0-3-1-1-2 0-1 1 0 3zM414-15l10 0 14-7 0-3-2-4-4-4-6 0-7 1-15 6-3 4 0 3 4 2zM419-17l-4-1-3-3 1-4 2-3 4-2 6-2 5 1 3 1 1 4-2 4-7 4zM608-19l6-1 3-2 1-2-1-6-5-4-7 1-3 2-1 2 1 6 3 3zM607-20l-4-4 0-5 4-3 5 0 4 4 0 5-4 3zM506-21l3 0 4-1 2-2 1-3 0-4-1-4-3-3-3-1-6 1-2 3-1 3 0 4 1 3 2 3zM506-22l-4-3-1-6 2-5 3-1 3 0 3 1 2 2 1 6-1 3-2 2-3 1zM674-28l4 1 3-1 2-3 1-4 0-4-1-3-3-3-4-1-3 0-2 2-2 5 1 7zM675-29l-4-4-1-5 2-5 4-2 3 1 2 2 2 6 0 3-2 3-3 1zM167-29l4 0 4-4-1-4-3-4-4 1-2 3 0 5zM168-31l-2-2-1-3 2-3 3-1 3 2 1 4-2 2zM114-31l3-1 2-4 0-3-3-2-4 0-3 4 1 4zM112-32l-2-2 0-4 3-2 4 0 1 3 0 3-3 2zM469-44l3-1 2-2 0-3-1-2-3 0-5 4 0 2zM578-52l5-1 3-4 1-5-2-2-2-2-6 1-3 2-2 3 0 3 1 2zM577-54l-2-3 0-4 3-3 5 0 2 3 0 4-3 3zM431-59l5 1 4-4 2-6-4-4-3-1-3 0-3 2-2 3 0 5zM432-59l-4-3 0-5 3-4 3-1 3 0 3 3 1 5-4 5zM651-60l3 1 8-3 8 1 6 0 11-2 2-1 1-2-3-4-6-2-7-2-13 0-11 4-3 3-1 2 1 2zM651-64l0-2 3-2 3-1 3 1-1 2-3 2-3 1zM670-65l-4-3 1-1 2-1 6 0 5 3-3 2-3 1zM361-62l6 0 6-2 15-8 2-3-4-6-1-4-2-2-3-1-6 2-7-2-5-6-4-9-4-2-2 1-1 2 8 8 1 10 1 3 0 2-5 6 0 5 1 4zM361-64l-3-2 0-3 1-4 2-2 10-2 2-4 3-1 4 0 5 5 0 1-2 1-8 1-3 6-3 3-5 1zM661-78l13-5 3-11 3-6 2 0 8 1 2-1 1-2 0-3-1-2-8-4-2-2-1-8-2-3-4 1-4 3-1 3 0 5-2 2-18-3-23 5-8 0-1 1 0 9 6 1 7-2 5 1 5 4 2 5 7 1 8 9zM643-93l-7-5-9-3 0-2 0-2 4-3 13-3 8-1 15 5 5 3-1 4-5 3-15 4-6 1zM462-80l4 0 3-2 3-5 1-6 0-5-2-4-4-4-4-1-3 1-1 2-2 8 1 11 1 3zM462-82l-2-2-1-3-1-9 2-8 2-1 2-1 4 2 3 3 1 3 0 5-1 5-2 4-3 2zM319-84l5 1 3-2 1-2-1-4-5-4-5 1-3 4 0 2zM320-85l-4-3-1-2 2-3 3-1 3 1 3 3 0 2-2 3zM424-114l8-1 1-1 0-2-2-2-4-1-8 1-3 2 1 2zM422-115l-4-2 1-2 3-1 7 1 3 2-3 2z"/><path fill="#00fcd0" fill-rule="evenodd" d="M264 126l6 0 4-2 1-1-5-10 2-4 3-5 3-1 7-1 7 2 4-1 4-3 1-5 5 3 4-1 1-2 0-3-3-3-3-1-17 0-8 3-6 7-4 0-3-1-5-5-9-2-3-2-2-3 1-8-1-2-10 6-4 0-3-4 1-5 3-4 8-4 2-2 0-3-2-3-4-3-8-1-4-3-2 1-5 4-3 6 1 5 4 6-1 3-2 1-9-1-5 4 3 10 1 1 3-1 6-5 3 1 2 2-1 3-8 6-2 5 0 3 4 3 10 0 9 7 1 2-7 6-1 2 1 1 10 2 16-2zM253 122l-8-4-2-2 0-2 6-3 11-4 3 1 3 2 1 4-2 4-7 4zM236 109l-3-2-6-6-6-2 1-2 10-2 10-7 4 2 8 6 0 6-3 4-8 3zM289 102l-2-2 0-2 2-3 5-1 4 3 1 3-2 2-4 1zM226 67l-4-3-1-5 2-5 4-2 3 4 2 6-2 5zM330 125l11 0 4-2 0-2-2-2-4-2-7-1-3 2-2 3 0 3zM333 123l3-1 2 1zM446 125l3-1 1-2 5-2 10 1 13 3 5-1 9-4 8 1 21-1 10 2 25-6 2-1 1-2-2-2-13-6-4-1-27 3-12-1-8 1-8-2-5-1-13 4-9 3-4 1-7-4-7-9-4-1-3 1-7 8-11 2-3 1-5 5 0 4 3 3 9 1 13-2 4 0 4 1zM474 121l-12-7 0-2 3-2 10-3 6-1 4 1 8 6 0 1-11 7-4 1zM416 118l-2-1-1-2 2-3 5-1 11 1 2-3 3-5 2 1 6 6-1 1-2 1-10 0-8 6zM498 116l-4-2 0-1 10-4 14 1 19-4 5 1 3 4-3 3-5 2-13-3-13 3-8 1zM704 125l4-1 1-5 3-3 14 0 3-1 3-2 0-5-4 4-3 1-3-1-1-2 2-7 5-7 0-2-6-4-7-2-3 1-7 8-3 1-15-1-3-2 0-3 2-2 4-2 4-6 3-2 4-1 8 4 3 0 10-13 4-1 6 0 0-1-8-4-2-9-4-5-10-5-9-2-15 3-4 7 0 2 1 2 4 2 9-1 19 1 5 5 1 2-1 2-4 8-3 3-12-3-4 1-6 4-9 7-2 3 0 4 1 3 4 2 21 4 3-2 3-6 4-4 4-1 4 2 1 2-1 3-6 9-4 2-6 0-3 2-3 10 1 3zM701 56l-9-2-1-1 0-2 3-3 5-2 5 1 4 1 3 3 0 3-3 2zM-12 124l1-5 3-3 3-1 9 2 4-1 3-2 8-9 5-1 6 1 9 6 3 4 2 8 2 1 3 0 2-1 5-7-1-2-5-4 1-3 6-3 19-5 3-2 0-3-3-4-7-5-4 5-4 1-16-3-7-2-3-2-1-3 2-5 0-4 3-2 0-1-3-3-1 0-2 3-7 1-8 0-11-4-3-2-2-8-2-4-5-4-7-3 0 3 3 2 1 3-2 2-2 1 0 3 6 1 4 4 1 2-5 11-3 2-3 0 0 3 3 1 2-1 8-11 4-2 4 0 21 4 2 3 0 5 1 3 1 2 2 2 25 6 8 0 2 1 0 1-2 2-27 9-4-1-11-4-9 0-2 1-6 7-3 2-3 1-3-2 0-3 2-6 5-6 0-2-6-4-8-2-6 6 0 7 3-6 4-3 5 0 2 2 1 2-3 6-4 5-4 2-4 0zM92 124l5 1 7-3 9 0 3-2 1-3 0-5-2-3-5-3-10 3-10 0-3 1-3 4-2 1-12 0-5 2 0 2 4 2 5 1 10-2 4 2zM92 120l-3-2 0-1 4-3 16-3 3 0 1 2 0 4-2 2-15 2zM585 124l9 0 16-4 5-3 2-3-2-2-7-2-5-4-14 1-5-1-9 2-1 1-1 3 1 5 6 5zM586 121l-5-1-4-3-1-4 0-2 2-1 7-2 15 2 6 3 1 2-1 2-6 2zM354 109l2 0 3-2 4-6 2-10 0-5-2-2-4 1-9 6 4 9zM357 100l-2-6 2-2 2 0 1 2 0 3-1 3-1 0zM153 107l2 0 7-8 7-3 2-3-1-2-6-2-3-3 0-3 3-3 5-2 5 1 3 2 3 7 10 2 2-1 1-6 4-5 0-1-5-3-14 0-14-4-10 1-5 1-1 3 7 6 1 4-2 4-7 6-1 4 2 4zM158 79l0-2 2 1-1 1zM88 102l2-1-1-2-3-1-2 1 2 2zM109 96l11-5 10-2 1-2 0-6-3-2-13-4-5 1-9 2-5 6-1 4zM107 91l-7-3-1-3 2-4 8-4 4-1 5 1 9 4 2 2 0 2-2 2-14 5zM606 94l4 0 5-3 0-4-3-4-5 0-4 2-1 5zM606 93l-2-3 0-4 3-2 4 0 3 3-1 4-3 2zM400 93l5-1 2-1 1-2-4-5-4-2-3 1-2 4 2 4zM650 93l8 1 2-6 5-5 0-1-4-1-7-6-4-2-8 1-7 4-2 5 2 4 4 2zM642 89l-4-2-3-3 1-4 3-3 5-2 5 0 4 2 3 3 1 4-3 4-5 2zM445 88l10 0 2-1-1-2-9-5-2 2-1 2 0 3zM67 78l1-4 0-2-1 0-2 1 0 2zM513 72l10 0 7-8 4-1 4 1 6 7 3 1 4-2 1-3-3-10 1-4 4-7-2-4-7-6-4-1-5 0-9 4-11 8-8 2-10 4-8 2-8-1-3 1 1 4 3 3 6 1 11 1 9 7zM516 68l-6-2-5-5-1-4 2-3 4-2 9-1 6-8 7-4 9-1 6 4 2 3-1 3-5 10-12 1-3 2-7 6zM655 69l6-1 8-10 1-4-3-4-5 0-3 1-2 2-5 12 0 3zM57 67l6-1 5-5 3-6-1-5-4 3-9 11-1 2zM309 63l13-2 4-4 0-4-7-6-3-1-3 1-3 3-1 2-2 9zM455 62l4 1 4-3 1-3-2-3-3-1-3 2-2 4zM185 58l2 0 5-9 12-5 8-8 2-6-1-3-2-2-6-4-6 0-11 4-5 4-2 3 0 4 2 16zM188 44l-3-3-2-6 1-4 3-4 7-3 7-1 5 1 4 3 2 3-1 3-2 4-4 4-7 3zM377 55l2 0 2-1 3-8 6 0 3-2 0-2-2-6 2-2 6 1 15 6 13 1 3 2 3 5 2 1 3 0 7-4 3-3-2-4-2-2-12-4-6-6-1-4 2-3 3-3 10 1 5-2 4-3 1-3-3-1-8 4-8 3-13-4-17 4-30-5-9 1 0 2 11 11 0 5 6 7-1 2-7 4-2 3 3 5zM437 41l0-1 2 1zM415 38l-16-5-17-4-9-9-2-4 3-2 11 1 28 6 11 8 4 7 0 1-4 1zM99 46l3 1 3-1 14-9 12 0 5-1 9-6 1-3 0-2-3-3-3-2-10 2-16-3-4-3-5-7-3-2-8-3-4 0-8 9-2 5-1 4 8 10 2 9zM101 42l-4-2-4-6-8-9-2-4-1-3 2-4 3-4 4-2 5 0 5 2 3 2 6 8 3 2 14 4 10 0 2 2-2 3-4 3-15 0-8 3-6 4zM681 42l2 0 6-4 9 1 4-2 1-5-1-6 0-6-2-3-12-7-9-8-5 1-9 7-4 0-3-2-3-5 0-6 1-4 5-8 0-2-6-2-7-9-5-2-7 0-11 4-2 0-2-4 0-4 1-2 5-4 0-1-1-1-5 0-5 4-3 1-17 2 1 8 8 9 11 2 8 6 4-1 8 1 6 1 2 1 0 10 6 5 1 3-4 11 0 2 8 5 14 6 8 7zM679 36l-8-5-14-6-3-3-2-3 2-2 12-4 6-6 5-3 4 2 6 6 6 5 2 3 1 4 0 6-1 2-13 4zM634-12l-5-2-3-3-1-4 2-3 4-3 6-2 6 0 4 2 5 7 1 5 0 2-4 1zM607-19l-3-2-2-3-1-3 1-3 4-3 7 0 4 4 0 6-4 4zM302 25l1 1 4-2 1-3-1-4-6-10-13-1-13-4-2-2 0-5-2-4-3-3-3-2-4 1-2 6 1 3 6 5 0 1-17 3-4 1-2 2 2 2 3 1 11 2 14 0 19-1 2 1zM262 11l-8-2-1-1 1-1 17-3 10 2 4 3-8 2zM265-4l-1-3 1-2 1 1 1 2 0 2zM556 24l3 0 5-3-1-4-5-5-4 7 0 3zM537 23l5 1 2-2 1-3-1-12-3-5-9-2-9-5-10 1-7 0-2 1-1 3 2 2 11 2 12 7 5 9zM153 16l3 0 5-1 3-2 0-1-7-12-5-2-4 2-3 4-1 3zM314 7l6 0 8-3 2-2 0-2-3-3-6-2-5 0-8 3-2 2 1 2 3 3zM182 1l3 0 1-2-2-8 0-5-2-5 0-9-1-3-4-2-3-7-3-2-4 0-3 3-1 5-2 5-2 7-2 2-2-1-6-6-2 0-18 7-4 0-9-2-5 0-4 2-2 3 0 3 2 3 2 3 3 1 5-1 10-5 11 4 5 2 5-2 9-6 13 1 4 3 5 10zM111-10l-3-4 0-3 1-2 3-1 4-1 3 1 3 2 0 4-3 3-4 2zM140-10l-6-3-2-5 3-3 6-3 4-1 3 0 4 5 1 3-1 2-5 4-4 1zM166-30l-1-2 0-6 3-3 4 1 3 4-1 4-3 3-3 0zM351-7l3 0 2-2 1-6-1-6-5-4-2 0-5 9 2 6zM350-13l-1-4 1-1 2 0 1 1 0 3-1 2zM403-13l18 0 13-3 9 2 2-2 1-3-7-12-3-3-3-2-6 1-15 3-10 0-9 7-4 2-3-1-7-5-2 1-1 5 1 5 2 2 3 1 7-1zM414-15l-9-2-4-2 0-3 3-4 15-6 7-1 6 0 4 4 2 4 0 3-14 7zM547-17l1-1-2 0zM505-19l7 0 5-3 1-4 0-6-3-5-8-7-4-1-5 0-1 1 2 6-1 6 0 5 3 5zM506-21l-5-4-1-3 0-4 1-3 2-3 6-1 3 1 3 3 1 4 0 4-1 3-2 2-4 1zM675-25l9-1 1-1 1-8-1-4-2-4-4-3-4-1-3 0-2 2-2 7 2 9 3 3zM674-28l-4-4-1-7 2-5 2-2 3 0 4 1 3 3 1 3 0 4-1 4-2 3-4 1zM110-31l4 1 4-2 2-5-1-5-5 0-5 2-1 5zM113-31l-3-2-1-2 0-3 3-3 5 0 2 3 0 3-2 3zM472-38l4-1 2-4-1-9-1-3-2-2-2 1-5 4-7 3-2 2 1 3 4 4zM468-44l-3-2 0-2 5-4 3 0 1 3-1 3-2 2zM585-39l3-1-10-7 0-1 6-4 3-3 1-5-1-5-3-2-4-1-9 4-6 1-1 8 2 6 13 8zM578-52l-3-1-3-3 1-5 2-3 3-1 3-1 3 1 3 3-1 6-4 4zM422-44l5 0 2-2-1-4-3-3-5-2-8 0-6-2-3 1 0 1 2 2 6 3 6 4zM649-45l3 1 2-2 3-9 4-3 9 0 15-2 6 0 5 2 3-2 2-3 2-4 0-1-8-1-11-7-1-9 1-4 8-2 10-10 1-19-2-5-3-3-3-1-7 0-7 0-8 0-9 7-9-1-5 1-1 1 1 3 0 2-4 2-17 4-13 0-6 3 0 4 2 9 11 1 6-5 3 0 3 0 4 3 2 3-2 8 8 0 3 2 3 3 1 2-1 2-9 5-2 3 0 2 8 10 0 3-2 5zM650-60l-3-3 0-4 3-3 11-4 13 0 7 2 6 2 3 4-1 2-2 1-12 2-5 0-8-1-8 3zM661-78l-3-1-8-9-7-1-2-5-5-4-5-1-7 2-6-1 0-9 1-1 8 0 23-5 18 3 2-2 0-5 1-3 4-3 4-1 2 3 1 8 2 2 8 4 1 2 0 3-1 2-2 1-8-1-2 0-3 6-3 11zM691-114l-3-2 0-2 1-2 1-1 3 1 3 4-1 2zM349-48l2-1 0-2-2 0-2 1zM128-49l3 0-2-1-2 1zM434-57l5-2 3-6 0-6-3-3-2 0-3 0-4 1-3 3-1 4 0 3 1 3 4 3zM430-59l-2-2-1-3 1-5 2-2 3-2 3 0 3 1 3 5-2 5-4 4zM359-60l13 1 4-1 13-6 3-3 2-5-1-2-5-5-1-4-3-3-3-2-7 1-4-2-5-5-5-10-3-2-3-1-6 3-2 4 2 2 7 4 2 4 1 4-2 9-2 10 2 6zM360-62l-3-2-1-4 0-5 5-6 0-2-1-3-1-10-8-8 1-2 2-1 4 2 4 9 5 6 7 2 6-2 3 1 2 2 1 4 4 6-2 3-15 8-7 2zM448-75l4 0 6-3 9 1 5-4 2-7 1-9-3-7-4-4-3-1-4 0-3 3-2 5-1 15-10 5-3 3 2 2zM462-80l-3-2-1-3-1-11 2-8 1-2 3-1 4 1 4 4 2 4 0 5-1 6-3 5-3 2zM320-82l6 0 2-2 2-3-2-5-6-4-3 0-4 1-3 5 1 3zM319-84l-5-4 0-2 3-4 5-1 5 4 1 4-1 2-3 2zM-10-88l4 0 2-3-2-3-5-2-1 1 0 6zM710-88l4 0 2-3-2-3-4-2-2 1-1 2 1 4zM420-114l6 1 5-1 3-1 2-3-2-2-4-2-11 0-4 2-1 2 2 2zM423-114l-4-1-3-2 1-2 2-1 9-1 5 3 0 2-2 2zM639-123l3-1-1-2-2 0-2 1 0 1z"/><path fill="#00ff82" fill-rule="evenodd" d="M-11 132l743 0 0-6-13 0-3-1-2-2 2-2 2-1 14-1 0-6-3 2-3 1-14 0-3 3-1 5-2 1-4-1-2-3 4-11 2-1 7 0 5-4 4-8 1-2-1-2-4-2-4 1-4 4-3 6-3 2-22-4-3-3-1-3 2-6 15-11 5-1 9 3 3-1 4-4 3-8-3-5-3-2-19-1-8 1-4-1-2-2 0-2 3-7 2-1 15-3 12 3 5 3 4 4 2 4 1 7 8 4 0-2-2-2-1-3 1-4 2-1 0-11-5 1-7-3-8-1-3-1-2-4-2-8 2-15-2-2-7-1-10-5-3-3-3-6-3 0-11 8-3 2-4-3-3-6 1-5 4-6 9-4 5-3 3-1 6 2 7 5 3 4 3 7 2 2 3 1 2-2 3-9 12-2 3 1 0 5 1 3 4 1 3-2 0-135-744 0 0 45 1-1 4 1 2 2 1 2-1 2-2 1-3 0-2-1 0 79 3-2 12-1 1 1 1 7 3 2 3-1 5-4 3 0 2 2 0 8 7 21-1 9 1 4 11-3 11 2 8 5 7 9-5 9-8 6-11 2-7-5-2 1-4 5-7 2-9-3-2-2-1-3 1-3 1-2 8-1 3-2 1-5-2-4-4-1-10 3-7-3-8-1-4-2 0 5 7 3 5 4 2 4 2 8 3 2 11 4 8 0 7-1 2-3 1 0 3 3 0 1-3 2 0 4-2 5 1 3 3 2 7 2 16 3 4-1 4-5 8 6 2 5-1 2-2 1-19 5-6 3-1 3 5 4 1 2-5 7-2 1-3 0-2-1-2-8-3-4-9-6-7-1-4 1-8 9-3 2-5 1-9-2-3 2-3 4 0 11zM180 129l-5-1-7-5-11 0 3-15 3-5 3-2 9-1 3-5 2-1 2 1 1 2-3 4 2 3 3 0 5-5 5 0 9 5 4 4 2 4 0 4-2 4-4 4-5 3-8 2zM291 127l-6-2-6-5-2-5 1-4 4-3 11-2 4 0 8 3 3 0 9-11 1-5-3-6-9-8-1-4 3-2 4-1 7 4 4-1 3-3 4-10 9-9 0-2-2-1-11-3-10-8-3 0-7 0-3-3 0-3 10 2 5-3 2-4-3-9 0-6 5-2 6 0 6 6 17 8 4-1 4-5 4 1 4 4-1 4 7 6 1 3-8 8-2 6-12 2-3 16 1 2 5 5 0 4-3 4-11 4-2 2 1 2 7 2 4 3 2 5-2 4-6 8-3 0-10-2-6 2-4 4 0 6-2 2-22 1zM0 126l-5-2-1-1 2-2 3-1 10 0 3-1 7-9 5-3 4 0 3 2 6 6 2 4-1 5-3 2-7 0-13-1-8 1zM124 126l-4-1-1-2 5-8 5 3 4 1 4-1 2-3-2-3-3-2-4 0-6 1-6-3-2-3 0-9 3-3 4-1 12 1 1-1-3-8 1-7 6-2 6 1 7 5 1 3 0 3-6 4-11 3 4 7 5 7 1 9 7 6 0 1-3 1-5 1zM264 126l-9-2-16 2-10-2-1-1 1-2 7-6-1-2-9-7-10 0-4-3 0-3 2-5 8-6 1-3-2-2-3-1-6 5-3 1-1-1-3-10 5-4 9 1 2-1 1-3-4-6-1-5 3-6 5-4 2-1 4 3 8 1 4 3 2 3 0 3-2 2-8 4-3 4-1 5 3 4 4 0 10-6 1 2-1 8 2 3 3 2 9 2 5 5 3 1 4 0 6-7 8-3 17 0 3 1 3 3 0 3-1 2-4 1-5-3-1 5-4 3-4 1-7-2-7 1-3 1-3 5-2 4 5 10-1 1-4 2zM350 126l0-2 3-7 10-8 7-21 4-5-1-9-7-3-3-3 0-5 3-5 3-1 3 1 9 8 9 3 7 5 1 2-1 3-6 8-1 2 4 10 3 2 6-5 5-2 15-2 0-1-3-5-1-2 4-8 1-4-1-3-4-6-2-6-2-2-2 0-3 2-6 8-2 1-16-1-1-2 0-2 5-8 7-4 4-2 14 2 3 1 3 4 13 4 7 5 1 5-1 15-2 5-2 3-7 4-1 5-3 3-4 2-15 2-6 7-4 2-14-1-2 2 1 3 2 2 6 2 0 1-1 1-7 0-10-1-14 2zM563 126l-3-2 0-1 5-6 2-2 3 2 7 8-1 1-3 1zM81 125l0-1 4 0-1 1zM329 125l-2-2 0-3 2-2 3-2 7 1 4 2 2 2 0 2-4 2-6 1zM430 125l-1-1 2-1 3 0 1 1-2 2zM446 125l-6-4-4-1-4 0-13 2-9-1-3-3 0-4 5-5 3-1 11-2 7-8 3-1 4 1 7 9 7 4 4-1 9-3 13-4 5 1 8 2 8-1 12 1 27-3 4 1 13 6 2 2-1 2-2 1-25 6-10-2-21 1-8-1-9 4-5 1-13-3-10-1-5 2-1 2zM508 125l-1-1 0-1 3-1 6 1 2 1-4 2zM58 124l0-1 2 0zM92 124l-4-2-4-2-10 2-5-1-4-2 0-2 5-2 12 0 2-1 3-4 3-1 10 0 10-3 5 3 2 3 0 5-1 3-3 2-9 0-7 3zM585 124l-6-2-5-5-1-5 1-3 1-1 9-2 5 1 14-1 5 4 7 2 2 2-2 3-5 3-16 4zM618 122l-1-1 1-1 8-4 4 1 2 2-1 2-3 1zM679 121l-12-3-7 2-7 0-2-1 0-1 3-4 2-1 11 5 3-9 3-3 4-3 6 0 13 3 1 2-1 6-2 4-2 2-7 2zM220 119l-1-3 1-4 3-1 3 0 1 3-1 3-3 2zM64 112l-5-2-3-2 2-2 2-1 17-3 4 1 3 2-1 3-5 3zM354 108l0-8-4-9 9-6 4-1 2 2 0 5-2 10-4 6-3 2zM455 108l-3-1-3-3-3-5 0-3 4-2 7 1 3-1 5-4 1-3-2-2-13-7-3-4-1-3 3-3 10-3 9-4 4 0 11 6 15 4 2 5-1 7 3 3 2-1 3-5 3-2 4-1 9 0 3-1 4-7 2-1 3 1 3 8 2 2 3 1 6-3 5-1 6 2 2 2-2 3-5 3-12 5-7 8-4 2-23 2-29-4-22 8zM610 108l-1 0-1-3 2-8 3-2 3 1 1-6 3-5-8-3-4-1-1-2 6-12 3-3 2 0 1 3 7 5 2 1 2-2-3-15 2-8-2-3 4-7 7-7 2-4 3-1 24 12 3 3 0 3-9 2-4 3-10 15-2 7-10 5-3 4-1 4 1 3 11 7 0 7-2 4-2 2-3 0-3-3-3-6-7 1-5-1-1 0 1 6-1 3-3 1zM153 107l-6-5-1-4 1-3 7-6 2-5-2-4-6-5 1-3 5-1 10-1 14 4 14 0 5 3 0 1-4 5-1 6-2 1-10-2-3-7-3-2-5-1-5 2-3 3 0 3 3 3 6 2 1 2-2 3-8 4-6 7zM565 104l-10-3-1-2 1-1 3-1 10 2 1 1 1 4-2 1zM653 103l-4-1-3-2 0-2 2-1 7-2 4 1 2 2-1 2-1 2zM88 102l-2-1-2-2 2-1 3 1 1 2zM714 101l0-3 3-2 0 4zM98 99l0-2 1 0 1 2-1 1zM109 96l-14-8 1-4 5-6 9-2 5-1 13 4 3 2 0 6-1 2-10 2-10 5zM606 94l-4-4 1-5 4-2 5 0 3 4 0 4-5 3zM200 93l-4-2-2-5 2-4 4-2 4 2 2 5-2 4-2 2zM400 93l-3-2-2-4 2-4 3-1 4 2 4 5-1 2-2 1zM650 93l-11-4-5-3-1-4 3-5 7-3 7-1 4 2 7 6 4 1 0 1-5 5-2 6zM269 90l-8-5-5-1-1-1 1-8-1-11 1-2 4 0 3 1 2 2 0 4 1 1 11-2 6 3 5 3 3 1 11-3-1 4-6 5-18 9-4 1zM80 89l-7-5-2-6 7-26 1-3 3-2 4-1 4 0 9 4 3 1 18-11 17-2 14-7 1-2-2-6 2-3 14-5 12 1 1-1 3-5 4-2 5 0 4 1 5-2 4 0 3 2 3 6 5 0 3 1 2 2-1 4-2 1-4-1-5-3-11 1-11 4-8 7-1 3 1 10-2 9 3 6 0 3 0 3-2 3-5 0-8-3-12 1-10-2-22 0-1 2 1 1 6 2 4 3 1 3-1 1-5 0-11-2-11 0-3 1-6 9-4 4-5 2zM168 89l-5-3 0-2 0-2 3-2 3-1 4 1 2 1 2 3-1 4-3 1zM52 88l-14-4-3-2 0-2 2-2 6-4 7-1 5 1 8 5 1 3-3 6-3 1zM445 88l-1-5 2-2 1-1 9 5 1 2-2 1-7 1zM672 85l-4-5-2-7 1-4 4-3 6-2 10-1 8-3 10 1 4 2 4 8-1 2-2 2-2 0-6-2-5 1-8 3-5 5-4 3-4 1zM570 80l-2-2 1-4 3-5 3-1 0 3-2 8-1 2zM67 78l-2-3 0-2 2-1 1 0 0 2 0 3zM237 75l-1-2 1-2 2-1 2 0 1 1-1 2-2 2zM513 72l-4-1-9-7-11-1-6-1-3-3-1-4 3-1 8 1 8-2 10-4 8-2 11-8 9-4 5 0 4 1 7 6 2 4-4 7-1 4 3 10-1 3-4 2-3-1-6-7-4-1-4 1-7 8-4 1zM200 71l-5-2-2-3 4-12 21-22 3-8 6-3 9-3 7 0 4 2 1 3-2 3-8 8-10 11-10 8-3 5-3 8-8 5zM654 69l-2-1 0-3 5-12 5-3 3-1 3 2 2 4-1 4-8 9-3 1zM56 66l10-13 4-3 1 2 0 4-4 6-5 4zM309 63l-2-2 2-9 1-2 3-3 3-1 3 1 7 6 0 4-4 4zM558 63l-3-2-2-4 5-9-2-14 9-11 2-4 2 0 4 3 4 7 4 13-1 8-2 7-6 5zM455 62l0-4 2-4 2-1 3 1 2 3-1 3-4 3zM185 58l-2-6-2-16 0-4 2-3 5-4 11-4 6 0 6 4 2 2 1 3-2 6-8 8-12 5-5 9zM377 55l-5-4-3-5 2-3 7-4 1-2-6-7 0-5-11-11 0-2 9-1 30 5 17-4 13 4 8-3 8-4 3 1-1 3-4 3-5 2-10-1-3 3-2 3 1 4 6 6 12 4 2 2 2 4-3 3-7 4-3 0-2-1-3-5-3-2-13-1-15-6-6-1-2 2 2 6 0 2-3 2-6 0-3 8-2 1zM486 50l-8-2-10 1-12-4-8-10-11-3-4-3-1-2 2-2 10-3 11-9 1-4-2-8 0-2 3-2 3-1 11 1 7-3 12 1 3 2 5 7 3 2 13 1 6 3 5 5 10 14 0 2-2 2-18 10-19 7-5 1zM99 46l-10-5-2-9-8-10 1-4 2-5 8-9 4 0 8 3 3 2 5 7 4 3 16 3 10-2 3 2 3 3 0 2-1 3-9 6-5 1-12 0-14 9-3 1zM680 42l-3-1-8-7-14-6-8-5 0-2 4-11-1-3-6-5 0-10-2-1-6-1-8-1-4 1-8-6-11-2-8-9-1-8 17-2 3-1 5-4 5 0 1 1 0 1-5 4-1 2 0 4 2 4 2 0 11-4 7 0 5 2 7 9 6 2 0 2-5 8-1 4 0 6 3 5 3 2 4 0 9-7 5-1 9 8 12 7 2 3 0 6 1 6-1 5-4 2-9-1-6 4zM78 37l-3-1 0-2 4-4 3-1 2 3 0 3-3 2zM302 25l-8-12-2-1-19 1-14 0-11-2-3-1-2-2 2-2 4-1 17-3 0-1-6-5-1-3 2-6 4-1 3 2 3 3 2 4 0 5 2 2 13 4 13 1 6 10 1 4-1 3-4 2zM556 24l-2-2 0-3 4-7 5 5 1 4-5 3zM537 23l-4-3-5-9-12-7-11-2-2-2 1-3 2-1 7 0 10-1 9 5 9 2 3 5 1 12-1 3-2 2zM121 17l-6-2-3-2-2-5 0-4 5-8 6-4 5-2 6 1 3 2 2 3-1 3-6 6 2 11-3 2zM153 16l-9-9 1-3 3-4 4-2 5 2 7 12-1 2-5 2zM344 13l-3-1-2-4-3-14-5-4 3-1 4 0 11 8 4 1 3 0 4-3 1-2-1-10-6-13-1-8 5-16 2-2 4-1 12 2 5-3 3 0 6 5 8 2 15 8 10 3 1 2-3 2-6 2-10-3-4 0-4 2-6 5-3 0-2-1-2-3 0-3 0-5 0-1-1-1-7 12-2 6-1 6 2 12 2 1 11-2 12 1 10-2 24-2 3 1 1 2 4 10-2 4-4 2-7 1-13 0-17 6-19-4-9-2-14-2-3 1-5 5zM80 8l1-4 3-2 0 2-1 2-2 2zM314 7l-5-2-2-3-1-2 2-2 8-3 5 0 6 2 3 3 0 2-2 2-8 3zM287 5l-7-2-3-2-2-9-5-6-3-2-4-1-3 1-5 7-3-4-12-7-4-4-2-5 0-5 2-5 5-6 14-9 2-3 1-6 3-5 6-4 9-4 9-9 7-2 5 1 7 2 7-2 2 1 8 9 4 2 6 0 4-2 1-3 0-3-3-6 0-5 2-10 4 0 4 4 9 3 3 3 1 4-3 8-1 12 2 9-2 2-2 1-12 1-3 2 0 2 1 3 6 5 2 5 1 10-2 7-3 3-4 1-14 2-6 1-1 2 2 3-5 3-4 1-8-2 0 8-1 3-5 2zM182 1l-3-2-5-10-4-3-13-1-9 6-5 2-5-2-11-4-10 5-5 1-3-1-2-3-2-3 0-3 2-3 4-2 5 0 9 2 4 0 18-7 2 0 6 6 2 1 2-2 2-7 2-5 1-5 3-3 4 0 3 2 3 7 4 2 1 3 0 9 2 5 0 5 2 8-1 2zM197 1l-2-2 0-3 2 1 2 2-1 2zM635-1l-1-1-1-2 0-2 2-1 2 1 1 1-1 3zM351-7l-5-3-2-6 5-9 2 0 5 4 1 6-1 6-3 2zM96-8l0-4 5-4 1 6-3 2zM512-8l-2-1-1-2 0-2 3-2 6 0 5 2-5 4zM452-12l-2-7-7-11-1-5 1-8-6-6-3-5 7-6 3-9 2-2 15-2 6 1 6 3 6 6 7 2 6 11 1 3 0 5-3 4-2 1-2-1-4-8-4-15-2-2-4 0-2 6-2 3-5 3-8 1-3 3 0 3 2 5 3 2 26 4 2 4-1 6-3 6-4 3-8-4-5 0-5 1-4 6zM403-13l-14-3-7 1-3-1-2-2-1-5 1-5 2-1 7 5 3 1 4-2 9-7 10 0 15-3 6-1 3 2 3 3 7 12-1 3-2 2-9-2-13 3zM546-18l2 0 0 1zM504-19l-4-4-2-5 1-10-2-6 1-1 5 0 4 1 8 7 3 5 0 7-1 3-7 3zM655-22l-7-7-3-2-6-1-10 2-2-1 0-2 6-8-1-2-1-1-13-1-8 4-6 2-8-2-6-3-4-3-1-2 4-10 1-4-1-4-2-2-3-1-17 1-1-2 3-7 11-8 5-5 6-3 6-1 6 0 3 1 4 3 15 3 2-6 2-3 4-1 4 2 2 3 0 5-4 3-6 0 0 2 3 3 4 3 3 0 5-2 2 1 1 1-3 2-6 1-10 6 0 1 10 2 7 6 1 3 0 3-3 8 1 2 3 3 3 1 3-1 11-6 2 0 1 1 0 7 1 11-2 2-4 3-4 1zM122-23l-10-2-2-1 0-1 7-2 2-2 4-9 3-4 7-2 6-1 3 1 1 2 2 11 0 4-12 6-5 1zM675-25l-3-2-2-3-2-8 2-7 2-2 3 0 4 1 4 3 2 4 1 5-1 7-1 1-5 1zM524-27l-2-1-2-3 0-3 1-1 5 2 4 2-1 2zM110-31l-2-4 1-5 5-2 5 0 1 5-2 5-4 2zM471-38l-8-2-4-4-1-3 2-2 7-3 5-4 2-1 2 2 1 3 1 9-2 4zM584-39l-5-2-13-8-2-6 1-8 6-1 9-4 4 1 3 2 1 5-1 5-3 3-6 4 0 1 10 7zM686-42l-5-4-8-4-1-2 1-3 4-2 5-1 5 1 2 2 2 3 0 3-3 7-1 1zM422-44l-5-2-6-4-6-3-2-2 0-1 3-1 6 2 8 0 5 2 3 3 1 4-2 2zM649-45l-1-2 2-5 0-3-8-10 0-2 2-3 9-5 1-2-1-2-3-3-3-2-8 0 2-8-2-3-4-3-3 0-3 0-6 5-11-1-2-9 0-4 6-3 13 0 17-4 4-2 0-2-1-3 1-1 5-1 9 1 9-7 8 0 7 0 7 0 3 1 3 3 2 5-1 19-10 10-8 2-1 4 1 9 11 7 8 1 0 1-2 4-2 3-3 2-5-2-6 0-15 2-9 0-4 3-2 7-1 2-3 2zM348-48l-1-2 1-1 3 0 0 3zM127-49l2-1 2 1zM434-57l-4-1-3-2-1-3 0-3 1-4 3-3 4-1 3 0 2 0 3 3 0 6-3 6zM359-60l-4-4-1-5 2-10 2-9-1-4-2-4-7-4-2-2 2-4 6-3 3 1 3 2 5 10 5 5 4 2 7-1 3 2 3 3 1 4 5 5 1 2-2 5-3 3-14 6zM407-60l-7-1-4-3-1-3 1-8-6-6-2-5-3-3-3-2-7 0-3-2-4-5-3-8-7-6-5-1-9 3-4-1 0-3 2-3 11-8 12-1 6 1 11 5 4-3 3-1 10 5 11 0 6 4 7 2 6 0 5-1 7-5 9 2 4 2 3 4-2 5-1 13-1 4-24 16-4 5-2 8-9 1zM694-73l-5-4 0-5 2-3 5-4 3-2 2 0 3 4-2 9-4 5zM448-75l-4-1-2-2 3-3 10-5 1-15 2-5 3-3 4 0 3 1 4 4 3 7-1 9-2 7-5 4-9-1-6 3zM319-82l-6-5-1-3 1-3 3-2 4-1 3 0 5 4 2 3-1 3-3 4-3 1zM709-88l-1-1-1-4 1-2 2-1 4 2 2 3-2 3zM618-112l-8-1-3-4 0-4 4-7 2-1 5 1 5 5 17 3 3 1 1 2-3 3-7 2-8 0zM420-114l-4-2-2-2 1-2 4-2 11 0 4 2 2 2-2 3-3 1-5 1zM639-123l-2-1 0-1 2-1 2 0 1 2zM650-128l0-1 1 0 4 0-1 1zM253 122l6 0 7-5 1-4-2-4-3-2-3 1-10 3-6 3 0 2 2 2zM-11 109l5 0 4-4 4-8 1-2-1-2-3-1-3-1-5 4-3 6 0 8zM-6 101l0-3 3-2 0 4zM-11 79l3-1 2-2 5-10-4-6-3-1-4 0 0 3 5 9-2 4-3 0 0 4zM158 48l3 0 2-3-1-4-2-2-2 0-2 3 0 3zM262-57l2-2 7-2 2-3 1-2-4-1-5 3-2 3zM607-64l7 0 3-1 1-2-3-3-3-1-8 1-3 2 1 2zM691-114l4 0 1-2-3-4-3-1-2 2 0 2z"/><path fill="#6cff30" fill-rule="evenodd" d="M181 129l9 0 11-3 7-6 2-6-1-4-2-3-11-8-6 0-5 5-4-1-1-2 3-4-1-2-2-1-2 1-3 5-9 1-4 3-2 5-3 14 11 0 7 5zM179 127l-5-2-5-5-5-9 0-3 1-2 4-1 9 4 6 1 3-1 6-4 3 0 5 1 3 3 2 3 0 3-4 6-2 3-11 3zM291 127l7 0 22-1 2-2 0-6 4-4 6-2 10 2 3 0 6-8 2-4-2-5-4-3-7-2-1-2 2-2 11-4 3-4 0-4-5-5-1-2 3-16 12-2 2-6 8-8-1-3-7-6 1-4-4-4-4-1-4 5-4 1-17-8-6-6-6 0-5 2 0 6 3 9-2 4-5 3-10-2 0 3 3 3 7 0 3 0 10 8 11 3 2 1 0 2-9 9-4 10-3 3-4 1-7-4-4 1-3 2 1 4 9 8 3 6-1 5-9 11-3 0-8-3-4 0-11 2-4 3-1 4 2 5 6 5zM290 125l-8-4-1-2-1-3 1-2 2-2 9-2 8 0 6 2 9 7 3 4-4 1-15 2zM317 114l-2-1-1-3 1-5 5-5 8-5 3-1 6 1 8 0 3 1 3 3 0 3-1 3-5 4-5 1-10-2-9 5zM327 85l-1-2 0-3 6-8 3-8 6-7 3-1 2 1 1 2-1 4-2 3-4 3 0 2 2 3 5 4 0 2-3 2-12 4zM345 49l-16-3-3-2-2-3 0-5 8-12 3-2 4 1 12 5 11 1 6 3 3 3 0 2-1 2-9 9zM0 126l7 0 8-1 13 1 7 0 3-2 1-5-2-4-6-6-3-2-4 0-5 3-7 9-3 1-10 0-3 1-2 2 1 1zM23 123l-3-4 1-4 3-3 4 0 6 6 0 5-4 1zM125 126l21 0 5-1 3-1 0-1-7-6-1-9-5-7-4-7 11-3 6-4 0-3-1-3-7-5-6-1-6 2-1 7 3 8-1 1-12-1-4 1-3 3 0 9 2 3 6 3 6-1 4 0 3 2 2 3-1 2-4 2-5-1-4-3-2 1-4 7 1 2zM128 124l-4-1 3-1 9 1zM122 106l-3-6 0-4 2-2 2-1 5 1 4 4-1 5-5 3zM140 91l-4-2-2-3 0-4 2-3 3-2 5 0 4 2 3 2 2 4-2 3-5 3zM350 126l11 1 12-2 9 1 7 0 1-1 0-1-6-2-2-2-1-3 2-2 14 1 4-2 6-7 15-2 4-2 3-3 1-5 7-4 2-3 2-5 1-15-1-5-7-5-13-4-3-4-3-1-14-2-4 2-7 4-5 8 0 2 1 2 16 1 2-1 6-8 3-2 2 0 2 2 2 6 4 6 1 3-1 4-4 8 1 2 3 5 0 1-15 2-5 2-6 5-3-2-4-10 1-2 6-8 1-3-1-2-7-5-9-3-9-8-3-1-3 1-3 5 0 5 3 3 7 3 1 9-4 5-7 21-2 2-8 6-3 7zM358 125l-4-1-1-1 4-5 8-5 3-12 3-6 2-2 2 0 3 2 8 7 10 6 0 2-4 2-11-3-9 8-4 6-4 2zM406 104l-3-2 0-3 2-2 4-2 5-1 8 1 3 1 1 1 0 4-3 2-8 1zM428 90l-4-4 0-4 5-7 2-2 2 0 4 5 1 3 0 4-2 3-2 2-3 1zM382 86l-3-2-2-3-1-4 1-3 3-2 4-2 4 1 4 2 3 4-2 4-5 5-3 1zM396 59l-1-2 1-3 4-2 3 1 1 2-2 3-3 2zM564 126l9 1 3-1 1-1-7-8-3-2-2 2-5 6 1 2zM568 124l-1-1 1-1 4 1-1 1zM720 126l12 0 0-7-16 2-1 1 0 2zM82 125l2 0 1-1-4 0zM430 125l3 1 2-2-1-1-3 0-2 1zM508 125l6 1 4-2-2-1-6-1-3 1 0 1zM58 124l2-1-2 0zM619 122l10 0 3-3-2-2-4-1-8 4-1 1zM679 121l6 1 7-2 2-2 2-4 1-6-1-2-13-3-6 0-4 3-3 3-3 9-11-5-2 1-3 4 0 1 2 1 7 0 7-2zM679 119l-5-2 0-5 3-4 3-2 3 0 4 0 3 2 1 5-3 5-4 2zM221 120l3-1 3-4 0-2-2-2-3 0-3 3 0 3zM64 112l14-1 5-3 1-3-3-2-4-1-17 3-2 1-2 2 4 3zM69 108l-1-1 1-1 4-1 4 0 2 1-3 2zM455 108l4-1 22-8 29 4 23-2 4-2 7-8 12-5 5-3 2-3-2-2-6-2-5 1-6 3-3-1-2-2-3-8-3-1-2 1-4 7-3 1-9 0-4 1-3 2-3 5-2 1-3-3 1-7-2-5-15-4-11-6-4 0-9 4-10 3-3 3 1 3 3 4 13 7 2 2-1 3-5 4-3 1-7-1-4 2 0 3 3 5 3 3zM454 104l-1-2 1-2 7 0 7-5 3 1 0 2-2 2-7 1-5 4zM505 100l-3-2-1-2 8-5 4-8 3-3 16 1 3 1 3 4 0 3-2 5-2 3-3 2-20 2zM488 95l-2-2-1-2 1-2 3-1 5 1 3 5 0 1-4 1zM468 84l-11-4-4-3-2-4 1-2 3-2 12-5 5-1 4 2 15 8-1 3-12 7-5 2zM611 108l4 0 2-1 1-3-1-6 1 0 5 1 7-1 3 6 3 3 3 0 2-2 2-4 0-7-11-7-1-3 1-4 3-4 10-5 2-7 10-15 4-3 9-2 0-3-3-3-24-12-3 1-2 4-7 7-4 7 2 3-2 8 3 15-2 2-2-1-7-5-1-3-2 0-3 3-6 12 1 2 4 1 8 3-3 5-1 6-3-1-2 1-1 2-2 7 1 3zM611 105l1-4 1-1 1 4-2 1zM623 98l-3-1-2-2 1-5 3-3 5-1 3 4 0 4-3 3zM618 82l-5-3-1-4 3-5 4-1 5 3 3 7 1 0-6 3zM633 73l-4-11-1-5 0-4 3-10 5-3 4 2 3-1 1-2-2-5 1-2 10 2 7 4 1 2 0 2-8 7-11 22-5 2-3 1zM565 104l3 1 2-1-1-4-1-1-10-2-3 1-1 1 1 2zM653 103l6-1 1-2 1-2-2-2-4-1-4 0-4 2-1 2 1 2zM652 102l-3-2 0-2 1-1 5-1 4 2 0 2-1 1zM-5 101l2-2 0-3-3 2 0 2zM715 101l2-2 0-3-3 2 0 2zM98 99l1 1 1-1-1-2-1 0zM200 93l4-2 2-4-2-5-4-2-4 2-2 5 2 4zM198 91l-3-3 0-4 3-2 4 0 3 3-1 4-3 3zM270 90l3 1 4-1 18-9 6-5 1-4-11 3-3-1-5-3-6-3-11 2-1-1 0-4-2-2-3-1-4 0-1 2 1 11-1 8 1 1 5 1zM270 88l-5-4-2-4 1-4 5-3 6-2 4 0 14 7-7 6-6 3-5 2zM80 89l5 1 5-2 4-4 6-9 2-1 12 0 11 2 5 0 1-1-1-3-4-3-6-2-1-1 1-2 22 0 10 2 12-1 8 3 5 0 2-3 0-3 0-3-3-6 2-9-1-10 1-3 8-7 11-4 11-1 5 3 4 1 2-1 1-4-2-2-3-1-5 0-3-6-3-2-4 0-5 2-4-1-5 0-4 2-3 5-1 1-12-1-14 5-2 3 2 6-1 2-14 7-17 2-18 11-3-1-9-4-4 0-4 1-3 2-1 3-7 26 2 6 3 3zM81 88l-5-2-4-5 0-5 2-5 3-3 4-2 9-1 5 1 2 2 1 5-3 8-3 4-3 2-4 1zM169 66l-4-4 0-4 4-3 4 0 4 3 1 5-2 3-2 1zM107 62l-2-5 1-4 5-5 8-6 7-1 17 0 2 2 2 6 0 4-4 5-4 3-7 2-13-2-10 2zM84 58l-3-3 2-4 5-2 5 2 0 3-2 3-4 1zM157 47l-1-2 0-3 2-3 2 0 2 2 0 5-2 2zM170 44l-1-4 2-2 2 2 0 2-1 3zM163 31l-6-2-3-3-1-4 4-3 11-3 14 2 5-6 3-1 4 2 4-4 3-1 4 1 2 2 0 4-2 3-3 0-6 0-10 4-8 7-6 2zM169 89l5 0 3-2 0-3-2-3-6-2-3 1-3 2 0 2 0 2 3 2zM168 88l-4-3 1-3 5-2 5 2 1 3-1 2-3 1zM53 88l5 1 3-1 3-6-1-3-8-5-5-1-7 1-6 4-2 2 1 3 3 2zM49 86l-10-2-2-2-1-2 3-2 6-2 9 0 5 2 3 3-2 4-4 1zM673 85l3 1 4-1 4-3 5-5 8-3 5-1 6 2 2 0 2-2 1-2-4-8-4-2-10-1-9 3-11 1-5 3-3 3-1 4 3 7zM674 84l-4-3-1-4 0-4 3-3 5-2 10 0 7-5 3-1 5 0 3 2 0 3-2 2-16 3-2 6-2 3-5 3zM570 80l2 1 1-2 2-8 0-3-3 1-3 6-1 3zM-11 75l2-1 2-3-5-9 0 13zM238 75l3-2 1-2-1-1-2 0-2 2-1 2zM200 71l4 0 8-5 3-8 3-5 10-8 10-11 8-8 2-3-1-3-4-2-7 0-9 3-6 3-3 8-21 22-4 12 2 3zM208 56l-2-2 1-4 3-6 3-4 10-6 4-7 3-3 8-4 3 0 3 1 1 2-1 3-13 11-6 8-13 11-2 1zM18 68l5 1 4-1 7-7 7 5 11-2 5-3 4-5 3-6 0-2-7-9-8-4-11-2-10 3-1-4 1-9-7-21 0-8-2-2-3 0-5 4-3 1-3-2-1-7-1-1-13 1-2 2 0 30 4-8-1-7 1-14 7-1 1 0 0 5 1 4 8 6 4 6 7 5 5 7 0 12 9 20-2 2-4 2-2 5-2 2-3 1-4-1-4-3 1-2 1-1 10-2 2-2-1-10-4-6-4-2-10 4-13-1-4-1-3-4 0 4 4 2 8 1 7 3 10-3 3 0 2 2 2 4-2 4-3 2-8 1-2 4 0 3 2 2zM731 65l1 1 0-10-2 1-1 3 0 3zM559 63l10-1 5-2 4-3 2-7 1-8-4-13-4-7-4-3-2 0-2 4-9 11 2 14-5 9 2 4zM566 60l-4-1-2-3-1-20 3-8 4-3 3-2 3 2 3 5 3 13 1 5-2 6-3 3-4 3zM487 50l4 1 5-1 20-8 17-9 2-2 0-2-10-14-5-5-6-3-13-1-3-2-5-7-3-2-12-1-7 3-11-1-3 1-3 2 0 2 2 8-1 4-11 9-10 3-2 2 1 2 4 3 11 3 8 10 12 4 11-1zM489 47l-8-2-14-1-8-2-12-13 0-3 3-5 6-4 9-3 6-3 8-2 8-5 3 1 10 4 11 0 4 1 4 4 10 12 1 3 0 3-8 5-12 4-8 4-8 2zM463 7l-1-2 0-2 2-1 2 1 1 2 0 2-2 1zM725 45l3 1 4-1 0-4-5 1-15-2-4-4-2-8 1-6 5-10-1-7 1-14 4-1 4 0 0 5 1 4 8 6 3 6 0-16-3 2-4-1-1-3 0-4 0-2-3 0-12 2-2 8-4 3-2-1-2-1-2-7-3-4-6-5-5-3-6 1-5 3-6 2-4 3-2 4-2 5 1 4 2 4 3 1 3 0 12-9 3 0 3 6 3 3 10 5 7 1 2 2 0 3-2 11 1 8 2 4 4 2 8 1zM664 3l-3-4 0-6 2-4 4-3 8 0 4-3 3 0 5 3 4 5 2 3 0 3-2 2-2-1-4-6-5-1-10 10-3 2zM78 37l3 0 3-2 0-3-2-3-3 1-4 4 0 2zM121 17l8 1 3-2-2-11 6-6 1-3-2-3-3-2-6-1-5 2-6 4-5 8 0 4 2 5 3 2zM123 14l-5-1-2-2-1-4 3-3 3 0 4 6 1 3zM123-2l-1-3 3-2 5 0 2 2-1 2-2 1zM344 13l5-1 5-5 3-1 14 2 9 2 19 4 17-6 13 0 7-1 4-2 2-4-4-10-1-2-3-1-24 2-10 2-12-1-11 2-2-1-2-12 1-6 2-6 7-12 1 1 0 1 0 5 0 3 2 3 2 1 3 0 6-5 4-2 4 0 10 3 6-2 3-2-1-2-10-3-15-8-8-2-6-5-3 0-5 3-12-2-4 1-2 2-5 16 1 8 6 13 1 10-1 2-4 3-3 0-4-1-11-8-4 0-3 1 5 4 3 14 2 4zM392 11l-10-2-3-2-1-2 1-3 1-3 3-2 4-1 5 1 12 5 2-1 1-7 3-2 19-1 3 0 2 2 0 7-4 4-4 1-18 0-9 6zM344 7l-2-3 0-3 1-2 1 0 3 2 1 3-2 3zM365-12l-8-16-2-9 1-7 4-8 2-2 4-1 5 1 4 3 2 3 0 5 0 5-5 11-1 13-3 2zM394-41l-1-3 2-2 4 1 3 2 0 1-2 1-4 1zM80 8l1 0 3-3 0-3-2 1-2 2zM287 5l7 0 5-2 1-3 0-8 8 2 4-1 5-3-2-3 1-2 6-1 14-2 4-1 3-3 2-7-1-10-2-5-6-5-1-3 0-2 3-2 12-1 2-1 2-2-2-9 1-12 3-8-1-4-3-3-9-3-4-4-4 0-2 10 0 5 3 6 0 3-1 3-4 2-6 0-4-2-8-9-2-1-7 2-7-2-5-1-7 2-9 9-9 4-6 4-3 5-1 6-2 3-14 9-5 6-2 5 0 5 2 5 4 4 12 7 3 4 5-7 3-1 4 1 3 2 5 6 2 9 3 2zM286 4l-6-3-2-3 1-6-9-8-4-2-4-1-4 1-3 2-8-7-4-7 0-4 2-4 9-7 11-8 9-4 8-21 5-5 5-1 5 0 21 11 6 1 8 1 5-3 4-6 0-3-1-7 1-4 5-2 5 1 2 2 1 4 0 3-4 5 1 5 0 14-3 2-12 1-4 3-2 4 1 4 6 5 3 5 2 8-1 6-2 2-4 2-21 3-8 5-10-3-8 1-1 1 1 1 5 2 3 3 2 4 0 3-1 2-3 2zM261-57l2-5 3-3 5-2 3 1-3 5zM197 1l2-1-1-2-3-2 0 3zM636-1l2-4-2-2-2 1-1 1 0 2zM96-8l4 0 2-2-1-6-5 5-1 2zM512-8l6-1 5-4-5-2-6 0-3 2 0 2 1 2zM452-12l3 1 4-6 5-1 5 0 8 4 4-3 3-6 1-6-2-4-26-4-3-2-2-5 0-3 3-3 8-1 5-3 2-3 2-6 4 0 2 2 4 15 4 8 2 1 2-1 3-4 0-5-1-3-6-11-7-2-6-6-6-3-6-1-15 2-2 2-3 9-7 6 3 5 6 6-1 8 1 5 7 11zM454-19l-5-4-3-5 0-4 4-3 13 0 10 1 6 2 3 4-1 5-4 3zM486-47l-2-4 0-2 1-1 2 0 2 4 0 3zM443-50l-3-2-1-3 6-11 2-2 5 0 6 1 7 2 4 4-1 5-4 3-4 1-7 0-6 3zM656-22l6 0 4-3 2-2-1-11 0-7-1-1-2 0-11 6-3 1-3-1-3-3-1-2 3-8 0-3-1-3-7-6-10-2 0-1 10-6 6-1 3-2-1-1-2-1-5 2-3 0-4-3-3-3 0-2 6 0 4-3 0-5-2-3-4-2-4 1-2 3-2 6-15-3-4-3-3-1-6 0-6 1-6 3-5 5-11 8-3 7 1 2 17-1 3 1 2 2 1 4-1 4-4 10 1 2 4 3 6 3 8 2 6-2 8-4 13 1 1 1 1 2-6 8 0 2 2 1 10-2 6 1 3 2zM655-24l-8-8-3-1-10 0-1-1 0-2 4-4 2-1 9 5 12-3 3 0 2 4 0 6-5 5zM602-44l-11-4-2-2 3-12 2-2 10 3 6 1 14-4 9 0 8 3 4 5 0 3-2 3-5 5-21-2-10 4zM607-64l-5-2-1-2 3-2 8-1 3 1 3 3-1 2-3 1zM593-72l-7-2-6 0-2-1-1-2 2-5 9-7 4-3 5-1 6 0 14 5 3 2 2 3 1 6-1 1-19 4zM630-87l-3-4 2-5 4-1 5 2 1 3-1 4-4 2zM122-23l11 0 12-6 0-4-2-11-1-2-3-1-6 1-7 2-3 4-4 9-2 2-7 2 0 1 2 1zM125-24l-5-3 5-13 3-3 4-2 4 0 3 1 2 3 2 5 1 4-1 3-9 5-4 1zM524-27l5-2 1-2-4-2-5-2-1 1 0 3 2 3zM686-41l1 0 1-1 3-7 0-3-2-3-2-2-5-1-5 1-4 2-1 3 1 2 8 4zM686-45l-8-5-1-2 0-2 4-2 5 2 2 5zM408-60l15 0 2-8 4-5 24-16 1-4 1-13 2-5-3-4-4-2-9-2-7 5-5 1-6 0-7-2-6-4-11 0-10-5-3 1-4 3-11-5-6-1-12 1-11 8-2 3 0 3 4 1 9-3 5 1 7 6 3 8 4 5 3 2 7 0 3 2 3 3 2 5 6 6-1 8 1 3 4 3zM405-62l-4-1-3-3-1-9-6-6-3-7-4-3-9-2-3-3-1-4 3-8-5-1-4-2-7-6 0-3 7-2 6 0 6 5 1 5 1 1 4-1 11-6 16 1 8 4 7 1 6 0 11-3 3 1 3 3 3 5 2 5 0 7-1 4-5 4-18 11-7 10-2 2-7 2zM694-73l4 0 4-5 2-9-3-4-2 0-3 2-5 4-2 3 0 5 2 2zM694-78l-1-2 1-2 3-3 2 0 1 2-1 3-3 3zM618-112l8 0 8 0 7-2 3-3-1-2-3-1-17-3-5-5-5-1-2 1-4 7 0 4 3 4zM623-113l-10-1-3-2-1-3 5-4 0-3 2 0 1 1 0 2 4 2 8 2 8 0 3 2-2 2-4 1zM651-128l3 0 1-1-5 0z"/><path fill="#c0ff00" fill-rule="evenodd" d="M180 127l10 0 10-3 6-9 0-3-2-3-3-3-5-1-3 0-6 4-3 1-6-1-9-4-4 1-1 2 0 3 5 9 5 5zM179 126l-5-3-3-3 0-3 3-3 4-2 12-1 6-3 4 1 2 2 0 2 0 3-3 6-2 2-9 3zM290 125l9 1 15-2 4-1-3-4-9-7-6-2-8 0-9 2-2 2-1 2 1 3 1 2zM289 124l-5-3-2-3 2-4 4-2 7-1 6 1 5 2 3 4 0 3-3 2-9 2zM358 125l6 0 4-2 4-6 9-8 11 3 4-2 0-2-10-6-8-7-3-2-2 0-2 2-3 6-3 12-8 5-4 5 2 2zM358 123l3-3 2 2 0 1zM371 108l-1-3 1-3 2-2 2 0 2 2-1 3-2 3zM129 124l7-1-10-1-2 1zM568 124l3 0 1-1-4-1-1 1zM24 123l7 1 3-1 0-1 0-3-1-2-3-4-3-2-4 1-3 4 1 4zM679 119l5 1 4-2 3-5-1-5-3-2-4 0-3 0-3 2-3 4 0 5zM680 116l-1-2 1-2 1-1 2 0 1 2 0 2-2 2zM317 114l4-1 9-5 10 2 5-1 5-4 1-3 0-3-3-3-3-1-8 0-6-1-3 1-8 5-5 6-1 5zM321 107l0-1 1 0zM339 107l-5-4 0-2 1-2 8-3 3 0 3 2 1 4-2 4-4 2zM69 108l7 0 3-2-2-1-4 0-4 1-1 1zM122 106l5 0 4-3 1-5-4-4-5-1-2 1-2 2 1 8zM611 106l3-2-1-4-1 0-1 2zM407 104l11 0 5-1 3-2 0-4-1-1-3-1-8-1-5 1-4 2-2 3 1 3zM408 102l-2-1 0-2 2-2 3-1 9 1 3 2-1 2-3 1-7 1zM455 104l3 0 4-3 7-1 2-2 0-2-3-1-7 5-7 0-1 2zM653 102l5-1 1-1 0-2-4-2-5 1-1 1 0 2zM653 101l-2-1 0-2 3-1 3 1 0 2zM506 100l6 1 19-2 3-2 2-3 2-5 0-3-3-4-3-1-16-1-3 3-4 8-8 5 1 2zM520 96l-3-1-2-2 1-5 2-3 3-1 6 1 5 2 1 4-3 4-4 1zM623 98l5-1 2-4 0-4-4-3-5 1-3 4 1 5zM622 97l-3-3 0-4 3-2 4-1 3 3 0 4-3 3zM488 95l5 1 4-1 0-1-3-5-5-1-3 1-1 2 1 2zM140 91l6 0 5-3 2-3-2-4-3-2-4-2-5 0-3 2-2 3 0 4 2 3zM140 90l-3-2-2-2 0-4 2-3 3-1 4 0 4 2 3 2 1 3-2 3-5 2zM198 91l4 0 3-3-1-4-3-3-4 1-2 3 1 4zM198 90l-2-3 0-3 3-2 3 1 2 3-1 3-2 2zM428 90l3 1 3-1 2-2 2-3 0-4-1-3-4-5-2 0-2 2-5 7 0 4zM429 87l-2-3 1-3 2-2 3 0 2 2 0 4-3 3zM82 88l4 0 4-2 6-6 1-4 1-4-1-4-2-2-5-1-9 1-4 2-3 3-2 6 1 5 4 4zM82 87l-5-2-3-3-1-4 1-5 3-4 4-2 6 0 5 1 4 5 0 3-2 4-5 6zM168 88l4 0 3-1 1-2-1-3-5-2-5 2-1 3zM168 87l-2-2 1-3 4-1 3 2 0 2-1 2zM270 88l5 1 5-2 6-3 7-6-14-7-4 0-6 2-5 3-1 4 2 4zM271 87l-4-3-2-3 1-4 3-3 5-2 4 0 4 2 5 4-1 4-5 4-5 1zM50 86l7 0 4-2 1-3-3-3-5-2-9 0-6 2-3 2 1 2 2 2zM47 85l-6-1-3-2 0-2 3-2 6-1 7 0 5 2 2 2-1 2-3 2zM383 86l3 0 3-1 5-5 1-3-1-2-4-4-4-1-4 1-3 1-2 3-1 3 1 4 2 2zM383 84l-3-2-1-2 0-5 3-2 3-1 6 2 1 3-1 4-4 3zM328 86l5-1 11-3 3-2 0-2-5-4-2-3 0-2 4-3 2-3 1-4-1-2-2-1-3 1-6 7-3 7-6 10 0 3zM469 84l5 1 5-2 11-7 1-3-15-8-4-2-5 1-12 5-3 2-1 2 2 4 4 3zM468 82l-11-4-2-2 0-3 2-3 9-4 4-1 4 0 6 5 3 3 0 2-2 3-5 3-4 1zM675 84l4 0 4-3 2-3 2-6 16-3 2-2 0-3-3-2-5 0-3 1-7 5-10 0-5 2-3 3 0 4 2 5zM675 83l-3-2-1-2 0-5 4-3 6 0 3 4-1 4-3 3zM618 82l4 0 6-3-1 0-1-4-3-4-5-2-4 2-2 5 2 4zM617 81l-3-3-1-4 3-3 4-1 4 3 1 2-1 3-3 3zM634 74l5-1 4-3 10-21 9-8-1-2-3-2-6-3-9-2-1 2 2 5-1 2-3 1-4-2-5 3-3 10 0 4 1 7zM635 71l-5-7-1-8 1-5 3-6 3-2 5 1 4 2 3 2 0 2-2 8-4 10-3 3zM17 66l4 1 4-1 1-2 2-5 5-3-3-11-5-10 1-11-6-8-7-5-4-6-8-6-1-4 0-5-7 0-1 1-1 13 1 8-4 8 0 3 3-5 4-4 5-2 5 1 6 2 6 5 6 8 0 5 0 1-3-2-8 6-5 2-14-1-3-2-2-3 0 2 3 4 4 1 13 1 10-4 5 3 4 6 0 9-2 2-8 1-3 2-1 1 1 2zM169 66l5 1 2-1 2-3-1-5-4-3-4 0-4 3 0 4zM172 66l-4-2-2-3 2-4 3-1 4 1 2 4-2 4zM107 62l2 1 10-2 13 2 7-2 4-3 4-5 0-4-2-6-2-2-17 0-7 1-8 6-5 5-1 5zM128 61l-17-3-2-3 1-3 5-5 7-4 6 0 8 2 4 4 1 3-1 4-4 4zM566 60l4 0 4-3 3-3 2-6-1-5-3-13-3-5-3-2-3 2-4 3-3 8 1 20 2 3zM565 58l-3-2-1-3-1-17 1-4 3-4 3-2 2-1 3 2 3 5 2 11 0 6-1 4-4 4-4 2zM397 59l3 0 2-1 2-3-1-2-3-1-4 2-1 3zM84 58l4 0 3-1 2-3 0-3-5-2-5 2-2 4zM208 56l2 1 2-1 14-12 5-7 13-11 1-3-1-2-3-1-3 0-8 4-3 3-4 7-10 6-4 5-2 6-1 3zM214 47l0-2 2-3 3-1 2 1 0 1-3 3-3 2zM345 49l16-1 9-9 1-2 0-2-3-3-6-3-11-1-12-5-4-1-3 2-8 12 0 5 2 3 3 2zM343 46l-12-2-3-2-1-2 0-3 2-4 3-4 3 0 2-4 5 1 9 4 12 1 4 2 2 2 0 2-1 3-8 6-4 1zM489 47l5 0 8-2 8-4 12-4 8-5 0-3-1-3-10-12-4-4-4-1-11 0-10-4-3-1-8 5-8 2-6 3-9 3-6 4-3 5 0 3 12 13 8 2 14 1zM494 42l-4-4-11 3-11-1-6-1-4-3-6-7-1-3 1-2 4-4 9-1 9-6 12-4 4 0 10 2 12 1 3 2 4 6 6 6 2 3-1 3-6 4-11 2-9 4zM170 44l2 1 1-3 0-2-2-2-2 2zM715 41l12 1 5-1 0-3-5 2-14-1-3-2-2-4-1-5 1-5 2-4 4-4 5-3 3 0 5 1 5 3 0-5-3-6-8-6-1-4 0-5-1 0-7 1-1 14 1 7-4 9-2 5 1 6 1 5 3 3zM163 31l9 0 6-2 8-7 10-4 6 0 3 0 2-3 0-4-2-2-4-1-3 1-4 4-4-2-3 1-5 6-14-2-11 3-4 3 1 4 3 3zM165 30l-6-1-4-4 0-3 4-3 6-2 6 0 7 2 3 3-1 3-4 3-5 2zM199 17l-3-3 2-4 3-2 4 2 2 3-1 3-3 2zM123 14l3-1-1-3-4-6-3 0-3 3 1 4 2 2zM393 11l7 0 8-6 18 0 4-1 4-4 0-7-2-2-3 0-19 1-3 2-1 7-2 1-12-5-5-1-4 1-3 2-1 3-1 3 1 2 3 2zM392 7l-3-2-1-1 4 0 4 1 0 1 0 1zM415 1l-2-1-2-2 0-2 3-2 10 0 4 2-1 2-2 2zM344 7l2 0 1-1 1-3-2-3-3-1-1 1 0 3zM463 7l2 1 2-2-1-3-2-1-2 1-1 1zM287 4l8 0 2-2 1-3-3-7-7-4-1-1 1-1 8-1 10 3 8-5 21-3 4-2 2-2 1-6-2-8-3-5-6-5-1-4 2-4 4-3 12-1 3-2 0-14-1-5 4-5 0-3-1-4-2-2-5-1-5 2-1 4 1 7 0 3-4 6-5 3-8-1-6-1-21-11-5 0-5 1-5 5-8 21-9 4-11 8-9 7-2 4 0 4 4 7 8 7 3-2 4-1 4 1 4 2 9 8-1 6 2 3zM286 3l-5-3-1-3 1-3 4-3 4 0 3 1 3 4 1 5-4 2zM277-14l-9-5-14-3-4-5-1-4 5-10 3-4 9-5 9-2 3-2 2-12 4-11 2-3 5-3 6 1 3 1 6 6 10 5 16 1 5-1 7-8 2 0 2 0 2 5-1 9-3 2-9-1-3 1-5 5-2 7 0 3 8 6 3 4 1 7 0 3-2 3-6 3-18 3-7 2-13-2-7 2-6 2zM347-84l-3-2-1-4 1-3 3-2 4 2 2 5-2 3zM665 3l2 0 3-2 10-10 5 1 4 6 2 1 2-2 0-3-2-3-4-5-5-3-3 0-4 3-8 0-4 3-2 5 1 6zM666-1l-2-1-1-4 1-5 5-2 6 1 1 3-2 4-4 3zM124-2l3 1 3-1 2-2 0-2-4-2-4 1-2 3zM365-12l3 0 3-2 1-13 5-11 0-5 0-5-2-3-4-3-5-1-4 1-2 2-4 8-1 7 2 9 6 14zM366-17l-7-10-2-9 1-7 2-6 3-4 3-1 4 1 3 3 2 4 0 4 0 4-4 10-2 9-2 2zM454-19l23-1 4-4 1-5-4-3-8-2-15-1-6 1-3 3 0 4 4 5zM454-21l-4-3-2-4 1-3 3-2 8-1 9 1 7 2 3 3 0 4-4 2zM125-24l9 0 9-5 1-3-1-4-2-5-2-3-3-1-4 0-4 2-3 3-5 13 2 2zM126-25l-3-2 0-2 0-5 2-5 3-3 4-1 3-1 3 2 2 2 2 4 0 4-1 3-7 4zM656-24l5-1 4-4 0-7-2-3-3 0-12 3-9-5-2 1-4 4 0 2 1 1 10 0 3 1zM655-27l-2-3 0-3 5-2 3 1 1 2-1 3-3 2zM394-41l6 0 2-1 0-1-3-2-4-1-2 2zM602-44l5 1 10-4 21 2 5-5 2-3 0-3-4-5-8-3-9 0-14 4-6-1-10-3-2 2-3 12 2 2zM625-47l-11-2-8 1-6-4-6-1-1-1 0-2 1-2 2-1 7 2 7 0 11-5 4-1 11 0 4 2 3 3 1 3-2 4-3 3-3 1zM686-45l2-4-2-5-5-2-4 2 0 2 1 2zM487-47l2 0 0-3-2-4-2 0-1 1 0 2zM444-50l4 0 5-2 7 0 4-1 4-3 1-5-4-4-7-2-6-1-5 0-2 2-6 11 1 3zM445-53l-3-2 0-2 3-6 3-2 15 1 3 2 2 2-1 4-4 3-4 0-7-1-4 1zM406-62l7 1 7-2 2-2 7-10 18-11 5-4 1-4 0-7-2-5-3-5-3-3-3-1-11 3-6 0-7-1-8-4-16-1-11 6-4 1-1-1-1-5-6-5-6 0-7 2 0 3 7 6 4 2 5 1-3 8 2 5 2 2 8 1 4 3 2 2 2 6 6 6 1 9 3 3zM409-63l-5-1-3-2-2-3 0-6-8-7-1-5-2-3-3-2-9-3-1-4 2-6 4-4 6-3 5-3 5-1 12 0 15 4 15 0 5 2 5 5 2 4 1 6-2 4-4 4-19 11-5 8-3 3-5 2zM369-113l-4-3 1-2 2-1 3 1 2 2-1 3zM594-72l9 0 19-4 1-1-1-6-2-3-3-2-14-5-6 0-5 1-4 3-9 7-2 5 1 2 2 1 6 0zM598-73l-10-3-5-4 0-3 7-6 5-2 6-1 12 4 4 3 1 4-3 4-9 3zM694-78l2 1 3-3 1-3-1-2-2 0-3 3-1 2zM630-87l4 1 4-2 1-4-2-3-5-2-4 2-1 5zM632-87l-3-2-1-3 2-4 3-1 4 2 1 4-2 3zM623-113l11-1 4-1 2-2-3-2-8 0-8-2-4-2 0-2-1-1-2 0 0 3-5 4 1 3 3 2zM616-116l-2-1 1-1 2-1 4 1 2 1-2 1z"/><path fill="#ffff00" fill-rule="evenodd" d="M180 126l9 1 8-3 2-2 3-6 0-3 0-2-2-2-4-1-6 3-12 1-4 2-3 3 0 3 4 4zM183 126l-6-2-4-3 0-3 2-3 4-2 5 0 11 0 3 1 1 5-2 4-6 3zM290 124l7 1 9-2 3-2 0-3-3-4-5-2-6-1-7 1-4 2-2 4 3 4zM293 124l-6-2-3-3 0-3 3-3 6-1 6 0 5 2 3 3 0 3-2 2-5 2zM358 123l5 0 0-1-2-2zM680 116l2 1 2-2 0-2-1-2-2 0-1 1-1 2zM372 108l3-1 2-3 0-3-2-1-3 0-2 3 0 3zM321 107l1-1-1 0zM339 107l5 1 4-2 2-4-1-4-3-2-3 0-8 3-1 2 0 2 1 2zM341 106l-3-3 0-3 4-3 5 1 2 3-1 3-3 2zM408 102l4 1 7-1 3-1 1-2-3-2-9-1-3 1-2 2 0 2zM653 101l4-1 0-2-3-1-3 1 0 2zM622 97l4 0 3-3 0-4-3-3-4 1-3 3 0 4zM621 96l-2-3 1-3 3-2 4 1 2 3-1 3-3 2zM520 96l6 0 4-1 3-4-1-4-5-2-6-1-3 1-2 3-1 5 2 2zM141 90l5 0 4-2 2-3-2-4-3-2-4-1-4 0-3 2-1 3 0 3 3 3zM140 89l-3-2-1-2 0-3 2-2 6-1 5 3 1 3-2 3-4 1zM198 90l3 1 3-3-1-4-2-2-3 0-2 3 0 3zM198 89l-1-2 0-3 3-1 2 1 1 2-1 3-2 1zM82 87l7-1 5-6 2-4 0-3-4-5-5-1-6 0-4 2-3 4-1 5 1 4 3 3zM81 86l-4-2-2-3-1-4 1-4 3-3 4-2 5 0 4 2 3 4-1 6-2 3-3 2zM169 87l3 0 2-1 0-2-1-2-4-1-3 2 0 3zM169 85l1-1 2 0-1 1zM272 87l5 0 5-2 5-4 0-3-5-4-4-2-4 0-5 2-3 3-1 4 3 4zM272 86l-4-2-1-3 0-3 3-3 4-1 4 0 4 1 3 3 0 3-4 3-5 2zM429 87l3 1 3-3 0-4-2-2-3 0-3 3 0 3zM47 85l10 0 3-2 1-2-2-2-5-2-7 0-6 1-3 2 0 2 3 2zM44 84l-3-1-2-2 1-2 3-1 11 0 3 1 2 2-1 2-4 1zM383 84l4 0 4-3 1-4-2-4-6-1-5 3 0 5 1 2zM384 82l-3-2 0-3 3-2 4 0 1 2 0 3-3 2zM675 83l5-1 3-3 1-4-3-4-6 0-4 3 0 5 1 2zM676 82l-4-3 0-4 3-3 4 0 3 2 0 4-2 3zM468 82l4 0 4-1 5-3 2-3 0-2-3-3-6-5-4 0-4 1-9 4-2 3 0 3 2 2zM466 80l-5-2-2-2-1-2 1-2 3-3 6-2 4 0 3 1 2 2 1 3-1 5-5 2zM618 81l4 0 3-4-2-5-4-2-4 2-2 3 1 4zM616 80l-2-3 1-4 3-2 3 1 2 2 0 4-3 3zM636 71l4-1 3-3 4-10 1-7 0-2-3-2-4-2-5-1-3 2-3 6-1 5 2 9 3 5zM635 69l-3-3-2-4 0-8 1-4 3-4 2-1 3 0 3 1 3 3 1 3 0 4-2 6-3 5-3 3zM172 66l3-1 2-4-2-4-4-1-3 1-2 4 2 3zM171 65l-3-2 0-3 2-3 3 0 3 2 0 3-2 3zM129 61l7-1 3-2 1-3 1-4-1-3-5-4-8-1-6 0-8 5-4 5 0 3 3 2zM125 59l-11-4-1-2 1-2 6-5 4-2 6 1 5 2 3 5-2 5-4 2zM565 58l4 0 3-1 4-4 1-4 0-6-2-11-3-5-3-2-2 1-3 2-3 4-1 4 1 17 1 3zM566 57l-3-2-1-3-1-15 1-4 2-4 2-1 3-1 3 2 2 4 2 15-1 4-3 4-3 1zM214 47l2 0 2-1 3-3 0-1-2-1-3 1-2 3zM343 46l13 1 4-1 8-6 1-3 0-2-2-2-4-2-12-1-9-4-5-1-2 4-3 0-3 4-2 4 0 3 1 2 3 2zM346 44l-11-1-4-3-1-3 1-3 2-2 3-1 2-3 4 0 9 3 10 1 3 1 2 2 1 2-1 3-5 4-5 1zM495 42l5 0 9-4 11-2 4-2 2-3 0-3-1-2-6-6-4-6-3-2-12-1-10-2-4 0-12 4-9 6-9 1-4 4-1 2 1 3 6 7 4 3 6 1 11 1 11-3zM466 36l-4-2-4-3-2-4 0-3 3-1 6-1 10-7 11-4 5 0 19 4 3 2 3 6 5 4 1 2 0 2-3 2-17 3-10-1-12 1zM-7 39l16 0 11-7 3 2 0-6-6-8-6-5-7-3-5 0-4 2-4 4-3 5 0 3 2-5 3-3 5-3 6 0 5 2 5 3 3 5 0 4-3 5-4 3-13 2-3 0-3-2-2-3-1-4 1 6zM713 39l15 1 4-2 0-2-4 2-10 1-6-1-3-4-1-5 0-5 3-5 3-2 4-2 8 1 6 2 0-2-5-3-6-1-5 2-5 4-3 6-1 6 2 6zM165 30l6 0 5-2 4-3 1-3-3-3-7-2-6 0-6 2-4 3 0 3 4 4zM164 29l-5-2-2-2 0-3 3-2 5-2 5 0 6 2 3 2-1 3-3 3-5 1zM199 17l4 1 3-3 0-3-2-3-4 0-3 2 0 4zM199 16l-2-3 2-3 3-1 3 2 1 3-1 2-3 1zM393 7l3 0 0-2-4-1-4 0 1 1zM286 3l6 0 4-2-1-5-3-4-3-1-4 0-4 3-1 3 1 3zM287 2l-4-2-1-3 3-3 4-1 3 2 1 5-3 2zM416 1l9-1 2-2 1-2-4-2-10 0-3 2 0 2 2 2zM666-1l4-1 4-3 2-4-1-3-6-1-5 2-1 5 1 4zM667-3l-2-1-1-2 0-4 4-2 5 0 2 3-1 3-3 2zM278-14l15-4 13 2 7-2 18-3 6-3 2-3 0-3-1-7-3-4-8-6 0-3 2-7 5-5 3-1 9 1 3-2 1-9-2-5-2 0-2 0-7 8-5 1-16-1-10-5-6-6-3-1-6-1-5 3-2 3-4 11-2 12-3 2-9 2-9 5-3 4-5 10 1 4 4 5 14 3zM276-17l-19-7-3-3-1-5 3-8 5-5 7-4 10 0 4-3 1-5-1-6 0-3 2-9 3-4 4-2 5 0 4 2 5 6 10 7 10 0 3 1 0 3-6 13 0 2 1 2 9 5 3 3 2 7-2 5-4 2-9 2-17 2-10-1-15 3zM342-66l-1-2 0-2 3-3 2-1 1 2 0 5-2 1zM366-17l1 0 2-2 2-10 4-10 0-4 0-4-2-3-3-3-4-1-3 1-3 4-2 6-1 7 2 9zM364-24l-4-6-1-11 3-8 2-2 3-1 3 2 2 2 1 3 1 4-7 16-1 2zM454-21l21-1 4-2 0-4-3-3-7-2-9-1-8 1-3 2-1 3 2 4zM456-22l-4-2-2-3 1-3 3-2 8 0 8 0 5 2 2 3-1 3-3 1zM127-25l4 1 4-1 4-2 3-3 0-3 0-4-4-5-3-2-4 1-4 2-2 3-2 5 0 4 1 3zM127-26l-2-2-1-2 0-4 2-4 5-4 3 0 3 1 2 2 1 3 0 6-3 3-3 1zM656-27l3 0 3-3 0-3-2-2-5 1-3 2 1 3zM626-47l11 0 3-1 2-3 2-4-1-3-3-3-4-2-11 0-4 1-11 5-7 0-7-2-2 1-1 2 0 2 1 1 6 1 6 4 8-1zM623-48l-6-2-5-3 1-3 6-5 6-2 8 1 6 2 3 3 0 5-4 4-5 1zM445-53l7-1 7 1 4 0 4-3 1-4-2-2-3-2-15-1-3 2-3 6 0 2zM457-54l-5-4-4 1-2 0 0-3 3-2 3 1 7-2 5 1 2 3-1 3-3 2zM299-56l8 0 2 0 1-2-2-1-9 2-1 0zM409-63l6-1 5-2 7-10 19-11 4-4 2-4-1-6-2-4-5-5-5-2-15 0-15-4-12 0-5 1-5 3-6 3-4 4-2 6 1 4 9 3 3 2 2 3 1 5 8 7 0 6 2 3 3 2zM406-65l-4-3-2-7-7-7-2-6-2-2-11-6-1-5 3-5 11-7 9-2 10 0 13 4 14 0 7 3 4 5 2 4 0 5-2 4-23 14-4 7-3 2-6 2zM598-73l9-1 8-3 3-4-1-4-4-3-12-4-6 1-6 3-6 5 0 4 6 4zM599-74l-8-2-5-4 0-4 5-4 4-2 5 0 11 3 5 3-1 4-3 3-6 2zM348-84l4-2 0-3-1-4-4-2-3 2-1 3 1 4zM347-87l-2-2 0-2 1-1 2 0 1 1 1 3-1 1zM633-87l4-1 1-4-2-3-4-2-3 2-1 4 2 3zM632-88l-3-2 0-3 2-3 3 0 3 2 1 3-3 3zM369-113l3 0 1-3-2-2-4 0-2 2 2 2zM616-116l5 0 2-1-2-1-4-1-2 1-1 1z"/><path fill="#ffc700" fill-rule="evenodd" d="M183 126l8 0 6-3 2-4-1-5-3-1-11 0-5 0-4 2-2 3 1 4 4 3zM181 125l-4-2-2-2 0-3 2-3 5-1 7 0 5 1 2 2 1 4-3 3-7 1zM293 124l7 0 5-2 2-2 0-3-3-3-5-2-6 0-6 1-3 3 0 3 3 3zM292 123l-4-1-3-3 1-3 2-2 5-1 5 0 5 2 2 2 0 3-2 2-6 1zM342 106l3 0 3-2 0-4-2-3-4 0-4 3-1 2 1 2zM342 104l-1-1-1-2 2-2 2 0 1 1 1 3-2 1zM622 96l4 0 2-2 0-3-2-3-3 0-3 2 0 4zM624 96l-3-1-1-3 1-2 3-1 3 1 1 2-2 3zM140 89l4 0 4-1 2-3-1-3-5-3-6 1-2 2 0 3 1 2zM141 88l-3-3 0-2 1-2 4-1 5 2 1 3-2 2-3 1zM198 89l3 1 2-2 0-3-2-2-2 0-2 2 0 2zM199 88l-1-3 3 0 1 1-1 2zM82 86l7-1 4-5 1-6-3-4-4-2-5 0-4 2-3 3-1 4 1 4 3 4zM82 85l-4-2-2-2-1-3 1-4 3-3 3-1 4-1 4 2 2 1 1 3-1 5-4 4zM272 86l4 0 5-2 4-3 0-3-3-3-4-1-4 0-4 1-3 3 0 3 1 3zM273 85l-2-1-2-2 0-3 1-2 6-2 6 2 1 2-1 3-4 2zM169 85l2 0 1-1-2 0zM44 84l11 0 3-1 1-2-2-2-3-1-11 0-3 1-1 2 2 2zM43 83l-2-1 0-2 4-2 8 1 4 2-1 2-4 1zM384 82l2 0 3-2 0-3-2-2-4 0-2 2 0 3zM676 82l4-1 2-3 0-4-3-2-4 0-3 3 0 4zM676 80l-3-2 1-3 2-1 3 0 2 2-1 2-2 2zM467 80l6 0 4-3 1-5-3-4-3-1-4 0-6 2-3 3-1 3 2 2zM466 77l-3-3 2-3 4-2 4 1 0 3-1 4-3 1zM617 80l4 0 2-2 0-4-3-3-3 0-3 3 0 4zM616 79l-1-3 1-3 3-1 3 1 1 3-1 3-3 1zM636 69l3 0 3-3 4-11-1-6-3-3-3-1-3 0-2 1-3 4-2 5 2 9 2 3zM635 67l-4-6-1-7 4-6 2-1 3-1 3 2 2 3 0 7-2 5-2 3-3 2zM171 65l3 0 2-3-1-4-3-1-3 1-1 2 0 3zM171 64l-2-2 0-2 1-2 3 0 2 2 0 2-2 2zM126 59l7 0 4-3 1-5-2-3-2-2-5-2-5 0-4 2-6 5-1 2 1 2zM126 57l-3-3-2-4 3-3 6 0 4 3 1 4-3 3zM566 57l3 0 3-1 3-4 1-4-2-15-2-4-3-2-3 1-2 1-2 4-1 4 1 15 1 3zM565 55l-3-5 0-12 2-7 4-2 3 1 2 3 1 8 1 7-1 4-3 3-3 1zM347 44l9 1 5-1 5-4 1-3-1-2-2-2-3-1-10-1-9-3-4 0-2 3-3 1-2 2-1 3 1 3 4 3zM351 43l-14-3-3-2 0-2 6-6 21 3 3 3 0 3-1 2-5 2zM-7 38l4 1 10-1 5-2 4-4 1-3 0-3-1-4-5-4-6-3-7 0-5 3-3 3-2 5 1 8zM-7 37l-3-3-1-6 1-5 3-4 5-2 7 1 5 2 3 3 2 3 0 3-2 3-3 3-12 3zM713 38l4 1 11-1 4-2 0-3-4 3-9 2-6-1-3-3-1-5 0-5 3-4 4-3 6 0 6 1 4 3 0-3-5-2-6-1-6 1-4 3-3 5 0 5 1 6zM467 36l13 0 12-1 10 1 17-3 3-2 0-2-1-2-5-4-3-6-3-2-19-4-5 0-11 4-10 7-6 1-3 1 0 3 3 5 4 3zM475 33l-7-2-3-3 8-10 7-4 7-1 6 0 13 4 3 4 0 6-7 4-18 3zM165 29l5 0 5-1 3-3 1-3-3-2-6-2-5 0-6 2-2 2 0 3 3 3zM164 28l-4-2-2-2 1-2 3-2 8-1 4 1 3 2-1 3-3 2-4 1zM199 16l3 1 3-1 1-3-2-3-3-1-3 2-1 3zM201 16l-2-1-1-2 1-2 3-1 2 1 1 3-2 2zM287 2l4 0 2-2-1-5-3-2-4 1-3 3 1 3zM668-3l4-1 3-3 0-3-2-2-5 0-4 3 0 4zM666-5l-1-2 1-3 4-1 3 1 0 3-2 2-2 1zM277-17l18-3 10 1 17-2 9-2 4-2 2-5-2-7-3-3-9-5-1-2 0-2 6-13 0-3-3-1-10 0-10-7-5-6-4-2-5 0-4 2-3 4-2 9 0 3 1 6-1 5-4 3-10 0-7 4-5 5-3 8 1 5 3 3zM276-19l-17-6-3-4 1-6 3-5 6-5 4-1 10 1 9-6 14 1 6 2 20 9 3 3 2 4 0 3-2 3-2 2-5 2-16 1-13-1zM299-56l-1-1 10-2 2 1-1 2-2 0zM300-64l-3-2-8 0-2-2-1-5 2-4 3-2 3 0 5 3 3 6 4 4-2 2zM457-22l16-1 3-1 1-3-2-3-5-2-8 0-8 0-3 2-1 3 3 4zM455-25l-2-3 3-2 6 1 7 0 3 1 1 1 0 1-3 1-7-1-5 2zM364-24l2 1 1-2 7-16-1-4-1-3-2-2-3-2-3 1-2 2-3 8 1 11 1 3zM363-37l-1-4 1-5 2-2 3-1 3 4 0 5-3 3-4 1zM128-26l7 0 5-4 0-6-1-3-2-2-3-1-3 0-3 2-2 3-2 7 2 3zM129-27l-3-3 1-6 4-4 5 0 2 4 0 6-4 3zM624-48l9 1 5-1 4-4 0-5-3-3-6-2-8-1-6 2-6 5-1 3 5 3zM623-49l-5-2-3-3 1-3 5-3 6-2 6 0 5 2 3 3 0 4-4 4-6 1zM458-54l4 0 4-3 0-3-2-2-5-1-7 2-3-1-3 2 0 3 2 0 4-1zM457-56l-1-2 1-2 3-1 4 1 0 2-3 2-2 1zM406-65l6 0 6-2 3-2 4-7 23-14 2-4 0-5-2-4-4-5-7-3-14 0-13-4-10 0-9 2-11 7-3 5 1 5 11 6 2 2 2 6 7 7 2 7zM407-67l-3-2-3-7-7-6-3-8-11-7 0-4 3-5 9-6 9-2 9 0 13 3 12 1 7 3 4 4 2 4 0 4-2 4-22 14-7 8-5 2zM343-66l3 0 1-1 0-5-1-2-2 1-3 3 0 3zM599-74l7-1 6-2 3-3 1-4-5-3-11-3-5 0-4 2-5 4 0 4 5 4zM595-76l-6-3-1-3 1-3 5-3 4 0 10 1 4 2 2 2-2 4-4 3-6 1zM347-87l2 0 1-2-1-3-2-1-2 3zM632-88l3 0 3-3-1-3-4-2-3 1-1 3 1 3zM632-89l-2-2 0-2 1-1 2-1 3 2 0 2-1 2z"/><path fill="#ff8500" fill-rule="evenodd" d="M182 125l6 0 6-1 3-3-1-4-2-2-5-1-7 0-5 1-2 3 0 3 3 3zM181 124l-4-2-1-2 0-2 3-2 4-1 6 0 4 1 2 2 0 3-3 3-5 1zM292 123l5 0 6-1 2-2 0-3-2-2-5-2-5 0-5 1-2 2-1 3 3 3zM292 122l-4-2-1-2 1-2 2-2 8 0 3 1 2 2 1 2-2 2-5 1zM342 104l2 0 2-1-1-3-1-1-2 0-2 2 1 2zM624 96l2-1 2-3-1-2-3-1-3 1-1 3 1 2zM622 94l0-3 2-1 2 1 0 3-2 1zM141 88l3 0 3-1 2-2-1-3-5-2-4 1-1 2 0 2 1 2zM141 86l-1-1 0-2 1-1 2 0 2 1 0 2-1 1zM199 88l2 0 1-1-1-2-1-1-2 2zM82 85l6-1 4-4 1-5-1-3-2-1-4-2-4 1-3 1-3 3-1 4 1 3 2 2zM80 83l-2-2-1-3 0-3 2-3 3-1 3 0 6 2 1 4-3 5-5 2zM274 85l4-1 4-2 1-3-1-2-6-2-6 2-1 2 0 3 2 2zM273 82l-1-2 1-2 4 0 2 1-3 3zM43 83l10 1 3-1 1-2-4-2-8-1-4 2 0 2zM44 82l0-1 0-1 3-1 5 1 3 1-1 1-3 1zM676 80l2 0 2-2 1-2-2-2-3 0-2 1-1 3zM617 79l4 0 2-2 0-3-3-2-3 0-2 2 0 3zM619 79l-2-1-1-2 1-3 2 0 2 1 1 2-1 2zM466 77l3 1 3-1 1-5-1-3-4 0-3 2-2 4zM635 67l3 1 2-2 2-3 2-5 0-7-2-3-3-2-3 1-2 1-4 6 1 7zM635 65l-3-5-1-6 4-5 4-1 2 1 2 3 0 7-2 4-2 2-2 1zM171 64l2 0 2-2 0-2-2-2-3 0-1 2 0 2zM127 57l5 0 2-2 1-2-2-4-5-2-4 0-3 3 2 4zM566 55l3 1 3-2 2-3 1-4-2-14-2-3-3-1-4 2-2 7 0 12 2 4zM567 54l-2-1-1-3-1-10 1-6 2-3 2 0 2 1 2 3 2 12-1 3-2 3zM351 43l7 0 5-2 1-2 0-3-3-3-21-3-6 6 0 2 3 2zM353 42l-12-4-1-1 0-3 4-1 12 1 4 1 2 3 0 2-4 2zM-7 37l5 1 12-3 3-3 2-3 0-3-2-3-3-3-5-2-7-1-5 2-3 4-1 5 1 6zM-6 36l-3-3-1-5 1-5 3-3 3-1 5 0 5 2 4 3 1 4-3 5-10 4zM713 37l6 1 9-2 3-2 1-1 0-12-4-3-5-1-6 0-4 2-3 4-1 5 1 6zM714 36l-3-3-1-5 1-5 3-3 3-1 5 0 5 2 4 3 1 4-3 5-10 4zM476 33l8 1 18-3 7-4 0-6-3-4-13-4-6 0-7 1-7 4-8 10 3 3zM482 32l-7-2-3-2-1-2 2-5 5-4 7-3 6 0 10 4 3 3 0 2-1 3-5 4-7 1zM165 28l5 0 4-1 3-3 0-2-3-2-4-1-8 1-3 2 0 3 2 2zM163 26l-2-1 0-2 4-2 6 0 3 2 0 2-4 2zM201 16l2 0 2-2-1-3-2-1-3 1-1 2 1 2zM667-5l3 0 2-1 1-2 0-2-3-1-4 1-1 3zM668-7l0-1 2 0 0 1zM277-19l19-3 13 1 16-1 5-2 2-2 2-3 0-3-2-4-3-3-20-9-6-2-14-1-9 6-10-1-4 1-6 5-3 5-1 6 3 4 4 2zM275-21l-13-4-3-4 0-3 1-4 4-3 5-3 13 2 9-5 11-1 23 7 4 3 2 4 0 3-2 3-7 3-14 1-12-3-14 4zM455-25l3 1 5-2 7 1 3-1 0-1-1-1-3-1-7 0-6-1-3 2 1 2zM130-27l5-1 3-3 0-6-3-3-5 0-4 5 0 5 1 2zM129-30l-1-2 1-3 2-2 2 0 1 6-2 2zM363-37l5 0 3-3 0-5-3-4-3 1-3 3 0 4zM623-49l8 1 6-1 4-4 0-4-3-3-5-2-6 0-6 2-5 3-1 3 3 3zM623-50l-4-2-2-3 2-3 4-2 5-1 6 1 3 1 3 3-1 4-4 2-6 1zM458-56l4 0 2-2 0-2-4-1-3 1-1 2zM301-64l3 0 2-2-4-4-3-6-5-3-3 0-3 2-2 4 1 5 2 2 8 0zM290-72l0-1 1-1 2 1 1 1-2 1zM408-67l5 0 4-2 7-8 22-14 2-4 0-4-2-4-4-4-7-3-12-1-13-3-9 0-10 2-9 7-2 4 0 4 11 7 3 8 8 7 3 7zM410-72l-5-2-9-8-1-2-2-5-2-3-9-5 0-4 2-4 3-3 6-3 10-2 30 4 7 3 4 4 2 4 0 3-2 3-20 13-8 7-3 1zM596-76l7 1 6-2 4-3 0-4-3-2-5-2-8 0-5 1-4 3 0 3 3 3zM598-77l-5-2-2-2 0-2 2-2 4-1 8 0 4 1 2 2-1 3-2 2-5 1zM632-89l3 0 1-2 0-2-3-2-2 1-1 1 0 2z"/><path fill="#ff3d00" fill-rule="evenodd" d="M181 124l6 1 5-1 3-3 0-3-2-2-4-1-6 0-4 1-3 2 0 2 1 2zM181 123l-2-2-1-2 3-3 8 0 3 1 1 2 0 2-2 2-5 1zM292 122l5 0 5-1 2-2-1-2-2-2-3-1-8 0-2 2-1 2 1 2zM295 121l-4-1-2-1 0-2 5-2 5 1 2 2 0 1zM623 94l3 0 0-2-1-2-3 1 0 2zM142 86l2 0 1-1 0-2-2-1-2 0-1 1 0 2zM80 83l5 1 4-2 3-5-1-4-6-2-3 0-3 1-2 3 0 3 1 3zM81 82l-2-3 0-3 1-2 4-2 5 2 1 3-1 3-4 2zM45 82l6 1 3-1 1-1-3-1-5-1-3 1 0 1zM273 82l3 0 3-3-3-1-3 0-1 2zM619 79l2-1 1-3-2-2-2 0-2 1 0 2 1 2zM618 77l0-2 2 0 0 2zM635 65l3 1 2-2 3-6 0-6-2-3-2-1-4 1-4 5 1 6zM635 63l-2-4 0-5 2-3 4-1 3 3 0 6-3 4-2 1zM567 54l4-1 2-3 1-3-2-12-2-3-2-1-2 0-2 3-1 6 1 10 1 3zM567 52l-2-3 0-6 1-7 2-2 2 2 2 11-1 4zM354 42l4 0 4-2 0-2-2-3-4-1-12-1-4 1 0 3 1 1zM352 40l-5-2-1-2 6-1 5 2 1 2 0 1zM-6 36l5 1 10-4 3-5-1-4-4-3-5-2-5 0-3 1-3 3-1 5 1 5zM-5 35l-3-2-1-3 1-6 1-2 3-2 6 1 4 4 1 3-1 2-6 5zM714 36l5 1 10-4 3-5-1-4-4-3-5-2-5 0-3 1-3 3-1 5 1 5zM715 35l-3-2-1-3 1-6 1-2 3-2 6 1 4 4 1 3-1 2-6 5zM482 32l11-1 6-2 4-4 1-4-3-3-10-4-6 0-7 3-5 4-2 5 1 2 3 2zM481 30l-5-2-2-3 2-4 5-4 5-1 5 0 5 2 4 3 0 4-4 3-7 2zM163 26l4 1 4-1 3-1 0-2-3-2-6 0-4 2 0 2zM668-7l2 0 0-1-2 0zM275-21l8 0 13-4 12 3 14-1 7-3 2-3 0-3-2-4-4-3-23-7-11 1-9 5-13-2-5 3-4 3-1 4 0 3 3 4zM273-23l-8-3-4-3 0-4 4-4 4-2 5 0 13 3 3 2 1 6-2 3-8 2zM306-24l-4-2-1-3 1-7 3-3 6-1 8 1 6 3 3 3 0 4-4 4-8 2zM130-30l2 1 2-2-1-6-2 0-2 2-1 3zM623-50l7 1 6-1 3-3 1-3-3-3-3-1-6-1-5 1-4 2-2 3 2 3zM628-50l-5-1-3-2 0-3 2-2 3-2 5 0 5 1 3 2 0 3-1 2-4 2zM290-72l2 1 2-1-1-1-2-1-1 1zM411-72l5 0 8-7 20-13 2-3 0-3-2-4-4-4-7-3-30-4-10 2-6 3-3 3-2 4 0 4 10 6 4 9 9 8zM409-75l-5-2-7-6-3-8-9-6-1-4 2-4 8-5 8-1 27 3 6 2 7 8-1 4-24 19-3 1zM599-77l5 0 4-1 2-2 1-3-2-2-4-1-8 0-4 1-2 2 0 2 3 2zM603-81l1-1 2 0-1 2z"/><path fill="#f50000" fill-rule="evenodd" d="M182 123l5 1 4-1 2-2 0-2-1-2-3-1-8 0-3 2 0 2zM184 122l-3-2 1-2 5-1 4 2 0 2-2 1zM295 121l6-2 0-1-2-2-5-1-5 2 0 2 2 1zM82 82l4 0 3-2 1-4-2-3-5-1-4 3 0 4 1 2zM82 79l-1-2 1-2 3-1 2 1 1 2-2 2-2 1zM618 77l2 0 0-2-2 0zM636 64l2 0 2-2 2-5-1-5-3-2-4 1-2 4 1 5zM637 61l-2-2-1-3 1-3 3-1 2 1 1 4-2 3zM568 52l3-1 1-5-2-10-2-2-2 1-1 2 0 8 0 5zM353 40l5 0 0-2-2-2-5-1-5 1 1 2zM-5 35l3 1 3-1 3-3 2-3 1-2-2-3-4-3-3-1-3 0-3 4-1 3 0 4 2 3zM-4 34l-3-3-1-5 3-4 4-1 3 3 1 6-3 4zM715 35l3 1 3-1 3-3 2-3 1-2-2-3-4-3-3-1-3 0-3 4-1 3 0 4 2 3zM716 34l-3-3-1-5 3-4 4-1 3 3 1 6-3 4zM481 30l8 0 7-2 4-3 0-4-4-3-5-2-5 0-5 1-5 4-2 4 2 3zM482 28l-3-2-1-2 2-3 4-3 4-1 4 1 4 2 1 2 0 3-4 2-5 1zM274-23l7 0 8-2 2-4-2-6-3-2-13-2-5 1-4 2-3 4 1 4 4 3zM274-25l-6-2-4-3 1-3 3-3 4-1 5 1 6 2 3 3 0 3-2 2-5 1zM306-24l10 1 8-2 4-4 0-4-3-3-6-3-8-1-6 1-3 3-1 7 1 3zM309-25l-3-1-2-3 1-5 3-3 5-1 5 1 4 1 3 3 0 4-3 3-5 1zM629-50l5-1 3-1 1-3-1-3-4-2-5 0-5 1-3 2 0 3 1 2zM624-52l-1-1-1-2 1-2 2-1 7-1 4 3 0 2-2 2-5 1zM410-75l4 1 4-2 23-18 1-4-7-8-6-2-27-3-9 1-7 5-2 5 1 3 9 6 2 6 2 3 7 5zM408-77l-3-2-6-6-3-7-9-6 0-3 1-3 6-4 7-2 22 3 6 2 1 2 2 7-2 5-13 14-4 1zM603-81l2 1 1-2-2 0zM406-90l2-1 0-1-2-3-2 2z"/><path fill="#990000" fill-rule="evenodd" d="M184 122l5 0 2-1 0-2-4-2-5 1-1 2zM82 79l2 1 2-1 2-2-1-2-2-1-3 1-1 2zM637 61l2-1 2-3-1-4-2-1-3 1-1 3 1 3zM-4 34l3 0 2-1 2-4-1-5-2-2-2-1-4 2-2 3 1 5zM716 34l3 0 2-1 2-4-1-5-2-2-2-1-4 2-2 3 1 5zM483 28l6 0 5-1 3-2 0-3-1-2-4-2-4-1-4 1-4 3-2 3 2 3zM274-25l5 0 5-1 2-2 0-3-3-3-6-2-5-1-4 1-3 3-1 3 4 3zM310-25l7 0 5-1 3-3 0-4-3-3-4-1-5-1-5 1-3 3-1 5 2 3zM625-52l5 1 4-1 2-2 0-2-2-2-3-1-7 1-2 3 1 2zM409-77l4 1 4-1 12-13 3-5-2-9-3-2-4-1-19-2-7 0-5 2-5 4-1 3 1 2 9 6 4 8 5 5zM405-91l0-3 2 0 1 1 0 2z"/></g></g></g>
<filter id="blur1" x="-0.05" y="-0.05" width="1.1" height="1.1"><feGaussianBlur stdDeviation="0.6"/></filter>
<g id="f2"><g filter="url(#blur2)"><g transform="scale(0.5)"><path fill="#00008f" fill-rule="evenodd" d="M274-12l5 0 5-1 4-3 2-3-4-3-6-2-7 0-7 2-3 3 1 3 4 2z"/><path fill="#0000d4" fill-rule="evenodd" d="M272-11l6 0 5-1 8-4 3-3-4-3-10-3-7 0-8 2-4 3 0 3 4 4zM274-12l-7-2-4-3 0-3 3-2 8-2 6 0 6 2 4 3-2 3-4 3-5 1zM333-18l2 1 3-1 2-3-3-1-4 1-1 1zM389-21l5 0-4-1-2 0z"/><path fill="#001aff" fill-rule="evenodd" d="M671 8l3 1 3-1 2-2 0-2-3-1-5 0-2 3zM271-10l9 0 14-5 15-2 21 3 8 0 17-3 7-3-1-1-3-1-19-3-12 0-10-1-11 2-9 1-17-3-8 0-10 3-3 2-1 2 1 3 2 2zM272-11l-7-2-4-4 0-3 4-3 8-2 7 0 10 3 4 3-3 3-8 4-5 1zM332-18l0-3 2-1 4 0 2 1-1 2-2 1-3 1zM386-19l11 1 6-2 2-2-1-1-3-1-10-2-6 0-5 2-3 2zM388-21l0-1 2 0 4 1zM635-20l3-1 1-2-1-2-3-1-3 1 0 2 1 2zM439-25l2 0 1-2-2-3-2 1-1 1z"/><path fill="#005fff" fill-rule="evenodd" d="M577 122l5 0 2-2-3-2-3 0-3 2zM144 94l3 0 0-2-2-1-2 1 0 2zM88 85l2 0 0-1 0-2-1-1-2 1 0 2zM674 10l6-2 2-3-1-2-3-1-4-1-4 1-2 2-1 2 1 2zM671 8l-2-1 0-2 2-2 6 0 2 2 0 2-2 1-3 1zM192-3l3 0 2-3-1-3-4-2-2 1-1 3 1 3zM270-9l9 1 15-5 13-1 28 2 19-2 21-4 21 1 10-2 3-2 1-2-1-2-4-2-13-1-27 4-26-3-22 0-21 2-23-2-12 3-3 2-2 3 1 3 3 3zM270-10l-9-4-2-2-1-3 1-2 3-2 10-3 8 0 17 3 9-1 11-2 10 1 12 0 19 3 3 1 1 1-7 3-17 3-8 0-21-3-15 2-14 5zM385-19l-8-3 3-2 6-2 15 2 3 1 1 1-2 2-7 2zM503-12l2 0 0-2-2 0-1 1zM634-19l4 0 2-3 0-4-2-2-4 0-3 3 0 4zM635-20l-3-2 0-2 2-2 2 0 2 1 1 3-2 2zM438-24l3 0 3-2-1-3-2-2-3 0-2 2 0 3zM439-25l-2-3 1-1 2-1 2 3-1 2zM332-46l3 1 3-2 1-2-1-2-3-1-4 1-1 3zM396-60l3 0 1-1 0-2-3-1-2 1-1 2zM646-100l11-2 3-1 2-2-2-2-10-3-7 0-4 2-1 3 3 4z"/><path fill="#00a3ff" fill-rule="evenodd" d="M576 123l4 1 4-1 2-2 0-2-4-2-7 0-3 3 1 2zM577 122l-2-2 3-2 3 0 3 2-2 2zM143 95l4 0 2-3-3-2-3 1-2 2zM143 94l0-1 1-2 3 1 0 2zM88 87l2 0 2-3-1-4-2-1-2 0-2 3 1 3zM87 85l0-3 2-1 1 1 0 3zM320 27l5-1 2-2 0-1-4-2-5 1-1 1 0 2zM674 11l5-1 3-2 1-3-2-3-3-2-4 0-4 1-3 2-2 3 1 2 3 2zM673 10l-4-1-2-2 0-2 2-2 6-2 6 2 1 2-2 3-3 2zM192-1l5-1 2-5-2-4-5-1-3 1-2 4 2 4zM191-3l-2-2 0-3 1-2 3-1 3 3 1 3-2 2zM269-8l10 1 12-4 7-1 12-1 26 2 19-2 22-4 20 1 13-3 3-2 2-3-2-2-3-2-8-1-15 0-22 3-27-3-21 0-19 3-26-2-12 3-4 2-2 3 1 3 3 4 5 3zM270-9l-6-2-5-3-2-3 0-3 2-3 3-2 11-2 23 2 21-2 22 0 26 3 27-4 13 1 4 2 1 2-1 2-3 2-10 2-21-1-21 4-19 2-28-2-13 1-15 5zM148-8l2 0 2-1 1-2-1-2-3 0-2 1 0 2zM503-11l2 0 1-1 0-2-1-1-2 0-1 1-1 2zM502-12l1-2 2 0 0 2zM632-18l5 1 4-3 1-5-2-4-2-1-3 0-5 4-1 4 0 2zM633-19l-3-3 1-3 3-3 5 0 1 3 0 4-3 2zM438-23l4 0 3-3-1-4-3-2-4 0-2 3 0 4zM438-24l-2-2 0-3 2-2 4 0 2 3-1 3-2 1zM332-44l4 0 4-2 2-3 0-3-6-2-6 1-2 2 0 3 1 2zM332-46l-2-3 1-2 4-1 3 1 1 3-2 2-3 1zM298-50l3 1 4-1 2-2 1-3-4-2-6 1-2 3 0 2zM389-56l8 0 4-1 4-3 0-3-3-3-5-1-5 0-7 2-5 3 0 3 3 2zM395-60l-1-2 2-2 3 1 1 1-1 2zM645-98l19-3 3-1 1-3-2-3-4-2-16-3-4 0-8 5-1 3 6 5zM645-100l-5-2-2-3 1-3 4-2 7 0 10 3 2 2-2 2-3 1z"/><path fill="#00e5ff" fill-rule="evenodd" d="M576 124l5 1 3-1 3-2 1-3-2-2-4-1-9 1-2 2 0 2 2 2zM575 123l-2-1-1-2 2-2 2-1 7 0 2 1 1 2 0 2-3 1-4 1zM528 119l3 0 2-2 2-3-1-2-5-1-4 1-1 2 1 2zM415 108l1 0 0-1-1 0zM325 100l2 1 3 0 3-1 1-2-3-1-4-1-2 2zM143 96l3 0 3-1 1-2-1-2-3-2-4 1-2 3 1 2zM143 95l-2-2 2-2 3-1 3 2-1 2-1 1zM605 91l2-1-2-2-1 1zM88 88l3-1 2-3-1-4-3-2-3 1-1 3 0 4zM88 87l-2-2-1-3 2-3 2 0 2 1 1 4-2 3zM693 57l6 0 4-4 1-4-3-4-6-1-3 1-3 3-1 3 1 3zM76 54l3-1 0-2-1-2-2-1-2 1-1 2 1 2zM125 38l4 0 3-4-1-4-4-3-6 1-2 3 1 4zM318 29l5 1 7-2 2-2 0-3-3-3-3-1-11 1-2 2 0 2 2 3zM319 27l-2-2 0-2 1-1 5-1 4 2 0 1-2 2-3 1zM669 11l6 1 6-2 3-3 0-4-3-3-4-1-5 0-4 2-3 2-1 3 1 3zM673 11l-4-1-3-2 0-3 1-2 3-2 5-1 5 1 2 2 1 3-2 3-3 1zM191 0l3 1 3-1 3-4 0-5-4-4-6 0-4 3 0 3 0 3 2 2zM192-1l-4-3 0-5 2-3 5 0 3 3 0 5-2 3zM147-6l4 1 4-3 1-4-2-3-5-1-4 2-1 4 1 2zM147-9l0-2 1-2 3 0 1 1 0 2-1 1-2 1zM275-6l6 0 10-4 5-1 13 0 27 1 19-2 22-4 14 1 7 0 16-4 3-2 2-3-1-2-4-2-11-3-17 0-20 3-12-1-16-3-11 2-10 0-16 2-29-2-10 2-6 3-3 3-1 4 2 4 6 4 7 3zM269-8l-6-2-5-3-3-4-1-3 2-3 4-2 12-3 26 2 19-3 21 0 27 3 22-3 15 0 8 1 3 2 2 2-2 3-3 2-13 3-20-1-22 4-19 2-26-2-12 1-7 1-12 4zM503-10l2 0 2-2 0-2-1-1-3-1-2 2 0 3zM502-11l-1-2 1-1 2-1 2 1 0 3-2 1zM632-16l6-1 4-3 1-7-1-3-2-1-3-1-3 1-3 2-3 4-1 3 1 3zM632-18l-3-4 1-4 5-4 3 0 2 1 2 4-1 5-5 3zM438-22l5 0 3-4-1-4-4-3-5 1-2 3 0 4zM437-23l-2-3 0-4 3-2 4 0 3 3-1 4-3 3zM464-32l3 1 2-3 0-3-2-2-3 0-2 2 0 3zM339-40l10 0 8-2 2-2 10-16-1-2-2-4-4-3-6 0-9 7-15 4-6 3-1-1-6-8-8-3-3 0-3 2-3 5-6 4-2 3 0 3 2 2 11 1 3 2 3 1 5-2 6-4 2 4 3 3 4 2zM332-44l-3-2-1-2 0-3 2-2 6-1 6 2 0 3-2 3-4 2zM298-50l-2-3 3-3 5-1 4 2-1 3-2 2-4 1zM383-55l12 1 6-1 5-3 1-2 1-3-3-4-5-2-7 0-6 1-9 4-3 3 0 2 2 2zM389-56l-6-1-3-2 0-3 5-3 7-2 5 0 5 1 3 3 0 3-4 3-4 1zM642-97l6 1 18-2 5-3 1-4-2-3-5-4-11-3-2-3 3-6-3-2-2 0-7 4-6 7-3 2-4 1-8-3-2 1-1 2 0 4 2 4 10 2zM645-98l-6-2-6-5 1-3 8-5 4 0 16 3 4 2 2 3-1 3-3 1z"/><path fill="#00fcd0" fill-rule="evenodd" d="M575 125l5 1 5-1 4-3 0-3-2-2-5-2-6 0-6 1-2 2 0 3 2 2zM575 124l-4-3 0-2 2-2 9-1 4 1 2 2-1 3-3 2-4 1zM529 124l5-1 6-7 0-5-3-3-20-5-13 4-4 3 0 4 3 2 3 1 11-1 4 3 4 4zM528 119l-3-3-1-2 1-2 4-1 5 1 1 2-2 3-2 2zM151 123l5 0-3-1zM269 123l6 0 2-2 1-2-3-1-5 1-2 2zM412 115l5 1 4-2 3-4 1-4-3-2-6-2-4 0-3 2-2 2-1 3 2 4zM415 108l0-1 1 0 0 1zM184 107l3 0 4-2 1-1 0-2-3-1-3 1-2 2zM323 106l14-2 4-2 4-6 1-3-1-2-2-2-3 0-14 3-7 3-2 3 1 5 2 2zM325 100l0-2 2-2 4 1 3 1-1 2-3 1-3 0zM144 97l4-1 3-2 0-3-3-4-6 1-3 3 1 4zM143 96l-3-3 2-3 4-1 3 2 1 2-1 2-3 1zM604 92l2 1 2-2 0-3-3-2-2 1-1 2zM604 91l0-2 1-1 2 2-1 1zM88 89l4-1 2-4-2-5-3-3-4 2-1 4 1 5zM87 88l-2-2 0-4 1-3 3-1 3 2 1 4-2 3zM626 86l18-2 1 0 1-2-2-4-2-2-7-1-4 3zM139 80l3-2 0-3-3 1-1 2zM468 62l3-1 1-3-4-14-1-2-2 0-6 1-8-1-3 1-2 2-1 5 3 5 3 1 7-3 3 0 2 2 2 5zM381 60l2 0 0-1-1-4-3-4-2-1-2 2 1 4zM690 60l4 1 5-1 4-1 3-3 2-3 0-4-1-3-2-3-5-2-5 0-5 2-4 3-1 3 0 4 1 4zM692 57l-3-2-1-3 2-5 3-2 3-1 3 0 3 2 2 4-2 5-5 2zM76 56l4-1 1-4-1-3-4-2-3 1-2 4 2 4zM75 54l-2-2 0-2 2-2 2 0 2 2 0 2-1 2zM124 52l3 0 3-1 3-4 1-4 1-9 0-4-3-4-4-2-7 1-6 4-1 4 4 7-7 5 1 3 2 2zM124 38l-4-3-1-4 3-3 5-1 4 3 1 4-3 4zM317 31l6 1 9-2 4-3 0-3-4-5-5-3-15 2-2 2 0 4 3 4zM317 29l-2-2-2-3 0-2 3-2 10-1 3 1 3 3 0 3-3 2-7 2zM526 30l2 1 3-2 1-2-1-2-2-1-2 1-2 3zM673 13l6-1 6-3 1-4-1-4-5-2-6-1-6 1-4 3-2 4 1 4 4 2zM668 11l-3-2-1-3 1-3 3-2 4-2 5 0 4 1 3 3 0 4-3 3-6 2zM190 2l3 1 4-1 2-2 2-4 1-4-1-3-5-4-8 1-4 4 0 4 1 3 2 3zM190 0l-4-4 0-3 0-3 4-3 6 0 4 4 0 3-1 3-1 2-3 1zM147-4l5 0 5-3 1-6-2-4-3-1-4-1-3 1-3 3-2 3 1 3 2 3zM147-6l-3-4 1-4 4-2 5 1 2 3-1 4-4 3zM273-5l8 1 10-4 5-1 41 0 18-2 23-4 13 1 7 0 22-5 4-2 1-3-1-2-4-2-13-4-21 0-18 2-11-1-3-1-1-1 8-2 3-2 3-5 3-10 2-2 26 2 5-2 4-2 4-4 0-4-3-4-5-3-5-1-5 0-19 6-3-1-5-4-14-4-7 8-7 2-5-2-4-4-3-2-21-2-4 2-4 11-3 3-9 3-9 1-4 2 6 4 3 8 5 5 4 0 8-5 3-1 12 6 1 1-1 2-5 2-7 1-20-3-4-2 0-2-5-1-3-1-4-6-1 0-2 3 0 3 9 5 0 1-17 6-5 6 0 4 3 6 13 4zM275-6l-8-1-7-3-6-4-2-4 1-4 3-3 6-3 10-2 29 2 16-2 10 0 11-2 16 3 12 1 20-3 17 0 11 3 4 2 1 2-2 3-3 2-16 4-7 0-14-1-22 4-19 2-27-1-13 0-5 1-10 4zM339-40l-6-1-4-2-3-3-2-4-6 4-5 2-3-1-3-2-11-1-2-2 0-3 2-3 6-4 3-5 3-2 3 0 8 3 6 8 1 1 6-3 15-4 9-7 6 0 4 3 2 4 1 2-10 16-2 2-9 2zM382-55l-6-3-1-3 3-3 10-4 6-1 7 0 5 3 2 3-1 3-1 2-5 3-7 1zM503-9l3-1 2-2 0-2-2-2-3 0-3 2 0 3zM502-10l-1-2 0-2 3-2 2 1 1 2 0 2-2 1zM535-12l6 0 16-3-6-3-11-4-4 2-3 3 0 3zM632-14l7-1 5-5 1-4 0-4-2-3-2-2-4 0-4 1-4 4-4 5-1 3 1 3 3 2zM632-16l-3-1-2-3 0-3 2-3 5-5 3-1 3 1 2 2 1 3-1 6-4 3zM659-18l1 1 1-1-1-1zM438-20l5-1 2-2 2-3-1-3-1-3-5-2-5 1-3 4 0 3 2 3zM437-22l-3-3 0-5 3-3 5 0 3 3 0 5-3 3zM465-29l3 0 2-1 2-5-2-5-4-2-4 1-2 4 1 5zM464-32l-2-2 0-3 2-2 3 0 2 2 0 4-2 2zM693-72l6 0 4-2 0-9 1-3 2-2-2-2-2 0-2 1-10 10-1 4zM394-79l2 0 2-1 2-2 0-2-4-1-3 2-1 2zM641-95l5 1 21-1 4-2 4-3 1-5-3-8 0-5-8-9-9-3-9 0-22 6-6 1-9 4-1 3 2 7 5 5 2 5 12 0zM641-97l-10-5-10-2-2-4 0-4 1-2 2-1 8 3 4-1 3-2 6-7 7-4 2 0 3 2-3 6 2 3 11 3 5 4 2 3-1 4-5 3-18 2z"/><path fill="#00ff82" fill-rule="evenodd" d="M574 127l7 1 5-1 5-6 0-2-1-2-5-3-10-2-18-8-2 0-2 1-3 4 10 9 3 6zM574 125l-4-2-2-2 0-3 2-2 7-1 6 0 4 2 2 2 0 3-4 3-5 1zM-11 127l3-1 1-1-5-9 0 11zM31 126l11 0 7-3 1-2-5-4-5-1-11 8 0 1zM56 126l7 0 1-1-6-3-3-1-4 2 2 2zM140 126l7 1 15 0 6-2 7-3 14-1 2-1 1-8 3-3 6-3 10 0 3-2 0-4-2-2-10 2-10-6-4 0-3 0-9 5-11 2-7 7-9 3-4 8-6 5zM150 123l3-1 3 1zM183 106l1-3 3-2 4 0 2 2-2 2-3 1-3 1zM216 126l21 0 3-1 5-5-4-6-3-2-12-2-6 1-4 1-1 2-1 10 0 1zM269 126l12-1 12-4 10-8 3-5 4-1 8 2 6 6 2-4 4-2 4 0 4 0 2 2 1 5 2 4 2 2 3 1 7-2 16-8 4-1 5 1 7 6 3 0 7-3 4 0 18 8 4-1 5-7 4-1 6 3 2 3-8 3 0 2 3 0 7 0 3 0 3-2 5-6 1-4-1-2-3-3-10-6-14 0-13-4-3 1-12 4-5-1-11-2-12 5-19-1-1-1 2-2 8-5 3-4 0-3-2-8 3-7 0-4-3-1-10 4-1 2 2 5-1 1-3 0-4-2-5-4 0-12-1-5-3-4-3-1-3 1-9 6-13 2-4 6-1 3 3 14 2 1 2 0 5-5 4-1 2 1 1 2 1 3-1 2-3 2-10 3-4 2-3 3-3 7-13 2-19 7-6 3-2 3 1 2 5 2zM269 123l-1-2 3-2 4-1 3 1-1 2-2 2zM411 115l-3-2-2-4 1-3 3-3 6-1 6 2 3 2-1 4-4 4-4 2zM323 106l-3-1-2-2-1-5 2-3 7-3 14-3 3 0 2 2 1 2-1 4-2 4-3 2-4 1zM321 126l4 0 2-1-1-2-2-3-2 1-3 3 0 1zM523 126l10 0 8-2 8-14 0-1-3-2-6-3-11-1-8-4-4-1-17 7-5 4-1 5 2 3 2 2 6 1 11 0 3 1 3 4zM528 124l-3-1-4-4-4-3-11 1-3-1-3-2 0-4 4-3 13-4 21 5 2 2 1 2-2 5-5 6zM704 126l6 0 3-1-7-13-4-3-4 0-7 4-8 2-3 3 1 2 2 1 11 1zM96 125l4 0 5-1 5-2 1-2-5-5-3-1-3 0-3 2-2 3-1 4zM116 122l2 1 2-1 1-2 0-2-2 0-3 1-1 2zM641 121l6 1 6-2 1-1-4-5 1-3 5-3 11-2 1-3-4-6-3-2-4 0-8 4-15 4 0 4-2 6 4 3 3 4zM59 110l2-1 0-2-1-3-1-1-1 0-1 3 1 3zM613 107l2 0 3-3 6-3 1-1-2-7 4-4 8-3 15 0 1-2 0-8 3-6 0-1-9-3-11 6-11 14-10 10-1 9zM626 86l5-8 4-3 7 1 2 2 2 4-1 2-1 0zM680 106l3 0 3-2 2-3 1-3-3-16-2-3-2 0-5 2-2 3 4 9-1 10zM9 97l6 0 16-6 13 0 2-1 0-1-14 0-20-5-6 0-4 2 0 3 3 5zM141 97l3 1 4-1 7-4-2-5 0-3 2-2 6-4 7-8-2-2-7-3-7-9-13-2-1-3 3-14-2-7-4-8-4-1-7 1-14 5-5 0-3 6-3 1-3-1-1-2-1-7-4-1-8 3-10 9-1 2 1 1 9 0 9 7 10 0 5 3 3 4 2 5 0 3-2 7 5 6 3 4 0 9 16 6 5 1zM144 97l-4-2-1-4 3-3 6-1 3 4 0 3-3 2zM138 79l1-3 3-1 1 2-2 2-2 1zM124 52l-10-2-2-2-1-3 7-5-4-7 1-4 6-4 7-1 4 2 3 4 0 4-1 9-1 4-3 4-3 1zM729 97l3 1 0-14-7 0-3 2 0 3 3 5zM605 94l3-1 1-3-2-4-4-1-2 2 0 3 1 3zM604 92l-2-2 0-2 2-2 2 1 2 2 0 2-2 2zM227 92l2-1 1-2-1-3-2-1-2 1-1 2 1 2zM87 90l3 0 2-1 2-4-1-6-1-2-3-2-4 2-3 5 1 5zM87 89l-3-3 0-4 1-4 4-2 3 3 2 5-3 5zM291 89l3 0 0-3-2 0-2 1 0 1zM273 88l2-1 0-1-4 0 0 1zM555 80l11 1 4-1 4-4 1-6-3-2-8-2-4 1-4 1-3 3-1 3 1 4zM25 77l3 0 1-1-7-3 1 2zM34 77l8 0 0-1-3-1-5 1zM205 74l6 0 10-5 4-3 4-5 1-16 2-3 4-3 5-10-3-4-1-5-2-2-5-2-3 1-2 5-6 11-2 1-7-1-4 3 0 4 5 9-1 3-6 7-1 12 1 2zM220 48l-2-1 0-3 1-5 2-1 3 4 0 4-1 2zM388 72l3 0 2-1 1-2-1-4-4-10-5-8-3-7-2-3-3-2-7-1-8-6-9 0-6-4-6-2-7-7-3-7-3 0-4 4-3 1-3-1-1-2 1-3 4-5-2-6 1-1 3-1 30-3 25-5 16 1 26-3 18 0 7-2 2-6 1-4-2-4-4-3-12 0-6 3-3 0-14-3-21 0-5-1-4-3 1-7 2-3 8-2 12 2 2 0 10-8 5-10 3-2 1-2-1-8 0-11-3-1-14-2-4-2 3-4 9-4 3-3 0-3-2-8-7-1-17-8-5-1-5 1-2 2 3 7 2 1 10 0 3 2 1 2-2 3-8 4-3 4 1 17 4 10-1 2-6 3-5 0-5-3-9-3-4-2-2-3 1-4 4-2 9-3 1-2 0-2-3-4-4-1-12 3-5 0-1-3 2-8 0-3-4-3-5 0-7 6-5 12 0 1 3 3 1 3 0 5-2 2-3 1-14 2-4 0-6-4-3 0-8 4 0 6-3 3-9 0-8 6-7 2 1-4 2-2 6-3 7-1 2-3-4 0-16 6-11 7-5 6-1 4 1 3 1 2 3-2 4 0 1 2-3 3-4 3 2 9-1 2-9 6-2 3 3 4 11 9 6 4 1 0 1-4 1 0 17 4 2 2-1 4 1 2 15 6 8 10 15 11 14 2 4 5 8 5 12-5 10 3 2 3 2 9 2 4 13 11zM381 60l-5-4-1-4 2-2 2 1 3 4 1 4 0 1zM317 31l-4-3-3-4 0-4 2-2 15-2 5 3 4 5 0 3-4 3-9 2zM294 6l-5-5-1-2 0-2 3-2 4-1 7 0 3 1-7 10-2 1zM272-5l-8-2-12-4-3-6 0-4 5-6 17-6 0-1-9-5 0-3 2-3 1 0 4 6 3 1 5 1 0 2 4 2 20 3 7-1 5-2 1-2-1-1-12-6-3 1-8 5-4 0-5-5-3-8-6-4 4-2 9-1 9-3 3-3 4-11 4-2 21 2 3 2 4 4 5 2 7-2 7-8 14 4 5 4 3 1 19-6 5 0 5 1 5 3 3 4 0 4-4 4-4 2-5 2-26-2-2 2-3 10-3 5-3 2-8 2 1 1 3 1 11 1 18-2 21 0 13 4 4 2 1 2-1 3-4 2-22 5-7 0-13-1-23 4-18 2-40 0-6 1-10 4zM438-20l-4-3-2-3 0-3 3-4 3-1 3 0 5 3 1 3-1 3-3 4-3 1zM270-41l-2-3 1-3 2-2 4 1 2 3 0 3-3 2zM339-75l1-2 2-1 1 1-1 2-2 1zM394-79l-2-2 2-3 3-1 3 1 0 2-2 2-2 1zM452 72l9-4 11 0 4-3 2-5-3-10 1-10-2-7 1-2 2-1 6 0 4 2 2 8 6 8 0 3-5 4-2 5 1 3 1 3 4 1 3-1 2-2 1-11 10-9 14-4 12-5 4-1 2 2 0 9 1 1 2 1 3-2 2-2 2-8 10-2 4 0 3-2 0-2-1-2-4 0-7-2-4 2-5 4-3 0-12-14-3-2-10-1-7-5-7-3-8-7-3 2-7 10-3 2-10-1-9 1-8 3-10-2-11 2-11-3-8 2-9-3-15 3-2 1-1 2 3 7-1 9 0 3 2 2 11 7 5 0 3-2-1-4-3-3-5-1-3-1-3-4 0-4 2-1 2-1 8 3 8-3 6 1 3 2 2 4 5 13 3 9 11 16zM468 62l-3-2-2-5-2-2-3 0-7 3-3-1-3-6 1-3 1-2 4-2 8 1 6-1 2 0 1 2 4 15-2 3zM526 30l-1-2 2-3 2-1 2 1 1 2-1 2-3 2zM460 27l-4-5 0-2 1-2 2 1 3 4 0 3 0 1zM266 68l5 1 2-1 0-1-5-3-4-1-1 2zM688 65l4 1 16-5 2-1 4-6 8-3 0-3-6-4-2-3-1-10-1-3-2 1-6 3-9-1-12 3-1 1 3 3 0 1-4 7 0 7 4 9zM690 60l-4-3-1-4 0-4 1-3 4-3 5-2 5 0 5 2 2 3 1 3 0 4-2 3-3 3-5 1-5 1zM-11 61l5-7 7-2 2-2-1-2-8-6-1-4 0-8-2-2-3 2 0 31zM659 60l2 0 2-2 1-11 0-3 7-5 2-3-2-4-8-7 0-4 5-5 10-2 6-2 4-4 2-5 0-3-2-2-11-3-2-2-1-5 1-5 6-8-1-9-10 1-4 3-12 3-3 3-3 6 1 14 1 3 3 0 7-5 3 1 1 1-5 7-9 20-7 7 0 3 9 4 3 3 1 3-4 7 0 3 2 3zM673 13l-6-1-4-2-1-4 2-4 5-3 5-1 6 1 5 2 1 4-1 4-6 3zM659-18l1-1 1 1-1 1zM75 57l5-1 3-4-1-5-5-3-4 1-3 4 1 5zM76 56l-4-2-1-4 2-3 4-1 3 2 1 4-2 3zM577 49l2-1 1-2 1-5-1-3-4 10zM160 44l4 0 21-2 4-1 2-3 0-4-2-4-3-2-8-3-4-4-1-6 3-5 4-2 4 3 9 1 8 3 4-6-3-7 3-8-2-6-2-3-4-3-4 0-8 1-5-3-2-3 0-3 1-4 3-2 0-2-2-1-6 1-6 7-10 6-9-1-5 2-3 2-3 5 0 3 3 4 5 4 4 1 3 0 3-2 7-7 7-1 4 2-1 7-4 9 0 8-7 7-1 2 1 3 5 5 0 3-1 1-8 3 0 3zM190 2l-4-3-2-3 0-4 1-3 2-3 2-1 5 0 3 1 3 2 2 3 0 4-2 3-2 3-2 1-3 1zM147-4l-3-2-2-3-1-3 2-3 3-3 3-1 4 1 3 1 2 4-1 6-5 3zM11 32l3-2 4-8 0-7 2-9 0-13-3-3-8-2-1 1-3 7-2 1-3 1-4-1-8-6 0 24 3 2 2 0 6-6 2-1 6 3 3 3 2 3-2 10zM731 32l1 0 0-44-4 1-3 7-4 2-4-1-10-6-4 0-4 10 4 9 5 5 4 2 9-7 3 1 4 3 4 5-2 10zM356 15l6 0 2-1 0-2-6-3-5 0-2 2 1 2zM557 10l1 1 1-3-1-4-2 3zM562-7l2-1 2-3 0-3-2-3-16-5-10-5-3 1-5 5-3 3-1 4 0 3 4 1 23 1zM535-12l-2-2 0-3 3-3 4-2 11 4 6 3-16 3zM501-8l3 0 3-1 2-3-1-3-4-2-4 2-2 4zM503-9l-3-2 0-3 3-2 3 0 2 2 0 2-2 2zM627-13l4 1 5-1 5-1 4-3 2-3 0-6 0-5-2-2-4-2-6 1-4 2-8 7-2 3 0 4 2 3zM631-14l-3-1-3-2-1-3 1-3 4-5 4-4 4-1 4 0 2 2 2 3 0 4-1 4-5 5zM473-17l3 1 3-1 2-3 0-2-3-4-4-2-1-1 1-8-2-4-4-3-5 1-3 2-1 2-1 3 1 4 8 11zM464-29l-3-3-1-5 2-4 5-1 4 3 0 6-2 4-2 0zM684-37l2 0 2-2 0-5-1-2-2 2-1 2-1 4zM577-40l3 0 2-1-1-6-2-2-3-2-3-1-2 1-3 2 0 3 3 3zM401-42l2 0 1-2-3-2-1 2zM671-54l6-1 2-3 0-3-2-3-8-3-2 4-1 5 2 3zM565-59l2 1 1-3-1-2-2-2-1 2zM686-65l3 1 8-2 7-1 3-1 1-2 0-3-3-5 0-3 1-3 4-2 2-2 0-5-2-8 2-5 1-5-3-7-6-6-2 13 1 9-2 1-11 2-3 2 0 8-5 9 0 6 2 7zM693-72l-4-3 0-2 1-3 10-9 2-1 2 0 2 2-2 2-1 3 0 9-4 2zM667-85l2-1 4-6 9-8 1-3-1-8 3-6 17-9-3-3-4-2-34-6-16-1-15 2-14 3-13 5-10 6-5 7 0 5 1 4 3 3 4 2 15 3 3 4 16-2 11 4 15 0 4 2zM640-95l-10-4-12 0-2-5-5-5-2-7 1-3 9-4 6-1 13-3 7-3 5-1 13 3 10 9 0 6 3 6 0 3-1 3-3 3-6 3-20 1zM677-126l-2-1 0-1 1-1 5 0 2 1-1 2zM-11-86l2-1 1-2-1-6-2-5 3-6 1-4-1-5-4-6 0 36z"/><path fill="#6cff30" fill-rule="evenodd" d="M-11 132l743 0 0-7-9-1-3-1 0-1 2-5 10-10 0-9-3-1-3-2-4-7 0-2 3-2 7 0 0-6-15 0-9-3-1 3 1 3 8 8 4 8 0 3-2 4-3 3-2 1-3-1-7-6-6-2-2-2-3-8-2-11 2-3 2-1 8-1 6 2 3-2 9-3 2-2 3-6 5-6 1-3 1-8 0-13-1 0-1-2 2-9-1-4-5-5-5-2-2 1-6 6-3-1-7-6-4-9 4-10 4 0 10 6 4 1 4-2 3-7 4-1 0-128-744 0 0 19 4 6 1 5-1 4-3 6 2 5 1 7-2 2-2 1 0 76 8 6 5 1 4-2 3-7 1-1 7 2 3 2 1 2 1 11-3 10-1 9-2 5-3 3-1 0-1-2 2-8-1-4-4-5-6-3-2 1-6 6-2 0-3-2 0 15 3-2 2 2 1 11 9 9-2 2-7 2-4 6-2 1 0 14 3-2 8-2 3-2 3-7 5-7 2-11 8-9 5-19 2 6-2 10 2 5 1 1 1-1 2-6 4-4 3-2 4 0 4 2 3 4 2 5 0 6 0 8-3 3-7 2-7-2-1 3 5 4 2 5 0 4-3 2-7 2-6-3-2-3 0-3 5-7-4-1-4 2-3 3-1 7-1 7-1 2-4 1-12 0-9-3 0 7 8 7 4 9-1 5-4 4-3 1-4-2 0 10 5 9-1 1-4 1 0 5zM574 127l-11-3-3-6-10-9 3-4 2-1 2 0 18 8 10 2 5 3 1 2 0 2-5 6-5 1zM30 126l-1-1 0-1 11-8 5 1 5 4-1 2-7 3-6 1zM55 126l-4-3 4-2 3 1 6 3-2 1zM140 126l-1-2 6-5 4-8 9-3 7-7 11-2 9-5 3 0 4 0 10 6 10-2 2 2 0 4-3 2-10 0-6 3-3 3-1 8-2 1-14 1-7 3-6 2-15 0zM215 126l-1-2 1-10 2-2 4-1 5-1 12 2 3 2 4 6-5 5-4 1zM269 126l-5-1-5-2-1-2 2-3 6-3 19-7 13-2 3-7 3-3 4-2 10-3 3-2 1-2-1-3-1-2-2-1-4 1-5 5-2 0-2-1-3-14 1-3 4-6 13-2 9-6 3-1 3 1 3 4 1 5 0 12 5 4 4 2 3 0 1-1-2-5 1-2 10-4 3 1 0 4-3 7 2 8 0 3-3 4-8 5-2 2 1 1 19 1 12-5 11 2 5 1 12-4 3-1 13 4 14 0 10 6 3 3 1 2-1 4-5 6-3 2-3 0-7 0-3 0 0-2 8-3-2-3-6-3-4 1-5 7-4 1-18-8-4 0-7 3-3 0-7-6-5-1-4 1-16 8-7 2-3-1-2-2-2-4-1-5-2-2-4 0-4 0-4 2-2 4-6-6-8-2-4 1-3 5-10 8-12 4zM320 126l-1-1 0-1 4-4 2 1 2 3-2 2zM522 126l-4-5-3-1-11 0-6-1-2-2-2-3 1-5 5-4 17-7 4 1 8 4 11 1 6 3 3 2 0 1-8 14-8 2zM704 126l-10-4-11-1-2-1-1-2 3-3 8-2 7-4 4 0 4 3 7 13-3 1zM96 125l-2-2 1-4 2-3 3-2 3 0 3 1 5 5-1 2-5 2-5 1zM378 125l-4-1-2-2 0-3 3-2 4 1 7 5 0 1-2 1zM592 125l-1-1 2-3 0-2-6-7 1-1 12 1 3 8 2 1 3 1-7 3-6 1zM2 124l-2-2 2-4 9-10 4-3 6-1 13 1 5-6 4-2 4 1 3 4 1 6 0 2-2 2-11-2-5 7-5 3-15 5zM80 124l-2-1 1-3 6-1 2 1 1 3-1 1zM393 124l-1-1 6-3 4 1 3 2 0 1-3 1zM463 124l-1-1 1-4 3-2 5 1 4 3-1 2-4 1zM492 124l-3-1 3 0 9 1zM115 122l0-1 1-2 4-1 1 1-2 3-2 1zM201 122l-2-3-1-4 1-3 3 0 3 2 1 5-2 3zM641 121l-5-5-4-3 2-6 0-4 15-4 8-4 4 0 3 2 4 6-1 3-12 2-3 2-2 2 1 3 3 4-6 2zM71 120l-4-3 1-5 2-6 2-2 3 0 1 2 1 14zM134 118l-6-7-2-2-12 3-12-2-12 3-10-10 0-4 2-4 2-2 7-1 3-3 1-6-3-9 1-1 7 1 7-2 4 2 2 4 0 4-4 3-5 2 0 2 2 3 3 1 13 3 3 6 2 3 5-1 8-5 12-1 3 1 1 2-2 3-9 3-2 1-3 9-3 1zM669 117l2-1 1 1zM485 111l-9-7-4-1-3 0-7 4-3 1-7-3-9-6-15 3-11-3-3-2 0-2 16-5-5-7-5-2-5 0-5 4-2 4 0 6-3 3-4 2-7 1-10-5-10 0-3-3-3-9 0-4 2-12 2-1 3 1 12 11 6 2 6-2 8-7 5-3 12-3 13 2 15 13 0 9 1 2 4 2 7 0 3-1 5-5 15-8 6-5 12-1 0-6 1-7 0-5 3-6 5-3 11-2 9-4 1 1 1 2-5 8-1 10-1 3-2 1-1 2 1 1 5-1 9 2 3 1 2 2 0 8-3 9 0 7-4 2-8 0-11-5-5-1-8 6-10 4-8 8-2 1zM59 110l-2-5 1-2 1 0 1 1 1 3-1 3zM271 107l-2-2 2-4 4-2 4 1 0 2-2 3-3 2zM613 107l-1-2 1-9 10-10 11-14 11-6 9 3 0 1-3 6 0 8-1 2-15 0-7 2-3 2-2 3 2 7-1 1-6 3-3 3zM680 106l-2-3 1-10-4-9 2-3 5-2 2 0 2 3 3 16-1 3-2 3-3 2zM235 102l-1-4 2-9-3-9 0-3 3-2 11-2 2-1 2-5 3-1 2 1 3 3 0 3-2 1-6 2-1 3 0 6 1 1 7 0 4 1 4 5 0 4-3 3-4 1-11-3-8 5-3 1zM568 102l0-2 1 2 0 1zM285 100l-2-1 0-1 2-1 3 0 2 2-1 1zM632 100l-4-2-3-3 1-4 4-3 5-1 6 0 9 1 4 2 1 2-1 2-5 3-8 3zM9 97l-5-4-2-5 1-3 3-1 6 0 20 5 14 0 0 1-2 1-13 0-16 6zM141 97l-4-3-5-1-16-6 0-9-3-4-5-6 2-7 0-3-2-5-3-4-5-3-10 0-9-7-9 0-1-1 1-2 10-9 8-3 4 1 1 7 1 2 3 1 3-1 3-6 5 0 14-5 7-1 4 1 4 8 2 7-3 14 1 3 13 2 7 9 7 3 2 2-7 8-6 4-2 2 0 3 2 5-7 4-4 1zM169 94l-9-1-3-2-3-3 1-3 2-2 4-1 5-1 3 1 5 10-2 2zM200 94l-4-2-1-2 3-4 11-6 6-1 2 1 1 4-3 6-9 4zM604 94l-3-2-1-3 2-3 2-1 3 1 2 4-1 3-2 1zM227 92l-2-2-1-2 1-2 2-1 2 1 1 3-1 2zM610 92l-1-4-4-4-1-2 2-9 6-11 5-5 7-6 3-7 3-4 3-1 5 7 1 0 1-3 2-2 4 1 1 2-1 3-2 1-4 1-3 16-10 15-9 9-6 4zM86 90l-3-3 0-6 3-5 4-1 3 4 1 6-1 3-2 2-2 1zM290 89l0-2 1-1 2 0 1 1 0 2zM273 88l-2-1 0-1 4 1-1 1zM660 88l-3-2 0-3 2-2 3-1 1 6-1 2zM51 87l-21-1-8-2-1-2 9-3 21-1 1-1-1-1-6-7 8-3 4-3 2-3 2-6 4-4 2-1 4 7 5 2 4 0 2-2 4-7 5 2 9 0 3 3 1 4-2 4-4 2-8 2-2 2-2 5-4 4-14-4-5 0-7 5 5 4 1 2-1 1-4 2zM466 84l-5-4-1-2 2-3 3-1 6 0 5 0 2 1 0 2-1 2-6 5-2 1zM268 82l-3-2-2-3 0-3 2-2 4-1 5 0 4 1 2 2 1 4-2 3-5 2zM555 80l-2-2-1-5 2-3 3-2 4-2 4 0 7 2 3 2-1 6-4 4-4 1zM196 78l-2 0-2-3-4-11-9 1-14-4-3-3 0-5 3-2 6-1 7-3 12-2 7-6 2 0 5 6 2 4-4 6 0 10-1 8-3 4zM664 78l0-5 2-5 4-2 4 1 2 4-1 3-5 3zM25 77l-2-2-1-2 7 3-1 1zM34 77l0-1 5-1 3 1 0 1zM205 74l-2-3 1-12 6-7 1-3-5-9 0-4 4-3 7 1 2-1 6-11 2-5 3-1 5 2 2 2 1 5 3 4-5 10-4 3-2 3-1 16-4 5-5 3-9 5zM387 72l-4-3-12-10-2-4-2-9-2-3-10-3-12 5-8-5-4-5-14-2-15-11-8-10-15-6-1-2 1-4-2-2-17-4-1 0-1 4-1 0-6-4-11-9-3-4 2-3 9-6 1-2-2-9 4-3 3-3-1-2-4 0-3 2-1-2-1-3 1-4 5-6 11-7 16-6 4 0-2 3-7 1-6 3-2 2-1 4 7-2 8-6 9 0 3-3 0-6 8-4 3 0 6 4 4 0 14-2 3-1 2-2 0-5-1-3-3-3 0-1 5-12 7-6 5 0 4 3 0 3-2 8 1 3 5 0 12-3 4 1 3 4 0 2-1 2-9 3-4 2-1 4 2 3 4 2 9 3 5 3 5 0 6-3 1-2-4-10-1-17 3-4 8-4 2-3-1-2-3-2-10 0-2-1-3-7 2-2 5-1 5 1 17 8 7 1 2 8 0 3-3 3-9 4-3 4 4 2 14 2 3 1 0 11 1 8-1 2-3 2-5 10-10 8-2 0-12-2-8 2-2 3-1 7 4 3 5 1 21 0 14 3 3 0 6-3 12 0 4 3 2 4-1 4-2 6-7 2-18 0-26 3-16-1-25 5-30 3-3 1-1 1 2 6-4 5-1 3 1 2 3 1 3-1 4-4 3 0 3 7 7 7 6 2 6 4 9 0 8 6 7 1 3 2 2 3 3 7 5 8 4 10 1 4-1 2-3 1zM452 72l-3-2-11-16-3-9-5-13-2-4-3-2-6-1-8 3-8-3-2 1-2 1 0 4 3 4 3 1 5 1 3 3 1 4-3 2-5 0-11-7-2-2 0-3 1-9-3-7 1-2 2-1 15-3 9 3 8-2 11 3 11-2 10 2 8-3 9-1 10 1 3-2 7-10 3-2 8 7 7 3 7 5 10 1 3 2 12 14 3 0 5-4 4-2 7 2 4 0 1 2 0 2-3 2-4 0-10 2-2 8-2 2-3 2-2-1-1-1 0-9-2-2-4 1-12 5-14 4-10 9-1 11-2 2-3 1-4-1-1-3-1-3 2-5 5-4 0-3-6-8-2-8-4-2-6 0-2 1-1 2 2 7-1 10 3 10-2 5-4 3-11 0-7 4zM349 69l-3-2-2-3-1-5 0-5 2-4 4-4 4-3 3 0 4 3 3 4 2 6-1 5-2 4-5 4-4 1zM266 68l-3-3 1-2 4 1 5 3 0 1-3 1zM688 65l-4-6-3-7 0-6 4-7 0-1-3-3 1-1 12-3 9 1 6-3 2-1 1 3 1 10 2 3 6 4 0 3-8 3-4 6-2 1-16 5zM549 62l-3-5 1-4 8-6 3-7 4-1 2 2 0 3-4 7-1 8-5 3zM572 62l-3-3 1-3 3-2 4 1 0 4-1 3-1 1zM297 61l-8-2-5-3-2-4 0-4 2-4 4-3 6-2 7 0 1-10 1-2 2 1 4 2 13 11 2 3 1 3-3 5-4 3-9 2-6 4zM659 60l-5-4-2-3 0-3 4-7-1-3-3-3-9-4 0-3 7-7 9-20 5-7-1-1-3-1-7 5-3 0-1-3-1-14 3-6 3-3 12-3 4-3 10-1 1 9-6 8-1 5 1 5 2 2 11 3 2 2 0 3-2 5-4 4-6 2-10 2-5 5 0 4 8 7 2 4-2 3-7 5 0 3-1 11-2 2zM673 58l-3-3-1-4 1-3 2-1 2 0 2 2 2 6-1 3-2 1zM74 57l-2-1-2-3 0-5 4-3 4-1 4 4 0 5-3 4zM576 49l0-2 4-9 1 3-1 5-2 3zM571 46l-4-3-1-4 3-5 5-3 2 1 1 2 0 7-3 5zM160 44l-2-2 0-3 8-3 1-1 0-3-5-5-1-3 1-2 7-7 0-8 4-9 1-7-4-2-7 1-7 7-3 2-3 0-4-1-5-4-3-4 0-3 3-5 3-2 5-2 9 1 10-6 6-7 6-1 2 1 0 2-3 2-1 4 0 3 2 3 5 3 8-1 4 0 4 3 2 3 2 6-3 8 3 7-4 6-8-3-9-1-4-3-4 2-3 5 1 6 4 4 8 3 3 2 2 4 0 4-2 3-4 1-21 2zM421 40l-3-3 0-3 2-3 3 0 3 2 1 5-3 3zM632 38l-6-5-1-3 1-3 2-3 5-2 10-1 0 1-3 6-2 9-2 2zM198 33l-2-4 0-4-9-1-4-3 0-4 2-3 7-1 3 1 2 2 1 4-1 4 5 1 2 2-4 6-1 1zM369 27l-4-3 0-3 3-3 4-1 3 3 2 5-3 2zM112 24l-10-2-21-4-3-5-1-8 2-6 5-5 11-5 7-1 3-2 1-3-5-16 2-4 3-3 5-3 4-1 4 2 9 1 3 2 3 5 1 4-1 10-3 6 1 2 3 4 13 10 2 3-3 5-6 5-11 5zM211 24l1-1 2 0-1 1zM679 23l1-2 6-3 2-5 2-3 3-1 3 3 1 3-2 2-6 2-4 4-3 1zM545 21l-4-3-7-7-10-2-7-4-10-4-2-3 1-3 6-7 4-2 5 4 4 1 23 2 8 2 1 2 0 2-8 8 1 12-2 2zM356 15l-3-1-2-2 2-3 5 0 6 3 0 2-2 1zM434 13l-25-3-21 2-14-1-20-5-11 1-12-7-2-3 3-2 45-8 16 1 24-3 47-2 12 4 9 1 3 2 3 4 1 4-2 5-2 4-5 2-25 4zM557 10l-1-3 2-3 1 4-1 3zM268 2l-3-2-2-3 7 1 3 2 0 2-1 1zM635-1l-8-4-4-6 8 1 9-1 2 1 1 3-2 4-2 2zM562-7l-9-2-23-1-4-1 0-3 1-4 3-3 5-5 3-1 10 5 16 5 2 3 0 3-2 3zM501-8l-3-3 2-4 4-2 4 2 1 3-2 3-3 1zM627-13l-4-2-2-3 0-4 2-3 8-7 4-2 6-1 4 2 2 2 0 5 0 6-2 3-4 3-5 1-5 1zM493-15l-5-2-3-3-8-15-2-7-4-3-7-1-3 2-3 2-1 5 0 10-1 3-3 1-3 0-2-8-5-4-13-5-3 0-7 2-3-1-1-4 0-9 3-5 7-6 3-4 1-5-3-8 0-4 10-19-1-2-1-1-13 0-4-3-2-4 0-4 1-3 3-3 7-2 9-1 11-4 7 1 6 4 8 10 7 17 1 19 4 11-6 6 1 5 3 6 2 1 10-1 7 4 14 3 7 4 7 8 6 3-1 2-6 3-7 7-3 1-4 1-6-2-6 2zM473-17l-6-4-8-11-1-4 1-3 1-2 3-2 5-1 4 3 2 4-1 8 1 1 4 2 3 4 0 3-3 2-2 1zM607-25l-8-3-4-6-7-5 1-8-5-13 5-14 0-2-1-1-2 7-3 3-4 1-4 0-4-3-3-3 1-6 2-4 5-4 9 0 8-3 7-2 8 1 11 0 11-2 8 5 12-1 6 2 4 5 2 5-1 14-3 10 1 3 4 2 8-2 6 0 2 3-2 3-3 2-9-1-10 5-12-2-17 8-6-3-3-1-3 3-1 8zM174-36l-3-3 1-4 2-2 4 1 2 3 0 3-3 2zM683-37l1-6 3-3 1 2 0 5-2 2zM577-40l-6-3-3-3 0-3 4-3 3 0 3 2 3 4 1 5-2 1zM401-42l-1-3 1-1 1 0 2 3-1 1zM389-46l1 0-1 1zM670-54l-2-1-2-3 1-5 2-4 8 3 2 3 0 3-2 3-3 1zM691-55l4-4 3-1-2 3-4 3zM565-59l-1-4 1-2 2 2 1 3-1 2zM685-65l-1-2-2-7 0-6 5-9 0-8 3-2 11-2 2-1-1-9 2-13 6 6 3 7-1 5-2 5 2 8 0 5-2 2-4 2-1 3 0 3 3 5 0 3-1 2-3 1-7 1-8 2zM376-72l-4-2-11-3-3-3 1-3 3-2 4-1 6 0 3 2 7 10-2 2zM310-78l-5-2-3-3 0-4 3-3 4-1 4 0 9 5 0 3-4 3-4 2zM666-85l-6-5-4-2-15 0-11-4-16 2-3-4-15-3-4-2-3-3-1-4 0-5 5-7 10-6 13-5 14-3 15-2 16 1 34 6 4 2 3 3-17 9-3 6 1 8-1 3-9 8-5 7zM372-100l-8-4-10 3-1-2 1-3 2-2 7-1 6-4 3 2 3 5 0 5-1 1zM439 93l2 0-1-1-5-1zM533 90l2 0-2-1zM220 48l3 0 1-3 0-4-3-3-2 1-1 5 0 3zM461 27l1-1 0-3-3-4-2-1-1 2 0 2 2 3zM294 6l4-1 7-10-3-1-7 0-4 1-3 2 0 2 1 2zM271-40l4-1 2-2 0-3-3-3-4 1-2 2 0 3zM272-42l-2-2 0-2 2-1 2 0 1 2 0 2-1 1zM340-74l2-1 1-2-1-1-2 1-1 2zM461-98l4 1 3-3-4-4-5-3-1 5zM678-126l4 0 1-2-2-1-6 1 0 1z"/><path fill="#c0ff00" fill-rule="evenodd" d="M378 125l6 0 2-1 0-1-8-6-2 0-3 1-1 2 0 3zM592 125l9 0 7-3-3-1-2-1-3-8-12-1-1 1 6 7 0 2-2 3zM3 124l10 1 15-5 5-3 5-7 11 2 2-2 0-2-1-7-3-3-4-1-4 2-5 6-13-1-6 1-4 3-10 11-1 4zM22 116l-4-2 2-2 5-2 4 2 0 2-1 1zM81 124l4 0 3-1-1-4-2 0-7 2 0 2zM394 124l8 1 3-1 0-1-3-2-4-1-6 3zM463 124l7 0 4-1 1-2-4-3-5-1-2 1-1 2-1 3zM493 124l8 0-10-1-2 0zM723 124l9 1 0-18-11 12-1 4zM201 122l3 0 2-3-1-5-3-2-3 0-1 3 1 4zM72 120l5 0 1-1-2-13-1-2-3 0-2 2-3 7 1 5zM134 118l3 0 3-1 3-9 2-1 9-3 2-3-1-2-3-1-12 1-8 5-5 1-2-3-3-6-13-3-3-1-2-3 0-2 5-2 4-3 0-4-2-4-4-2-7 2-7-1-1 1 3 9-1 6-3 3-7 1-2 2-2 4 0 4 10 10 12-3 12 2 12-3 2 2zM112 106l-1-1 1-1 2 1-1 1zM93 105l0-2 1-1 3 2-2 2zM103 84l-4-4 2-4 4-3 5 1 2 4 0 4-4 3zM670 117l2 0-1-1-1 0zM485 111l2 1 2-1 8-8 10-4 8-6 5 1 11 5 8 0 4-2 0-7 3-9 0-8-2-2-3-1-9-2-5 1-1-1 1-2 2-1 1-3 1-10 5-8-1-2-1-1-9 4-11 2-5 3-3 6 0 5-1 7 0 6-12 1-6 5-15 8-5 5-3 1-7 0-4-2-1-2 0-9-15-13-13-2-12 3-5 3-8 7-6 2-6-2-12-11-3-1-2 1-2 12 0 4 3 9 3 3 10 0 10 5 7-1 4-2 3-3 0-6 2-4 5-4 5 0 5 2 5 7-16 5 0 2 3 2 11 3 15-3 9 6 7 3 3-1 7-4 3 0 4 1zM485 106l-3-3-2-4 1-3 2-4 3-2 4-1 9-1 3 2 2 3-1 2-13 10zM424 100l-6-3 2-2 3-1 8-1 4 2 2 2-2 2-3 1zM439 93l-4-2 5 1 1 1zM533 90l0-1 2 1zM441 86l-4-3 0-2 2-1 4 0 3 3-1 3zM376 84l-1-2 1-1 1 0 1 2zM536 78l1-1 2 1-1 1zM512 75l-4-3-1-5 1-3 3-3 3-1 2 0 3 2 2 3 1 6-2 3-2 1zM513 57l-1-2 2-3 3-1 3 2 0 2-2 2-3 1zM-10 107l3 1 3-2 3-4 1-4-4-9-8-7 0 24zM271 107l3 0 3-2 2-3 0-2-4-1-4 2-2 4zM710 107l3 1 3-2 3-4 1-4-4-9-8-7-1-5 1-2 1 0 8 3 15 0 0-33-2 10-5 7-4 8-13 5-4-2-6 0-5 1-2 2 1 12 3 9 2 2 6 2zM699 90l-2-1-1-3 0-3 2-1 3 2 2 4-1 2zM235 102l5 0 8-5 11 3 4-1 3-3 0-4-4-5-4-1-7 0-1-1 0-6 1-3 6-2 2-1 0-3-3-3-2-1-3 1-2 5-2 1-11 2-3 2 0 3 3 9-2 10zM569 103l0-3-1 0 0 1zM285 100l4 0 1-1-2-2-3 0-2 1 0 1zM633 100l8 0 8-3 5-3 1-2-1-2-4-2-9-1-6 0-5 1-4 3-1 4 3 3zM633 99l-4-2-2-3 1-3 3-2 5-1 6 0 6 1 3 2 0 3-4 3-7 2zM170 94l3 0 1-2-5-10-3-1-5 1-4 1-2 2-1 3 3 3 3 2zM159 91l-3-3 0-2 2-2 5-1 5 2 0 3-1 2-3 1zM201 94l6 0 8-4 3-6-1-4-2-1-6 1-11 6-3 3 1 2zM611 93l5-2 7-6 13-18 2-4 1-13 1-2 3 1 3-2 1-3-1-2-4-1-2 2-1 3-1 0-5-7-3 1-3 4-3 7-7 6-5 6-6 10-2 9 1 2 4 4zM611 90l-5-7 1-6 2-6 6-10 9-8 5-9 3-1 4 4 1 4-2 15-8 12-5 7-7 5zM660 88l2 0 1-2-1-6-3 1-2 2 1 4zM52 87l6 0 4-3-1-2-5-4 7-5 5 0 14 4 4-4 2-5 2-2 8-2 4-2 2-4-1-4-3-3-9 0-5-2-4 7-2 2-4 0-5-2-4-7-2 1-4 4-2 6-2 3-4 3-8 3 6 7 1 1-1 1-21 1-9 3 1 2 8 2zM29 85l-2-1-1-1 0-1 7-2 19 0 4 1 2 2-2 2-4 1zM73 69l-6-3-2-2-1-5 2-4 1 0 7 5 8-1 2 1 0 4-3 5-3 1zM467 84l3 0 6-4 2-3 0-2-3-1-6 0-4 0-3 1-2 3 1 2zM268 82l6 1 5-2 2-4-1-4-3-2-5 0-5 0-3 2-1 2 1 3zM270 81l-4-3 0-2 1-2 5-2 3 0 3 2 1 3-2 3-3 1zM-3 78l13 0 3-1 3-16 3-3 4-2 4 1-5 7 0 3 3 4 3 1 4 1 7-3 1-2-1-5-1-3-4-3-1-2 1-2 5 2 5 0 4-2 2-2 1-5 0-9-2-5-2-4-6-3-5 1-4 4-3 7-1 1-2-2-1-3 2-10-2-7-5 19-8 9-2 11-5 7-3 7-3 2-8 2-3 2zM28 71l-3-3-1-3 1-2 2-2 3-1 5 1 3 3 0 4-4 3zM196 78l3-2 2-3 1-8 0-10 4-6-2-4-5-6-2 0-7 6-12 2-7 3-6 1-3 2 0 5 3 3 14 4 9-1 4 11 2 3zM194 75l-3-5-2-13-7 3-2-1-2-2 0-3 2-3 5-1 5 1 6-3 2 0 1 1 2 12 0 7-3 7-2 1zM664 78l6-1 5-3 1-3-2-4-4-1-4 2-2 5zM349 69l4 1 4-1 5-4 2-4 1-5-2-6-3-4-4-3-3 0-4 3-4 4-2 4 0 5 1 5 2 3zM350 67l-2-2-2-3 0-8 4-7 3-1 3 0 3 2 2 4 1 5 0 4-2 3-3 3-4 1zM550 62l5 0 4-3 1-8 4-7 0-3-2-2-4 1-3 7-7 5-2 2 0 5zM572 62l4 0 1-3 0-4-4-1-3 2-1 3zM297 61l6 0 6-4 9-2 4-3 3-5-1-3-2-3-13-11-4-2-2-1-1 2-1 10-7 0-6 2-4 3-2 4 0 5 3 4 5 2zM309 49l-3-4-2-5-1-5 1-4 3 1 3 2 6 10-1 4-2 1zM673 58l2 1 2-1 1-3-2-6-2-2-2 0-2 1-1 4 1 3zM571 46l3 0 3-5 0-7-1-2-2-1-5 3-3 5 1 4zM571 44l-2-3 0-4 2-3 3 0 2 3-1 4-2 3zM421 40l4 0 2-3-1-4-4-2-3 1-1 2 1 4zM632 38l4 1 2-2 2-9 3-6 0-1-10 1-5 2-2 3-1 3 1 3zM198 34l3-2 3-5-2-2-5-1 1-4-1-4-2-2-3-1-7 1-2 3 0 4 4 3 9 1 0 4zM190 23l-4-2-2-2 1-2 3-3 6 1 2 2 1 3-3 3zM370 27l4 0 3-2-2-5-3-3-4 1-3 3 0 3zM112 24l18-4 11-5 6-5 3-5-2-3-13-10-3-4-1-2 3-6 1-10-1-4-3-5-3-2-9-1-4-2-4 1-5 3-3 3-2 4 5 16-1 3-3 2-7 1-11 5-5 5-2 6 1 8 3 5 21 4zM108 21l-15-3-7-2-4-4-2-6 3-6 5-5 7-4 12-3 3-2-3-9 1-11 1-3 4-2 2 3 9 1 2 2 1 3 0 7-2 9 2 3 15 11 3 3 0 3-4 5-13 8-13 3zM212 24l1 0 0-2-1 1zM680 23l5 0 4-4 7-3 1-2-2-3-2-2-3 1-2 3-2 5-7 4zM546 21l2 0 2-2-1-12 8-8 0-2-1-2-8-2-23-2-4-1-5-4-4 2-6 7-1 3 2 3 10 4 7 4 10 2 8 8zM536 6l-10 0-5-2-10-4-2-2 1-2 3-3 5-1 24 1 8 2 2 1 1 2-2 3-8 5zM434 13l24 0 25-4 5-2 2-4 2-5-1-4-3-4-3-2-9-1-12-4-47 2-24 3-16-1-45 8-3 2 2 3 12 7 11-1 20 5 14 1 21-2zM434 12l-25-4-20 2-17-1-16-5-10-3-4-3 2-2 6-2 27-6 16 1 23-2 37-2 12 0 17 5 5 3 2 3 0 3-1 4-2 3-5 2-22 4zM268 2l5 0 1-1-1-1-4-2-6-1 2 3zM635-1l4 0 2-2 2-4-1-3-2-1-9 1-8-1 4 6zM493-15l5 0 6-2 6 2 4-1 3-1 7-7 6-3 1-2-6-3-7-8-7-4-14-3-7-4-10 1-2-1-3-6-1-5 6-6-4-11-1-19-7-17-8-10-6-4-7-1-11 4-9 1-7 2-3 3-1 3 0 4 2 4 4 3 13 0 1 1 1 2-10 19 0 4 3 8-1 5-3 4-7 6-3 5 0 9 1 4 3 1 7-2 3 0 13 5 5 4 2 8 3 0 3-1 1-3 0-10 1-5 3-2 3-2 7 1 4 3 2 7 8 15 3 3zM497-16l-8-3-5-6-2-8 3-7 4-4 6-2 13 2 8 4 4 4 2 4 0 4-3 5-4 4-4 2-7 0zM450-32l-6-5-12-6-8-3-1-1 0-3 1-3 11-13 0-4-4-11 0-5 3-7 7-8 1-3 0-3-2-2-14 1-4 0-2-2-2-3-1-4 3-4 4-2 6 0 6 1 4 2 4 4 4 3 3 3 3 10 9 9 3 4 2 11-4 8-1 3 4 9 0 3-1 2-6 2-3 2-3 6-1 8-2 2zM461-98l-3-4 1-5 5 3 4 4-3 3zM607-25l6 1 1-8 3-3 3 1 6 3 17-8 12 2 10-5 9 1 3-2 2-3-2-3-6 0-8 2-4-2-1-3 3-10 1-14-2-5-4-5-6-2-12 1-8-5-11 2-11 0-8-1-7 2-8 3-9 0-5 4-2 4-1 6 3 3 4 3 4 0 4-1 3-3 2-7 1 1 0 2-5 14 5 13-1 8 7 5 4 6zM625-36l-10-4-8 3-2-3-3-8-5-3-3-3-2-7-1-4 7-16 2-1 8-2 10 0 10-2 3 2 3 6 2 1 3-1 6-5 5 0 6 6 2 6-1 9-5 17-2 1-10 2-10 7zM575-68l-3-2-2-3 1-5 1-3 3-3 3-1 3 1 2 1 2 2 0 4 0 4-4 5-3 1zM174-36l4 0 2-3 0-4-3-2-3 0-3 3 0 4zM173-37l-1-3 1-3 2-1 3 1 2 2-1 3-3 2zM272-42l2 0 1-2 0-2-2-1-2 0-1 2 0 2zM389-45l1-1-1 0zM692-54l5-3 1-3-5 3-2 2zM376-72l4 0 2-2-7-10-3-2-6 0-4 1-3 2-1 3 3 3 11 3zM366-78l-2-2 1-2 4-1 3 2 0 3-3 1zM310-78l4 0 4-2 4-3 0-3-9-5-4 0-4 1-3 3 0 4 3 3zM310-79l-5-2-2-3 1-2 3-3 6-1 5 3 1 4-4 3zM372-100l2 0 1-1 0-5-3-5-3-2-6 4-7 1-2 2-1 3 1 2 10-3z"/><path fill="#ffff00" fill-rule="evenodd" d="M23 116l5-1 1-1 0-2-4-2-5 2-2 2zM113 106l1-1-2-1-1 1zM486 106l4-1 13-10 1-2-2-3-3-2-9 1-4 1-3 2-2 4-1 4 2 4zM93 105l2 1 2-2-2-1-2 0-1 1zM425 100l7 0 3-1 2-2-2-2-4-2-9 1-2 1-2 2 3 2zM634 99l7 0 6-2 4-3 0-3-3-2-6-1-6 0-5 1-4 3 0 3 3 3zM633 98l-4-2-1-2 1-3 4-2 5-1 5 0 5 2 2 2-1 3-4 2-6 1zM160 91l4 0 3-1 1-2 0-3-5-2-5 1-2 2 0 2 2 2zM160 89l-1-2 1-2 3-1 3 2 0 2-2 2zM611 90l4 0 7-5 5-7 8-12 2-15-1-4-4-4-3 1-5 9-9 8-6 10-2 6-1 6zM613 89l-2-1-4-5 1-6 2-7 6-9 9-8 4-7 2-1 2 0 3 3 0 4-3 16-10 15-5 4zM699 90l3 0 0-3-2-4-3-1-1 2 0 2 1 3zM441 86l4 0 1-3-3-3-4 0-2 1 0 2 1 2zM30 85l22 1 4-1 2-2-2-2-4-1-19 0-7 2 0 1 1 1zM33 84l-2-1 4-1 14-1 4 1 1 1-5 1zM104 84l5 0 3-3 0-4-3-3-5 0-2 1-2 3-1 2 1 2zM106 84l-4-2-1-4 2-3 4-1 3 1 2 4-2 4zM377 84l1-2-2-1-1 2zM271 81l4 0 3-2 1-3-2-3-5-1-5 2-1 2 0 2 2 2zM271 79l-2-2 0-2 3-1 3 1 1 1 0 2zM537 79l2-1-1-1-2 0 0 1zM195 75l2 0 2-2 2-6 0-6-2-12-1-1-2 0-6 3-5-1-5 1-2 3 0 3 2 2 2 1 7-3 3 14zM194 73l-2-5-1-8 2-6 3-2 2 1 2 4 1 9-3 7-2 1zM513 75l6 0 2-2 1-3-1-6-3-3-3-2-5 3-3 5 1 5zM512 73l-3-3 0-4 4-3 4 0 3 4 0 4-4 2zM29 71l5 0 4-3-1-5-3-3-3 0-3 0-4 4 1 4zM30 70l-3-2-1-3 2-3 5 0 3 2 0 3-2 2zM73 69l5 1 3-1 3-5 0-4-2-1-8 1-7-5-1 0-2 4 1 5 2 2zM350 67l3 1 4-1 3-3 2-3 0-4-1-5-2-4-3-2-3 0-3 1-4 7 0 8 2 3zM353 66l-3-1-2-2-1-7 3-6 2-2 3 0 4 3 2 7-3 6-3 2zM514 58l2 0 3-2 1-2-1-2-3-1-3 2-1 2zM309 49l4 0 2-1 1-4-6-10-3-2-3-1-1 4 1 5 2 5zM571 44l3-1 1-2 1-4-2-3-3 0-2 3 0 4zM571 40l0-2 1-1 1 1-1 2-1 1zM190 23l4 0 3-3-1-4-4-2-5 0-3 4 2 3zM190 22l-4-2 0-3 3-2 4 0 2 2 0 3-2 2zM108 21l7 1 13-3 13-8 4-5 0-3-3-3-15-11-2-3 2-9 0-7-1-3-2-2-9-1-2-3-4 2-1 3-1 11 3 9-3 2-12 3-7 4-5 5-3 6 2 6 4 4 7 2zM111 20l-19-4-4-1-3-3-2-4 1-5 2-4 5-4 4-2 19-5 4 0 10 5 8 5 5 4 1 3-2 3-9 7-11 4zM114-18l-3-3-1-3 2-3 2-1 4 3 2 4-2 3-2 1zM434 12l25 0 22-4 5-2 2-3 1-4 0-3-2-3-5-3-17-5-12 0-37 2-23 2-16-1-27 6-6 2-2 2 4 3 10 3 16 5 17 1 20-2zM433 11l-25-4-18 1-19-1-13-5-4-3-1-2 2-2 8-3 14-3 16 2 28-3 30-2 15 1 14 4 5 3 2 5 0 3-3 3-6 3-19 3-19 1zM537 6l6 0 8-5 2-3-1-2-2-1-8-2-24-1-5 1-3 3-1 2 2 2 10 4 5 2zM527 4l-7-2-6-3-1-3 4-2 25 1 6 1 2 2-2 3-5 2zM497-16l7-1 7 0 4-2 4-4 3-5 0-4-2-4-4-4-8-4-13-2-6 2-4 4-3 7 2 8 5 6zM497-17l-8-3-5-6-1-7 4-7 6-3 7-1 10 2 7 4 3 4 0 3 0 4-3 4-7 5zM450-32l2 0 1-1 1-8 2-5 3-3 6-2 2-2 0-3-4-9 1-3 4-8-2-11-3-4-9-9-3-10-3-3-4-3-4-4-4-2-6-1-6 0-4 2-3 4 1 4 2 3 2 2 4 0 14-1 2 2 0 3-1 3-7 8-3 7 0 5 4 11 0 4-11 13-1 3 0 3 1 1 8 3 12 6zM442-41l-8-5-3-4 0-3 3-4 8-6-7-14-2-8 2-5 3-5 5-3 5-2 5 3 8 8 2 5 1 6-2 5-5 8-1 5-4 6-4 11-2 2zM426-109l-3-1-3-2-1-4 1-3 4-2 4-1 5 1 4 2 2 4-2 3-4 2zM626-36l4 1 10-7 10-2 2-1 5-19 1-8-2-5-5-5-4-1-3 1-6 5-3 0-4-7-3-2-10 2-9-1-10 3-7 16 0 5 2 7 3 3 5 3 3 8 2 3 8-3zM628-39l-5-2-5-3-3-3-6-9-10-5-2-3 0-3 3-5 5-2 12-1 6-3 2 0 1 2 1 7 2 2 3 0 3 0 11-8 3 0 3 1 2 4 0 6-2 6-4 8-2 2-8 4-6 4zM174-37l3 0 2-2 0-3-2-2-3 0-2 2 0 3zM175-37l-2-1-1-3 2-2 3 0 2 1 0 3-2 2zM576-68l5 0 4-5 0-4 0-4-2-2-2-1-3-1-3 1-3 3-1 3-1 4 1 2 2 3zM576-69l-4-4 0-5 3-5 5 0 2 1 2 2 0 6-3 4-3 1zM366-78l3 1 3-1 0-3-3-2-4 1-1 2zM310-79l5-1 4-3-1-4-5-3-6 1-3 3 0 3 1 2zM311-80l-4-1-2-3 1-3 4-2 5 2 2 3-2 3z"/><path fill="#ffc700" fill-rule="evenodd" d="M633 98l6 0 6-1 4-2 1-3-2-2-5-2-5 0-5 1-4 2-1 3 2 3zM633 97l-3-3 0-2 3-2 8-1 4 1 2 2 0 2-4 3-5 1zM160 89l2 1 3-1 1-1 0-2-3-2-3 1-1 2zM613 89l5-2 5-4 10-15 3-16 0-4-3-3-2 0-2 1-4 7-9 8-6 9-2 7-1 6 4 5zM612 87l-3-3 0-3 0-6 3-6 5-8 8-6 4-7 2-1 2 0 2 2 0 5-5 16-5 9-4 4-5 4zM33 84l16 0 5-1-1-1-4-1-15 1-3 1zM106 84l4-1 2-4-2-4-3-1-4 1-2 3 1 4zM105 83l-3-2 0-4 3-2 3 0 3 2 0 3-2 3zM272 79l4-1 0-2-1-1-3-1-3 1 0 2zM194 73l2 1 2-1 3-7-1-9-2-4-2-1-3 2-2 6 1 8zM195 72l-2-3-1-7 1-5 3-2 3 3 1 7-2 6zM513 73l4 0 3-3 0-4-4-3-4 0-3 4 1 4zM514 70l-1-3 2-1 1 1 1 2-1 1zM31 70l4-1 1-3-1-3-4-2-4 2-1 3 2 3zM353 66l5-2 3-6-2-7-4-3-3 0-2 2-3 6 1 7 2 2zM351 63l-2-3 0-5 3-3 4 0 2 2 1 2-1 5-3 3zM571 41l1 0 1-2-1-2-1 1zM190 22l3 0 2-2 0-3-2-2-4 0-3 2 0 3zM189 20l-1-2 1-1 3 0 1 1-1 2zM111 20l10-1 10-4 9-7 2-3-1-3-5-4-8-5-10-5-4 0-19 5-4 2-5 4-2 4-1 5 2 4 3 3 4 1zM111 18l-17-3-6-3-2-3 1-4 2-5 4-3 14-5 10-1 8 3 11 8 1 2 0 3-7 6-10 4zM433 11l26 0 19-3 6-3 3-3 0-3-2-5-5-3-14-4-15-1-30 2-28 3-16-2-14 3-8 3-2 2 1 2 4 3 13 5 19 1 18-1zM432 10l-26-5-14 1-21-1-9-4-2-4 1-2 4-2 11-2 5 0 11 2 30-5 26-1 17 0 11 4 7 4 2 2 0 3-3 5-9 3-14 2-19 1zM527 4l16-1 5-2 2-3-2-2-6-1-25-1-4 2 1 3 6 3zM526 2l-7-3 0-2 3-1 19 1 3 1 1 1-2 2-4 1zM498-17l12-1 5-3 3-3 2-4 0-4-2-4-3-3-7-4-10-1-7 1-5 5-3 6 2 7 5 5zM498-18l-7-2-5-6-1-6 3-6 5-4 7-1 9 2 6 3 3 3 0 3 0 4-2 4-3 3-4 2zM114-18l4 0 2-3-2-4-3-2-2-1-2 2-1 3 2 3zM175-37l3-1 1-2-1-3-2-1-2 1-2 2 1 3zM174-38l-1-2 1-2 1-1 2 0 1 2 0 2-2 1zM628-39l4-1 6-4 8-4 2-2 4-8 2-6 0-6-2-4-3-1-3 0-11 8-3 0-3 0-2-2-1-7-1-2-2 0-6 3-12 1-5 2-3 5 0 3 2 3 10 5 6 9 3 3 5 3zM627-47l-2-2 1-1 4 1-1 2zM442-41l4 0 2-2 4-11 4-6 1-5 5-8 2-5-1-6-2-5-8-8-5-3-5 2-5 3-3 5-2 5 2 8 7 14-8 6-3 4 0 3 3 4zM439-48l-1-2 0-2 2-1 3 0 1 2-1 3-1 1zM449-67l-5-1-4-4-3-6-2-5 1-5 2-4 4-3 4-1 5 1 6 4 3 5 2 5-1 5-3 5-5 3zM576-69l5-1 3-4 0-6-2-2-2-1-5 0-3 5 0 5 2 3zM576-70l-3-3-1-4 3-4 4-2 3 3 1 5-2 4-2 1zM311-80l5-2 1-3-3-3-5-1-3 2-1 3 2 3zM309-83l-1-2 1-1 3 0 2 1 0 2-1 1zM427-109l6-1 4-2 2-3-2-4-4-2-5-1-4 1-4 2-1 3 1 4 3 2zM425-111l-3-2-1-2 2-4 3-1 4 0 5 2 1 3-3 3-4 1z"/><path fill="#ff8500" fill-rule="evenodd" d="M634 97l5 0 5-1 3-2 0-2-2-2-4-1-8 1-3 2 0 2 1 2zM635 96l-3-2 1-2 2-1 6 0 3 2-3 2zM612 87l4 0 5-4 5-5 5-9 4-15 0-5-2-2-2 0-2 1-4 7-8 6-5 8-3 6 0 6 0 3zM612 85l-2-3 0-4 4-10 5-7 7-6 3-5 2-1 2 0 1 3 0 4-3 11-3 5-8 11-4 2zM105 83l4 0 2-3 0-3-3-2-3 0-3 2 0 4zM105 82l-2-2 0-3 3-2 3 1 1 2 0 3-3 1zM195 72l3-1 2-6-1-7-3-3-3 2-1 5 1 7zM196 70l-2-2-1-5 1-5 2-1 2 2 1 5-1 4zM514 70l2 0 1-1-1-2-1-1-2 1 0 2zM351 63l4 1 3-3 1-5-1-2-2-2-4 0-3 3 0 5zM189 20l3 0 1-2-1-1-3 0-1 1zM111 18l9-1 10-4 7-6 0-3-1-2-11-8-8-3-10 1-14 5-4 3-2 5-1 4 2 3 6 3zM111 15l-6-1-8 0-5-2-3-4 2-5 4-4 12-4 7-1 5 2 5 5 4 3 1 1 0 2-4 4-6 3-4 1zM432 10l8 1 19-1 14-2 9-3 3-5 0-3-2-2-7-4-11-4-17 0-26 1-30 5-11-2-5 0-11 2-4 2-1 2 2 4 9 4 21 1 14-1zM432 9l-15-3-16-5-6-1 11-7 9-3 25-2 23 0 6 2 8 3 4 3 2 3-1 3-3 2-12 4-13 2-14 0zM369 1l-3-3 0-2 2-1 9-2 5 2 0 3-4 3-4 1zM527 2l12 0 4-1 2-2-1-1-3-1-19-1-3 1 0 2 3 2zM498-18l11-1 4-2 3-3 2-4 0-4 0-3-3-3-6-3-9-2-7 1-5 4-3 6 1 6 5 6zM495-20l-6-4-2-5 0-5 4-5 5-2 7-1 7 2 5 4 2 3 0 4-4 6-7 3-6 1zM174-38l2 0 2-1 0-2-1-2-2 0-1 1-1 2zM175-39l-1-2 2-1 1 1 0 2zM627-47l2 0 1-2-4-1-1 1zM440-48l2 1 2-2 0-3-2-2-3 1-1 2 0 2zM449-67l4-1 5-3 3-5 1-5-2-5-3-5-6-4-5-1-4 1-4 4-2 4 0 5 1 6 4 5 4 3zM445-71l-3-2-3-4-1-4 0-4 1-4 2-3 3-1 3-1 5 2 5 4 2 4 0 5-1 4-4 4-4 1zM577-70l4-1 2-4-1-5-3-3-4 2-3 4 2 5zM576-72l-2-3 0-3 2-3 3 0 3 3 0 4-3 3zM310-83l3 1 1-1 0-2-2-1-3 0-1 1zM425-111l5 0 4-2 2-2-1-3-6-2-6 1-2 2 0 3 2 2zM427-116l3 0-1 1z"/><path fill="#ff3d00" fill-rule="evenodd" d="M636 96l6-1 2-2-3-2-6 0-2 1-1 2zM613 85l4 0 4-3 8-12 5-15 0-4-1-2-2 0-2 1-3 5-8 7-5 7-2 5-1 6 1 4zM614 83l-2-2 0-3 5-12 4-5 5-3 3-6 3 0 1 1 0 3-5 13-7 11-4 3zM105 82l3 0 2-1 0-3-1-2-3-1-3 2 0 3zM105 81l-1-3 2-1 2 0 1 1 0 2-2 1zM196 70l2-2 1-4-1-5-2-2-2 1-1 5 1 6zM111 15l4 0 4-1 6-3 4-4 0-2-1-1-4-3-5-5-5-2-7 1-12 4-4 4-2 5 3 4 5 2 8 0zM97 11l-3-2-1-2 1-3 2-2 13-3 2 1 0 3-7 6-3 2zM432 9l8 1 14 0 13-2 12-4 3-2 1-3-2-3-4-3-8-3-6-2-24 0-25 3-8 2-11 7 6 1 16 5zM432 8l-16-3-4-2-4-3-1-3 1-2 3-2 7-2 21-2 24 0 10 4 5 3 1 3 0 2-3 3-11 3-8 1-15 1zM370 1l4 1 5-1 3-3 0-3-5-2-9 2-2 3zM495-20l5 1 6-1 7-3 4-6 0-4-2-3-5-4-7-2-7 1-5 2-4 5 0 5 2 5zM497-21l-5-3-3-4 0-5 2-4 5-3 5 0 7 1 5 3 2 3 0 3-3 6-7 3zM175-39l2 0 0-1-1-2-2 1zM446-71l5 1 4-2 3-3 1-5-1-5-2-4-5-4-4-1-4 1-3 2-2 3 0 4 2 8 3 4zM447-73l-5-4-2-7 2-5 4-2 3 0 4 3 3 3 1 4-1 4-2 3-3 1zM576-72l4 0 2-3-1-4-2-2-3 0-2 3 0 4zM577-74l-1-3 2-2 1 1 1 2-2 2zM428-115l1 0 1-1-2 0z"/><path fill="#f50000" fill-rule="evenodd" d="M614 83l3 0 4-3 7-11 5-13 0-3-1-1-3 0-3 6-5 3-4 5-5 12 0 3zM623 68l-1-2 0-2 2-2 3-1 1 2-1 3-2 2zM630 58l-1-2 1-2 1 2zM106 81l2 0 1-2-1-2-1-1-2 1-1 2zM97 11l4 0 3-2 7-6 0-3-2-1-11 2-3 2-2 2 0 3 2 2zM432 8l8 1 14 0 12-2 11-4 2-2 0-2-1-3-5-3-10-4-24 0-21 2-7 2-3 2-1 2 1 3 4 3 4 2zM433 7l-15-3-5-2-2-2-1-3 2-2 8-3 18-1 25 0 8 3 4 5 0 2-3 2-10 3-21 2zM497-21l9 0 6-3 3-6 0-3-2-3-5-3-7-1-5 0-5 3-2 4 0 5 3 4zM498-23l-4-3-2-4 0-3 1-3 4-2 5-1 6 2 3 2 2 5-3 5-6 3zM448-73l3 0 4-2 2-3 0-3-1-4-3-3-4-3-3 0-4 2-2 3 0 3 3 7zM449-78l-4-7 2-1 4 2 2 3-1 3-2 1zM577-74l2 0 1-2-1-2-1-1-2 2 0 2z"/><path fill="#990000" fill-rule="evenodd" d="M624 68l3-2 1-3-1-2-3 1-2 2 0 3zM630 58l1-2-1-2-1 3 0 1zM433 7l8 1 21-2 10-3 3-2 0-2-4-5-8-3-25 0-18 1-8 3-2 2 1 3 2 2 5 2zM498-23l6 1 6-3 3-5-2-5-3-2-6-2-5 1-4 2-1 3 0 3 3 5zM449-78l3 0 1-3-3-4-2-1-2 0 0 2z"/></g></g></g>
<filter id="blur2" x="-0.05" y="-0.05" width="1.1" height="1.1"><feGaussianBlur stdDeviation="0.6"/></filter>
<g id="f3"><g filter="url(#blur3)"><g transform="scale(0.5)"><path fill="#00008f" fill-rule="evenodd" d="M86 84l1 0-1-2-1 1zM467-67l3 1 2-1 1-2 0-2-3-2-3 1-2 3zM366-93l2 0 0-2-2 0zM661-95l5 0 3-2 1-4-2-3-5-1-5 2-1 2 0 3zM628-98l4 1 3-2 1-3-1-2-4-2-5 2-1 2 0 2z"/><path fill="#0000d4" fill-rule="evenodd" d="M448 115l7 1 3-1 1-2-4-1-8 0-1 1zM86 86l2 0 2-2-2-4-2-1-2 1-1 3 1 2zM86 84l0-2 1 2zM677 9l4-1 1-2-1-1-5-2-4 2-1 2 2 1zM609-23l1 1 2-1 0-2-3 0zM494-24l4-1 6-5-5-2-7 1-2 2 0 2 1 2zM174-38l2 1 1-2-1-1-2 0-1 1zM469-65l4-1 2-3-1-3-3-2-5 0-3 4 2 4zM467-67l-2-2 2-3 3-1 3 2 0 2-1 2zM367-90l3 0 2-2 0-3-2-2-4 0-3 2 1 3zM366-93l0-2 2 0 0 2zM661-94l5 0 4-3 1-4-3-4-6-1-3 1-2 2-1 3 1 3zM660-95l-2-2-1-2 1-3 1-2 5-1 5 2 1 4-2 3-4 2zM628-97l4 0 4-2 1-3-1-3-5-2-5 2-2 2 0 3 2 2zM627-98l-2-3 2-4 4-1 4 2 1 3-2 3-3 1zM354-110l5 0 2-2-2-3-4-1-2 1-1 2 0 2z"/><path fill="#001aff" fill-rule="evenodd" d="M400 117l4-1 0-1-2-2-4-1-3 2 1 2zM450 117l7 0 4-2 2-2-2-2-4-1-12 0-3 2 0 2zM448 115l-2-2 1-1 8 0 4 1-1 2-3 1zM15 115l3 1 2-2-1-1-3 0-2 1zM85 87l4 0 2-2-2-6-2-2-3 1-2 4 1 3zM85 86l-2-2 0-2 1-2 2-1 2 1 2 4-2 2zM-8 84l2 0 0-2-2 0-1 2zM712 84l2 0 0-2-2 0-1 2zM674 10l5 0 3-1 2-2 0-2-2-2-3-1-4 0-4 1-2 2 0 2 2 2zM677 9l-4-1-2-1 1-2 4-2 5 2 1 1-1 2zM609-21l2 0 2-1 0-3-1-1-2-1-2 2-1 2zM609-23l0-2 1 0 2 1-1 2zM491-23l5 1 11-3 3-2 0-2-2-3-3-1-5-1-6 1-5 2-2 3 1 3zM493-24l-2-1-1-2 0-2 2-2 7-1 5 2-6 5zM682-34l2 0 0-2-2-2-2 2zM173-37l2 1 3-1 0-1 0-2-2-1-3 1-1 1zM174-38l-1-1 1-1 2 0 1 1-1 2zM468-64l5-1 3-3 0-4-3-3-6 0-4 3-1 3 1 2 2 2zM468-65l-4-2 0-5 4-2 5 1 2 2 0 3-3 2zM366-89l4 0 3-2 0-4-2-3-3-1-3 1-4 3 1 4zM367-90l-3-2-1-3 3-2 4 0 2 2 0 3-2 2zM660-93l6 0 5-3 1-5-2-4-4-2-4 0-3 1-3 2-1 3 0 3 2 3zM660-94l-3-2-1-2 0-3 2-3 5-2 3 0 3 2 2 4-1 4-5 2zM627-96l6 0 4-2 2-4-2-4-3-1-4-1-6 3-1 3 0 2 1 2zM627-97l-2-2-1-2 2-4 5-2 5 2 1 4-2 3-4 2zM353-108l5 1 4-2 3-2 0-3-2-2-4-1-4-1-3 1-2 2-1 3 1 2zM354-110l-2-3 1-2 2-1 4 1 2 3-1 2-2 1z"/><path fill="#005fff" fill-rule="evenodd" d="M15 118l7 0 4-2 0-2-2-2-3-1-4-1-4 1-3 2 0 2zM14 115l0-1 2-1 3 0 1 1-3 2zM397 118l7 0 2-1 1-2-2-2-3-2-4 0-3 0-2 2 0 2 1 2zM399 117l-4-2 1-2 5 0 3 2-2 2zM449 118l7 0 11-4 14 3 11-1 3-2-1-1-4-1-14-1-9 1-10-3-11 0-6 2-1 3 3 2zM449 117l-7-3 0-2 3-2 12 0 4 1 2 2-2 2-4 2zM732 117l0-6-2 3zM200 108l7 0 2-2 0-2-1-1-3-1-7 2-2 2 1 1zM283 105l3 0 1-1 0-2-2-1-2 0-1 2zM53 95l4 0 1-2-2-1-5 0-1 1 1 1zM604 92l3 0 0-1 0-2-2-1-1 1-1 2zM85 88l4 0 3-3-3-7-2-2-4 2-2 4 1 4zM84 87l-2-3 0-3 2-3 3-1 2 2 2 6-3 2zM-11 87l5 0 3-2 1-2 0-3-4-2-6 1 0 8zM-9 84l1-2 2 0 0 2zM709 87l5 0 3-2 1-2 0-3-3-2-3 0-6 2-2 2 1 2 1 2zM711 84l1-2 2 0 0 2zM691 57l4-1 1-4-3-4-4-1-2 2-1 4 2 3zM172 35l1 0 4-4 0-2-3-1-3 2 0 3zM418 23l4 1 2-2 1-2 0-5-3-4-5-3-5-2-4 1-4 3-2 4 1 4 3 2zM675 11l5 0 4-2 2-2-1-3-3-2-4-1-5 0-4 2-1 2 0 3 3 2zM674 10l-3-1-2-2 0-2 2-2 4-1 4 0 3 1 2 2 0 2-2 2-4 1zM147-9l2-2 1-2-1-1-2 0-1 2 0 1zM610-20l3-1 1-2 0-3-3-2-3 1-1 3 1 3zM609-21l-2-2 1-2 2-2 2 1 1 1 0 3-2 1zM494-21l10-1 6-2 3-3-1-3-3-3-5-2-7 0-6 1-4 3-1 4 2 4zM491-23l-3-3 0-3 2-3 4-1 6-1 5 1 3 1 2 3 0 2-3 2-11 3zM406-24l3-1 0-1-1-2-2 0-1 1zM682-30l3-1 1-4-1-4-3-1-3 2-1 3 2 4zM681-34l0-3 2-1 1 2 0 2-1 1zM174-36l5-1 0-3-3-1-4 1-1 2zM173-37l-1-2 2-2 3 0 2 2-2 2zM585-53l2-1-1-2-2 2zM385-61l6 1 9-1 1-1-3-2-8-1-6 2zM468-63l6-1 3-4 0-4-4-4-7 0-3 2-2 2 0 3 1 3 2 2zM467-64l-4-3-1-3 1-3 2-1 3-1 6 1 2 3 0 4-4 3zM365-88l5 0 4-2 1-4-3-5-3-1-4 0-4 2-3 3 0 2 1 2zM365-89l-3-3 0-4 2-2 3-1 5 2 2 3-1 3-3 2zM346-91l5 1 3-3-2-2-5 0-3 2zM660-92l7 0 5-4 1-5-3-5-4-2-5 0-4 1-2 3-2 4 0 3 3 3zM660-93l-3-2-2-3 0-3 1-3 3-2 3-1 4 0 4 2 2 4-1 5-5 3zM627-95l7 0 5-3 1-5-2-4-4-2-4 0-4 1-3 3-2 3 0 3 2 2zM627-96l-3-2-1-2 0-2 1-3 3-2 4-1 3 1 3 1 2 4-2 4-5 2zM324-98l1 0 2-2 5-6 0-2-3 1-4 3-1 3zM348-105l4 1 11-3 4-4 0-4-3-2-5-2-5 0-4 2-4 3-2 4 1 3zM353-108l-3-2-1-2 1-3 3-2 7 0 5 3 0 3-3 2-5 2zM429-116l5 0 2-1-2-2-5 0-3 1 0 1z"/><path fill="#00a3ff" fill-rule="evenodd" d="M451 120l4 0 11-3 12 2 12-1 15-4-1-1-12-3-16 0-9 0-13-2-8-1-7 3-3 3 0 2 4 2zM448 118l-6-2-3-3 2-3 6-2 10 1 10 3 9-1 14 1 4 1 1 1-3 2-11 1-14-3-12 4zM14 119l5 1 6-1 4-2 0-3-3-3-5-2-5-1-5 1-3 2-1 3 2 3zM15 118l-5-3 0-2 3-2 4-1 4 1 3 1 2 2 0 2-4 2zM396 119l5 1 4-1 4-2 0-2-2-3-5-3-1-4-3-3-5-1-5 1-4 3-1 2 7 4 1 5zM396 118l-3-2-1-2 2-2 2-1 7 1 4 3-1 2-2 1-4 1zM731 118l1 1 0-2-2-3 2-3 0-3-4 3-1 2 1 3zM196 110l9 0 5-1 4-3 1-5-3-2-4-1-5 1-5 1-11 7 2 2zM199 108l-3-2 2-2 7-2 3 1 1 1 0 2-2 2zM283 107l3 0 3-2 1-2-1-2-4-2-4 1-1 4 1 2zM283 105l-1-2 1-2 2 0 2 1 0 2-1 1zM259 104l4 0 2-2-3-3-3 0-1 2zM77 100l5-1 0-1-1-2-4 0-7 1-5 0-2-1-3-4-3-2-6 0-4 3 1 2 5 3zM53 95l-2-1-1-1 1-1 5 0 2 1-1 2zM604 93l3 0 1-2 0-2-2-1-2 0-1 1-1 2zM604 92l0-3 1-1 2 1 0 2 0 1zM84 89l5 0 4-3-2-7-3-4-4 1-3 4-1 5zM84 88l-3-3 0-4 3-4 3-1 2 2 3 7-3 3zM-11 89l6-1 5-2 1-4-2-4-5-2-6 1 0 2 4-1 4 1 2 3-1 3-2 2-4 0-3 0 0 2zM707 88l6 1 5-2 3-3-2-5-2-2-4-1-4 0-4 2-3 3 0 3 2 3zM709 87l-4-3-1-2 2-2 4-2 3 0 5 2 0 3-1 2-4 2zM690 59l3 0 3-1 2-3 1-3-1-3-3-3-4-2-3 0-4 2-1 5 2 5zM690 57l-3-2-1-3 1-4 2-1 4 1 3 4-1 4zM135 45l3 0 3-2 0-3-2-2-4-1-3 2 0 4zM172 41l3 0 2-1 3-5 1-6-3-3-6 0-4 4-1 3 1 4 2 3zM172 35l-1-2 0-3 3-2 3 1-1 3-3 3zM90 30l2-1 0-2-3 0-1 1zM417 28l6 1 5-3 4-7-1-7-3-4-5-3-9-2-7 1-5 3-5 5-2 3 1 4 2 3 3 2 10 2zM417 23l-11-3-3-2-1-4 3-5 4-2 5 0 5 2 4 3 2 4 0 5-3 3zM676 12l6 0 3-2 2-3-1-4-4-2-5-1-5 1-5 2-1 3 1 3 3 2zM674 11l-3-1-3-2 0-3 2-2 4-2 4 0 4 1 3 2 1 3-3 3-4 1zM292 2l1-1-1-1-1 1zM148-7l3-1 2-3-1-3-3-2-3 1-2 3 1 4zM146-10l0-3 3-1 1 2-1 2-1 1zM184-14l2 1 2-1 1-2-1-1-2-1-2 1-1 2zM493-20l12-1 6-1 4-4-1-4-3-4-6-3-8 0-7 2-5 4-1 4 3 5zM494-21l-6-2-2-4 1-4 4-3 6-1 7 0 5 2 3 3 0 4-3 3zM608-20l3 1 3-2 1-4-2-3-4 0-3 2 0 3zM609-20l-2-2 0-2 1-3 3-1 3 2 0 3-2 3zM406-23l3 0 2-2-1-3-2-2-3 1-2 2 1 3zM405-25l0-1 1-2 3 1-1 3zM681-29l2 1 3-2 2-4-1-5-4-3-4 2-2 3 1 5zM682-30l-3-2-1-4 2-3 3-1 3 2 0 4-1 3zM172-36l3 1 3-1 2-2-1-2-3-2-4 1-2 2zM173-36l-2-3 2-2 3 0 3 1 0 2-1 1zM686-49l2 0 2-2 3-4 0-2-3-3-4-2-5-1-3 1-2 3 2 5 3 3zM584-51l3 0 1-2 0-3-2-2-3 0-2 3 1 3zM584-53l0-2 2-1 1 2-1 1zM383-59l6 1 12 0 5-1 3-2-1-2-5-2-15-1-6 1-2 2 0 2zM385-61l-1-2 6-2 8 1 3 2-1 1-9 1zM467-62l7-1 3-2 2-3-2-5-4-4-4 0-4 0-3 2-2 3 0 3 0 3 3 3zM467-63l-3-1-3-3 0-3 1-3 2-2 3-1 7 1 3 4 0 4-4 3zM657-77l3 0 2-2-1-3-2-1-2 0-2 2 1 3zM347-85l6 0 8-2 9 0 3-1 2-2 1-5-3-4-3-2-8-2 5-5 2-4-1-4-3-3-7-1-9 1-9 5-10 1-6 2-5 3-4 4-1 6 4 5 6 0 5-4 2 4 3 2 7 4zM364-88l-6-4 0-3 3-3 4-2 4 0 3 1 3 5-1 4-4 2zM345-91l-1-2 4-2 4 0 2 2-3 3zM324-99l0-3 2-3 4-3 2 0 0 2-5 6-2 2zM347-105l-2-2-1-3 2-4 4-3 4-2 5 0 5 2 3 2 0 4-4 4-12 3zM660-90l6 0 5-3 3-5 0-5-2-3-4-2-10-2-4 2-5 8-4 0-2-3 1-4 2-2 7-3 0-3-3-1-5 1-8 4-7 1-5 1-5 3-10 8 1 3 2 2 18 0 9-2 7 3zM659-92l-3-2-3-3 0-4 2-4 3-2 4-1 4 0 4 2 3 5 0 3-2 3-5 3zM626-95l-4-2-1-3 0-3 3-3 3-2 4-1 4 1 3 1 2 5-1 3-1 2-5 2zM428-115l7 0 2 0 1-2-1-2-2-1-8 0-3 2 1 2zM429-116l-3-1 0-1 3-1 5 0 2 2-2 1z"/><path fill="#00e5ff" fill-rule="evenodd" d="M450 122l4 1 11-5 13 2 10-1 16-2 12 0 3-1 1-2-3-3-5-1-10 0-27-2-9 1-20-3-8 3-9 7-1 2 2 1 11 1zM450 120l-10-3-4-2 0-2 3-3 7-3 8 1 13 2 9 0 16 0 12 3 1 1-15 4-12 1-12-2-11 3zM18 121l5 0 6-2 2-2 1-3-3-3-6-4-1-2 2-5-1-2-5-2-7-6-6-1-1 2 0 9-6 6-1 3 1 3 2 3 11 5zM13 119l-4-2-2-3 1-3 4-3 5 0 5 1 5 3 2 2 0 3-4 2-6 1zM396 120l9 0 4-1 2-2-1-3-3-5 1-4-3-4-6-3-9-1-13 8 0 1 1 2 8 5 5 5zM396 119l-5-3-1-5-7-4 2-3 4-3 5 0 4 1 3 3 1 4 5 3 2 3 0 2-4 2-5 1zM730 119l2 1 0-1-4-3-1-3 1-2 4-3 0-17-7-2-1 1 0 10-6 6-1 5 3 4zM251 117l3 0 4-2 1-2-1-2-3-2-4 2-2 3zM173 114l35-2 10-5 2-2 1-3-3-3-5-2-7-1-5 0-12 6-16 5-3 4 0 2zM196 110l-7-1-2-2 11-7 5-1 5-1 4 1 3 2-1 5-4 3-5 1zM281 108l4 0 4-1 2-3 0-3-5-3-3 0-3 1-1 2-1 3 1 3zM283 107l-2-1-1-2 1-4 4-1 4 2 1 2-1 2-3 2zM258 106l4 0 4-1 1-2 0-3-5-3-5 1-1 4 1 3zM259 104l-1-3 1-2 3 0 3 3-2 2zM71 103l23-1 3-1-2-2-12-6-16 1-3-1-5-4-4-1-8 3-3 2-1 3 1 2 5 2zM76 100l-23-2-5-3-1-2 4-3 6 0 3 2 3 4 2 1 5 0 7-1 4 0 1 2 0 1zM605 94l3-1 1-3-1-2-3-1-2 1-1 2 1 3zM604 93l-2-2 1-2 2-2 2 1 1 2 0 2-2 1zM-11 90l6 0 8-2 0-7-3-4-5-2-7 0 0 2 5-1 4 1 2 2 2 3-1 3-2 2-5 2-5 0 0 1zM83 90l3 1 3-1 3-2 1-2-2-9-3-3-5 1-3 5 0 6zM84 89l-4-4 1-5 3-4 4-1 3 4 2 7-4 3zM707 90l7 0 9-2 0-6-3-5-3-2-5 0-6 1-4 2-3 4 1 3 2 3zM706 88l-3-2-1-3 1-3 2-2 4-2 4 0 4 1 2 2 2 5-3 3-6 2zM692 62l3 0 4-4 1-4 0-4-2-3-4-4-4-1-4 0-3 2-2 2-1 3 1 3 4 6zM690 59l-5-3-2-5 1-5 4-2 3 0 4 2 3 3 1 3-1 3-2 3-3 1zM204 54l4-1 1-3-2-3-3-1-2 0-1 3 0 3zM157 49l4-2 1-2-1-1-3-1-3 2-1 2zM135 47l6-1 2-4 0-3-2-2-5-3-5 2-3 4 2 5zM135 45l-3-2 0-4 3-2 4 1 2 2 0 3-3 2zM170 43l6 0 4-3 3-10-1-3-2-2-4-1-4 0-4 2-2 3-1 4 1 6 1 3zM172 41l-3-2-1-2-1-4 1-3 4-4 6 0 2 2 1 2-2 7-3 4zM78 37l2 0 1-3-3-3-3 1-1 3zM89 33l5-1 2-4-1-6-2-3-2 0-3 1-3 7 1 4zM89 30l-1-2 1-1 3 0 0 2zM418 32l5 1 6-2 4-3 3-4 0-6-2-8-2-4-4-3-9-3-11 0-4 2-18 13 3 6 8 7 4 1 9 1zM417 28l-16-4-4-3-1-3-1-3 3-4 5-5 5-2 6-1 10 3 4 2 3 4 1 7-4 7-5 3zM692 25l2 0 1-3-2-3-2-1-1 1 0 2zM537 16l4 0 8-2 2-1 1-3-2-3-7-3-8-5-3 2-1 4 4 9zM379 14l4 1 2-2-3-5-3-2-2 1-1 2 1 3zM678 13l6-1 4-2 1-5-3-4-6-2-6 0-6 2-3 3-1 4 1 2 6 2zM675 12l-6-2-3-2 0-3 3-3 4-2 6 0 5 2 3 2 0 3-2 3-4 2zM290 4l2 1 3-1 1-3-1-2-2-1-3 1-1 2zM291 2l1-2 1 1-1 1zM147-6l5-1 2-4-1-4-4-3-4 2-2 4 0 4zM148-7l-3-1-1-4 2-3 3-1 3 2 1 3-2 3zM122-11l4 0 2-3-2-4-4-2-3 1-1 3 1 3zM184-12l3 0 3-2 1-2-2-2-3-1-4 2 0 3zM184-14l-1-2 1-1 2-1 2 1 1 2-2 2zM491-19l7 0 14-2 4-4 0-5-4-5-6-4-7 1-9 2-6 4-2 2-1 3 4 5zM492-20l-6-3-2-4 1-4 5-4 7-2 8 0 6 3 3 4 1 4-4 4-12 2zM609-19l4 0 2-3 0-4-3-3-4 1-3 3 1 4zM608-20l-2-3 0-3 3-2 4 0 2 3-1 4-3 2zM405-22l4 0 3-2 0-4-3-2-4-1-2 2-1 4zM405-23l-1-2 0-3 2-2 3 1 2 2-1 3-2 2zM680-28l4 0 4-3 1-6-3-7 10-10 2-5-1-3-4-2-7-2-9-1-4 2-1 4 4 11 5 5-3 4-2 5 1 5zM680-29l-2-3-1-5 2-3 4-2 4 3 1 6-2 3-2 1zM685-49l-4-2-3-3-2-5 2-3 3-1 5 1 4 2 3 3 0 2-4 5-1 1zM173-35l3 0 3-1 2-2-2-3-4-2-4 2-1 3zM172-36l-2-3 2-2 4-1 3 2 1 2-2 2-3 1zM585-49l4-1 1-4-2-4-3-1-3 1-2 4 2 4zM584-51l-2-2 0-3 2-2 2 0 2 2 0 3-1 2zM387-57l21-1 4-1 1-3-4-3-7-2-11-1-8 1-5 2-1 2 0 2 4 3zM383-59l-3-2 0-2 2-2 6-1 15 1 5 2 1 2-3 2-5 1-12 0zM466-61l4 1 4-2 4-2 2-3-2-6-4-4-5-1-4 0-3 2-3 3-1 4 1 3 3 3zM467-62l-4-1-3-3 0-3 1-4 2-3 3-1 4 0 4 1 4 4 1 3-1 2-5 5zM301-62l1-1-2 0zM651-73l9 1 6-3 4-8-3-5 6-5 3-6-1-4-2-4-9-5-5-6-4-3-3 0-4 0-15 7-19 4-16 2-5 2-4 4 0 4 1 3 4 3 5 2 12 2 19-3 6 1 12 6 1 3 0 6zM657-77l-2-2 1-3 1-1 2 0 2 1 1 3-2 2zM660-90l-13-2-7-3-9 2-18 0-2-2-1-3 10-8 5-3 5-1 7-1 8-4 5-1 3 1 0 3-7 3-2 2-1 4 2 3 4 0 5-8 4-2 10 2 4 2 2 3 0 5-3 5-5 3zM691-74l2 0-1-2-1 0zM347-82l5 0 10-3 9-1 3-1 2-2 1-4-1-4-7-8 2-6 0-3-2-3-2-2-6-2-9 0-11 3-16 2-12 5-6 6-2 4 1 4 2 4 3 3 8 2 4 4 10-3zM346-85l-12-6-3-2-2-4-5 4-6 0-4-5 1-6 4-4 5-3 6-2 10-1 10-5 9-1 7 2 3 3 0 4-2 3-5 5 8 2 3 2 3 5-1 4-2 2-3 1-9 0-9 2zM430-114l8-1 2-1 0-2-2-2-5-1-9 1-1 1-1 2 3 2zM428-115l-3-1-1-2 3-2 8 0 2 1 1 2-1 2-2 0z"/><path fill="#00fcd0" fill-rule="evenodd" d="M450 125l6 0 6-5 4-1 14 3 24-3 22 1 2-1 2-3 0-2-1-2-14-5-10-2-10 2-12 0-3-1-2-5-3-2-4 2-2 5-2 1-23-3-12 6-16 5-4-4 10-5 1-1-1-2-25-8-3-2-2-7-4-1-5 0-2 3 0 2 4 5-1 3-4 3-10 4-4 5-4 1-6-4-5-1-6 1-2 2 1 2 3 3 6 3 14-2 8-2 10 3 7 4 6 2 8 0 9-3 4 4 4 1 5 0 11-2zM449 122l-8-2-11-1-2-1 1-2 9-7 8-3 20 3 9-1 27 2 10 0 5 1 3 3-1 2-4 1-11 0-23 3-15-2-5 1-7 4zM396 120l-5-2-5-5-8-5-1-2 0-1 13-8 9 1 6 3 3 4-1 4 3 5 1 3-2 2-4 1zM-2 122l8-2 15 2 11-3 2-2 1-2-6-7-1-2 3-4 3-2 6 0 34 5 12-1 12 0 5-1 1-2-3-3-9-3-3-2 5-7-3-11-1-1-2-1-4 0-3 3-3 5 0 8-5 3-6 1-7-5-3-1-5 1-12 4-14 0-6-1-11-7-3-3-2-7 5-8 1-4-1-3-4-1-3 1-2 3-4 9-8 2 0 2 6 0 5 1 3 3 1 4 0 4-1 2-8 1-6 0 0 18 5 10zM17 121l-6-1-11-5-2-3-1-3 1-3 6-6 0-9 1-2 6 1 7 6 5 2 1 2-2 5 1 2 6 4 3 3-1 3-3 2-6 2zM71 103l-22-3-5-2-1-2 1-3 3-2 8-3 4 1 5 4 3 1 16-1 12 6 2 2-3 1zM-8 97l0-1 0-1 2 0 1 1-1 1zM83 90l-3-4 0-6 3-5 5-1 3 3 2 9-1 2-4 3-3 0zM718 122l8-2 6 1 0-1-13-6-2-4 1-4 6-6 0-10 3-1 5 2 0-5-5-4-3-6 1-3 4-7 1-3-1-4-3-2-3 1-3 3-4 10-12 3-8 5-5 2-2 6 0 8 3 6 8 6 8 1 5 10zM712 97l0-1 0-1 2 0 1 1-1 1zM707 90l-5-2-2-3-1-3 3-4 4-2 6-1 5 0 3 2 3 5 0 6-10 2zM249 120l6 0 12-7 10 2 3-1 12-8 1-2 0-3-5-4-8-1-3 3-2 7-5 1-1-1 1-5-2-3-6-2-5-1-2 3-2 7-5 5-3 4 1 4zM250 116l-1-3 4-3 3-1 3 3 0 2-3 2-3 1zM281 108l-2-1-1-3 1-3 1-2 3-1 3 0 5 3 0 3-2 3-4 1zM258 106l-2-2 0-3 2-3 5-1 4 3 0 3-1 2-5 2zM643 119l3 0 2-1-1-1-2 0-3 1zM171 117l17-1 8-2 12-1 14-5 3-3 2-4-1-2-2-1-16-6-9-6-2-4-1-6-4-8-2 0-3 2 0 4 5 10 3 9-1 2-3 3-4 2-24 6-2 1 0 2 2 4 4 3zM172 114l-2-1 0-2 3-4 16-5 12-6 5 0 7 1 5 2 3 3-1 3-2 2-10 5zM604 117l5 0 4-3 1-4-3-3-16 1-4 2-1 1 1 1 8 0 3 4zM563 103l0-1-1 0zM603 94l3 1 3-2 0-4-2-3-3 0-3 2 0 3zM605 94l-2-1-1-3 1-2 2-1 3 1 1 2-1 3zM253 92l2 1 1-3-1-3-2 0-1 0-1 2zM647 87l3 0 2-4 1-7-1-3-2 0-2 1-5 9 0 2zM434 79l5 0 4-2-2-5-2-3-3 1-4 5 0 3zM482 76l3 0 3-1 10-10 2-1 3 1 6 4 2-3 0-2-7-3-6 0-7 0-5 1-4 3-2 4 0 5zM132 75l5 0 2-1-6-2-3 2zM572 74l2-4-2-7-3-6-2-1-2 1-3 5 0 5 4 5zM691 70l6 1 5-3 1-3-2-5 2-8-2-4-3-4-6-4-5-1-4 1-3 3-2 3 0 3 2 6zM692 62l-7-4-4-6-1-3 1-3 2-2 3-2 4 0 4 1 4 4 2 3 0 4-2 5-3 3zM540 64l2 0 0-2-2 1zM311 62l3 1 4-1 2-1 1-3-2-7-5-3-2 0-2 2 0 9zM243 57l7-1 5-2 2-4-1-5-4-3-6-3-8-1-6 2-4 5 1 6 5 4zM203 56l6-1 2-2 1-3-2-4-8-4 1-7-1-4-1-1-2 2-1 3 0 4 2 3-2 8 2 4zM204 54l-3-2 0-3 1-3 2 0 3 1 2 3-1 3zM154 53l6 0 8-6 8 0 4-3 3-6 2-7-1-6-2-3-7-1-7 2-4 5-2 8-1 2-12 4-2-1-5-6-4-3-9 1-5-2-4 2-2 3 0 4 2 3 3 3 11 3 11 0zM157 49l-3-2 1-2 3-2 3 1 0 3-2 2zM135 47l-6-3-1-4 3-4 5-2 5 3 2 2 0 3-2 4zM169 43l-3-2 0-3-1-6 2-4 2-2 4-2 4 0 3 1 2 2 1 3-3 10-4 3-3 1zM648 53l2 1 3-2 7-10 12-13 1-3-5-7 0-4 4-1 9 2 0 9 2 7 4 3 5-1 9-4-1-13 3-5 5-3 9 0 1-1 2-9-2-4-5-3-9 0-6-3-3 0-6 3-2 2-1 4-12-1-5 2-5 2-3 4-6 13-5 5-7 5-1 2 0 14 2 5zM692 25l-2-4 0-2 1-1 2 1 2 3-1 3zM677 13l-6-1-6-2-1-2 1-4 4-3 6-2 7 1 5 2 2 4-1 4-4 2zM533 44l1-1-3-1-1 1zM76 40l4 0 5-5 7 0 5-3 2-4 0-4-2-5-3-4-3-1-3 1-3 5-3 9-6 0-4 3-1 3 1 2zM77 37l-3-2 0-1 1-2 2-1 2 1 2 2-1 3zM88 33l-2-2-1-4 3-7 3-1 2 0 2 3 1 6-3 4zM519 40l3 0-1-1-2 0-1 0zM420 36l12 0 9-6 3-1 6 2 4 4 3-3 2-3-1-3-7-4-9-3-3-4-4-11-11-9-3-1-7 2-9 1-8 7-6 3-4-1-7-6-3 0-3 2-1 3-1 4 1 9 2 3 12 6 10 8 12-2zM418 32l-8-2-9-1-4-1-8-7-3-6 18-13 4-2 11 0 9 3 4 3 2 4 2 8 0 6-3 4-4 3-6 2zM379 14l-2-2-1-3 1-2 2-1 3 2 3 5-2 2zM506 33l1-1 0-2-1 1zM642 22l3-2 3-4 1-4-1-2-5 5zM536 20l19-4 2-2 1-2-1-5-3-5-10-2-9-7-3 1-4 5-4 6-1 6 2 3 7 5zM537 16l-2-2-4-9 1-4 3-2 8 5 7 3 2 3-1 3-2 1-8 2zM209 18l2 0 2-2-6-7-8-7-1 4 1 4zM163 14l2 1 1-1 0-2-1-1-2 0-1 1zM-11 9l8 0 2-3 1-7-1-3-3-2-4-2-4 0 0 17zM291 6l3 0 3-3-1-4-2-2-4 1-2 2 0 4zM290 4l-1-3 1-2 3-1 2 1 1 2-1 3-3 1zM88 4l2 0 1-1 1-4-1-3-2 1-2 3-1 2zM350-3l3 0 2-2 0-2-2-2-6-1-5 3 1 2zM130-5l5 0 5-2 6 3 5-1 4-4-1-6-3-5-4-2-4 2-3 6-2 2-6-2-8-8-5-1-2 2-2 3 0 3 2 3 3 3zM146-6l-3-3 0-4 3-4 4 0 3 3 1 4-3 3zM122-11l-3-2-1-3 1-3 4-1 3 2 2 4-2 3zM481-9l3 0 1-2-2-1-3 0-1 2zM184-11l4 0 3-2 1-3-2-3-4-2-5 3-1 4 2 2zM184-12l-3-3 2-3 3-1 3 1 2 2-1 2-3 2zM536-16l2 0 2-2 0-2-1-1-2 0-2 2 0 2zM489-17l5 1 18-2 4-2 3-3 1-3-1-4-8-9-4-5-3-1-4 1-2 3-10 4-10 6-1 4 2 4 4 3zM490-19l-7-4-2-5 3-4 7-4 9-3 6 0 6 4 4 5 0 5-4 4-15 2zM428-18l3 1 2-2 0-3-1-2-3 0-3 1 0 3zM609-18l5-1 2-4 0-4-4-3-5 1-3 4 2 5zM608-19l-3-3 1-4 3-3 4 1 3 3-1 4-3 2zM404-21l4 1 3-1 2-3 0-3-3-5-9-2-2 2 0 2 2 6zM405-22l-3-3 1-4 2-2 4 1 3 2 0 4-3 2zM681-26l3 0 4-3 2-4 1-8 7-3 5-3 4-6 1-6 0-7-6-5-4-8-10-7-3-5-6-5 0-9 2-2 7-3 3-2 1-3-1-3-13-6-12 1-11-3-4 0-19 8-22 0-3 3-15 2-8 3-5 4-2 6 1 4 2 3 2 2 9 3 8 6 33-5 7 3 4 3 1 3-3 8 1 3 2 1 13-3 5 1 3 1 2 3 8 22 1 11 2 3zM680-28l-3-4-1-5 2-5 3-3-5-5-4-11 1-4 4-2 9 1 7 2 4 2 1 3-2 5-10 10 3 7-1 6-4 3zM650-73l-1-2 0-6-1-3-12-6-6-1-19 3-12-2-5-2-4-3-1-3 0-4 4-4 5-2 16-2 19-4 15-7 4 0 3 0 4 3 5 6 9 5 2 4 1 4-3 6-6 5 3 5-4 8-6 3zM691-74l0-2 1 0 1 2zM172-35l4 1 4-2 1-2-1-3-4-2-5 1-2 2 0 2zM173-35l-3-3 1-3 4-2 4 2 2 3-2 2-3 1zM595-37l3 0 3-3 3-8 5-2 3-2 0-4-2-4-2 0-2 1-4 7-2 1-6-3-5-5-2-1-4 0-3 2-2 11 10 7zM585-49l-3-1-2-4 2-4 3-1 3 1 2 4-1 4zM469-49l3 1 2-1 1-3 0-5 0-2 5-4 4-1 0-1-5-9-3-4-4-1-6 0-4 1-4 3-2 4-1 5 10 8 2 6zM465-61l-3-2-3-3-1-4 2-4 3-3 3-1 5 0 4 1 4 6 1 3 0 2-4 3-4 2zM298-56l4 0 3-1 5-8 10-3 5-9 7-5 5 0 11 4 3-1 10-5 11 1 3-2 2-3 1-5-4-13-1-7-1-4-5-4-6-1-10-1-6 1-15 1-18 3-7 3-6 4-4 4-1 4-1 5 2 4 3 4 6 4 10 0 1 4-1 2-2 0-7-3-2 1 1 5-2 5-2 3-4 2-2 4 0 4zM301-62l-1-1 2 0 0 1zM346-82l-13-5-10 3-4-4-8-2-3-3-2-4-1-4 2-4 6-6 12-5 16-2 11-3 9 0 6 2 2 2 2 3 0 3-2 6 7 8 1 4-1 4-2 2-3 1-9 1-10 3zM384-56l27 0 4-2 1-4-3-3-7-3-25-1-6 3-2 3 0 2 3 3zM386-57l-7-2-2-3 2-3 5-2 19 0 7 2 3 3-1 3-4 1zM465-92l3-1 2-5-2-3-6-4 1 10zM427-114l6 1 5-1 3-2 1-2-2-2-4-2-6 0-6 0-3 2-1 2 2 2zM430-114l-5-1-3-2 1-2 2-2 9 0 4 1 2 2 0 2-2 1z"/><path fill="#00ff82" fill-rule="evenodd" d="M-11 132l72 0-10-4-18 0-9-3 0-1 2-1 10-3 4-3-1-2-6-7 1-3 4-2 4 1 5 3 9-2 17 2 13-1 13 1 18-3 7-5 3-1 5 1 11 3 3-1 5-3-10-4-9-2-12 0-2 1-3 4-4 1-17-5-1-2 2-3 0-2-3-9 0-6-2-1-5 1-4 2-4 6-2 8-3 3-2 1-3 0-5-4-4-1-5 1-13 4-13-1-8-3-7-4-2-3-1-4 2-3 4-2 5 3 4 1 6-1 2-2 0-1-8-3-3-2-2-4 2-7-7-2-3-3 0-2 2-3 8-8 0-3-2 0-9 5-7 2 1 6-1 4-9 8-3 1-3-1 0 14 8-2 5-11 3-2 3 0 3 2 0 3-1 3-4 7-1 3 3 6 4 4 9 5 5 1 16 0 11-4 5-1 3 1 6 4 3 1 5-1 4-2 0-8 1-4 4-4 5-1 2 1 1 1 3 11-5 7 3 2 9 3 3 3-1 2-5 1-12 0-12 1-34-5-6 0-3 2-3 5 6 7 0 3-5 3-9 2-14-2-6 2-3 0-4-4-5-10 0 12 7 6-2 2-5 0 0 4zM9 125l0-1 2 0 2 0 1 1zM153 132l35 0 1-4-21 0-1-1 0-3-2-1-6 2-3 3-4 0zM362 132l287 0-4-9 6 0 1-1 3 0 0-1-1-6 0-9-2-1-3 0-3 2-7 7-7 10-19 1-7 3-26 0-1-1 2-2 0-5 2-1 12-1 12 2 7-1 3-3 4-9 8-6-3-2-5-1-9 2-9-1-17 2-2 1 1 3-3 6-3 4-3 0-5-3 0-3 1-13 5-21 3-6 0-2-4-5-1-4 1-5 3-6 0-3-1 0-4 4-18 3-2 1-2 4-1 1-11-3-6 5-3 0-2-2 0-3 3-1 7-1 2-4 0-4-5-6-17-9-2-3 0-4 4-2 4 0 7 3 4 0 11-3 8-1 5 1 5 3 1-1 1-3 1 0 30 2 14 22 12-4 6-1 6 1-2 5 1 1 7 5 7 11-1 7-7 16 1 2 8 5 3-1 2-3 4-15 0-4-5-7 2-9 3-4 3-2 9-1 2 0 9 18 1 14 3 6-1 9 2 7 16 17 12 10-2 2-10 0-7-3-18 7 54 0 0-7-3 0 0-1 3 0 0-3-6-1-7 2-3-1-4-4-4-9-8-1-8-6-2-5-1-6 0-6 2-3 5-2 8-5 12-3 4-9 2-3 3-1 4 1 1 3-1 4-4 7 0 4 2 6 5 3 0-3-2-3-1-3 1-3 2-2 0-21-1-2 1-3 0-8-9 3 1 6-1 3-7 7-5 3-4-2-3-10-8-9 2-2 7-2 1-1-3-7-1-5 0-5 3-4 3-2 3 0 8 2 2 0 7-5 4-5 0-143-744 0 0 132 5 0 4 2 2 3 1 3-1 6-1 2-10 1 0 2 5 0 7 2 8-5 6-9 0-10 1-2 1 1 2 0 4 4 1 6 23-5 21-1 1-5 4-9 9-12 10-8 15-5 2-12 4-11 9-14 8-6 4-1 6 0 6 3 5 5 7 14 4 12 0 3-2 2-3 7-1 6 1 4-3 2 0 1-2 0-3-10-3-3-6-3-1 4 2 12-6 12-3 1-9-6-5 0-3 3-1 4 1 4 5 9 1 2-12 14-5 1-3 0-3-2-2-5-2-10-2-2-3 1-7 7 3 5 1 6-3 11-2 2-3-3-2-5 0-8 5-7-9-4-1 1-1 9 2 12-5 9 0 6 1 4 1 1 4 1 4 2 4 0 6-5 8-1 14-5 4-3 1 1 0 6 2 5 2 4 4 3 8 3 16 2 9 3 4 0 12-5 8 0 3-1 2-3 4-21 2-2 3-1 2 3 0 17 5 15-2 3 5 4 1 6 6 2 1-2-6-11 9-6 2-4-1-3-7-6 1-11 4-6 11-8 1-1 6 4 2 3 0 3-4 10-6 10-1 3 1 3 3 4 9 6 8 2 7 0 16-4 10-6 12-11 4-4-2-4 0-2-2-1-6 3-2-2 0-8 3-3 5 0 4 5 1 5 3 2 1-3-5-10 3-2 4 6 0 6 6 4 4-3 2-4 1-3-2-3-10-4-7-2-3-3-1-4 7-1 3-5-1-4-4-3-4 0-4 4-1-2 1-2-1 0-3 4-7 7-9-2 6 3 9 1 1 7-32-7-44-6-2-3 3-6 0-10-5-9-4-4-5-3 2-5 0-3-1-4-3-5-4-3 1-1 31-5 41-2-4 9-2 2-6 3-2 4 6 18 1 16 1 2 8 8 0-13-5-10-1-5 0-14 1-3 3-3 10-4 3-9 4-4 5-1 6 0 6 10 5 2 6-1 4-2 5-5 7-1 4-2 7-6 0-4 1-3 4-1 3 1 1 3-7 5 3 10-1 3-3 6 2 2 11 0 7-3 4 0 12 3 2-2 2-5 2-1 11 2 29 0 3-2 2-5 0-3-3-4-12-3-3-3-3 0 1 2-7 0-7-5-4-5-2-5-2-14 1-17 1-2 8-4 2-3 9 5 9-4 7-1 5 10 4 2 6 2 6 0 6-1 6-6 4 0 4 2 6-3 3 0 0-1 4 0 7 3 6 7 3 5 2 7 0 6-10 4-1 1-1 7-3 1-3-1-1-1 1-2 6-9 2-1 0-4-5-5-3-1-7-7-1 0-3 5 3 10 0 15-10 12-4 8-10 4-2 3-1 3 2 4 4 1 4-3 8-11 4-2 4 1 3 4 0 7 5 9 0 8 5 7 3 7 0 3-3 7 0 2 6 2 18 2 2 1 3 8 2 2 3 0 7-2 3 1-1 3-2 3-11 3-2 3-2 4-1 21 1 1 6 2 2 4-5 3-11 2-10 6-4 6 0 11 2 3 6 0 4-2 8-6 4-1 3 1 6 7 6 0 4-2-4-5-1-3 1-4 3-3 4 0 4 1 6 7 8-1 12-4 3 3 5 5 5 11 1 5-1 3-2 2-11 2-1 2-1 3 3 4 8 3 4 3 0 2 0 2-4 7-1 1-2 0-5-3-5-7-8-2-7-7-12 0-20-6-14 3-8-7-3-1-5 2-9 8-9-1-2-2-2-3-1 0-12 7-5 1-6-6-12-4-3-2 7-3 5-6 3-2 19-1 9 2 3-2 2-3 0-3-8 0-4-1-3-4-2-7-2-1-4 2-11 13-11 4-8 6-2-1-7-6-4-2-5 0-8 1-3 3-1 5 1 2 6 4 1 2-2 3-4 2-16 5-15-4-7-6-6 3-5 7-1 4 1 2 2 2 10 1 5 2 9 7 3 4 6 0 0 2zM461 127l-1-2 1-2 5-2 4 0 5 2 4 3-5 2zM498 127l-2-1-1-2 5-2 4-1 17 2 3 1 2 3-1 1-5 0-19 0zM449 125l-10-3-11 2-5 0-4-1-4-4-9 3-8 0-6-2-7-4-10-3-8 2-14 2-6-3-3-3-1-2 2-2 6-1 5 1 6 4 4-1 4-5 10-4 4-3 1-3-4-5 0-2 2-3 5 0 4 1 2 7 3 2 25 8 1 2-1 1-10 5 4 4 16-5 12-6 23 3 2-1 2-5 4-2 3 2 2 5 3 1 12 0 10-2 10 2 14 5 1 2 0 2-2 3-2 1-22-1-24 3-14-3-4 1-7 5zM370 124l-2-2 0-2 3-2 5-1 10 2 8 4-2 1-9-1zM538 124l-2-1-1-3 2-2 3-1 2 2 0 2-1 2zM642 119l0-1 3-1 2 0 1 1-2 1zM604 117l-5-5-8 0-1-1 1-1 4-2 16-1 3 3-2 5-3 2zM562 103l0-1 1 0 0 1zM647 87l-4-2 0-3 5-8 2-1 2 0 1 4-1 7-2 3zM433 79l-1-1 0-3 4-5 3-1 2 3 2 5-5 2zM481 76l-2-3 1-5 2-3 4-3 5-1 7 0 6 0 7 3 0 2-2 3-6-4-4 0-3 1-9 9-3 1zM571 74l-5-2-4-6 0-5 3-4 2-1 2 1 3 6 2 7-1 3zM691 70l-11-15-2-6 0-3 2-3 3-3 4-1 5 1 6 4 3 4 2 4-2 8 2 5-1 3-5 3-4 0zM540 64l0-1 2-1 0 2zM242 57l-8-2-5-4-1-3 1-4 4-5 6-1 8 2 6 2 4 4 0 4-2 4-6 2zM513 57l-2-2-1-3 4-2 4 2 0 2-1 2-2 1zM203 56l-3-2-2-4 2-8-2-3 0-4 1-3 2-2 1 1 1 4-1 7 8 4 2 4-1 3-2 2zM154 53l-9-4-11 0-11-3-3-3-2-3 0-4 2-3 4-2 5 2 9-1 4 3 5 6 2 1 12-4 1-2 2-8 4-5 7-2 7 1 2 4 0 6-2 8-3 5-3 2-8 0-8 6zM648 53l-4-4-2-5 0-14 1-2 7-5 5-5 6-13 3-4 5-2 5-2 12 1 1-4 2-2 6-3 3 0 6 3 9 0 6 4 1 5-2 7-1 1-9 0-5 3-3 5 1 13-10 5-4 0-4-3-2-7 0-9-9-2-4 1 0 4 5 7-1 3-12 13-7 10-3 2zM533 44l-3-1 1-1 3 1zM75 40l-3-3-1-2 1-3 4-3 6 0 3-9 3-5 3-1 3 1 3 4 2 5 0 4-2 4-5 3-7 0-5 5zM519 40l-1-1 1 0 2 0 1 1zM149 37l-9-7-15-5-4-2 0-4 5-14 4-3 12-2 9-3 3-3 2-4 0-8 10-12 1-6 7 3 10-2-1 5 3 7-6 5-1 4 2 3 3 1 3 1 6-2 4 2-4 5-2 9-15 12-2-1-4-7-5-4-6-1-5 3-2 3 4 7-2 9 4 3 1 4-4 3zM506 32l0-2 1 0 0 3zM257 30l-1-1 0-2 4 1 0 1-1 1zM642 21l1-6 5-5 1 3-2 4-3 4-2 1zM535 20l-10-6-2-3 1-6 4-6 4-5 3-1 9 7 10 2 3 5 1 5-1 2-2 2-16 4zM208 18l-9-8-1-4 1-4 8 7 6 7-2 2zM651 17l0-6-3-3-6-3-14-4-4-3 2-1 4 0 3-3 1-6-1-3-2-1-9 3-2 2-1 3 3 3 1 3-22 9-15-20-1-2 1-7 3-12 2 0 2 2 1 3 7-2 3-3 10-13 2-7-1-10-2-2-4 0-12 6-8-2-5 0-4 2-4 5-5 0-10-5 0-3-1-1 1-5 3-3 2-4 0-5 2-3 5-3 6-1 6 0 5 1 4 3 2 3 0 3-4 6 2 1 3-1 6-6 4-2 6-1 7 2 9-4 6 1 4 4-3 11 2 4 5 3 11-4 4 0 3 2 6 8 2 11 4 6 2 8 3 4 4 2 5-3 3 0 8 7 1 1-1 1-13 4-3-1-5-3-3 1-6 8-7 6-6 14zM162 14l0-2 1-1 3 1 0 2-1 1zM224 14l0-1 1 1zM291 6l-3-2 0-4 2-2 4-1 2 2 1 4-3 3zM87 3l-1-2 1-2 2-2 2-1 1 3-1 4-2 1zM130-5l-11-5-3-3-1-3 0-3 2-2 2-2 5 1 8 8 6 2 2-2 3-6 4-2 4 2 3 5 1 6-4 4-5 1-6-3-6 2zM544-5l-1-2 1-2 2-2 2 0 1 2 0 3-2 2zM480-9l-1-2 2-1 2 0 2 1-1 2zM183-11l-3-3 1-4 5-3 4 2 2 3-1 3-4 2zM536-16l-1-3 2-2 2 0 1 2-1 2-2 1zM488-17l-5-3-4-3-2-4 1-4 10-6 10-4 3-3 4-1 3 1 3 5 9 10 0 5-2 3-3 2-21 3zM681-26l-3-2-2-3-1-11-8-22-2-3-3-1-5-1-13 3-2-1-1-3 3-8-1-3-4-3-7-3-33 5-8-6-9-3-2-2-2-3-1-4 2-6 5-4 8-3 15-2 3-3 22 0 19-8 4 0 11 3 12-1 13 6 1 3-1 3-3 2-7 3-2 2 0 9 6 5 3 5 10 7 4 8 6 5 0 7-1 6-4 6-5 3-7 3-1 8-2 4-4 3zM529-28l-7-4-3-3 0-2 10 2 6 3 2 2-1 1zM171-35l-2-2 0-2 1-2 2-2 6 0 3 3 0 3-2 2-4 1zM581-37l-2 0-5-3 6 0 4 3 0 1-2 0zM594-37l-6-3-10-7 2-11 3-2 4 0 2 1 5 5 6 3 2-1 4-7 2-1 2 0 2 4 0 4-3 2-5 2-2 6-2 3-3 2zM482-43l-1-10 1-3 2-2 6-1 3 5 4 4-4 4-9 3zM469-49l-2-3-2-6-10-8 1-5 2-4 4-3 4-1 6 0 4 1 3 4 5 9 0 1-4 1-5 4 0 2 0 5-1 3-2 1zM298-56l-4-3 0-4 2-4 4-2 2-3 2-5-1-5 2-1 7 3 2 0 1-2-1-4-10 0-6-4-3-4-2-4 1-5 1-4 4-4 6-4 7-3 18-3 15-1 6-1 10 1 6 1 5 4 1 4 1 7 4 13-1 5-2 3-3 2-11-1-10 5-3 1-11-4-5 0-7 5-5 9-10 3-3 6-3 3-3 0zM383-56l-7-2-3-3 0-2 2-3 6-3 25 1 7 3 3 3-1 4-4 2zM263-63l-2-1 3-3 2 1 0 3zM359-68l-4-2-3-3 0-3 2-3 4-3 5-1 5 0 3 2 1 2 1 3-3 6-5 2zM293-71l-4-3-2-6 4-3 6 0 4 4 1 4-3 4-3 0zM-5-86l-1-1 0-1 2-2 2 0 0 3zM715-86l-1-1 0-1 2-2 2 0 0 3zM699-90l-2-7-5-6 5-11 2-8-10-2-4-2-5-5 3-1 9-1 6 2 3 3 0 4 3 4 0 14 4 8-7 8zM464-92l-2-7 0-6 6 4 2 3-3 6zM426-114l-4-2-2-2 1-2 3-2 6 0 6 0 4 2 2 2-1 2-3 2-5 1zM369-122l-10-3 7-2 7 0 1 2 1 3-2 1zM612-124l-5-3 2-3 4 0 6 2 3 4-2 1zM639-126l3-4 5 0-4 3-2 1zM665-130l-3-1 6 0zM70 128l26 0 1-1 1-2 0-5-2-1-19-2-4 3-4 7zM246 123l9 0 11-6 10 2 7-3 10-9 2-4-2-4-4-4-3-5-4-2-6 1-3 3-1 6-1 0-8-4-4-10-3-3-3 0-5 1-7 4-7 2-9 5-13-1-3-1-3-4-4 0-3-3-1-3 0-5-4-6 1-7-1 0-8 3-3 5 0 5 6 11 0 5-2 3-4 1-4-5-3-1-9 4-13 2-3 2 3 4 0 5 2 4 10 10 2 0 11-3 10 0 8-2 9 0 17-6 6-4 11-14 3-2 8 6 2 3-2 5-8 7-4 5 4 5zM249 120l-4-3 0-3 3-4 5-5 2-7 2-3 5 1 6 2 2 3-1 5 1 1 5-1 2-7 3-3 8 1 5 4 0 3-1 2-12 8-3 1-10-2-12 7-3 1zM171 117l-4-1-4-3-2-4 0-2 2-1 24-6 4-2 3-3 1-2-3-9-5-10 0-4 3-2 2 0 4 8 1 6 2 4 9 6 16 6 2 1 1 2-2 4-3 3-14 5-12 1-9 2zM166 101l-1-2 3-3 3 0 3 2-1 2-2 1zM253 92l-2-3 1-2 1 0 2 0 1 3-1 3zM675 122l6 0 1-2 0-3-3-8-1-8-2-2-3-1-9 1-3 3 10 10zM577 105l3 0 1-3-5 2zM-7 97l2-1-1-1-2 0 0 1zM603 98l5 0 2-5 0-3-1-5 2-3 0-3-1-7-3 2-2 4 0 5-4 2-3 4 1 5zM603 94l-2-3 0-3 3-2 3 0 2 3 0 4-3 2zM713 97l2-1-1-1-2 0 0 1zM341 88l1-2 1-6 3-5 4 0 7 4 2 0 2-20-1-4-3-6-14-4-2 1-1 2 5 19 0 4-2 2-3 0-15-1-2 3-2 7 0 3 3 1 11 0zM289 87l2 0 10-3 2-1 0-1-4-4-5 0-4 4zM132 77l7 1 15-2 10 0 3-1-1-2-2-1-31-3-5 1-5 4 2 2zM132 75l-2-1 3-2 6 2-2 1zM96 70l4 0 2-1-2-2-2 0-4 2zM308 69l5 1 10-2 2-5 1-6-2-7-4-5-5-3-9-2-4 2 3 9 0 3-3 9 3 4zM311 62l-1-3 0-9 2-2 2 0 3 1 2 3 2 4 0 3-1 2-3 1-4 1zM387 67l3 0 1-4-2-3-5 0-1 0 0 2zM411 58l5-1 2-1-2-2-11-5-3-3-1-2 0-3 3-3 2-1 5-1 7 3 10 2 3 2 3 6 2 1 17-3 5-3 3-4 3-10-1-5-1-4-9-6-8 0-3-2-4-10-7-8-1-3 1-2 4-4 2-6 4-4 3-1 9 3 3-1 2-5-2-2-4-1-9 3-7-5-7 3-6-1-5-2-6-8-6 3-8 1-1 3 0 7 5 9 2 0 4 0 8-4 2 2 2 2 0 3-1 2-4 3-4 2-4-1-5-4-2 0-3 3 1 7-1 3-2 2-3 2-3-1-2-2-1-3 0-7-2-2-2 0-10 9-2 4-1 3 0 8-2 8 1 5 2 1 8 1 6 3 11 12 4 11 5 3zM419 36l-10-3-12 2-10-8-12-6-2-3-1-9 1-4 1-3 3-2 3 0 7 6 4 1 6-3 8-7 9-1 7-2 3 1 11 9 4 11 3 4 9 3 7 4 1 3-2 3-3 3-4-4-6-2-3 1-9 6zM427-18l-1-3 0-2 3-1 3 0 1 2 0 3-3 2zM404-21l-3-3-2-6 0-2 2-2 9 2 3 5 0 4-3 2-3 1zM331 34l4 0 6-5 10-4 2-3-1-3-3-2-10-5-3 0 2 9-1 5-2 3-5 1-3 2zM313 13l1 1 5-1 5-3-4-10-4 0-3 3-1 4zM452 5l2 0 3-3 3-4 0-2-2-1-3 0-4 3-1 4zM336 2l3 1 8-2 10 1 2-3 0-7-3-3-7-2-17 2-4 1-4 3-1 2 0 2zM349-3l-6-2-1-2 5-3 6 1 2 2 0 3-2 1zM606-13l6 1-3-3 5-2 3-3 1-3 0-4-3-3-3-2-4 1-3 1-2 2 0 4 1 6-1 1-3-1 3 4zM608-18l-3-3 0-5 3-3 5 0 3 3 0 4-3 4zM371-20l2-1 0-1-2 0-1 1zM104-28l8 0 9-3 2-3 0-7-7-5-3-7-1 2 1 9-3 2-2-3-2 6-5 3-3 3 2 2zM424-71l6 0 2-1 0-2-3 0-5 1-1 1z"/><path fill="#6cff30" fill-rule="evenodd" d="M59 132l94 0-1-4 4 0 3-3 7-2 2 5 21 0-1 4 174 0 1-2 0-2-6 0-3-4-9-7-5-2-10-1-2-2-1-2 1-4 5-7 6-3 7 6 15 4 16-5 4-2 2-3-1-2-6-4-1-2 1-5 3-3 8-1 5 0 4 2 7 6 2 1 8-6 11-4 11-13 4-2 2 1 2 7 3 4 4 1 8 0 0 3-2 3-3 2-9-2-19 1-3 2-5 6-7 3 3 2 12 4 6 6 5-1 12-7 1 0 2 3 2 2 9 1 10-8 5-2 3 2 7 6 14-3 20 6 12 0 7 7 8 2 6 8 5 3 2-2 4-10-3-3-9-4-2-3-1-3 1-2 2-2 10-1 2-3 0-4-5-14-7-7-3-1-10 4-8 1-5-6-6-2-5 1-2 4 1 5 4 5-3 2-3 1-4-1-6-7-4-1-3 1-11 8-5 0-3-1-2-3 1-7 1-5 2-3 11-7 11-2 5-3-2-4-6-2-1-1 1-21 2-4 2-3 11-3 2-3 1-3-3-1-7 2-3 0-2-2-3-8-2-1-18-2-6-2 0-2 3-7 0-3-3-7-5-7 0-8-5-9 0-7-3-4-4-1-4 2-8 11-4 3-4-1-2-4 1-3 2-3 10-4 4-8 10-12 0-15-3-10 3-5 1 0 7 7 3 1 5 5 0 4-2 1-7 10 1 2 3 1 3-1 1-7 1-1 10-4 0-6-2-7-7-10-8-5-5 0 0 1-3 0-6 3-4-2-4 0-6 6-10 1-6-1-4-2-2-2-5-9-7 1-9 4-9-5-2 3-9 5-1 17 3 17 3 6 8 7 7 0 1 0-1-2 3 0 3 3 12 3 3 4 0 3-2 5-3 2-29 0-11-2-2 1-2 5-2 2-12-3-4 0-7 3-11 0-2-2 3-6 1-3-3-10 7-5-1-3-3-1-4 1-1 3 0 4-7 6-4 2-7 1-5 5-4 2-6 1-5-2-6-10-4 0-5 0-6 4-3 10-2 1-7 2-3 3-1 3-1 15 1 5 5 10 0 13-8-8-1-2-1-16-6-18 2-4 6-3 2-2 4-9-42 2-21 3-9 2-1 1 4 3 3 5 1 6-2 6 5 3 4 4 5 9 0 10-3 6 2 3 44 6 32 7-1-7-9-1-6-3 3 0 5 2 2-1 6-6 3-4 1 0-1 2 1 2 6-4 4 1 2 2 1 3-1 4-4 2-5 1 0 2 4 5 7 2 11 5 1 3-2 4-4 4-2 1-3-2-2-2 0-6-4-6-3 2 5 10-1 3-3-2-1-5-4-5-5 0-3 3 0 8 2 2 7-3 3 7-14 13-8 6-7 3-13 3-10-1-5-1-11-8-2-3 0-4 7-11 4-10-1-5-7-5-12 9-4 6-1 11 7 6 1 3-2 4-9 6 6 11-1 2-6-2-1-6-5-4 2-3-5-15 0-17-2-3-3 1-2 2-4 21-2 3-3 1-8 0-12 5-4 0-9-3-16-2-8-3-4-3-2-4-2-5 0-6-1-1-4 3-14 5-8 1-6 5-3 0-5-2-4-1-2-4 0-5 1-5 4-6-2-12 1-9 1-1 9 4-5 7 0 8 2 5 3 3 2-2 3-11-1-6-3-5 7-7 3-1 2 2 2 10 2 5 3 2 3 0 5-1 12-14-1-2-5-9-1-4 1-4 3-3 5 0 9 6 3-1 6-12-2-12 1-4 6 3 3 3 3 10 2 0 0-1 3-2-1-4 1-6 3-7 2-2 0-3-4-12-7-14-5-5-6-3-6 0-4 1-8 6-9 14-4 11-2 12-15 5-10 8-9 12-4 9-1 5-21 1-23 5-1-6-4-4-2 0-1-1-1 2 0 10-6 9-8 5-7-2-5 0 0 1 3 0 3 0 7 5 11-6 6-7 5 4 2 5 2 8-2 5-1 1-6 2-8 7-7 2-3-2-4-4-8-1 0 9 7 3 2 4-1 3-2 2-3 0-3-2 0 9 2 0 3 0 3-2 7-7 1-3-1-6 9-3 6-4 3 0 1 2-1 2-8 7-2 3 0 2 3 3 7 2-2 7 2 4 3 2 8 3 0 1-2 2-7 1-3-1-4-3-3 0-3 3-1 3 1 3 2 3 8 4 8 3 13 1 12-4 5-1 4 1 5 4 3 0 2-1 3-3 2-8 4-6 4-2 5-1 2 1 0 6 3 9 0 2-2 3 1 2 17 5 4-1 3-4 2-1 12 0 9 2 10 4-5 3-3 1-11-3-5-1-3 1-7 5-18 3-13-1-13 1-17-2-9 2-6-4-4 0-3 2-1 3 6 7 1 2-4 3-10 3-2 1 0 1 9 3 18 0zM213 128l-19-5 2-3 25-6 8-3 4-3 6-9 3-3 4 0 4 2 1 3-2 3-17 10 1 2 7 5 1 3-1 1-13 3zM296 128l-12-2-4-2-1-2 1-2 7-5 8-7 2-4 0-6-5-5 0-3 3-3 6-2 5 1 3 1 2 3 0 4 1 1 14-3 2 0 1 2-2 3-5 4-4 10-3 1-10-1-3 2-1 1 5 1 12 0 21 3 5 2 3 3 0 1-2 1-20 3-15 1zM69 127l5-8 3-2 19 2 2 1 0 5-1 2-1 1-26 0zM104 127l-2-1-1-2-1-3 2-2 3-2 5-1 13 2 1-1-5-5 1-3 3-4 6-3 5 0 13 4 8 12-4 4-4 1-8-5-5 0-3 1-1 1 1 3-2 2-16 3zM46 125l-4-1-1-1 5-2 10-2-3-8 0-2 3-2 19 2 12-1 10 2 3 2-1 2-6 2-17-2-4 3-7 7-10 1zM179 125l-3-1-1-1 4-2 6 0 4 2-4 2zM261 124l5-3 2 0 1 2-3 2zM246 123l-3-2-4-5 4-5 8-7 2-5-2-3-8-6-3 2-11 14-6 4-17 6-9 0-8 2-10 0-11 3-2 0-10-10-2-4 0-5-3-4 3-2 13-2 9-4 3 1 4 5 4-1 2-3 0-5-6-11 0-5 3-5 8-3 1 0-1 7 4 6 0 5 1 3 3 3 4 0 3 4 3 1 13 1 9-5 7-2 7-4 5-1 3 0 3 3 4 10 8 4 1 0 1-6 3-3 6-1 4 2 3 5 4 4 2 4-2 4-10 9-7 3-10-2-11 6zM542 105l-5-4-5-3-12 3-7-1-10-4-14 1-4-3-2-6 7-7 7-4 3 1 8 6 5 2 5-2 11-8 10-1 8-2 3 0 3 2 2 2 5 9 1 4-2 2-6 1-3 2-3 4-1 6-2 1zM357 102l-6-3-2-2 0-3 3-2 7 1 9-2 4-1 6 2 3 4-2 3-4 2-13 2zM431 101l-9-6 0-3 2-4 4-2 4-1 8 1 5 1 1 2-1 2-5 8-5 3zM459 97l-1-3 0-6 4-10-1-8 2-4 0-3-3-3-3 1 4 9-3 3-4 1-4 1-3-1-2-3-1-3 2-7-1-3 0-2 13-7 5-6 2-5 1-8-1-10-1-2-7-6-1-2 1-3 5-8 5-4 9 0 13 2 4 2 2 2 2 7-2 14 0 10-1 6-4 8-16 17-2 15 2 8-1 3-7 7-4 1zM148 94l-13-3-22 0-5 3-11-3 0-4-4-10 0-3 4-2 11-1-6-9-4-3-8 4-9-2-2 0-1 2-1 9-6 14-2 2-10-2-18 4-12-1-6-2-7-4-1-2 0-2 2-2 17-3 2-1 1-2-1-2-9-1-5-3-1-2 1-3 5-6-1-2-4-4 0-2 4-6 3 1 2 3 5-2 5-1 5 2 4 3 2 4 0 4-3 3-9 3-1 6 2 1 11-1 4-2 5-5 5-8 5-5 7 5 4 0 5-3 5-6 13-5 4 1 7 9 6 4 12 4 10 1 9 3 7-1 11-4 11 1 7-5 2 0 3 2 0 4-2 2-7 4-5 7-2 4 2 8-1 2-8 6-5 3-13 2zM214 92l-5-2-1-2 0-3-5 1-4-3-1-3 1-5-3-2-1-3 0-3 1-2 2-1 2 1 2 2 0 6 4 1 3 2 1 4-1 4 10-4 2-2 0-3-8-10 0-4 2-2 6 0 8 2 6 6 7 3-6 8-8 7-3 5-5 2zM340 88l-5-2-9 1-4-1-1-4 2-7 1-3 2-1 13 2 5-1 1-4-4-17 0-5 3-1 12 3 2 2 3 8-2 20-1 1-8-4-4 0-3 5-1 7zM289 86l1-5 4-3 5 0 4 4 0 1-2 1-11 3zM267 85l-5-8-3 0-12-1-3-2-2-4 9-5 10-1 4 0 6 4 7 2 4 4 1 3 0 2-3 3-3 1-8 2zM311 82l-3-3 0-3 3 0 3 0 1 2-1 3-1 1zM403 81l-5-4-3-4 1-11 1-2 3-1 15 3 12-1 3 1 1 2-1 4-6 7-16 6zM369 77l-3-3-2-6 1-5 3-3 3 1 7 6 3 5-2 2zM519 74l-3-3 0-2 1-2 4-2 4 2 2 3-1 4-3 1zM95 70l-1-1 4-2 2 0 2 2-2 1zM308 69l-6-6 3-9 0-3-3-9 4-2 9 2 5 3 4 6 2 7-1 6-2 4-10 2zM387 67l-4-5 0-2 1 0 5 0 2 3 0 2-1 2zM332 66l-2-3 0-7 0-5 2-2 3 2 2 2 2 9-2 4-2 1zM410 58l-6-1-5-3-4-11-11-12-6-3-8-1-2-1-1-5 2-8 0-8 1-3 2-4 10-9 2 0 2 2 0 7 1 3 2 2 3 1 3-2 2-2 1-3-1-7 3-3 2 0 5 4 4 1 4-2 4-3 1-2 0-3-2-2-2-2-8 4-4 0-2 0-5-9 0-7 1-3 8-1 6-3 6 8 5 2 6 1 7-3 7 5 9-3 4 1 2 2-2 5-3 1-9-3-3 1-4 4-2 6-4 4-1 2 1 3 7 8 4 10 3 2 8 0 9 6 1 4 1 5-3 10-3 4-5 3-17 3-2-1-3-6-3-2-10-2-7-3-5 1-2 1-3 3 0 3 1 2 3 3 11 5 2 2-3 2zM367 53l-2-3-1-6-12 1-9-3-2-4 1-4 6-4 11-3 5 5 1 5 1 5 1 0 5-2 3-5 2-1 2 1 3 5 8 5 1 4 0 3-2 1-2 0-8-3-8 4-2 0zM422 50l-13-3-4-3 1-3 1-1 3-1 14 5 2 2 0 2-1 1zM187 42l0-5 2-3 1 0 0 6-1 3zM214 39l-2-6 1-5 5-4 3-1 2 1 1 1 1 3-2 6-5 4-3 1zM314 36l0-2 2-1 3 3-2 1zM330 34l-3-2 0-1 8-2 3-4 0-4-2-9 3 0 10 5 3 2 1 3-2 3-10 4-6 5zM320 28l-3-2-2-3 0-3 2-4 10-4 3 1 3 2 2 3 1 3-2 5-7 2zM359 19l-6-6-6-3-1-1 0-2 3-1 6 3 7 0 2 1 1 3-2 4-2 3zM80 18l-1-3 1-1 1 3 0 2zM301 14l-7-4 0-1 4-4 1-3 0-9-1-3-2-1-5-1-14 2-4 7-3 1-3 0-2-3 0-4 1-6-7-10-1-6 1-7 2-5 10-5 6-9 3-1 3 0 8 6 5 1 10-1 8-4 4 5 7 4 19 3 3-1 7-3 3-1 13 6 2-1 4-6 2-2 15-1 12 0 6 4 0 3-4 4-3 1-9 1 1 20-3 4-3 1-3-1-13-10-4-1-4 5-1 7 1 1 7 1 2 2-2 4-5 4-2 1-2-1-1-8-2-1-14-3-17 2-6 3-12 8-2 3-1 5-4 2 2 6-2 1zM313 13l-1-6 1-4 3-3 4 0 4 10-5 3-5 1zM444 9l-1-2-2-7-4-6 2-5-1-5 1-4 3-2 4-1 11 4 7-7 4 0 2 2 1 4 0 3-1 3-5 4-11 1-9 4-2 5 3 8zM100 8l-2-2-2-3-2-12 1-4 9-11 5 1 2 2 4 17-2 5-4 6-4 2zM452 5l-2-3 1-4 4-3 3 0 2 1-1 3-3 4-2 2zM336 2l-13-5 0-2 1-2 4-3 4-1 17-2 7 2 3 3 0 7-2 3-10-1-8 2zM371-20l-1-1 1-1 2 0 0 1zM129-22l-3-3-2-3 1-16-1-2-4-3 2-2 7 0 3 1 2 2 3 6 1 8-1 6-4 6-2 1zM103-28l-5-3 3-3 5-3 2-6 2 3 3-2-1-9 1-2 3 7 7 5 0 7-2 3-9 3zM421-34l-5-4-1-5 2-3 4-4 0-6 2-8 2-2 9-2 6-6-3-2-4 0-13 2-9-1-20-4-5-2-3-3-2-4-3-12 3-8 2-4 3-2 8 0 20-4 9 4 7 2 7-1 11-2 4 3 4 9 2 9-1 10-4 4-9 6-2 7-8 5-4 7-3 5 5 8 0 3-1 3-5 3zM445-36l-2-3 0-3 7-10 1-7 3-3 4 0 3 3 0 3-3 6 0 7-3 4-4 3-3 1zM326-57l0-2 2-1 1 0 1 1-1 2-2 1zM423-71l0-1 4-2 4 0 1 0 1 1-4 2zM649 132l30 0 17-7 7 3 10 0 2-2-12-10-16-17-2-7 1-9-3-6-1-14-9-18-2 0-9 1-3 2-3 4-2 9 5 7 0 4-4 15-2 3-3 1-8-5-1-2 7-16 1-7-7-11-7-5-1-1 2-5-6-1-6 1-12 4-14-22-30-2-1 0-1 3-1 1-5-3-5-1-8 1-11 3-13-3-3 0-3 2-1 3 2 3 18 10 5 6 0 4-2 4-7 1-3 1 0 3 2 2 3 0 6-5 11 3 1-1 2-4 2-1 18-3 4-4 1 0 0 3-3 6-1 5 1 4 4 5 0 2-3 6-5 22-1 13 1 3 5 2 3-1 2-3 3-6-1-3 1-1 17-2 10 1 9-2 5 1 3 2-8 6-4 9-3 3-7 1-12-2-12 1-2 1 0 5-2 2 1 1 26 0 7-3 19-1 7-10 7-7 3-2 3 0 2 1 0 9 1 6 0 1-3 0-1 1-6 0zM593 125l-5-1-1-1 4-2 6 0 9 2-1 1-3 1zM674 121l-3-9-10-10 3-3 9-1 3 1 2 2 1 8 3 8 0 3-1 2-5 0zM622 120l-1-1 1-3 4-7 5-2 3 0 2 1-1 5-3 6-5 1zM696 120l-7-1-3-1-1-8 1-3 4 1 5 5 4 7zM659 117l0-4 2-2 3 1 2 5-3 1zM577 105l-1-1 5-2-1 3zM634 100l-13-5-8 0-1-1-1-4 2-7 0-11 6-13 3-6 3-3 4-2 5 0 4 1 3 2 5 8 1 5-1 5-6 15 1 2 6 5 2 4-1 3-4 2-5 1zM602 97l-3-3-1-5 3-4 4-2 0-5 2-4 3-2 1 7 0 3-2 3 1 5 0 3-2 5-4 0zM675 92l-12-6-2-3 0-4 2-11-1-3-4-5-1-4 1-5 5-3 4 0 3 1 6 8 2 4 1 15 5 7 0 4-3 4-2 1zM548 48l-3-2-6-8-8-8-1-2 1-1 6-1 10-5 9 0 5 2 13 9 3 4 0 2-2 3-5 5-8 1zM-11 128l5-1 1-1-7-6 0 8zM462 127l13 1 4-2-4-3-5-2-4 0-4 1-2 2 0 2zM465 125l-2-1 1-1 2-1 4 1 2 1-3 1zM498 127l27 1 1-1-2-3-3-1-17-2-4 1-5 2 1 2zM10 125l4 0-1-1-3 0-1 0zM730 125l2 0 0-1-3 0zM370 124l13-1 9 1 2-1-8-4-10-2-5 1-3 2 0 2zM538 124l3-1 1-2 0-2-2-2-3 1-2 3 1 2zM166 101l5 0 2-1 1-2-3-2-3 0-3 3zM107 89l2-1-1-1-3 1zM732 83l0-11-2 2-1 3 1 3zM132 78l7 1 15-2 15 1 3-1 1-2-1-3-4-2-10 0-25-4-12 5-9 3 1 2 2 1 7 0zM131 77l-7-2-1-1 5-4 5-1 31 3 2 1 1 2-3 1-11 0-15 2zM709 59l5 0 8-7 2-4-1-7 9-3 0-3-4 2-5 1-3-2-4-4-8-1-2-2-2-4-1-4 1-4 3-4 4-1 4 1 5 4 2-1 10-5 0-8-4 5-7 5-2 0-5-2-4 0-4 1-3 4-1 8 4 10-1 1-7 2-2 2 7 8 3 10zM711 52l-2-1-2-2-3-6-1-2 3-1 4 1 6 3 1 2 0 3-2 2zM513 57l3 0 2-2 0-2-1-2-4 0-3 1 1 3zM732 51l0-5-1 3zM149 37l6-1 4-3-1-4-4-3 2-9-4-7 2-3 5-3 6 1 5 4 4 7 2 1 2-1 6-6 6-4 1-2 2-8 4-5-4-2-6 2-3-1-3-1-2-3 1-4 6-5-3-7 1-5-10 2-7-3-1 6-10 12 0 8-2 4-3 3-9 3-12 2-4 3-5 14 0 4 4 2 15 5zM144 26l-9-5-5 1-3-1-1-2 1-3 3-7 2-2 4-1 5 0 10 7 2 2 1 4-1 4-4 3zM174 9l-12-10-7-2 4-11 4-6 12-8 2 0 3 2 2 3-4 6 0 4 3 3 6 3 1 5-1 4-2 3-7 4zM257 30l3-1 0-1-4-1 0 2zM651 17l4-5 6-14 7-6 6-8 3-1 5 3 3 1 13-4 1-1-1-1-8-7-3 0-5 3-4-2-3-4-2-8-4-6-2-11-6-8-3-2-4 0-11 4-5-3-2-4 3-11-4-4-6-1-9 4-7-2-6 1-4 2-6 6-3 1-2-1 4-6 0-3-2-3-4-3-5-1-6 0-6 1-5 3-2 3 0 5-2 4-3 3-1 5 1 1 0 3 10 5 5 0 4-5 4-2 5 0 8 2 12-6 4 0 2 2 1 10-2 7-10 13-3 3-7 2-1-3-2-2-2 0-3 12-1 7 1 2 15 20 22-9-1-3-3-3 1-3 2-2 9-3 2 1 1 3-1 6-3 3-4 0-2 1 4 3 14 4 6 3 3 3zM653 10l-15-10 0-3 3-12-2-5-4-4-8-3-11-11 3-25 4-10 6-5 3 0 2 2-1 10 2 4 28 18 4 7 0 2-1 2-11 9-3 5 0 4 5 5 1 2-1 12-2 4-2 2zM605-13l-2-1-3-4 3 1 1-1-1-6 0-4 2-2 3-1 4-1 3 2 3 3 0 4-1 3-3 3-5 2 3 3-5 0zM568-61l-2-1-2-3 1-2 3-3 3 2 3 5-2 2zM604-70l0-1 0-2 3-3 4-1 2 2 0 2-2 2zM579-71l-5-2-3-3 0-4 3-4 4-2 6-1 5 1 4 3 1 4-3 4-7 4zM224 14l1 0-1-1zM545-5l2 1 2-2 0-3-1-2-2 0-2 2-1 2zM530-28l6-1 1-1-2-2-6-3-10-2 0 2 3 3zM582-36l2 0 0-1-4-3-6 0zM483-42l10-4 4-4-4-4-3-5-6 1-2 2-1 5 1 8zM263-63l2 0 1-1 0-2-1-1-4 3zM360-68l6 0 5-3 2-6-2-4-3-2-5 0-5 1-4 3-2 4 1 3 3 3zM358-70l-3-2-1-2 0-3 2-3 4-2 4-1 3 1 3 2 2 4-3 5-5 2zM294-71l5 0 2-2 1-3 0-2-2-3-5-2-4 0-4 3 3 7zM294-72l-3-2-1-4 2-3 4 0 4 2 1 4-3 3zM-5-86l3-1 0-3-2 0-2 2 0 1zM715-86l3-1 0-3-2 0-2 2 0 1zM700-89l8-9-4-8 0-14-3-4 0-4-3-3-7-2-7 0-3 1-1 1 0 1 7 5 12 3-2 8-5 11 5 6 2 7zM702-102l-2-2-1-2 2-6zM690-127l-3-2 2-1 4 0 3 2-1 1zM370-122l3 1 2-1-1-3-1-2-7 0-7 2zM613-124l7 1 2-1-1-2-3-3-6-1-3 0-2 3 2 2zM640-126l5-2 2-2-5 0-2 3zM665-130l3-1-6 0z"/><path fill="#c0ff00" fill-rule="evenodd" d="M214 128l13 0 13-3 1-1-1-3-7-5-1-2 17-10 2-3-1-3-4-2-4 0-3 3-6 9-4 3-8 3-25 6-2 3zM213 127l-8-3-3-2 3-3 9-3 14 0 7 3 3 3 0 2-2 1-7 2-8 1zM241 104l0-3 2-2 2 0 2 1-1 3-3 1zM296 128l14 1 15-1 20-3 2-1 0-1-3-3-5-2-21-3-12 0-5-1 1-1 3-2 10 1 3-1 4-10 5-4 2-3-1-2-2 0-14 3-1-1 0-4-2-3-3-1-5-1-6 2-3 3 0 3 5 5 0 6-2 4-8 7-7 5-1 2 1 2 4 2zM294 127l-9-2-3-1-1-2 3-3 9-5 9 2 21 1 15 3 4 3-3 1-19 3zM301 96l-4-1-3-2 0-2 0-2 3-2 4-1 6 2 1 2 0 3-4 3zM105 127l9 1 15-3 2-2-1-3 1-1 4-1 4 0 7 5 3 0 5-3 1-3-6-9-2-2-13-4-5 0-6 3-3 4-1 3 5 5-1 1-13-2-5 1-3 2-2 2 1 3 1 2zM105 126l-3-2 0-3 2-2 4-1 9 0 3 2 3 3-3 2-6 2zM142 115l-13-2-2-2 0-3 2-2 3-1 10 3 3 2 2 4-2 1zM47 125l8 0 10-1 7-7 4-3 17 2 6-2 1-2-3-2-10-2-12 1-19-2-3 2 0 2 3 8-10 2-5 2 1 1zM62 115l-3-3 1-2 5 1 4 1 0 1-2 2zM179 125l6 0 4-2-4-2-6 0-4 2 1 1zM465 125l4 0 3-1-2-1-4-1-2 1-1 1zM593 125l10 0 3-2-9-2-6 0-4 2 1 1zM262 124l5 0 2-1-1-2-2 0-4 2-1 1zM622 120l6 0 4-1 3-6 1-5-2-1-3 0-5 2-4 7-1 3zM697 120l2 0-4-7-5-5-4-1-1 3 1 8 3 1zM660 117l6 0-1-4-3-2-2 0-1 2 0 3zM542 105l2 1 2-1 1-6 3-4 3-2 6-1 2-2-1-4-5-9-2-2-3-2-3 0-8 2-10 1-11 8-5 2-5-2-8-6-3-1-7 4-7 7 2 6 4 3 14-1 10 4 7 1 12-3 5 3zM538 97l-8-4-11 3-3 0-2-2 11-10 4-3 3-1 13 1 6 3 1 2 0 2-9 10zM496 91l-4-2 0-3 2-3 4-1 3 3 2 4-3 2zM358 102l4 1 13-2 4-2 2-3-3-4-6-2-4 1-9 2-7-1-3 2 0 3 2 2zM363 100l-2-2 1-2 6-4 7 0 3 2 1 2 0 2-4 2-7 1zM432 101l4 0 5-3 4-7 1-2-1-2-5-1-8-1-5 1-3 2-2 4 0 3zM432 98l-6-4 1-4 5-2 6 1 1 3-1 4-3 2zM634 100l5 1 5-1 4-2 1-3-2-4-6-5-1-2 6-15 1-5-1-5-2-5-4-4-3-2-4 0-5 1-4 2-5 8-6 13 0 11-2 7 1 4 1 1 8 0zM634 99l-5-1-13-7-1-3-1-10 2-9 6-14 4-4 7-2 4 1 3 2 5 7 1 5-1 5-6 15 1 2 6 5 1 3-1 2-3 2-4 1zM460 97l3 0 4-2 6-6 1-3-2-8 2-15 16-17 4-8 1-6 0-10 2-14-2-7-2-2-4-2-13-2-9 0-5 4-5 8-1 3 1 2 7 6 1 2 1 10-1 8-2 5-5 6-13 7 0 2 1 3-2 7 1 3 2 3 3 1 4-1 4-1 3-3-4-9 3-1 3 3 0 3-2 4 1 8-4 11 0 6zM464 89l0-5 2-3 1 0 1 3 0 3-2 3zM448 73l-2-2-1-2 1-4 4-3 5 2 3 3-1 4-4 2zM467 57l-3-2-2-3 5-10 0-23-1-2-7-6 0-5 4-6 5-3 7-1 10 2 7 3 2 5 0 4-2 11 1 11-1 5-3 5-3 4-7 4-7 7-2 0zM148 94l6 0 12-2 5-3 8-6 1-2-2-8 2-4 5-7 7-4 2-2 0-4-3-2-2 0-7 5-11-1-11 4-7 1-9-3-10-1-12-4-6-4-7-9-4-1-13 5-5 6-5 3-4 0-7-5-5 5-5 8-5 5-4 2-11 1-2-1 1-6 9-3 3-3 0-4-2-4-4-3-5-2-5 1-5 2-2-3-3-1-4 6 0 2 4 4 1 2-5 6-1 3 1 2 5 3 9 1 1 2-1 2-2 1-17 3-2 2 0 2 1 2 7 4 6 2 12 1 18-4 10 2 2-2 6-14 1-9 1-2 2 0 9 2 8-4 4 3 6 9-11 1-4 2 0 3 4 10 0 4 11 3 5-3 22 0zM149 93l-12-3-20-1-3-1-4-4-8 2-4 0-3-4-2-7 4-2 9 0 4 2 3 5 11-2 15 2 15-2 15 2 3 2 1 2-4 5-10 3zM107 89l-2-1 2-1 2 1zM32 88l-10-3-3-3 0-2 4-2 18-5 2-1-1-2 4-1 4 0-2 2-1 1 1 1 14 7 2 2 0 1-1 1-20 5zM132 78l-10-1-7 0-2-1-1-2 9-3 12-5 25 4 10 0 4 2 1 3-1 2-3 1-15-1-15 2zM113 69l-4-3-5-10 0-10 2-2 2 0 10 8 9 4 3 4-2 4-5 4-5 2zM27 67l-4-3 1-4 3-3 5-2 4 4 1 3 0 3-4 2zM158 67l-3-1-2-2 14-5 5 0 4 3-1 2-2 1-10 2zM141 65l-2-1-1-2 3-2 5 0 3 3-3 2zM66 57l0-1 2-3 1 1 0 2-1 1zM214 92l6 0 5-2 3-5 8-7 6-8-7-3-6-6-8-2-6 0-2 2 0 4 8 10 0 3-2 2-10 4 1-4-1-4-3-2-4-1 0-6-2-2-2-1-2 1-1 2 0 3 1 3 3 2-1 5 1 3 4 3 5-1 0 3 1 2zM212 91l-3-3 1-2 3-2 4 0 4 0 4 3-1 2-3 2-4 1zM203 85l-3-2-1-4 2-4 3-1 3 2 2 5-3 4zM229 74l-3-1-4-4-2-3 1-2 4-1 5 1 4 7-2 2zM198 73l-2-2-1-2 1-3 2-1 2 1 1 3-1 4zM675 92l4 0 2-1 3-4 0-4-5-7-1-15-2-4-6-8-3-1-4 0-5 3-1 5 1 4 4 5 1 3-2 11 0 4 2 3zM673 89l-3-3-2-7-1-3 1-11 0-1-7-3-3-4 1-5 4-3 4 0 4 3 1 5-2 7 3 6 1 6 6 3 3 4-1 4-2 2-3 1zM268 85l11-2 4-4 0-2-1-3-4-4-7-2-6-4-4 0-10 1-9 5 2 4 3 2 12 1 3 0 4 7zM271 81l-3-4 1-5 4-3 5 2 3 4-1 4-4 3zM311 82l2 0 2-2 0-2-1-2-4 0-2 1 1 3zM404 81l4 0 16-6 6-7 1-4-1-2-3-1-12 1-15-3-3 1-1 2-1 11 4 5zM406 77l-3-2-1-3-1-5 1-2 5-1 9 1 7 0 2 1 0 3-3 3-12 5zM369 77l10-3 2-2-3-5-7-6-3-1-3 3-1 5 2 6zM519 74l4 1 3-1 1-4-2-3-5-2-3 2-1 4zM332 66l3 1 2-1 2-4-2-9-2-2-3-2-2 2 0 5 0 7zM367 53l2 1 2 0 8-4 8 3 2 0 2-1 0-3-1-4-8-5-3-5-2-1-2 1-3 5-5 2-1 0-1-5-1-5-5-5-11 3-6 4-1 4 2 4 9 3 12-1 1 6zM349 43l-4-2-1-2 0-3 1-2 3-2 5-2 4 0 3 2 2 5-1 4-5 3zM-8 52l4-2 1-4-3-4-6-2 0 10zM712 52l3-1 2-2 0-3-1-2-6-3-4-1-3 1 1 2 4 7zM422 50l3-1 1-1 0-2-2-2-14-5-3 1-1 1-1 3 4 3zM548 48l15-1 7-1 5-5 2-3 0-2-3-4-13-9-5-2-9 0-10 5-6 1-1 1 1 2 8 8 6 8zM548 45l-5-5-4-6-1-3 3-4 6-4 6-1 5 1 5 4 9 9 1 2-2 3-5 4-9 1zM188 43l1 0 1-3 0-6-2 1-1 4 0 2zM214 39l2 0 3-1 5-5 1-6-2-3-2-1-3 1-5 4-1 5zM2 37l4 1 4-2 8-7 6-2 2-2 1-5-2-7-2-4-4-5-1 0-7 7-10 6-7-5-3 0-3 0 0 2 3-1 3 1 6 6 19-9 2 0 2 1 1 5-1 5-6 5-5 6-3 3-6 0-3-2-4-4-5 1-3-1 0 1 8 1zM722 37l3 1 4-1 3-2 0-2-4 3-4 0-3-1-5-5-5 1-3-1-3-5-1-7 3-4 5-1 3 1 4 5 2 1 11-5 0-4-11 6-8-5-3 0-3 1-2 2-2 4 0 5 2 4 3 3 8 1zM315 36l2 1 2-1-2-2-2-1-1 2zM320 28l7 0 7-2 2-5-1-3-2-3-3-2-3-1-10 4-2 4 0 3 2 3zM320 26l-2-2-1-3 1-3 2-2 5-2 3 0 3 2 2 2 1 4-2 3-6 2zM145 26l5-1 3-2 1-4-1-4-2-2-10-7-5 0-4 1-2 2-3 7-1 3 1 2 3 1 5-1 6 4zM142 24l-2-2-2-3 0-3 1-2 2-2 3 0 4 0 3 2 2 4-1 4-4 3zM359 19l2 1 3-4 1-4-1-2-2-1-7 0-6-3-3 1 0 2 1 1 6 3zM80 18l1 1 0-2-1-3-1 2zM302 14l3 1 2-1-2-6 4-2 1-5 2-3 12-8 6-3 17-2 14 3 2 1 1 8 2 1 2-1 5-4 2-4-2-2-7-1-1-1 1-7 4-5 4 1 13 10 3 1 3-1 3-4-1-20 9-1 3-1 4-4 0-3-6-4-12 0-15 1-2 2-4 6-2 1-13-6-3 1-7 3-3 1-19-3-7-4-4-5-8 4-10 1-5-1-8-6-3 0-3 1-6 9-10 5-2 5-1 7 1 6 7 10-1 6 0 4 2 3 3 0 3-1 4-7 14-2 5 1 2 1 1 3 0 9-1 3-4 4 0 1 2 2zM301 9l-2-1 0-1 2-6 2 0 2 3-3 2zM305-5l-7-8-20-1-14-10-2-2-1-6 1-7 2-2 8-5 7-8 3 1 8 4 19-1 17 6 12 1 6 1 4-1 7-3 3 0 4 1 9 7 8-5 4-1 7 3 3 5 0 9-1 4-2 2-3 0-6-3-9-6-2-1-3 4-6 10-2 2-4 0-9-1-14 1-5 1-15 8-5 2zM401-44l-4-2 0-2 1-1 4 0 3 1-1 3zM653 10l4-6 1-12-1-2-5-5 0-4 3-5 11-9 1-2 0-2-4-7-28-18-2-4 1-10-2-2-3 0-6 5-4 10-3 25 11 11 8 3 4 4 2 5-3 12 0 3zM651 8l-9-7 1-5 3-3 6 1 4 4 0 3 0 4-3 3zM649-26l-2-1-6-6-12 0-4-2-3-4-2-8 0-10 2-5 4-4 3 1 10 9 7 9 10 4 4 4 1 4-3 4-5 4zM175 9l4 0 7-5 1-3 1-5-1-3-6-3-3-3 0-4 4-6-3-4-3-1-10 6-3 3-4 5-4 11 7 2zM175 4l-5-5-4-13 3-4 6-2 1 1 0 6 4 13-2 4zM445 9l1 0 0-2-3-8 2-4 9-4 11-1 5-4 1-3 0-3-1-4-2-2-4 0-7 7-11-4-4 1-3 2-1 4 1 5-2 5 4 6 2 7zM443-12l-3-2-1-2 1-3 2-2 6 0 5 3 1 3-3 3-4 1zM101 8l4 1 4-2 4-6 2-5-4-17-2-2-5-1-9 11-1 4 2 12 2 3zM101 6l-3-2-2-3-1-10 2-4 5-6 3-1 3 2 2 4 3 6 0 5-2 4-3 4-4 2zM129-22l2 1 2-1 4-6 1-6-1-8-3-6-2-2-3-1-7 0-2 2 4 3 1 2-1 16 2 3zM129-24l-3-4 0-8 1-10 1-2 2-1 3 2 2 3 1 10 0 5-2 4-3 2zM421-34l6 1 4-3 1-3 0-3-5-8 3-5 4-7 8-5 2-7 9-6 4-4 1-10-2-9-4-9-4-3-11 2-7 1-7-2-9-4-20 4-8 0-3 2-2 4-3 8 3 12 2 4 3 3 5 2 20 4 9 1 13-2 4 0 3 2-6 6-9 2-2 2-2 8 0 6-4 4-2 3 1 5zM422-35l-4-3-1-5 1-2 3-2 5 0 4 4 0 5-4 3zM411-76l-20-4-4-2-3-3-3-5-1-9 1-6 3-4 4-2 15-4 11-2 15 5 16 0 4 2 3 3 4 6 1 7-2 7-3 4-4 3-7 2-21 2zM445-36l3 1 3-1 4-3 3-4 0-7 3-6 0-3-3-3-4 0-3 3-1 7-7 10 0 3zM454-52l-2-3 0-3 2-3 3 0 3 2 0 4-3 3zM326-57l3 0 1-2-1-1-3 1zM568-61l4 0 2-2-3-5-3-2-3 3-1 2 2 3zM359-70l6 1 4-2 3-5-2-4-3-2-3-1-4 1-4 2-2 3 0 3 2 3zM362-70l-4-1-2-2-1-2 1-3 2-2 3-2 6 1 3 3 0 4-3 3zM605-70l6-1 2-2 0-2-2-2-4 1-3 4zM579-71l5 0 8-5 2-4-2-4-4-3-5 0-5 1-4 2-3 4 0 4 3 3zM578-74l-3-2-2-3 1-3 3-3 4-1 5 0 4 1 2 3 0 4-3 3-5 2zM294-72l5-1 2-3-1-3-4-2-4 0-2 3 1 4zM294-73l-2-2-1-3 2-2 3 0 3 2 1 2-2 3zM702-102l-1-10-2 6 1 2zM690-127l5 0 1-1-3-2-5 0-1 1z"/><path fill="#ffff00" fill-rule="evenodd" d="M213 127l9 1 9-1 6-2 1-3-3-3-7-3-6-1-9 2-8 2-3 3 3 2zM217 127l-7-1-5-3 0-1 1-2 6-2 8-2 7 1 7 2 3 3-1 2-5 2zM295 127l25 0 19-3 3-1-4-3-15-3-21-1-9-2-9 5-3 3 1 2 3 1zM305 127l-14-1-6-2-2-2 1-2 8-4 29 1 12 3 4 2-1 1-2 1-9 2zM105 126l5 1 5 0 5-2 3-2-3-3-3-2-9 0-4 1-2 2 0 3zM108 126l-3-1-1-2 0-2 3-2 7 0 3 1 2 2 0 2-2 1zM62 115l5 0 2-2 0-1-4-1-5-1-1 1 0 2zM143 115l3 0 1-2-3-4-4-2-8-2-3 1-2 2 0 3 2 2zM241 104l2 0 3-1 1-3-2-1-2 0-2 3zM364 100l11 0 4-2 0-3-5-3-7 1-4 2-2 2 0 2zM366 99l-1-1 0-2 3-2 5-1 4 2 0 2-3 2-4 1zM635 99l7 0 3-2 2-2-1-4-6-5-1-2 5-12 2-9-1-5-4-5-4-3-4-1-8 3-5 8-5 12-1 14 1 4 2 2 12 6zM633 98l-6-2-9-7-2-4-1-9 2-7 6-13 5-4 6-1 3 0 3 2 4 7 1 5-1 6-6 13 1 2 5 4 1 3-1 3-2 1-4 1zM432 98l4 0 3-3 0-4-2-2-6-1-5 3 0 2 1 2zM539 97l3 1 2-1 8-9 0-2-1-2-6-3-13-1-3 1-4 3-11 10 2 2 3 0 11-3zM539 93l-2-3 1-3 3-1 4 1 0 2-1 3-3 2zM301 96l4-1 3-2 0-3-2-3-7 0-3 1-2 2 0 2 1 2zM298 94l-3-3 3-3 5-1 2 1 2 2-1 2-2 2-3 1zM150 93l11-1 8-3 4-5-1-2-3-2-15-2-15 2-15-2-11 2-3-5-4-2-9 0-4 2 2 7 3 4 4 0 8-2 4 4 3 1 20 1zM149 92l-11-3-12 0-8-1-4-2 0-3 3-3 6-1 16 2 13-2 11 1 7 3 0 2-2 2-8 4zM98 85l-2-2-2-4 0-3 1-2 3-1 5 0 6 3 1 3-1 3-6 3zM213 91l8 0 3-2 1-2-2-2-4-1-7 1-2 1-1 2 2 2zM215 91l-4-2-1-2 2-1 6-1 3 0 2 2 0 2-2 1zM496 91l5-1 2-2-2-4-4-2-4 2-2 3 2 3zM465 90l2-1 1-2 0-3-1-3-2 1-1 3 0 3zM673 89l4 1 3-1 2-2 1-4-3-4-6-3-1-6-3-6 2-7-1-5-4-3-4 0-4 3-1 5 3 4 7 3 0 1-1 11 1 3 2 7zM673 88l-2-4 1-4 4-1 5 2 1 3-1 3-3 2zM665 61l-4-2-2-3 1-4 4-2 4 1 2 4-1 4zM32 88l11 1 20-5 1-1 0-1-2-2-14-7-1-1 1-1 2-2-4 0-4 1 1 2-2 1-18 5-4 2 0 2 3 3 4 2zM39 88l-11-2-5-2-1-3 5-3 13-3 5 0 10 3 3 2 1 2-2 2-10 3zM203 85l4-1 2-3-2-5-3-2-3 1-2 4 1 4zM202 84l-2-2 0-3 1-3 3-1 3 2 1 4-3 3zM272 81l3 1 3-1 3-4-1-5-4-2-5 0-2 3 0 5zM274 81l-4-2-1-4 2-3 4-2 4 2 2 4-3 4zM406 77l4 0 12-5 3-3 0-3-2-1-7 0-9-1-5 1-1 2 1 5 1 3zM230 74l2-1 2-2-4-7-5-1-4 1-1 2 2 3 4 4zM199 73l1-1 1-4-1-2-2-1-2 1-1 3 2 3zM197 71l-1-2 0-2 2-1 1 0 1 2 0 3-1 1zM449 73l5 0 4-3-1-4-4-3-4 0-4 3 0 4zM450 72l-3-2 0-3 2-3 4 0 2 2 1 3-2 2zM113 69l5 1 5-2 5-4 2-4-3-4-9-4-10-8-2 0-2 2 0 10 5 10zM117 66l-3-2-5-7-1-3 2-2 2 0 9 5 3 3 0 3-2 2zM28 67l5 0 4-2 0-3-1-3-4-4-5 2-4 4 1 4zM29 66l-3-2-1-3 3-3 4-1 3 3 0 4-3 2zM158 67l5 0 10-2 2-1 1-2-4-3-5 0-14 5 2 2zM142 65l4 0 3-2-4-3-5 0-2 1 0 2zM67 57l2-2-1-2-2 3zM468 57l5-1 6-6 8-5 3-4 2-5 1-4-1-11 2-11 0-4-2-5-7-3-10-2-7 1-5 3-4 6 0 5 7 6 1 2 0 23-5 10 2 3zM472 47l-1-2-1-6-1-12 0-8-1-3-6-5-1-4 2-5 4-3 5-2 7 0 9 3 2 2 2 3 0 5-2 11 1 13-2 5-3 3-10 5zM549 45l9 1 8-1 5-4 2-3-1-2-9-9-5-4-6-1-6 1-6 5-2 3 1 3 5 7zM552 44l-3-1-3-2-3-5-1-4 3-6 3-2 4-1 4 1 4 2 7 7 2 4-1 3-4 3-5 1zM349 43l7 1 5-3 1-4-2-5-3-2-4 0-5 2-3 2-1 2 0 3 1 2zM351 42l-5-3 0-2 1-2 5-3 3 0 3 1 2 3-1 4-3 2zM3 36l4 0 4-2 6-7 6-5 1-3 0-4-2-4-4 1-18 8-6-6-3-1-3 1 0 1 4-1 3 2 4 7 8-4 9 1-3 10-2 3-3 2-3 0-3-1-5-6-6 1-3-1 0 2 2 1 6-1 4 4zM723 36l6 0 3-3 0-1-4 3-4 0-4-2-3-5-5 1-3 0-2-2-2-3 0-6 4-4 4 1 3 2 3 6 7-3 6-1 0-4-12 5-6-6-4-1-3 1-2 3-1 3 0 4 2 4 4 3 6-1 4 4zM321 26l6 1 5-2 1-1 1-3-2-4-2-2-3-1-8 3-2 5 2 3zM323 25l-3-3 0-4 6-2 4 2 1 3-1 3-3 1zM143 24l6 0 4-3 0-5-4-3-6-1-3 1-2 2 0 5 2 2zM143 23l-4-4 1-4 5-2 5 2 2 4-1 3-4 2zM301 9l1-3 3-2-2-3-2 0-2 6 0 1zM651 8l2 0 3-3 0-4 0-3-4-4-7 0-2 2-1 5zM650 7l-4-4 0-3 3-4 3 0 3 2 1 5-3 4zM101 6l4 1 3-2 3-4 2-5-1-5-2-6-3-4-3-1-2 1-4 5-3 6 1 9 2 3zM103 5l-3-1-2-2-2-9 1-3 2-4 2-2 3-1 3 2 2 2 2 4 0 5-1 4-2 3-3 2zM175 4l3 0 2-4-4-13 0-6-1-1-6 2-3 4 4 13 2 3zM306-4l8-3 17-8 15-1 9 1 4 0 2-2 6-10 3-4 2 1 9 6 6 3 3 0 2-2 1-4 0-9-3-5-7-3-4 1-8 5-9-7-4-1-3 0-7 3-4 1-6-1-12-1-17-6-19 1-8-4-3-1-7 8-8 5-2 2-1 7 1 6 2 2 14 10 20 1zM307-8l-9-7-13 0-5-1-15-12-2-5 2-5 14-11 2 0 9 3 11-2 6 0 18 6 12 0 8 2 10-4 3 0 4 2 5 5 0 3-1 4-5 10-3 3-4 0-9-1-13 1-17 8zM383-24l-6-4-4-5 1-3 2-2 7-3 4 1 3 2 2 3 1 4-1 4-2 3-3 1zM443-12l4 1 4-1 3-3-1-3-5-3-6 0-2 2-1 3 1 2zM444-13l-3-3 1-3 5-1 4 2 1 2-2 2-3 1zM129-24l2 1 3-2 2-4 0-5-1-10-2-3-3-2-2 1-1 2-1 13 0 6zM129-26l-2-4 0-9 2-5 2-1 3 4 1 8-2 6-2 1zM649-26l4-1 5-4 3-4-1-4-4-4-10-4-7-9-10-9-3-1-4 4-2 5 0 10 2 8 3 4 4 2 12 0 6 6zM650-31l-3-3 0-4 3-2 4 1 2 2 0 3-3 3zM628-38l-5-5-1-6 1-9 2-2 2-1 4 1 7 5 2 3 1 5-1 5-3 3-5 2zM323-30l2 1 3-1 0-3-3-2-3 1 0 2zM422-35l5 0 3-4-1-5-4-3-5 1-3 3 1 5zM423-36l-3-2-1-4 2-3 4-1 3 3 1 4-3 3zM401-44l3-1 1-3-3-1-4 0-1 1 0 2zM454-52l4 0 2-3 0-4-3-2-3 0-2 3 0 4zM455-53l-2-2 0-3 2-2 2 0 2 2 0 3-2 2zM362-70l5-1 3-3 0-4-3-3-6-1-3 2-2 2-1 3 1 2 3 2zM361-71l-5-3 0-3 1-2 6-2 5 1 2 3-2 4-3 2zM295-73l3 0 2-3-2-3-3-1-3 1-1 3 1 2zM294-75l-1-2 1-1 2 0 2 1-1 2zM578-74l6 1 5-2 3-3 0-4-2-3-4-1-5 0-4 1-3 3-1 3 2 3zM579-75l-3-2-1-2 1-3 2-2 4-1 4 0 3 1 2 2 0 4-3 3-4 1zM411-76l9 0 21-2 7-2 4-3 3-4 2-7-1-7-4-6-3-3-4-2-16 0-15-5-11 2-15 4-4 2-3 4-1 6 1 9 3 5 3 3 4 2zM411-77l-20-5-6-4-3-6-1-7 1-5 4-4 17-6 12-2 13 4 16 1 5 3 4 4 2 5 1 6-2 5-4 4-11 5-18 2z"/><path fill="#ffc700" fill-rule="evenodd" d="M217 127l14-1 5-2 1-2-3-3-7-2-7-1-8 2-6 2-1 2 0 1 5 3zM215 126l-6-2-2-2 2-2 6-2 13 0 5 2 2 2-1 2-6 2-7 1zM305 127l20-1 9-2 2-1 1-1-4-2-12-3-29-1-8 4-1 2 2 2 6 2zM300 126l-10-1-5-2 0-1 1-2 6-3 27 1 10 2 3 2-2 2-8 2zM109 126l8-1 2-1 0-2-2-2-3-1-7 0-3 2 0 2 1 2zM110 125l-3-1 0-2 1-1 4 0 4 1-1 2zM366 99l4 1 4-1 3-2 0-2-4-2-5 1-3 2 0 2zM369 97l0-1 3 0-1 1zM633 98l5 0 4-1 2-1 1-3-1-3-5-4-1-2 6-13 1-6-1-5-4-7-3-2-3 0-6 1-5 4-6 13-2 7 1 9 2 4 9 7zM632 97l-5-2-8-8-2-4-1-7 2-7 5-11 4-4 6-2 3 1 3 1 2 3 2 4 0 5-1 6-5 12 0 2 6 5 1 2-1 2-3 2zM298 94l4 1 3-1 2-3-1-2-4-2-5 1-2 3 1 2zM300 93l-2-1 0-1 2-1 3 0 0 2zM539 93l3 0 2-1 1-3 0-2-4-1-4 2 0 3zM149 92l11-1 8-4 2-2 0-2-7-3-11-1-13 2-16-2-6 1-3 3 0 3 4 2 8 1 12 0zM149 91l-11-4-10 1-8-1-3-1-1-3 2-2 5-1 6 0 10 2 11-2 8 0 8 3 1 1-1 2-2 2-5 2-5 1zM215 91l6-1 2-1 0-2-2-2-3 0-6 1-2 1 1 2zM214 90l-2-2 1-2 5-1 3 2 0 2-2 1zM39 88l8-1 10-3 2-2-1-2-3-2-10-3-5 0-13 3-5 3 1 3 5 2zM37 87l-8-1-4-2-1-3 5-3 9-2 6 0 7 2 5 3-1 2-7 3-5 1zM674 88l4 1 3-2 1-4-2-3-5-1-4 2 0 4zM674 87l-2-3 1-3 4-1 3 2 1 3-2 2-2 1zM98 85l5 0 6-3 1-3-1-3-6-3-5 0-3 1-1 2 0 3 2 4zM98 84l-3-5 1-4 7-1 5 3 0 3-2 3-5 2zM203 84l3 0 2-4-1-3-3-2-3 1-1 3 0 3zM203 83l-2-2 0-2 1-2 2-1 2 1 1 3-2 3zM274 81l4-1 3-4-2-4-4-2-4 2-2 3 1 4zM273 80l-2-2-1-4 3-3 3 0 3 2 1 4-3 3zM450 72l4-1 2-2-1-3-2-2-4 0-2 3 0 3zM197 71l2 1 1-2 0-2-2-2-2 2zM29 66l4 0 2-2 0-4-3-3-4 1-3 3 1 3zM30 63l-1-3 3 0 1 2-1 1zM117 66l3 0 3-2 1-3-1-2-10-6-3-1-2 2 1 3 5 7zM665 61l4-2 1-4-2-4-4-1-4 2-1 4 2 3zM663 59l-2-2 0-3 2-2 3 0 2 2 0 3-2 2zM473 47l4-1 9-4 3-4 2-5-1-12 2-11 0-5-2-3-3-2-10-3-6 0-5 2-4 4-1 4 1 4 6 5 1 3 0 8 1 14 1 4zM475 39l-2-3-2-7 0-11-7-7-1-4 1-3 3-4 4-1 5-1 6 1 4 2 3 3 2 4-4 13 1 10-1 5-2 2-3 2-5 0zM553 44l7 0 4-1 4-3 1-3-2-4-7-7-4-2-5-1-6 3-3 4 0 3 1 4 3 4 3 2zM554 42l-6-3-2-5 1-6 2-2 3-1 4 1 3 2 4 4 2 4 0 3-2 2-4 1zM352 42l5 0 3-3 0-4-3-3-6 0-3 2-2 2 0 2 1 2zM354 39l-2-1-1-2 2-2 2 0 1 1 1 2-1 2zM4 35l4 0 4-3 2-4 2-8-9-1-8 4-3-6-2-2-3-1-3 1 0 2 3-1 3 1 2 5-1 3-1 1-3 1-3-1 0 2 3 1 6-1 3 5zM3 33l-3-4 0-4 6-4 5 2 2 3-2 5-4 3zM724 35l3 0 3-1 2-2 0-3-3 4-5 1-3-3-1-5 3-3 3-2 4 1 2 2 0-5-6 1-7 3-3-6-2-2-4-1-3 2-2 5 2 6 4 2 6-1 3 5zM710 27l-3-3-1-4 2-3 4-1 3 3 1 5-3 3zM323 25l4 0 3-1 1-3-1-3-4-2-6 2 0 4 1 2zM143 23l4 1 4-3 1-3-2-3-5-2-5 2-1 4 1 2zM144 22l-2-2-1-3 3-2 4 0 2 2 0 3-2 2zM650 7l3 0 2-2 1-3-2-5-3-2-3 2-2 4 1 3zM652 7l-3-1-2-3 1-4 3-3 3 2 1 3-1 4zM103 5l3 0 3-3 2-3 1-4-1-4-2-4-2-2-3-2-3 1-2 2-2 4-1 3 2 9 2 2zM102 3l-3-3-2-7 2-5 2-2 3 0 3 1 1 2 2 7-1 3-2 3-2 1zM308-8l7-1 17-8 13-1 9 1 4 0 3-3 5-10 1-4 0-3-5-5-4-2-3 0-10 4-8-2-12 0-18-6-6 0-11 2-9-3-2 0-14 11-2 5 2 5 15 12 5 1 13 0zM307-11l-8-5-12 0-5-2-14-11-1-4 1-4 11-7 11 1 10-3 5 0 8 2 12 4 11 0 9 3 13-4 4 2 2 3 1 3-1 4-4 7-3 2-3 1-9-2-13 0-3 1-14 9-4 1zM444-13l4 0 3-1 1-2-1-2-4-2-5 1-1 3 1 2zM444-15l-1-2 1-1 3 0 2 1-1 2zM384-24l3 1 3-1 2-3 1-5-1-3-2-3-3-2-4-1-7 3-2 2-1 3 4 5zM382-26l-5-4-1-4 2-3 3-1 6 0 2 1 2 3 0 6-2 2-2 1zM130-26l3-1 2-7-1-7-3-4-2 1-1 1-1 6 1 8zM322-28l4 1 4-2 2-3-2-3-5-3-6 3-1 2 0 2zM323-30l-1-3 1-2 3 0 2 2 0 3-3 1zM651-31l3-1 2-3 0-3-4-2-4 1-1 2 1 4zM423-36l4-1 2-3-1-4-4-2-3 1-2 3 1 4zM424-38l-1-1-1-3 2-2 2 1 1 3-1 2zM628-38l5 1 5-3 2-3 1-4-1-5-2-3-7-5-4-1-2 1-2 2-1 9 1 6zM630-42l-4-2-2-5 2-4 4-2 5 1 2 5 0 3-2 2zM455-53l3-1 1-2 0-2-2-2-2 0-2 2 0 3zM455-55l-1-2 1-1 2 1 0 2zM361-71l4 0 3-2 2-4-2-3-3-1-3 0-5 2-1 3 0 2 2 2zM360-72l-3-3 0-2 2-2 4-2 5 2 1 3-2 3-3 1zM294-75l3 0 1-2-2-1-2 0-1 2zM579-75l5 1 5-2 3-3-1-3-2-2-3-1-4 0-4 1-2 2-1 3 1 2zM580-76l-4-3 1-2 1-2 6-2 3 1 2 2 1 3-2 2-4 2zM412-77l9 0 18-2 11-5 4-4 2-5-1-6-2-5-4-4-5-3-16-1-13-4-12 2-17 6-4 4-1 5 1 7 3 6 6 4zM412-78l-20-5-6-4-3-6-1-6 2-5 3-3 16-6 12-2 13 3 15 2 5 3 4 4 2 5 0 6-2 4-4 4-11 4-16 2z"/><path fill="#ff8500" fill-rule="evenodd" d="M215 126l13 0 6-2 1-2-2-2-5-2-6-1-8 1-6 2-1 2 2 2zM214 125l-4-2 0-2 3-2 4-1 11 0 4 2 1 2-2 2-5 1zM300 126l22 0 8-2 2-2-3-2-10-2-27-1-6 3-1 2 0 1 5 2zM298 125l-7-1-3-1-1-1 1-2 5-2 25 0 8 2 2 2-2 2-6 1zM110 125l5-1 1-2-4-1-4 0-1 1 0 2zM369 97l2 0 1-1-3 0zM633 97l7 0 3-2 1-2-1-2-6-5 0-2 5-12 1-6 0-5-2-4-2-3-3-1-3-1-6 2-4 4-5 11-2 7 1 7 2 4 8 8zM633 96l-6-3-3-6-4-3-2-4 0-5 1-7 5-9 4-4 5-1 5 2 4 6 0 5-1 5-6 12 7 9-1 2-2 1zM301 93l2-1 0-2-3 0-2 1 0 1zM149 91l10-1 5-2 2-2 1-2-1-1-8-3-8 0-11 2-10-2-6 0-5 1-2 2 1 3 3 1 8 1 10-1zM150 90l-4-1-5-3-1-1 3-2 5-2 5 0 6 1 2 2 0 3-3 2zM122 86l-3-1 0-2 4-2 8 1 5 2 0 1-4 1zM215 90l5 0 1-1 0-2-3-2-5 1-1 2zM216 88l0-1 1 0 1 1zM38 87l6 0 7-2 4-2 1-2-5-3-7-2-7 0-9 3-4 2 0 1 1 2 5 2zM38 86l-7-1-3-2 0-2 4-2 7-2 5 0 5 1 4 3-1 2-3 2-5 1zM675 87l3 1 2-2 1-3-2-2-4-1-3 2 0 3zM675 85l0-2 3 0 0 2zM98 84l4 0 5-2 1-2 0-3-5-3-7 1-1 1 0 3 1 3zM98 83l-2-4 1-3 5-1 4 2 0 3-1 2-4 1zM203 83l2 0 2-3-1-3-2-1-2 1-1 2 0 2zM274 80l4-1 2-3-2-4-3-1-3 1-2 3 1 3zM273 79l-2-2 0-3 3-2 3 0 2 3-1 3-2 1zM31 63l2 0 0-2-3-1-1 1zM663 59l3 0 2-2 0-3-2-2-3 0-2 2 0 3zM554 42l5 0 4-1 2-2 0-3-2-4-4-4-3-2-4-1-3 1-2 2-1 6 2 5zM553 38l-2-2 0-4 2-3 2 0 4 3 1 4-2 2zM354 39l2 0 1-2-1-2-1-1-2 0-2 2 1 2zM475 39l3 1 5-1 4-3 1-5-1-10 4-13-2-4-3-3-4-2-6-1-5 1-4 1-3 4-1 3 1 4 7 7 0 11 2 7zM476 29l-1-4 3-4 2 3 0 4-2 1zM478 20l-10-8-2-4 1-4 4-3 5-1 6 1 4 2 2 3 0 4-2 5-4 4-3 1zM3 33l4 1 4-3 2-5-1-2-2-2-5 0-5 3 0 4zM4 31l-2-3 1-3 3-2 3 1 2 3-1 3-3 2zM723 33l4 1 4-3 1-2 0-5-2-2-5 0-5 3 0 4zM724 31l-2-3 1-3 3-2 3 1 2 3-1 3-3 2zM-10 27l4-1 2-3-2-5-3-2-3 1 0 9zM710 27l4-1 2-3-2-5-3-2-3 1-2 4 1 4zM145 22l3 0 2-3-1-3-3-2-3 1-2 3 1 3zM652 7l2-2 1-4-1-3-3-2-3 3-1 4 2 3zM650 6l-2-2 0-3 1-3 3-1 2 2 0 4-1 3zM103 3l2 0 3-2 2-6-2-6-1-2-3-1-3 0-2 2-2 5 2 7 1 2zM102 0l-2-2-1-5 2-4 3-1 3 3 1 5-3 4zM307-11l4 1 4-1 14-9 3-1 13 0 9 2 3-1 3-2 4-7 1-4-1-3-2-3-4-2-13 4-9-3-11 0-12-4-8-2-5 0-10 3-11-1-11 7-1 4 1 4 14 11 5 2 12 0zM308-14l-7-3-13-1-4-1-4-4 0-5 7-6 2-3 9-5 7-1 10 3 3 2-3 5 1 2 1 2 5 4 0 2-2 5-3 3-5 2zM349-23l-6-2-8-2 0-9 2 0 6 3 10-3 5 0 2 0 1 2 0 3-4 7-4 2zM322-28l-3-2-1-2 2-4 5-2 5 3 2 3-2 3-4 2zM273-32l0-2 3-1 1 1-1 2zM444-15l4 0 1-2-2-1-3 0-1 1zM382-26l5 1 2-1 2-2 0-6-2-3-2-1-6 0-3 1-2 3 1 4zM384-27l-4-2-2-3 1-3 4-2 4 1 2 4-1 4-1 1zM424-38l2 0 1-3-1-2-2-1-2 2 1 3zM630-42l3 0 2-2 2-5-2-5-5-1-4 2-2 5 2 4zM455-55l2 0 0-3-2 0-1 1zM361-72l4 0 3-2 1-3-2-3-5-1-4 3-1 2 1 2zM361-73l-2-2 0-3 4-2 3 1 1 3-1 2-2 1zM580-76l4 1 4-2 2-2-1-3-2-2-3-1-6 2-1 2-1 2zM582-77l-3-2 0-2 3-2 4 1 1 2-1 2zM412-78l9 0 16-2 11-4 4-4 2-4 0-6-2-5-4-4-5-3-15-2-13-3-12 2-16 6-3 3-2 5 1 6 3 6 6 4zM414-79l-21-5-5-3-3-5-1-6 1-5 3-3 14-6 14-1 26 4 5 3 4 4 2 5-1 4-1 4-5 4-10 4-15 2z"/><path fill="#ff3d00" fill-rule="evenodd" d="M215 125l12 0 4-1 2-2-1-2-5-2-11 0-5 2-2 2 2 2zM215 124l-2-1-1-2 6-2 8 0 3 1 2 2-3 2-4 1zM298 125l22 0 6-1 2-2-2-2-8-2-25 0-5 2-1 2 1 1 3 1zM302 124l-11-1-1-2 4-2 23 0 5 1 3 2-3 2-4 1zM633 96l6 0 2-1 1-2-7-9 6-12 1-5 0-5-4-6-5-2-5 1-4 4-5 9-1 7 0 5 2 4 4 3 3 6zM631 94l-3-2-1-2 2-3 2-1 5 2 3 4-1 2-1 0zM625 83l-3-1-2-3-1-5 1-5 3-6 4-5 4-2 4 0 3 2 2 4 0 6-1 6-2 4-4 4-3 1zM150 90l5 0 5-2 1-2 0-2-2-2-6-1-5 0-5 2-3 2 1 1 5 3zM148 88l-2-1-1-2 2-2 5-1 3 2 1 2-2 2zM217 88l1 0 0-1-2 0zM39 86l5 0 5-1 3-2 1-2-4-3-5-1-5 0-7 2-4 2 0 2 4 2zM41 85l-7-2-1-1 2-2 8-2 4 1 3 2 0 2-2 1zM122 86l10 0 4-1 0-1-5-2-8-1-3 1-1 2zM675 85l3 0 0-2-3 0zM99 83l4 0 3-2 1-2-1-2-5-2-4 1-1 4 1 2zM99 81l-1-2 1-1 3 0 1 1-1 2zM273 79l3 0 2-1 1-3-2-3-3 0-3 2 0 3zM273 78l-1-2 0-2 2-1 2 0 2 2 0 2-2 1zM554 38l5 0 1-3-2-4-4-2-2 1-1 4 1 3zM4 31l3 1 3-3 0-3-1-2-3-1-3 2-1 4zM724 31l3 1 3-3 0-3-1-2-3-1-3 2-1 4zM476 29l2 0 2-1 0-4-2-3-3 4 0 2zM478 21l5-3 4-4 1-4 0-4-2-3-4-2-6-1-5 1-4 3-1 4 1 3zM475 15l-5-5-1-3 1-2 2-2 4-1 5 0 3 1 3 5-2 5-4 2zM651 6l2-1 2-3-1-3-3-2-2 2-1 3 1 3zM650 5l-1-2 0-3 1-1 2-1 2 2 0 3-2 2zM102 0l3 0 3-4-1-5-3-3-3 1-2 4 1 5zM308-14l4 1 5-2 3-3 2-5 0-2-5-4-1-2-1-2 3-5-3-2-10-3-7 1-9 5-2 3-7 6 0 5 4 4 4 1 13 1zM299-19l-13-1-3-3 1-3 4-3 5-2 7 0 10 3 2 1 1 2 0 4-1 2-4 1zM349-23l5 1 4-3 3-6 0-3-1-2-2 0-5 0-10 3-6-3-2 0 0 9 8 2zM350-28l0-2 2 0 0 2zM385-27l2 0 2-2 0-4-2-3-5-1-3 2-1 3 2 3zM274-31l2-1 1-2-1-1-2 0-1 1 0 2zM362-73l3 0 2-2 0-2-2-2-4 0-2 2 0 3zM582-77l4-1 1-2-1-2-4-1-3 2 0 2zM414-79l8 0 14-2 10-4 5-4 1-4 1-4-2-5-4-4-5-3-26-4-14 1-14 6-3 3-1 5 1 6 3 5 5 3zM411-81l-9-3-9-2-5-4-2-5 0-5 2-4 5-3 11-4 15-1 22 4 5 3 4 5 1 4-1 4-3 4-5 3-5 2-15 3z"/><path fill="#f50000" fill-rule="evenodd" d="M215 124l9 1 4-1 3-2-2-2-3-1-8 0-6 2 1 2zM221 123l-4-1 0-1 3-1 5 0 2 1 0 1-2 1zM302 124l16 1 4-1 3-2-3-2-5-1-23 0-4 2 1 2zM311 123l-1-1 1-1 2 0 5 0 3 1-3 1zM631 94l5 1 3-2-3-5-5-2-2 1-2 3 1 2zM631 92l-1-1 0-2 2-1 3 1 0 1-1 2zM148 88l6 0 2-2-1-2-4-2-5 2-1 2zM41 85l7-1 2-1 0-2-3-2-4-1-8 2-2 2 1 1zM626 83l4 0 4-2 3-3 2-5 1-6 0-5-2-4-3-2-4 0-4 2-4 5-3 6-1 5 1 5 2 3zM627 79l-4-1-2-2 0-3 1-5 5-8 4-2 3 1 3 2 1 3 0 5 0 4-2 3-3 3zM99 81l3 0 1-3-4 0-1 1zM274 78l3 0 1-2-1-2-1-1-2 0-2 2 0 2zM476 15l5 0 4-3 1-5-3-4-3-1-5 0-5 3-1 3 1 2 2 3zM477 13l-3-3 1-3 3-3 4 1 2 3-1 3-3 2zM650 5l2 0 2-2 0-3-2-2-2 1-1 1 0 3zM650 4l-1-2 1-2 2-1 1 2 0 2-1 1zM299-19l9 1 4-1 1-2 0-4-1-2-2-1-11-3-7 0-6 3-3 3 1 3 2 2zM288-22l-2-2 1-1 5-3 9 1 5 3-1 2-2 1-6-1-6 1zM350-28l2 0 0-2-2 0zM412-81l10 1 15-3 5-2 5-3 3-4 1-4-1-4-4-5-5-3-22-4-15 1-11 4-5 3-2 4 0 5 2 5 5 4 9 2zM415-82l-12-5-9-1-4-3-2-5 0-4 2-3 5-3 9-3 20-1 7 1 10 3 4 3 3 3 1 4-1 3-2 3-4 3-8 3-13 2z"/><path fill="#990000" fill-rule="evenodd" d="M221 123l5 0 1-1 0-1-2-1-5 0-3 1 0 1zM312 123l6 0 3-1-3-1-5 0-2 0-1 1zM631 92l3 0 1-2 0-1-3-1-2 1 0 2zM627 79l4 0 3-1 4-6 0-5 0-4-2-3-3-2-3 0-3 2-3 4-2 5-1 5 1 3 2 2zM477 13l4 0 2-2 1-3-2-3-4-1-4 4 0 3zM650 4l2 0 1-1 0-2-1-2-2 1-1 2zM288-22l3 1 6-1 6 1 2-1 1-2-5-3-9-1-3 1-2 2 0 2zM415-82l6 0 13-2 8-3 4-3 2-3 1-3-1-4-3-3-4-3-10-3-7-1-20 1-9 3-5 3-2 3 0 4 2 5 4 3 9 1z"/></g></g></g>
<filter id="blur3" x="-0.05" y="-0.05" width="1.1" height="1.1"><feGaussianBlur stdDeviation="0.6"/></filter>
<linearGradient id="cbg" x1="0" y1="0" x2="0" y2="1"><stop offset="0" stop-color="#800000"/><stop offset="0.02" stop-color="#900000"/><stop offset="0.03" stop-color="#a00000"/><stop offset="0.05" stop-color="#b00000"/><stop offset="0.06" stop-color="#c00000"/><stop offset="0.08" stop-color="#cf0000"/><stop offset="0.09" stop-color="#df0000"/><stop offset="0.11" stop-color="#ef0000"/><stop offset="0.12" stop-color="#ff0000"/><stop offset="0.14" stop-color="#ff1000"/><stop offset="0.16" stop-color="#ff2000"/><stop offset="0.17" stop-color="#ff3000"/><stop offset="0.19" stop-color="#ff4000"/><stop offset="0.2" stop-color="#ff5000"/><stop offset="0.22" stop-color="#ff6000"/><stop offset="0.23" stop-color="#ff7000"/><stop offset="0.25" stop-color="#ff8000"/><stop offset="0.27" stop-color="#ff9000"/><stop offset="0.28" stop-color="#ffa000"/><stop offset="0.3" stop-color="#ffb000"/><stop offset="0.31" stop-color="#ffc000"/><stop offset="0.33" stop-color="#ffcf00"/><stop offset="0.34" stop-color="#ffdf00"/><stop offset="0.36" stop-color="#ffef00"/><stop offset="0.38" stop-color="#ffff00"/><stop offset="0.39" stop-color="#ebff00"/><stop offset="0.41" stop-color="#d8ff00"/><stop offset="0.42" stop-color="#c4ff00"/><stop offset="0.44" stop-color="#b0ff03"/><stop offset="0.45" stop-color="#93ff16"/><stop offset="0.47" stop-color="#77ff28"/><stop offset="0.48" stop-color="#5bff3b"/><stop offset="0.5" stop-color="#2dff55"/><stop offset="0.52" stop-color="#00ff6f"/><stop offset="0.53" stop-color="#00ff84"/><stop offset="0.55" stop-color="#00ff98"/><stop offset="0.56" stop-color="#00ffad"/><stop offset="0.58" stop-color="#00ffc1"/><stop offset="0.59" stop-color="#00fcd1"/><stop offset="0.61" stop-color="#00fae0"/><stop offset="0.62" stop-color="#00f7f0"/><stop offset="0.64" stop-color="#00f4ff"/><stop offset="0.66" stop-color="#00e4ff"/><stop offset="0.67" stop-color="#00d3ff"/><stop offset="0.69" stop-color="#00c2ff"/><stop offset="0.7" stop-color="#00b2ff"/><stop offset="0.72" stop-color="#00a1ff"/><stop offset="0.73" stop-color="#0091ff"/><stop offset="0.75" stop-color="#0080ff"/><stop offset="0.77" stop-color="#0070ff"/><stop offset="0.78" stop-color="#0060ff"/><stop offset="0.8" stop-color="#0050ff"/><stop offset="0.81" stop-color="#0040ff"/><stop offset="0.83" stop-color="#0030ff"/><stop offset="0.84" stop-color="#0020ff"/><stop offset="0.86" stop-color="#0010ff"/><stop offset="0.88" stop-color="#0000ff"/><stop offset="0.89" stop-color="#0000ef"/><stop offset="0.91" stop-color="#0000df"/><stop offset="0.92" stop-color="#0000cf"/><stop offset="0.94" stop-color="#0000c0"/><stop offset="0.95" stop-color="#0000b0"/><stop offset="0.97" stop-color="#0000a0"/><stop offset="0.98" stop-color="#000090"/><stop offset="1" stop-color="#000080"/></linearGradient>
</defs>
<path d="M150.88,354v-5M150.88,42.5v5M235.25,354v-5M235.25,42.5v5M319.62,354v-5M319.62,42.5v5M404,354v-5M404,42.5v5M488.38,354v-5M488.38,42.5v5M572.75,354v-5M572.75,42.5v5M657.12,354v-5M657.12,42.5v5M66.5,318.06h5M674,318.06h-5M66.5,278.12h5M674,278.12h-5M66.5,238.19h5M674,238.19h-5M66.5,198.25h5M674,198.25h-5M66.5,158.31h5M674,158.31h-5M66.5,118.38h5M674,118.38h-5M66.5,78.44h5M674,78.44h-5" stroke="#444" stroke-width="0.9" fill="none"/>
<g transform="translate(66.5 42.5) scale(1.68750 1.99679) translate(0 78)"><g clip-path="url(#cp)">
<use href="#grid"/><g mask="url(#dm)"><use href="#f0"/></g><use href="#land"/>
</g></g>
<rect x="66.5" y="42.5" width="607.5" height="311.5" fill="none" stroke="#8a8a8a" stroke-width="1.2"/>
<text x="370.25" y="34.8" text-anchor="middle" style="font-family:'Liberation Serif',serif;font-weight:bold;font-size:21px" fill="#111">STA-predict</text>
<text x="151.68" y="375.9" text-anchor="middle" style="font-family:'Liberation Sans',sans-serif;font-weight:bold;font-size:17.3px" fill="#262626">50</text>
<text x="236.05" y="375.9" text-anchor="middle" style="font-family:'Liberation Sans',sans-serif;font-weight:bold;font-size:17.3px" fill="#262626">100</text>
<text x="320.43" y="375.9" text-anchor="middle" style="font-family:'Liberation Sans',sans-serif;font-weight:bold;font-size:17.3px" fill="#262626">150</text>
<text x="404.8" y="375.9" text-anchor="middle" style="font-family:'Liberation Sans',sans-serif;font-weight:bold;font-size:17.3px" fill="#262626">200</text>
<text x="489.18" y="375.9" text-anchor="middle" style="font-family:'Liberation Sans',sans-serif;font-weight:bold;font-size:17.3px" fill="#262626">250</text>
<text x="573.55" y="375.9" text-anchor="middle" style="font-family:'Liberation Sans',sans-serif;font-weight:bold;font-size:17.3px" fill="#262626">300</text>
<text x="657.92" y="375.9" text-anchor="middle" style="font-family:'Liberation Sans',sans-serif;font-weight:bold;font-size:17.3px" fill="#262626">350</text>
<text x="61" y="324.26" text-anchor="end" style="font-family:'Liberation Sans',sans-serif;font-weight:bold;font-size:17.3px" fill="#262626">-60</text>
<text x="61" y="284.32" text-anchor="end" style="font-family:'Liberation Sans',sans-serif;font-weight:bold;font-size:17.3px" fill="#262626">-40</text>
<text x="61" y="244.39" text-anchor="end" style="font-family:'Liberation Sans',sans-serif;font-weight:bold;font-size:17.3px" fill="#262626">-20</text>
<text x="61" y="204.45" text-anchor="end" style="font-family:'Liberation Sans',sans-serif;font-weight:bold;font-size:17.3px" fill="#262626">0</text>
<text x="61" y="164.51" text-anchor="end" style="font-family:'Liberation Sans',sans-serif;font-weight:bold;font-size:17.3px" fill="#262626">20</text>
<text x="61" y="124.58" text-anchor="end" style="font-family:'Liberation Sans',sans-serif;font-weight:bold;font-size:17.3px" fill="#262626">40</text>
<text x="61" y="84.64" text-anchor="end" style="font-family:'Liberation Sans',sans-serif;font-weight:bold;font-size:17.3px" fill="#262626">60</text>
<text x="370.25" y="391.6" text-anchor="middle" style="font-family:'Liberation Sans',sans-serif;font-weight:bold;font-size:19.7px" fill="#262626">longitude</text>
<text x="0" y="0" transform="translate(36 198.25) rotate(-90)" text-anchor="middle" style="font-family:'Liberation Sans',sans-serif;font-weight:bold;font-size:20px" fill="#262626">latitude</text>
<path d="M900.31,354v-5M900.31,42.5v5M981.11,354v-5M981.11,42.5v5M1061.92,354v-5M1061.92,42.5v5M1142.72,354v-5M1142.72,42.5v5M1223.53,354v-5M1223.53,42.5v5M1304.33,354v-5M1304.33,42.5v5M1385.14,354v-5M1385.14,42.5v5M819.5,318.06h5M1401.3,318.06h-5M819.5,278.12h5M1401.3,278.12h-5M819.5,238.19h5M1401.3,238.19h-5M819.5,198.25h5M1401.3,198.25h-5M819.5,158.31h5M1401.3,158.31h-5M819.5,118.38h5M1401.3,118.38h-5M819.5,78.44h5M1401.3,78.44h-5" stroke="#444" stroke-width="0.9" fill="none"/>
<g transform="translate(819.5 42.5) scale(1.61611 1.99679) translate(0 78)"><g clip-path="url(#cp)">
<use href="#grid"/><g mask="url(#dm)"><use href="#f0"/></g><use href="#land"/>
</g></g>
<rect x="819.5" y="42.5" width="581.8" height="311.5" fill="none" stroke="#8a8a8a" stroke-width="1.2"/>
<text x="1110.4" y="34.8" text-anchor="middle" style="font-family:'Liberation Serif',serif;font-weight:bold;font-size:21px" fill="#111">STA-argo</text>
<text x="901.11" y="375.9" text-anchor="middle" style="font-family:'Liberation Sans',sans-serif;font-weight:bold;font-size:17.3px" fill="#262626">50</text>
<text x="981.91" y="375.9" text-anchor="middle" style="font-family:'Liberation Sans',sans-serif;font-weight:bold;font-size:17.3px" fill="#262626">100</text>
<text x="1062.72" y="375.9" text-anchor="middle" style="font-family:'Liberation Sans',sans-serif;font-weight:bold;font-size:17.3px" fill="#262626">150</text>
<text x="1143.52" y="375.9" text-anchor="middle" style="font-family:'Liberation Sans',sans-serif;font-weight:bold;font-size:17.3px" fill="#262626">200</text>
<text x="1224.33" y="375.9" text-anchor="middle" style="font-family:'Liberation Sans',sans-serif;font-weight:bold;font-size:17.3px" fill="#262626">250</text>
<text x="1305.13" y="375.9" text-anchor="middle" style="font-family:'Liberation Sans',sans-serif;font-weight:bold;font-size:17.3px" fill="#262626">300</text>
<text x="1385.94" y="375.9" text-anchor="middle" style="font-family:'Liberation Sans',sans-serif;font-weight:bold;font-size:17.3px" fill="#262626">350</text>
<text x="814" y="324.26" text-anchor="end" style="font-family:'Liberation Sans',sans-serif;font-weight:bold;font-size:17.3px" fill="#262626">-60</text>
<text x="814" y="284.32" text-anchor="end" style="font-family:'Liberation Sans',sans-serif;font-weight:bold;font-size:17.3px" fill="#262626">-40</text>
<text x="814" y="244.39" text-anchor="end" style="font-family:'Liberation Sans',sans-serif;font-weight:bold;font-size:17.3px" fill="#262626">-20</text>
<text x="814" y="204.45" text-anchor="end" style="font-family:'Liberation Sans',sans-serif;font-weight:bold;font-size:17.3px" fill="#262626">0</text>
<text x="814" y="164.51" text-anchor="end" style="font-family:'Liberation Sans',sans-serif;font-weight:bold;font-size:17.3px" fill="#262626">20</text>
<text x="814" y="124.58" text-anchor="end" style="font-family:'Liberation Sans',sans-serif;font-weight:bold;font-size:17.3px" fill="#262626">40</text>
<text x="814" y="84.64" text-anchor="end" style="font-family:'Liberation Sans',sans-serif;font-weight:bold;font-size:17.3px" fill="#262626">60</text>
<text x="1110.4" y="391.6" text-anchor="middle" style="font-family:'Liberation Sans',sans-serif;font-weight:bold;font-size:19.7px" fill="#262626">longitude</text>
<text x="0" y="0" transform="translate(789 198.25) rotate(-90)" text-anchor="middle" style="font-family:'Liberation Sans',sans-serif;font-weight:bold;font-size:20px" fill="#262626">latitude</text>
<rect x="1410" y="42.5" width="19.3" height="311.5" fill="url(#cbg)" stroke="#555" stroke-width="0.8"/>
<text x="1434.1" y="48.7" style="font-family:'Liberation Sans',sans-serif;font-weight:bold;font-size:17.3px" fill="#262626">3</text>
<text x="1434.1" y="100.62" style="font-family:'Liberation Sans',sans-serif;font-weight:bold;font-size:17.3px" fill="#262626">2</text>
<text x="1434.1" y="152.53" style="font-family:'Liberation Sans',sans-serif;font-weight:bold;font-size:17.3px" fill="#262626">1</text>
<text x="1434.1" y="204.45" style="font-family:'Liberation Sans',sans-serif;font-weight:bold;font-size:17.3px" fill="#262626">0</text>
<text x="1434.1" y="256.37" style="font-family:'Liberation Sans',sans-serif;font-weight:bold;font-size:17.3px" fill="#262626">-1</text>
<text x="1434.1" y="308.28" style="font-family:'Liberation Sans',sans-serif;font-weight:bold;font-size:17.3px" fill="#262626">-2</text>
<text x="1434.1" y="360.2" style="font-family:'Liberation Sans',sans-serif;font-weight:bold;font-size:17.3px" fill="#262626">-3</text>
<path d="M1429.3,94.42h-3.5M1429.3,146.33h-3.5M1429.3,198.25h-3.5M1429.3,250.17h-3.5M1429.3,302.08h-3.5" stroke="#333" stroke-width="0.8"/>
<text x="1409.5" y="378.7" style="font-family:'Liberation Sans',sans-serif;font-weight:bold;font-size:17.5px" fill="#1a1a1a">unit: °C</text>
<path d="M148.92,767v-5M148.92,457v5M231.83,767v-5M231.83,457v5M314.75,767v-5M314.75,457v5M397.67,767v-5M397.67,457v5M480.58,767v-5M480.58,457v5M563.5,767v-5M563.5,457v5M646.42,767v-5M646.42,457v5M66,731.23h5M663,731.23h-5M66,691.49h5M663,691.49h-5M66,651.74h5M663,651.74h-5M66,612h5M663,612h-5M66,572.26h5M663,572.26h-5M66,532.51h5M663,532.51h-5M66,492.77h5M663,492.77h-5" stroke="#444" stroke-width="0.9" fill="none"/>
<g transform="translate(66 457) scale(1.65833 1.98718) translate(0 78)"><g clip-path="url(#cp)">
<use href="#grid"/><g mask="url(#dm)"><use href="#f1"/></g><use href="#land"/>
</g></g>
<rect x="66" y="457" width="597" height="310" fill="none" stroke="#8a8a8a" stroke-width="1.2"/>
<text x="364.5" y="449.3" text-anchor="middle" style="font-family:'Liberation Serif',serif;font-weight:bold;font-size:21px" fill="#111">SSA-predict</text>
<text x="149.72" y="788.9" text-anchor="middle" style="font-family:'Liberation Sans',sans-serif;font-weight:bold;font-size:17.3px" fill="#262626">50</text>
<text x="232.63" y="788.9" text-anchor="middle" style="font-family:'Liberation Sans',sans-serif;font-weight:bold;font-size:17.3px" fill="#262626">100</text>
<text x="315.55" y="788.9" text-anchor="middle" style="font-family:'Liberation Sans',sans-serif;font-weight:bold;font-size:17.3px" fill="#262626">150</text>
<text x="398.47" y="788.9" text-anchor="middle" style="font-family:'Liberation Sans',sans-serif;font-weight:bold;font-size:17.3px" fill="#262626">200</text>
<text x="481.38" y="788.9" text-anchor="middle" style="font-family:'Liberation Sans',sans-serif;font-weight:bold;font-size:17.3px" fill="#262626">250</text>
<text x="564.3" y="788.9" text-anchor="middle" style="font-family:'Liberation Sans',sans-serif;font-weight:bold;font-size:17.3px" fill="#262626">300</text>
<text x="647.22" y="788.9" text-anchor="middle" style="font-family:'Liberation Sans',sans-serif;font-weight:bold;font-size:17.3px" fill="#262626">350</text>
<text x="60.5" y="737.43" text-anchor="end" style="font-family:'Liberation Sans',sans-serif;font-weight:bold;font-size:17.3px" fill="#262626">-60</text>
<text x="60.5" y="697.69" text-anchor="end" style="font-family:'Liberation Sans',sans-serif;font-weight:bold;font-size:17.3px" fill="#262626">-40</text>
<text x="60.5" y="657.94" text-anchor="end" style="font-family:'Liberation Sans',sans-serif;font-weight:bold;font-size:17.3px" fill="#262626">-20</text>
<text x="60.5" y="618.2" text-anchor="end" style="font-family:'Liberation Sans',sans-serif;font-weight:bold;font-size:17.3px" fill="#262626">0</text>
<text x="60.5" y="578.46" text-anchor="end" style="font-family:'Liberation Sans',sans-serif;font-weight:bold;font-size:17.3px" fill="#262626">20</text>
<text x="60.5" y="538.71" text-anchor="end" style="font-family:'Liberation Sans',sans-serif;font-weight:bold;font-size:17.3px" fill="#262626">40</text>
<text x="60.5" y="498.97" text-anchor="end" style="font-family:'Liberation Sans',sans-serif;font-weight:bold;font-size:17.3px" fill="#262626">60</text>
<text x="364.5" y="804.6" text-anchor="middle" style="font-family:'Liberation Sans',sans-serif;font-weight:bold;font-size:19.7px" fill="#262626">longitude</text>
<text x="0" y="0" transform="translate(35.5 612) rotate(-90)" text-anchor="middle" style="font-family:'Liberation Sans',sans-serif;font-weight:bold;font-size:20px" fill="#262626">latitude</text>
<path d="M905.04,767v-5M905.04,457v5M985.08,767v-5M985.08,457v5M1065.12,767v-5M1065.12,457v5M1145.17,767v-5M1145.17,457v5M1225.21,767v-5M1225.21,457v5M1305.25,767v-5M1305.25,457v5M1385.29,767v-5M1385.29,457v5M825,731.23h5M1401.3,731.23h-5M825,691.49h5M1401.3,691.49h-5M825,651.74h5M1401.3,651.74h-5M825,612h5M1401.3,612h-5M825,572.26h5M1401.3,572.26h-5M825,532.51h5M1401.3,532.51h-5M825,492.77h5M1401.3,492.77h-5" stroke="#444" stroke-width="0.9" fill="none"/>
<g transform="translate(825 457) scale(1.60083 1.98718) translate(0 78)"><g clip-path="url(#cp)">
<use href="#grid"/><g mask="url(#dm)"><use href="#f1"/></g><use href="#land"/>
</g></g>
<rect x="825" y="457" width="576.3" height="310" fill="none" stroke="#8a8a8a" stroke-width="1.2"/>
<text x="1113.15" y="449.3" text-anchor="middle" style="font-family:'Liberation Serif',serif;font-weight:bold;font-size:21px" fill="#111">SSA-argo</text>
<text x="905.84" y="788.9" text-anchor="middle" style="font-family:'Liberation Sans',sans-serif;font-weight:bold;font-size:17.3px" fill="#262626">50</text>
<text x="985.88" y="788.9" text-anchor="middle" style="font-family:'Liberation Sans',sans-serif;font-weight:bold;font-size:17.3px" fill="#262626">100</text>
<text x="1065.92" y="788.9" text-anchor="middle" style="font-family:'Liberation Sans',sans-serif;font-weight:bold;font-size:17.3px" fill="#262626">150</text>
<text x="1145.97" y="788.9" text-anchor="middle" style="font-family:'Liberation Sans',sans-serif;font-weight:bold;font-size:17.3px" fill="#262626">200</text>
<text x="1226.01" y="788.9" text-anchor="middle" style="font-family:'Liberation Sans',sans-serif;font-weight:bold;font-size:17.3px" fill="#262626">250</text>
<text x="1306.05" y="788.9" text-anchor="middle" style="font-family:'Liberation Sans',sans-serif;font-weight:bold;font-size:17.3px" fill="#262626">300</text>
<text x="1386.09" y="788.9" text-anchor="middle" style="font-family:'Liberation Sans',sans-serif;font-weight:bold;font-size:17.3px" fill="#262626">350</text>
<text x="819.5" y="737.43" text-anchor="end" style="font-family:'Liberation Sans',sans-serif;font-weight:bold;font-size:17.3px" fill="#262626">-60</text>
<text x="819.5" y="697.69" text-anchor="end" style="font-family:'Liberation Sans',sans-serif;font-weight:bold;font-size:17.3px" fill="#262626">-40</text>
<text x="819.5" y="657.94" text-anchor="end" style="font-family:'Liberation Sans',sans-serif;font-weight:bold;font-size:17.3px" fill="#262626">-20</text>
<text x="819.5" y="618.2" text-anchor="end" style="font-family:'Liberation Sans',sans-serif;font-weight:bold;font-size:17.3px" fill="#262626">0</text>
<text x="819.5" y="578.46" text-anchor="end" style="font-family:'Liberation Sans',sans-serif;font-weight:bold;font-size:17.3px" fill="#262626">20</text>
<text x="819.5" y="538.71" text-anchor="end" style="font-family:'Liberation Sans',sans-serif;font-weight:bold;font-size:17.3px" fill="#262626">40</text>
<text x="819.5" y="498.97" text-anchor="end" style="font-family:'Liberation Sans',sans-serif;font-weight:bold;font-size:17.3px" fill="#262626">60</text>
<text x="1113.15" y="804.6" text-anchor="middle" style="font-family:'Liberation Sans',sans-serif;font-weight:bold;font-size:19.7px" fill="#262626">longitude</text>
<text x="0" y="0" transform="translate(794.5 612) rotate(-90)" text-anchor="middle" style="font-family:'Liberation Sans',sans-serif;font-weight:bold;font-size:20px" fill="#262626">latitude</text>
<rect x="1411" y="457" width="18.8" height="310" fill="url(#cbg)" stroke="#555" stroke-width="0.8"/>
<text x="1434.6" y="463.2" style="font-family:'Liberation Sans',sans-serif;font-weight:bold;font-size:17.3px" fill="#262626">0.25</text>
<text x="1434.6" y="494.2" style="font-family:'Liberation Sans',sans-serif;font-weight:bold;font-size:17.3px" fill="#262626">0.2</text>
<text x="1434.6" y="525.2" style="font-family:'Liberation Sans',sans-serif;font-weight:bold;font-size:17.3px" fill="#262626">0.15</text>
<text x="1434.6" y="556.2" style="font-family:'Liberation Sans',sans-serif;font-weight:bold;font-size:17.3px" fill="#262626">0.1</text>
<text x="1434.6" y="587.2" style="font-family:'Liberation Sans',sans-serif;font-weight:bold;font-size:17.3px" fill="#262626">0.05</text>
<text x="1434.6" y="618.2" style="font-family:'Liberation Sans',sans-serif;font-weight:bold;font-size:17.3px" fill="#262626">0</text>
<text x="1434.6" y="649.2" style="font-family:'Liberation Sans',sans-serif;font-weight:bold;font-size:17.3px" fill="#262626">-0.05</text>
<text x="1434.6" y="680.2" style="font-family:'Liberation Sans',sans-serif;font-weight:bold;font-size:17.3px" fill="#262626">-0.1</text>
<text x="1434.6" y="711.2" style="font-family:'Liberation Sans',sans-serif;font-weight:bold;font-size:17.3px" fill="#262626">-0.15</text>
<text x="1434.6" y="742.2" style="font-family:'Liberation Sans',sans-serif;font-weight:bold;font-size:17.3px" fill="#262626">-0.2</text>
<text x="1434.6" y="773.2" style="font-family:'Liberation Sans',sans-serif;font-weight:bold;font-size:17.3px" fill="#262626">-0.25</text>
<path d="M1429.8,488h-3.5M1429.8,519h-3.5M1429.8,550h-3.5M1429.8,581h-3.5M1429.8,612h-3.5M1429.8,643h-3.5M1429.8,674h-3.5M1429.8,705h-3.5M1429.8,736h-3.5" stroke="#333" stroke-width="0.8"/>
<text x="1410.5" y="791.2" style="font-family:'Liberation Sans',sans-serif;font-weight:bold;font-size:17.5px" fill="#1a1a1a">unit: psu</text>
<path d="M148.65,1269v-5M148.65,956v5M230.81,1269v-5M230.81,956v5M312.96,1269v-5M312.96,956v5M395.11,1269v-5M395.11,956v5M477.26,1269v-5M477.26,956v5M559.42,1269v-5M559.42,956v5M641.57,1269v-5M641.57,956v5M66.5,1232.88h5M658,1232.88h-5M66.5,1192.76h5M658,1192.76h-5M66.5,1152.63h5M658,1152.63h-5M66.5,1112.5h5M658,1112.5h-5M66.5,1072.37h5M658,1072.37h-5M66.5,1032.24h5M658,1032.24h-5M66.5,992.12h5M658,992.12h-5" stroke="#444" stroke-width="0.9" fill="none"/>
<g transform="translate(66.5 956) scale(1.64306 2.00641) translate(0 78)"><g clip-path="url(#cp)">
<use href="#grid"/><g mask="url(#dm)"><use href="#f2"/></g><use href="#land"/>
</g></g>
<rect x="66.5" y="956" width="591.5" height="313" fill="none" stroke="#8a8a8a" stroke-width="1.2"/>
<text x="362.25" y="948.3" text-anchor="middle" style="font-family:'Liberation Serif',serif;font-weight:bold;font-size:21px" fill="#111">STA-predict</text>
<text x="149.45" y="1290.9" text-anchor="middle" style="font-family:'Liberation Sans',sans-serif;font-weight:bold;font-size:17.3px" fill="#262626">50</text>
<text x="231.61" y="1290.9" text-anchor="middle" style="font-family:'Liberation Sans',sans-serif;font-weight:bold;font-size:17.3px" fill="#262626">100</text>
<text x="313.76" y="1290.9" text-anchor="middle" style="font-family:'Liberation Sans',sans-serif;font-weight:bold;font-size:17.3px" fill="#262626">150</text>
<text x="395.91" y="1290.9" text-anchor="middle" style="font-family:'Liberation Sans',sans-serif;font-weight:bold;font-size:17.3px" fill="#262626">200</text>
<text x="478.06" y="1290.9" text-anchor="middle" style="font-family:'Liberation Sans',sans-serif;font-weight:bold;font-size:17.3px" fill="#262626">250</text>
<text x="560.22" y="1290.9" text-anchor="middle" style="font-family:'Liberation Sans',sans-serif;font-weight:bold;font-size:17.3px" fill="#262626">300</text>
<text x="642.37" y="1290.9" text-anchor="middle" style="font-family:'Liberation Sans',sans-serif;font-weight:bold;font-size:17.3px" fill="#262626">350</text>
<text x="61" y="1239.08" text-anchor="end" style="font-family:'Liberation Sans',sans-serif;font-weight:bold;font-size:17.3px" fill="#262626">-60</text>
<text x="61" y="1198.96" text-anchor="end" style="font-family:'Liberation Sans',sans-serif;font-weight:bold;font-size:17.3px" fill="#262626">-40</text>
<text x="61" y="1158.83" text-anchor="end" style="font-family:'Liberation Sans',sans-serif;font-weight:bold;font-size:17.3px" fill="#262626">-20</text>
<text x="61" y="1118.7" text-anchor="end" style="font-family:'Liberation Sans',sans-serif;font-weight:bold;font-size:17.3px" fill="#262626">0</text>
<text x="61" y="1078.57" text-anchor="end" style="font-family:'Liberation Sans',sans-serif;font-weight:bold;font-size:17.3px" fill="#262626">20</text>
<text x="61" y="1038.44" text-anchor="end" style="font-family:'Liberation Sans',sans-serif;font-weight:bold;font-size:17.3px" fill="#262626">40</text>
<text x="61" y="998.32" text-anchor="end" style="font-family:'Liberation Sans',sans-serif;font-weight:bold;font-size:17.3px" fill="#262626">60</text>
<text x="362.25" y="1306.6" text-anchor="middle" style="font-family:'Liberation Sans',sans-serif;font-weight:bold;font-size:19.7px" fill="#262626">longitude</text>
<text x="0" y="0" transform="translate(36 1112.5) rotate(-90)" text-anchor="middle" style="font-family:'Liberation Sans',sans-serif;font-weight:bold;font-size:20px" fill="#262626">latitude</text>
<path d="M900.58,1269v-5M900.58,956v5M980.36,1269v-5M980.36,956v5M1060.13,1269v-5M1060.13,956v5M1139.91,1269v-5M1139.91,956v5M1219.69,1269v-5M1219.69,956v5M1299.47,1269v-5M1299.47,956v5M1379.24,1269v-5M1379.24,956v5M820.8,1232.88h5M1395.2,1232.88h-5M820.8,1192.76h5M1395.2,1192.76h-5M820.8,1152.63h5M1395.2,1152.63h-5M820.8,1112.5h5M1395.2,1112.5h-5M820.8,1072.37h5M1395.2,1072.37h-5M820.8,1032.24h5M1395.2,1032.24h-5M820.8,992.12h5M1395.2,992.12h-5" stroke="#444" stroke-width="0.9" fill="none"/>
<g transform="translate(820.8 956) scale(1.59556 2.00641) translate(0 78)"><g clip-path="url(#cp)">
<use href="#grid"/><g mask="url(#dm)"><use href="#f2"/></g><use href="#land"/>
</g></g>
<rect x="820.8" y="956" width="574.4" height="313" fill="none" stroke="#8a8a8a" stroke-width="1.2"/>
<text x="1108" y="948.3" text-anchor="middle" style="font-family:'Liberation Serif',serif;font-weight:bold;font-size:21px" fill="#111">STA-argo</text>
<text x="901.38" y="1290.9" text-anchor="middle" style="font-family:'Liberation Sans',sans-serif;font-weight:bold;font-size:17.3px" fill="#262626">50</text>
<text x="981.16" y="1290.9" text-anchor="middle" style="font-family:'Liberation Sans',sans-serif;font-weight:bold;font-size:17.3px" fill="#262626">100</text>
<text x="1060.93" y="1290.9" text-anchor="middle" style="font-family:'Liberation Sans',sans-serif;font-weight:bold;font-size:17.3px" fill="#262626">150</text>
<text x="1140.71" y="1290.9" text-anchor="middle" style="font-family:'Liberation Sans',sans-serif;font-weight:bold;font-size:17.3px" fill="#262626">200</text>
<text x="1220.49" y="1290.9" text-anchor="middle" style="font-family:'Liberation Sans',sans-serif;font-weight:bold;font-size:17.3px" fill="#262626">250</text>
<text x="1300.27" y="1290.9" text-anchor="middle" style="font-family:'Liberation Sans',sans-serif;font-weight:bold;font-size:17.3px" fill="#262626">300</text>
<text x="1380.04" y="1290.9" text-anchor="middle" style="font-family:'Liberation Sans',sans-serif;font-weight:bold;font-size:17.3px" fill="#262626">350</text>
<text x="815.3" y="1239.08" text-anchor="end" style="font-family:'Liberation Sans',sans-serif;font-weight:bold;font-size:17.3px" fill="#262626">-60</text>
<text x="815.3" y="1198.96" text-anchor="end" style="font-family:'Liberation Sans',sans-serif;font-weight:bold;font-size:17.3px" fill="#262626">-40</text>
<text x="815.3" y="1158.83" text-anchor="end" style="font-family:'Liberation Sans',sans-serif;font-weight:bold;font-size:17.3px" fill="#262626">-20</text>
<text x="815.3" y="1118.7" text-anchor="end" style="font-family:'Liberation Sans',sans-serif;font-weight:bold;font-size:17.3px" fill="#262626">0</text>
<text x="815.3" y="1078.57" text-anchor="end" style="font-family:'Liberation Sans',sans-serif;font-weight:bold;font-size:17.3px" fill="#262626">20</text>
<text x="815.3" y="1038.44" text-anchor="end" style="font-family:'Liberation Sans',sans-serif;font-weight:bold;font-size:17.3px" fill="#262626">40</text>
<text x="815.3" y="998.32" text-anchor="end" style="font-family:'Liberation Sans',sans-serif;font-weight:bold;font-size:17.3px" fill="#262626">60</text>
<text x="1108" y="1306.6" text-anchor="middle" style="font-family:'Liberation Sans',sans-serif;font-weight:bold;font-size:19.7px" fill="#262626">longitude</text>
<text x="0" y="0" transform="translate(790.3 1112.5) rotate(-90)" text-anchor="middle" style="font-family:'Liberation Sans',sans-serif;font-weight:bold;font-size:20px" fill="#262626">latitude</text>
<rect x="1404.2" y="956" width="19.1" height="313" fill="url(#cbg)" stroke="#555" stroke-width="0.8"/>
<text x="1428.1" y="962.2" style="font-family:'Liberation Sans',sans-serif;font-weight:bold;font-size:17.3px" fill="#262626">3</text>
<text x="1428.1" y="1014.37" style="font-family:'Liberation Sans',sans-serif;font-weight:bold;font-size:17.3px" fill="#262626">2</text>
<text x="1428.1" y="1066.53" style="font-family:'Liberation Sans',sans-serif;font-weight:bold;font-size:17.3px" fill="#262626">1</text>
<text x="1428.1" y="1118.7" style="font-family:'Liberation Sans',sans-serif;font-weight:bold;font-size:17.3px" fill="#262626">0</text>
<text x="1428.1" y="1170.87" style="font-family:'Liberation Sans',sans-serif;font-weight:bold;font-size:17.3px" fill="#262626">-1</text>
<text x="1428.1" y="1223.03" style="font-family:'Liberation Sans',sans-serif;font-weight:bold;font-size:17.3px" fill="#262626">-2</text>
<text x="1428.1" y="1275.2" style="font-family:'Liberation Sans',sans-serif;font-weight:bold;font-size:17.3px" fill="#262626">-3</text>
<path d="M1423.3,1008.17h-3.5M1423.3,1060.33h-3.5M1423.3,1112.5h-3.5M1423.3,1164.67h-3.5M1423.3,1216.83h-3.5" stroke="#333" stroke-width="0.8"/>
<text x="1403.7" y="1292.3" style="font-family:'Liberation Sans',sans-serif;font-weight:bold;font-size:17.5px" fill="#1a1a1a">unit: °C</text>
<path d="M147.53,1680v-5M147.53,1370.4v5M229.06,1680v-5M229.06,1370.4v5M310.58,1680v-5M310.58,1370.4v5M392.11,1680v-5M392.11,1370.4v5M473.64,1680v-5M473.64,1370.4v5M555.17,1680v-5M555.17,1370.4v5M636.69,1680v-5M636.69,1370.4v5M66,1644.28h5M653,1644.28h-5M66,1604.58h5M653,1604.58h-5M66,1564.89h5M653,1564.89h-5M66,1525.2h5M653,1525.2h-5M66,1485.51h5M653,1485.51h-5M66,1445.82h5M653,1445.82h-5M66,1406.12h5M653,1406.12h-5" stroke="#444" stroke-width="0.9" fill="none"/>
<g transform="translate(66 1370.4) scale(1.63056 1.98462) translate(0 78)"><g clip-path="url(#cp)">
<use href="#grid"/><g mask="url(#dm)"><use href="#f3"/></g><use href="#land"/>
</g></g>
<rect x="66" y="1370.4" width="587" height="309.6" fill="none" stroke="#8a8a8a" stroke-width="1.2"/>
<text x="359.5" y="1362.7" text-anchor="middle" style="font-family:'Liberation Serif',serif;font-weight:bold;font-size:21px" fill="#111">SSA-predict</text>
<text x="148.33" y="1701.9" text-anchor="middle" style="font-family:'Liberation Sans',sans-serif;font-weight:bold;font-size:17.3px" fill="#262626">50</text>
<text x="229.86" y="1701.9" text-anchor="middle" style="font-family:'Liberation Sans',sans-serif;font-weight:bold;font-size:17.3px" fill="#262626">100</text>
<text x="311.38" y="1701.9" text-anchor="middle" style="font-family:'Liberation Sans',sans-serif;font-weight:bold;font-size:17.3px" fill="#262626">150</text>
<text x="392.91" y="1701.9" text-anchor="middle" style="font-family:'Liberation Sans',sans-serif;font-weight:bold;font-size:17.3px" fill="#262626">200</text>
<text x="474.44" y="1701.9" text-anchor="middle" style="font-family:'Liberation Sans',sans-serif;font-weight:bold;font-size:17.3px" fill="#262626">250</text>
<text x="555.97" y="1701.9" text-anchor="middle" style="font-family:'Liberation Sans',sans-serif;font-weight:bold;font-size:17.3px" fill="#262626">300</text>
<text x="637.49" y="1701.9" text-anchor="middle" style="font-family:'Liberation Sans',sans-serif;font-weight:bold;font-size:17.3px" fill="#262626">350</text>
<text x="60.5" y="1650.48" text-anchor="end" style="font-family:'Liberation Sans',sans-serif;font-weight:bold;font-size:17.3px" fill="#262626">-60</text>
<text x="60.5" y="1610.78" text-anchor="end" style="font-family:'Liberation Sans',sans-serif;font-weight:bold;font-size:17.3px" fill="#262626">-40</text>
<text x="60.5" y="1571.09" text-anchor="end" style="font-family:'Liberation Sans',sans-serif;font-weight:bold;font-size:17.3px" fill="#262626">-20</text>
<text x="60.5" y="1531.4" text-anchor="end" style="font-family:'Liberation Sans',sans-serif;font-weight:bold;font-size:17.3px" fill="#262626">0</text>
<text x="60.5" y="1491.71" text-anchor="end" style="font-family:'Liberation Sans',sans-serif;font-weight:bold;font-size:17.3px" fill="#262626">20</text>
<text x="60.5" y="1452.02" text-anchor="end" style="font-family:'Liberation Sans',sans-serif;font-weight:bold;font-size:17.3px" fill="#262626">40</text>
<text x="60.5" y="1412.32" text-anchor="end" style="font-family:'Liberation Sans',sans-serif;font-weight:bold;font-size:17.3px" fill="#262626">60</text>
<text x="359.5" y="1717.6" text-anchor="middle" style="font-family:'Liberation Sans',sans-serif;font-weight:bold;font-size:19.7px" fill="#262626">longitude</text>
<text x="0" y="0" transform="translate(35.5 1525.2) rotate(-90)" text-anchor="middle" style="font-family:'Liberation Sans',sans-serif;font-weight:bold;font-size:20px" fill="#262626">latitude</text>
<path d="M896.08,1680v-5M896.08,1370.4v5M976.17,1680v-5M976.17,1370.4v5M1056.25,1680v-5M1056.25,1370.4v5M1136.33,1680v-5M1136.33,1370.4v5M1216.42,1680v-5M1216.42,1370.4v5M1296.5,1680v-5M1296.5,1370.4v5M1376.58,1680v-5M1376.58,1370.4v5M816,1644.28h5M1392.6,1644.28h-5M816,1604.58h5M1392.6,1604.58h-5M816,1564.89h5M1392.6,1564.89h-5M816,1525.2h5M1392.6,1525.2h-5M816,1485.51h5M1392.6,1485.51h-5M816,1445.82h5M1392.6,1445.82h-5M816,1406.12h5M1392.6,1406.12h-5" stroke="#444" stroke-width="0.9" fill="none"/>
<g transform="translate(816 1370.4) scale(1.60167 1.98462) translate(0 78)"><g clip-path="url(#cp)">
<use href="#grid"/><g mask="url(#dm)"><use href="#f3"/></g><use href="#land"/>
</g></g>
<rect x="816" y="1370.4" width="576.6" height="309.6" fill="none" stroke="#8a8a8a" stroke-width="1.2"/>
<text x="1104.3" y="1362.7" text-anchor="middle" style="font-family:'Liberation Serif',serif;font-weight:bold;font-size:21px" fill="#111">SSA-argo</text>
<text x="896.88" y="1701.9" text-anchor="middle" style="font-family:'Liberation Sans',sans-serif;font-weight:bold;font-size:17.3px" fill="#262626">50</text>
<text x="976.97" y="1701.9" text-anchor="middle" style="font-family:'Liberation Sans',sans-serif;font-weight:bold;font-size:17.3px" fill="#262626">100</text>
<text x="1057.05" y="1701.9" text-anchor="middle" style="font-family:'Liberation Sans',sans-serif;font-weight:bold;font-size:17.3px" fill="#262626">150</text>
<text x="1137.13" y="1701.9" text-anchor="middle" style="font-family:'Liberation Sans',sans-serif;font-weight:bold;font-size:17.3px" fill="#262626">200</text>
<text x="1217.22" y="1701.9" text-anchor="middle" style="font-family:'Liberation Sans',sans-serif;font-weight:bold;font-size:17.3px" fill="#262626">250</text>
<text x="1297.3" y="1701.9" text-anchor="middle" style="font-family:'Liberation Sans',sans-serif;font-weight:bold;font-size:17.3px" fill="#262626">300</text>
<text x="1377.38" y="1701.9" text-anchor="middle" style="font-family:'Liberation Sans',sans-serif;font-weight:bold;font-size:17.3px" fill="#262626">350</text>
<text x="810.5" y="1650.48" text-anchor="end" style="font-family:'Liberation Sans',sans-serif;font-weight:bold;font-size:17.3px" fill="#262626">-60</text>
<text x="810.5" y="1610.78" text-anchor="end" style="font-family:'Liberation Sans',sans-serif;font-weight:bold;font-size:17.3px" fill="#262626">-40</text>
<text x="810.5" y="1571.09" text-anchor="end" style="font-family:'Liberation Sans',sans-serif;font-weight:bold;font-size:17.3px" fill="#262626">-20</text>
<text x="810.5" y="1531.4" text-anchor="end" style="font-family:'Liberation Sans',sans-serif;font-weight:bold;font-size:17.3px" fill="#262626">0</text>
<text x="810.5" y="1491.71" text-anchor="end" style="font-family:'Liberation Sans',sans-serif;font-weight:bold;font-size:17.3px" fill="#262626">20</text>
<text x="810.5" y="1452.02" text-anchor="end" style="font-family:'Liberation Sans',sans-serif;font-weight:bold;font-size:17.3px" fill="#262626">40</text>
<text x="810.5" y="1412.32" text-anchor="end" style="font-family:'Liberation Sans',sans-serif;font-weight:bold;font-size:17.3px" fill="#262626">60</text>
<text x="1104.3" y="1717.6" text-anchor="middle" style="font-family:'Liberation Sans',sans-serif;font-weight:bold;font-size:19.7px" fill="#262626">longitude</text>
<text x="0" y="0" transform="translate(785.5 1525.2) rotate(-90)" text-anchor="middle" style="font-family:'Liberation Sans',sans-serif;font-weight:bold;font-size:20px" fill="#262626">latitude</text>
<rect x="1401.8" y="1370.4" width="18.8" height="309.6" fill="url(#cbg)" stroke="#555" stroke-width="0.8"/>
<text x="1425.4" y="1376.6" style="font-family:'Liberation Sans',sans-serif;font-weight:bold;font-size:17.3px" fill="#262626">0.25</text>
<text x="1425.4" y="1407.56" style="font-family:'Liberation Sans',sans-serif;font-weight:bold;font-size:17.3px" fill="#262626">0.2</text>
<text x="1425.4" y="1438.52" style="font-family:'Liberation Sans',sans-serif;font-weight:bold;font-size:17.3px" fill="#262626">0.15</text>
<text x="1425.4" y="1469.48" style="font-family:'Liberation Sans',sans-serif;font-weight:bold;font-size:17.3px" fill="#262626">0.1</text>
<text x="1425.4" y="1500.44" style="font-family:'Liberation Sans',sans-serif;font-weight:bold;font-size:17.3px" fill="#262626">0.05</text>
<text x="1425.4" y="1531.4" style="font-family:'Liberation Sans',sans-serif;font-weight:bold;font-size:17.3px" fill="#262626">0</text>
<text x="1425.4" y="1562.36" style="font-family:'Liberation Sans',sans-serif;font-weight:bold;font-size:17.3px" fill="#262626">-0.05</text>
<text x="1425.4" y="1593.32" style="font-family:'Liberation Sans',sans-serif;font-weight:bold;font-size:17.3px" fill="#262626">-0.1</text>
<text x="1425.4" y="1624.28" style="font-family:'Liberation Sans',sans-serif;font-weight:bold;font-size:17.3px" fill="#262626">-0.15</text>
<text x="1425.4" y="1655.24" style="font-family:'Liberation Sans',sans-serif;font-weight:bold;font-size:17.3px" fill="#262626">-0.2</text>
<text x="1425.4" y="1686.2" style="font-family:'Liberation Sans',sans-serif;font-weight:bold;font-size:17.3px" fill="#262626">-0.25</text>
<path d="M1420.6,1401.36h-3.5M1420.6,1432.32h-3.5M1420.6,1463.28h-3.5M1420.6,1494.24h-3.5M1420.6,1525.2h-3.5M1420.6,1556.16h-3.5M1420.6,1587.12h-3.5M1420.6,1618.08h-3.5M1420.6,1649.04h-3.5" stroke="#333" stroke-width="0.8"/>
<text x="1401.3" y="1701.8" style="font-family:'Liberation Sans',sans-serif;font-weight:bold;font-size:17.5px" fill="#1a1a1a">unit: psu</text>
<text x="710.3" y="862" text-anchor="middle" style="font-family:'Liberation Serif',serif;font-size:29px" fill="#000">(<tspan font-weight="bold">A</tspan>)</text>
<text x="710.3" y="1776.3" text-anchor="middle" style="font-family:'Liberation Serif',serif;font-size:29px" fill="#000">(<tspan font-weight="bold">B</tspan>)</text>
</svg></body></html>
